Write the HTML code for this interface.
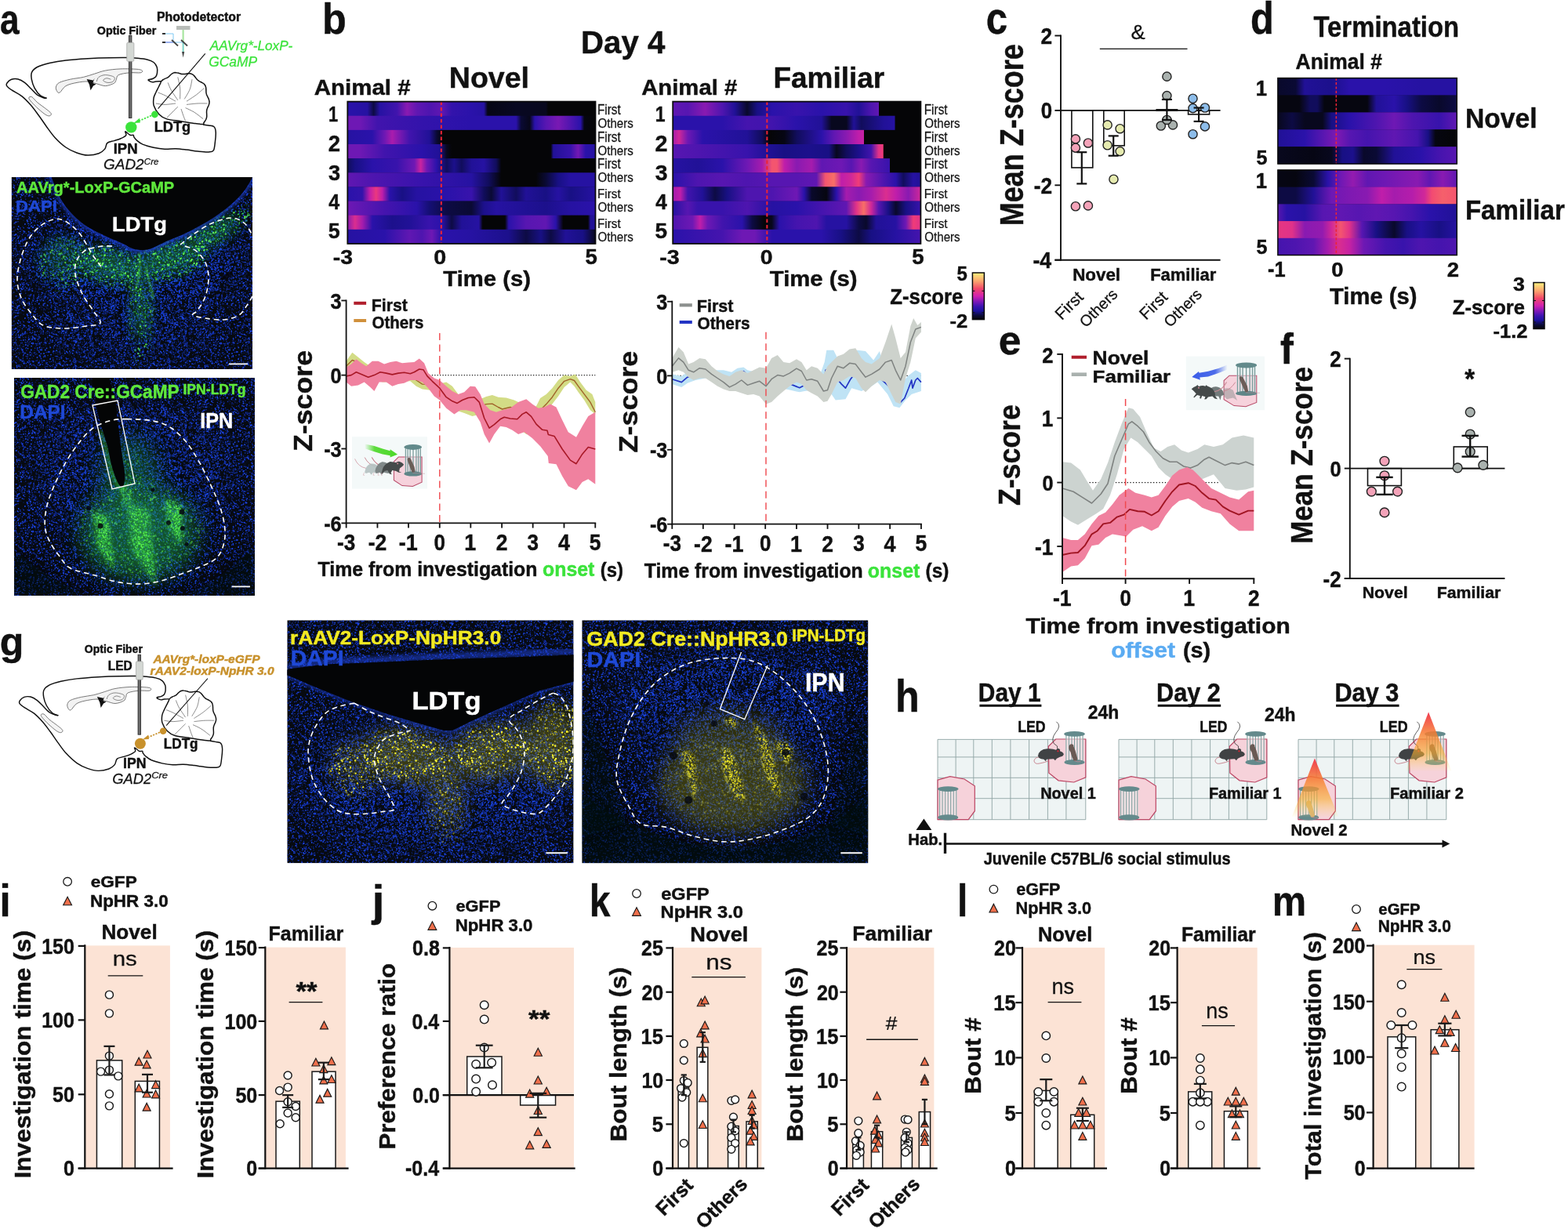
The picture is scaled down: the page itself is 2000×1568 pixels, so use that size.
<!DOCTYPE html>
<html lang="en"><head><meta charset="utf-8"><title>Figure</title>
<style>
html,body{margin:0;padding:0;background:#fff;}
svg{display:block;}
text{font-family:"Liberation Sans",sans-serif;}
</style></head><body>
<svg xmlns="http://www.w3.org/2000/svg" width="2000" height="1568" viewBox="0 0 2000 1568">
<defs>
<pattern id="pB" width="120" height="120" patternUnits="userSpaceOnUse"><path d="M16.1 101.7h0M91.7 30.6h0M59.5 53.9h0M78.2 94.6h0M11.3 3.4h0M100.3 51.9h0M91.5 0.3h0M53.4 86.6h0M27.5 113.4h0M108.2 3.7h0M3.1 65h0M112.7 45.7h0M26 50.7h0M3.5 26.6h0M52.5 59.5h0M28 27.7h0M26.3 55.2h0M34.8 2.6h0M100.5 66.8h0M77.1 22.3h0M119.1 103.2h0M14.5 39.9h0M86.6 85.3h0M112.4 50.7h0M99.6 80.4h0M36.4 70.5h0M105.9 101.5h0M60.6 70.7h0M4.1 29.1h0M95.7 49.7h0M20.8 65.9h0M84.4 80.9h0M45 52.7h0M61 93.4h0M62.5 47.2h0M58.8 3.5h0M5.2 84.4h0M118 71.2h0M47.2 20.4h0M60.3 117.8h0M92.5 64.8h0M103.2 27.9h0M61.7 114.3h0M69.3 55.1h0M32.3 65.8h0M114.9 0.7h0M94 98.5h0M106.3 88.9h0M97.1 62.2h0M67.4 51.1h0M6.7 104.4h0M68.4 24h0M60.6 58.2h0M42.8 41.5h0M64.6 74.8h0M73.5 55h0M3.4 27.6h0M21.3 70.1h0M103.3 95.8h0M95.7 98h0M30.6 101h0M80.8 10h0M2 1.7h0M90.7 29.9h0M13.1 75h0M41.3 8.3h0M19.2 63.3h0M20.2 32.7h0M85.4 54.6h0M38.6 56.9h0M2.8 46.4h0M50.5 22.6h0M13.1 108h0M61.2 25.1h0M72.7 98h0M2.5 2.1h0M17.6 86.3h0M19.2 84.6h0M81.4 65.4h0M26.5 117.1h0M95.7 62h0M26.8 77.8h0M47.4 69.1h0M38.5 75.7h0M7.1 35.8h0M116.1 105.1h0M36.8 103h0M37.2 112.7h0M89.3 49.9h0M30.3 1h0M105.4 4.5h0M98.3 115.5h0M68.4 20.6h0M104.1 116.9h0M84.5 61.1h0M45.4 41.6h0M24.7 80.9h0M52 23.3h0M12.5 79.9h0M35.5 60h0M39 104.6h0M108 2.2h0M24.1 39.3h0M118.4 93.9h0M40.7 25.6h0M80.9 100.5h0M111.9 41.3h0M105.9 82.5h0M58.1 118.3h0M28.2 87.1h0M10.2 20.4h0M109.3 25.6h0M91.1 72h0M100.9 44.2h0M40.8 34.9h0M104.1 72.5h0M114.5 106.5h0M16.2 66.1h0M12.5 4.7h0M8.8 103.9h0M94.6 99.4h0M40.9 73.8h0M93.8 45.4h0M68.5 26.8h0M9.8 32h0M106.9 67.7h0M111 54.9h0M33.3 94.4h0M99.3 1.5h0M80.4 11h0M13.8 106.2h0M4.8 28.8h0M118.6 50.5h0M13.9 20.1h0M29 89.3h0M12.3 109.3h0M45.4 116.4h0M109.1 35.3h0M30.4 57.2h0M12 78.2h0M4.8 1.3h0M117.9 35.5h0M71.6 54h0M37.6 7.6h0M109.6 116.4h0M116.4 13.4h0M25.8 74.1h0M117.6 65.1h0M82.6 79.4h0M31.1 65h0M36.9 29.6h0M9.8 33.7h0M118 53.7h0M78.2 77.2h0M112.9 46.9h0M36.8 39.3h0M38 101.7h0M107.2 36.3h0M40.1 65.3h0M69.5 71.5h0M29.4 2.4h0M29.3 8.7h0M66.1 8.5h0M9 76.2h0M34.9 95.1h0M59.2 103.5h0M18.5 60.2h0M95.4 9.3h0M113.9 20.8h0M93.1 118.2h0M98.6 38.4h0M12.8 61.7h0M110.3 35.2h0M107.3 17h0M109.3 3.8h0M37.9 108.4h0M96.5 108.9h0M100.9 89.5h0M82.8 21.4h0M51.9 18.9h0M85.8 80.1h0M30.3 7.7h0M115.6 97h0M65.9 65h0M102.2 54.4h0M47.5 40.6h0M31 2.9h0M77.6 50h0M68.5 7.5h0M42.6 16.6h0M15 31.1h0M99.5 47.7h0M48.1 73.5h0M28 0.9h0M63.4 60.1h0M77.9 52.6h0M82.4 87.8h0M28.6 59.4h0M57.5 27h0M49.5 67.2h0M108.8 110.1h0M33 77.6h0M5.8 8.6h0M61.4 105.3h0M19.1 91.9h0M106 37.4h0M83.1 101.9h0M44.6 84.2h0M88.4 71.3h0M102.8 107.6h0M115.2 68.5h0M21.2 30.1h0M26.1 68.3h0M90.9 6.3h0M81.8 86.1h0M41.8 61.8h0M19.8 87.6h0M4.9 117.7h0M97 75.4h0M32.1 109.5h0M115.1 16.7h0M93.1 101h0M79.2 84h0M53.4 110.9h0M116.5 45.9h0M96.3 52h0M19.8 39.1h0M15.2 109.1h0M115.1 14.3h0M72.1 49h0M14.2 35.5h0M29.8 89.9h0M0.5 22.8h0M52.7 2.5h0M75.3 72.7h0M100.2 24.8h0M34.2 65.1h0M32.8 70.3h0M30.1 82h0M94.9 97h0M116.8 65.4h0M58.9 102.7h0M92.3 68.5h0M46 34.1h0M13 96.9h0M14.2 89.7h0M65.4 115.8h0M91.3 116.8h0M16.4 60h0M68.7 37.4h0M60.4 42.8h0M63.4 0.1h0M53.1 53.9h0M36.6 47.9h0M94 82h0M59.1 77.7h0M45.3 24.5h0M0.5 33.3h0M71.8 105.8h0M99.5 61.3h0M118.4 55.4h0M100.2 49.1h0M89.4 118.5h0M36.6 20.4h0M74.4 63.7h0M43.1 0.4h0M46.7 51.1h0M48.6 103.3h0M70.1 88.1h0M107.7 89.9h0M59.1 89.5h0M76.8 77.8h0M75.6 48.8h0M75.5 76h0M112.5 93.9h0M101.6 92.1h0M97.8 72.7h0M41.9 31.7h0M85 104.9h0M65.3 18.2h0M100 58.1h0M56.1 5.4h0M61.2 89.4h0M50.7 42.6h0M78.8 2.4h0M60.9 113.5h0M82.9 48.2h0M82.7 72.6h0M25.1 24.9h0M106.3 32.3h0M9 99.7h0M62.8 44.2h0M61.4 88.4h0M20.2 78.4h0M85.6 97.8h0M32.4 73.2h0M27.9 67.3h0M20.7 94.8h0M104 39.6h0M26.7 115.7h0M84.8 101.3h0M3.7 107.9h0M74.7 38h0M51.8 91.4h0M94.2 22.8h0M75.1 19.9h0M116.8 53.2h0M109.6 87.4h0M72.8 31.4h0M63.2 16.6h0M16.6 85.9h0M43.3 90.2h0M28.9 86.2h0M86.2 36.7h0M12.8 47.6h0M59.1 12h0M22.4 6.6h0M71.7 106.7h0M26 4.2h0M84.5 97.8h0M115.7 73.6h0M41.1 100.5h0M14.2 83.1h0M11.4 48h0M59.4 45.3h0M20.2 27.8h0M98.4 55.5h0M69.6 25.4h0M85.8 39.6h0M71.2 109.1h0M119.3 5.5h0M95.7 102.9h0M38.3 46h0M69.6 110.3h0M48 105.6h0M91 18.3h0M109.6 1.8h0M17.4 79.8h0M6.9 45.5h0M15.6 55.5h0M100.8 108.7h0M4.3 7.3h0M100.9 5.1h0M32.8 14.1h0M10.9 3.3h0M76.5 89.4h0M82.4 101.5h0M79.6 46.8h0M75.7 116.4h0M77 29.2h0M7.2 112.2h0M70.9 42h0M72.6 67.2h0M62.7 7.3h0M42.4 49.5h0M23.9 105.6h0M50.9 79.5h0M85.6 89.2h0M86.5 90.3h0M30.2 117.2h0M18.1 110.2h0M102.5 102.3h0M6.3 10.9h0M97.6 56.3h0M44.4 118.2h0M4.8 63.8h0M53.2 15.4h0M47.4 84.9h0M105.9 3h0M62.9 10.8h0M96 10.3h0M4.1 46.1h0M87.9 37.6h0M15.6 95.3h0M96.8 102.7h0M36.4 51h0M29.4 66.9h0M39.6 40.6h0M94 114.8h0M70.1 12.6h0M78.3 53.8h0M118.6 86.3h0M100.2 84.2h0M64.3 107.6h0M99.8 35h0M18.8 44.4h0M62.5 11.7h0M41.4 69h0M5.2 97.8h0M78.1 37.6h0M35.8 42.3h0M39 89.8h0M60.1 63.1h0M17.9 109.7h0M39.1 39.3h0M8.3 117.5h0M57.6 109.5h0M111.3 116.4h0M97.9 111.1h0M110.7 96.2h0M16.1 62.8h0M69.1 119.1h0M94.1 84.3h0M89.6 43.4h0M113.1 77.2h0M48.3 55.7h0M117.6 63.9h0M20.1 17.8h0M82.5 67.5h0M108.8 22.2h0M49.3 87.4h0M6 11.9h0M65.5 31.9h0M12.8 31.4h0M75.9 63.2h0M9.4 8.7h0M102.1 77.2h0M20.8 103.4h0M2.6 44.2h0M101.7 85.2h0M34.1 107h0M71.8 103.9h0M107.1 51.1h0M81.1 65.3h0M113.4 95.8h0M87.1 97.7h0M119.8 30.8h0M24.2 89.6h0M92.4 61.7h0M58.4 48.4h0M105.9 95.5h0M70.2 4.8h0M102.1 55h0M22.8 35.9h0M83 0.7h0M14.4 36.3h0M106.5 89.6h0M116.5 65.2h0M68.6 66.2h0M63.1 65h0M98.2 114.4h0M49 75.6h0M36.9 36.2h0M60.8 70.4h0M66 117.2h0M19.6 76.4h0M119.3 88.3h0M67.9 44.2h0M48.3 112.4h0M107.4 80.4h0M107.8 111h0M101.6 46h0M55.7 95.5h0M44.7 89.9h0M57.8 40.4h0M54.7 14h0M42.5 49.8h0M2.2 20.6h0M31.2 102.9h0M70.7 34.5h0M119.7 31h0M61.7 88.7h0M83 52h0M93.2 58.3h0M85.9 59h0M116.6 85.9h0M11 15.5h0M116 27.5h0M3.1 30.4h0M57.6 114.3h0M47.9 86.8h0M100.1 10.7h0M73.4 119.5h0M66 64.1h0M41.6 113.5h0M116.4 12.4h0M66.3 50.4h0M80.6 14.2h0M31.8 33.5h0M57.6 95.2h0M102.9 94.4h0M81.2 10.5h0M46.8 80.2h0M35.3 60.9h0M108.6 13.9h0M102.5 12.7h0M46.4 108.6h0M24.1 62.5h0M50 106.6h0M119 34.6h0M59.1 107.4h0M65.4 25.8h0M91.2 40.5h0M58.3 1h0M118.7 78.9h0M111.1 116.2h0M32.1 64.9h0M52.8 91.2h0M101.1 27.4h0M32.9 84.8h0M49.4 15.6h0M23.4 67.3h0M71.8 115.2h0M63.9 73.1h0M17.9 49.7h0M33.6 83.5h0M32 25.7h0M44.1 56.5h0M40.6 72.7h0M21.7 105.6h0M83.3 64.2h0M7 39.1h0M82.8 77.4h0M97.4 107h0M37.8 59.2h0M39.6 15.4h0M16.8 30.8h0M10.6 64.7h0M84.4 67.6h0M82.2 27.1h0M23.9 68.1h0M106.1 50.7h0M0.5 2.4h0M36.6 73.8h0M10.1 26.9h0M81.7 118.2h0M40.9 72.1h0M62.2 2.8h0M39.6 16.7h0M30.1 92.4h0M81.7 4.9h0M9.3 87h0M12.4 38h0M32.3 6h0M3.7 16.7h0M47.9 112h0M76.6 29h0M81.6 32.8h0M61.8 38.6h0M113.8 42.3h0M96.4 76.9h0M101.2 72.7h0M104.4 48.6h0M81.5 74.5h0M63.3 67.7h0M64.3 47.3h0M107.8 75.9h0M65.9 6.5h0M61 21h0M25.8 52.2h0M65.5 30h0M32.5 63.6h0M56.8 48.4h0M12.5 44.8h0M78.5 65.3h0M65.4 101.3h0M86.8 82.2h0M3.6 37h0M81.9 18.7h0M109.6 17h0M105.5 26h0M101 101.8h0M40.3 106.6h0M19.2 101.9h0M45.8 52.8h0M14.1 72.1h0M32.4 80h0M95.9 72.4h0M1 114.3h0M110.4 77.2h0M45.5 67.4h0M105.9 55.1h0M93.5 71.8h0M50.7 112h0M49 72.7h0M6.4 56.5h0M4.5 84.5h0M0.1 5h0M13.3 16.7h0M61 42.8h0M32.5 118h0M109.1 78.6h0M96.3 98.4h0M29.4 97h0M28.8 67.5h0M42.9 19h0M93.2 110h0M37.6 105.6h0M41.6 78.9h0M119.5 92.6h0M6.7 52.2h0M45.2 35.3h0M97.9 52.9h0M83.9 76.2h0M62.3 6.7h0M80.8 107h0M20.7 77.1h0M58.5 40.9h0M85.3 117h0M2.6 107.7h0M46 100.1h0M21 86h0M12 40.3h0M116.4 78.8h0M94.1 55.4h0M56.5 59.1h0M92.8 86.8h0M23.3 52.9h0M65 68.6h0M111.2 100.8h0M18 45.1h0M13.1 3.1h0M9 22h0M91.9 80.1h0M95.7 34.6h0M18.7 116.7h0M99.1 113.6h0M2.3 47.6h0M76.1 88.3h0M109.5 64.5h0M46.9 0.6h0M96.5 117.9h0M108.9 79.5h0M41.1 28.7h0M93 112.3h0M115.2 21.1h0M70.2 61.6h0M51.3 95.3h0M112.3 87h0M84 82.9h0M78.4 64.4h0M29.7 93.5h0M14.3 77.3h0M46.4 67.2h0M77 57.5h0M117.4 28.7h0M1.5 114.6h0M37.4 33.4h0M49.9 71.4h0M118.3 84.9h0M38.2 64.2h0M53.8 60.2h0M50.1 20.1h0M47.5 46.7h0M24.1 98h0M43.2 18.2h0M68 101.4h0M93.7 74.6h0M87.7 40.3h0M17.1 30.6h0M41.9 33.5h0M56.1 17.9h0M15.6 30.3h0M23.6 96.2h0M64.5 23.8h0M51.5 104.6h0M69.3 66.5h0M47 23.5h0M75 9.3h0M94.3 6.9h0M89.6 45.9h0M81.9 70.9h0M15.5 64.6h0M8.9 28.9h0M45.8 34.3h0M79.4 118.4h0M42.8 100.6h0M27 85.1h0M41.7 64.2h0M10.6 99.3h0M25.1 55.6h0M34.8 97.2h0M71.1 73.8h0M90.6 30.6h0M7 99.4h0M37.9 97.5h0M114.8 75.5h0M12.4 102.5h0M76 29.5h0M24.9 60.9h0M14.6 108.7h0M84.9 98.3h0M46.1 110.8h0M16.1 86h0M30.6 0.4h0M14.5 24.2h0M91.6 45.4h0M57.8 73.6h0M32.1 76.6h0M80.6 110.6h0M60.3 102.6h0M116.1 92.3h0M50.5 32.6h0M11.7 99.7h0M15.6 67.1h0M54.5 5.4h0M25.7 98.7h0M64.6 110.9h0M109 11.3h0M81.4 5.1h0M50.7 53h0M114.8 71.4h0M22.8 61.2h0M62.6 23.6h0M43.2 105.3h0M117.8 93.2h0M7.7 108.7h0M55 100.1h0M21.2 17.7h0M108.8 34.3h0M5.2 60.1h0M118.9 100.3h0M47.6 119.2h0M95.6 101h0M77.5 47.3h0M108.7 56.5h0M112.2 66.3h0M109.2 57.3h0M51.2 70.6h0M38.1 17.9h0M70.7 102.1h0M33.3 103.8h0M94.5 93.1h0M49.8 119.9h0M94.9 69.1h0M13.6 68.9h0M1.7 108.3h0M40.4 44.2h0M66.1 76.5h0M69.9 58.2h0M76.1 101.7h0M53.5 60h0M97.2 0.4h0M19.3 39h0M25.7 107.5h0M17.8 12.9h0M38.1 61h0M98.6 119.5h0M102.2 73.1h0M4.5 7.6h0M75.7 98.4h0M31.9 116.3h0M66 68.9h0M74.2 9h0M20.4 112.3h0M32.1 10h0M33.9 87.1h0M31.5 25.3h0M33.3 57.7h0M88.5 36.2h0M104.8 117.1h0M98.6 9h0M37.9 111.1h0M103.1 16h0M53.1 43.7h0M89.7 3.4h0M37.9 90h0M106.4 4.9h0M70.6 79.6h0M104.8 50.9h0M116.8 23.7h0M13.8 15.6h0M70.4 14.7h0M32 23.6h0M6.6 115.5h0M40.2 115.7h0M86.8 26.4h0M111.9 1.1h0M117.8 3.9h0M30.4 66.2h0M1.1 91.8h0M10.2 98.1h0M4.2 63.4h0M25.1 34.7h0M58.9 44.6h0M47 78.4h0M23.4 21.8h0M82.1 35.6h0M112 51.1h0M56.9 2.8h0M2.5 12.6h0M75.1 79.7h0M114.3 51.9h0M84.9 41.2h0M8.9 50.4h0M84.2 96.5h0M114.2 99.9h0M67.6 66h0M60.1 57.3h0M81.7 69.1h0M102.9 54h0M56.5 99.8h0M81.1 62.9h0M67.6 96.7h0M72.9 31.1h0M37.2 72.6h0M5.5 54.9h0M107 27.9h0M53.3 83.9h0M111.1 83.6h0M75.1 46.1h0M52.5 77h0M42.8 94.2h0M1 90.2h0M89 36.8h0M1.8 40.6h0M70.7 94.4h0M104.4 25h0M9.8 14.4h0M118.7 77.5h0M15.4 82.9h0M115.1 72.9h0M27.9 115.5h0M84.1 22h0M91.9 60.5h0M68.9 43.9h0M35.3 50.5h0M63.2 55.4h0M104 8.9h0M23.9 112.5h0M72.9 74.1h0M75.6 29.2h0M47.4 25.2h0M18.2 118.7h0M89.3 105.5h0M0.2 84.5h0M36.9 59.7h0M81 3.7h0M44.5 66.5h0M104.9 61.6h0M38.1 72.5h0M70 35.1h0M65.8 33.1h0M1.4 37.3h0M10.4 59h0M60.1 104.4h0M89.7 89.9h0M118.8 31.8h0M44.7 27.7h0M12.3 61.8h0M61.4 15.6h0M110.7 117.4h0M8.2 0.4h0M7.4 87.8h0M102.3 7.9h0M1.1 64.6h0M39.9 2.2h0M1.1 25.4h0M24 35.4h0M66.1 30.2h0M28 25.3h0M106.4 28.6h0M66.6 54.3h0M39.8 48.8h0M1.9 22.2h0M76.8 91.4h0M26.2 21.2h0M108.7 11.7h0M95.4 105.4h0M17.6 100h0M18 5.2h0M34.3 41.3h0M70.7 53.1h0M95.2 79.8h0M14.3 24.3h0M89.5 13.9h0M114.3 97.4h0M26.4 34.3h0M30.3 50.7h0M29.8 3.9h0M30.2 23.4h0M42 54.5h0M104.9 79.1h0M73.9 103.7h0M46.4 51.1h0M29.3 99.6h0M105.3 109.3h0M72.6 13.7h0M8.7 95.7h0M106.3 63.9h0M110.5 111.7h0M90.6 44.5h0M54.8 42.2h0M47.5 56.6h0M2.1 15.3h0M20.2 68h0M104.6 85.4h0M17.9 54.9h0M75.3 16.2h0M9.6 73.4h0M28.3 77.4h0M20.6 102.7h0M37.2 51.4h0M66 106.4h0M110 101.4h0M82.1 8.3h0M22.4 64.2h0M118.2 87.1h0M23 42.7h0M115.5 60.9h0M104.4 103h0M93.8 75.2h0M79.9 41h0M14.4 113.8h0M3.9 32.5h0M73.7 115.8h0M25.2 29.6h0M101.7 39.2h0M48.4 43.2h0M5.9 113h0M83.7 0.8h0M11.7 16.3h0M44.3 106.8h0M16.9 27.4h0M37.4 61.3h0M108.1 64.7h0M108.4 65h0M51.9 104.6h0M69.7 57h0M61.5 42.7h0M52 8.9h0M24.6 91.6h0M16 25h0M19.6 43.5h0M5.9 43.2h0M73.2 81.4h0M104.1 10.4h0M77.3 23.6h0M41.1 69h0M100.6 80.5h0M118.2 2.2h0M37.9 57.6h0M4.3 6.3h0M44 67.1h0M16.3 8.2h0M38.3 89h0M68.1 119.6h0M72.6 106.8h0M68.7 57.7h0M49.9 8.6h0M7.6 79h0M103.1 2.3h0M21.6 39.3h0M37.6 100.1h0M30.3 36.7h0M58.5 114.1h0M35.3 76h0M5.8 51.8h0M111.3 26.1h0M42.8 78.5h0M67.9 69.1h0M73 81h0M38.7 42.2h0M47.6 62.7h0M68 104.9h0M47.5 53.9h0M99.9 116.5h0M29.1 87.7h0M29.7 88.9h0M4.6 60.9h0M68.4 84h0M110 95.4h0M67.6 59.7h0M1.6 66.3h0M67.5 89.1h0M19.8 70.6h0M6.2 87.1h0M98.6 52.5h0M82.5 79.5h0M36.4 10.6h0M91 42.8h0M19.4 53.1h0M100 114.5h0M68.1 116.4h0M20.8 58.9h0M1 28.1h0M105.2 7.1h0M78.5 61.1h0M118.5 119.2h0M14.8 31.4h0M119 39.6h0M21.7 109.4h0M74.1 37h0M66.5 51.3h0M55 66.3h0M20.4 73.9h0M114.6 71h0M94.5 33.9h0M18.6 0.8h0M117.8 14.3h0M45.6 78.6h0M88.2 74.2h0M52.7 97.8h0M53.1 100.2h0M6.5 86.6h0M11.7 46.5h0M53.2 21.8h0M53.9 102.3h0M4.4 23.3h0M117.1 54h0M46.8 109.5h0M93.1 20.8h0M71.7 21.6h0M93.1 66.8h0M95.8 7.8h0M111.4 27.6h0M102 53h0M106.7 12.2h0M6.5 56.2h0M111.7 55.8h0M60.9 19.7h0M64.9 51.3h0M106.5 88.9h0M57.3 17.9h0M17.5 116.5h0M73.3 27h0M97.3 25.9h0M54.5 105.3h0M12.4 12.4h0M6.3 18.2h0M44.9 38.6h0M33.6 1.7h0M58.5 53.4h0M88.9 36.4h0M69.7 37.6h0M90.4 20.9h0M58.7 53.5h0M55 64.6h0M64.3 38h0M98.9 114.2h0M67.1 76.3h0M86.8 38.4h0M71.1 55.5h0M58.1 47.3h0M64.4 26.2h0M28.9 24h0M71.3 29.4h0M93.7 108.6h0M91.2 39.4h0M113.1 41.3h0M43.4 71.4h0M79.3 49.1h0M94.4 102.4h0M34.6 27h0M47.7 83.8h0M80.4 21.1h0M46.6 108.2h0M115.2 72.5h0M93.6 100.8h0M26.7 7.9h0M73.4 46.2h0M85.3 35.2h0M52.1 97h0M11.2 48.9h0M18.4 64h0M87.9 118.5h0M90.4 17.3h0M52.4 65.1h0M76.5 84.1h0M116.8 113.1h0M25 19h0M116.4 19.3h0M116.2 14.4h0M70.2 15.6h0M16.1 40.1h0M95.2 84.3h0M38.1 16.5h0M43 20.9h0M28.2 59.6h0M58.6 110.7h0M10.8 63.9h0M67.8 17.1h0M43.3 16.5h0M107.2 41.8h0M7.8 57h0M63.5 106.5h0M86.3 24.7h0M109 0.6h0M83.7 5.1h0M98.4 22.7h0M95.7 97.6h0M92.6 13.2h0M48 12.6h0M86.2 119.3h0M62.7 78.2h0M80 17.1h0M44.6 41.9h0M90.1 49.4h0M44.2 65.9h0M24.7 7.8h0M28.6 2.5h0M80.3 54.8h0M74 68.1h0M6.5 97.8h0M98.3 0.9h0M51.6 94.3h0M49.9 103.2h0M83.4 79.3h0M108.7 93.5h0M70.2 5.7h0" stroke="#1438dc" stroke-width="1.45" stroke-linecap="round" fill="none" opacity="0.9"/><path d="M114.7 113.7h0M6.8 10.2h0M100.3 88.3h0M80.4 37h0M72.7 72.8h0M69.7 19h0M51.7 47.2h0M86.8 119.4h0M113.9 65.3h0M53.4 32.2h0M4.3 3.3h0M55.8 38.2h0M45.6 107h0M63.1 67.3h0M28.3 2.9h0M39 16.4h0M61.2 119.8h0M80.9 21.8h0M107.2 95.6h0M88.1 108.8h0M91.5 94.8h0M42.5 117.7h0M115.4 19.3h0M90.5 85.8h0M55.4 63.6h0M58.8 111h0M60.1 99.8h0M42.5 105.9h0M108 55.3h0M68.1 110.4h0M86.9 58.4h0M26.6 39h0M83.9 19.9h0M109 32.2h0M109.4 37.1h0M114.9 84.7h0M60.5 62.1h0M78.2 70.6h0M37.4 24.9h0M61.4 112.1h0M74.8 9h0M98.4 87.1h0M108.9 23h0M89.4 7.1h0M78.3 32.8h0M27.2 105.1h0M12.8 62.7h0M102.5 29.4h0M25.3 105.7h0M50.8 86h0M3.8 43.5h0M20.6 80.7h0M9.9 114.5h0M3 87.5h0M2.5 30.7h0M97.6 18.9h0M22 83h0M46.3 5.2h0M118.8 18.2h0M4.4 41.3h0M73.8 89.1h0M13.6 40.5h0M3.7 53.8h0M91.9 88.8h0M108.2 90.7h0M103.5 84.6h0M56.7 27.1h0M79.3 38h0M12.2 53.7h0M105 15.3h0M70.2 47.2h0M61.8 17.3h0M115.2 31.1h0M72.7 50.4h0M2.2 67h0M16.9 6.8h0M4 19.3h0M11.5 76.2h0M61 118h0M112.1 119.3h0M27.9 53.4h0M30.1 70.9h0M74.9 96h0M85.1 30.8h0M50.8 63.1h0M0.6 4.3h0M49 13.3h0M86.9 28.9h0M12 21.8h0M27.8 26.1h0M62.5 55.7h0M37.2 77h0M25.5 108.8h0M115.6 87.5h0M52 61.4h0M69.7 6.1h0M50.2 63h0M21.7 11.3h0M96.3 43.9h0M62.3 110.6h0M73.3 34.7h0M118 44.7h0M2.3 82.2h0M12.1 36.7h0M100.9 80.7h0M1.9 54.2h0M49.3 58.3h0M25 70.6h0M8.9 34.1h0M44.7 112.2h0M9.2 90.6h0M23.1 68.6h0M47 55.6h0M90.4 47.4h0M14.6 14.6h0M9.7 102h0M76.9 115.2h0M83.1 3h0M79.1 93.3h0M86.8 59.8h0M42.9 54.8h0M95.8 32.3h0M63.2 57.3h0M114.6 96.5h0M111.8 100.3h0M35.6 27.8h0M58.7 31.1h0M51.3 81.5h0M110.2 70.3h0M98.1 11.5h0M42.7 119.7h0M17.6 50h0M8 10.3h0M107.5 118.6h0M77.8 15.4h0M35.6 27.8h0M80.5 81.7h0M52.7 62.9h0M13.4 64.9h0M114 90.7h0M11.5 62h0M85.8 30.9h0M107.4 55.3h0M84.4 48.5h0M119.4 93.9h0M68.8 17.4h0M52.9 3.5h0M71.4 105.8h0M21.7 61.2h0M57.9 48.6h0M85.3 112.4h0M84.6 56.7h0M115.4 39.7h0M89.5 79h0M91.4 102.2h0M27 74.5h0M48.3 80h0M117.3 76.2h0M1.4 55.7h0M85.4 106h0M78 97.9h0M2.1 113.2h0M87.5 72.8h0M108.6 106.2h0M12.1 97.9h0M92 23.9h0M89.3 70.3h0M23 96.5h0M16.5 73.5h0M52.1 30.4h0M67.9 56.1h0M24.6 116h0M8.7 0.4h0M58.3 100.5h0M79 90.6h0M58.2 81h0M40.2 32h0M60.3 3.3h0M9.6 90.5h0M20.8 90h0M94.1 48.5h0M81 94.5h0M103.7 16.2h0M19.5 45.8h0M55.8 35.4h0M1.2 66.9h0M116 44h0M64.6 45.9h0M53.1 104.5h0M37 77.9h0M58.1 64.6h0M109.8 9.2h0M98.9 36.5h0M77.6 95.5h0M78.4 47.2h0M100.9 11.2h0M76 46.9h0M63.7 102.1h0M95.7 75.5h0M37 27.9h0M54.9 27.9h0M33.3 114.9h0M13.4 98.2h0M45.5 43.8h0M38.2 9.3h0M54.9 20h0M53 35h0M107.3 110.6h0M53 76.8h0M111.6 39.1h0M11.9 28.5h0M22.7 81.4h0M44.9 42.7h0M95.4 28h0M97 75.9h0M48 98.8h0M41.1 105.4h0M111.1 60.3h0M82.8 113.9h0M89.1 90.1h0M104.3 112.3h0M90.4 117.5h0M35 74.7h0M80.5 44.1h0M47.4 21h0M114.9 42.5h0M57.2 107.2h0M22.4 115.3h0M15.2 3.4h0M42.1 43.1h0M110.1 106h0M91.4 52.4h0M65.1 28.4h0M100 46.8h0M34.2 76.5h0M18.1 38h0M111.1 11.4h0M17.1 24.5h0M30.1 50.4h0M30 41.1h0M29.6 28.8h0M73.3 40.4h0M44.7 92.1h0M7.4 17.3h0M102.1 51.6h0M93.5 15.9h0M62.8 101.4h0M40.6 92.2h0M73.2 47.3h0M119.7 47.1h0M56.9 74.3h0M38 100.5h0M71.7 70.6h0M64.6 118.2h0M118.7 100.9h0M54.5 49.4h0M63 5.5h0M13 119.4h0M15.4 112.5h0M81.6 109.8h0M9.3 36.7h0M95.8 1.1h0M12.7 42.1h0M20.8 17.6h0M80.4 11h0M116.6 77.9h0M6 107.8h0M29 57.8h0M67.1 16.6h0M60.3 7.2h0M24 110.2h0M98.6 62.7h0M81.8 105.1h0M16.8 59.1h0M15.8 14h0M13 25.4h0M6.4 25.8h0M45.5 74.7h0M103 108.5h0M86.1 60.9h0M110 19.6h0M12.7 98.1h0M75.3 25.2h0M45.3 35.7h0M51.7 51.3h0M47.8 95.7h0M97.4 67.5h0M56.7 34.1h0M91.8 118.4h0M27.5 84.4h0M83.9 79h0M3.7 66.2h0M24.2 23.3h0M69.6 77.4h0M75.1 89.1h0M84.3 57h0M5.7 92.7h0M98.8 100.3h0M71.8 4.6h0M23.5 13h0M76.3 65.3h0M22.4 114.7h0M117.4 107.9h0M55.7 35h0M25.1 98.9h0M84.1 33.3h0M108.3 68.3h0M49.5 49.9h0M86.5 54.6h0M79.1 14.6h0M84.3 32.7h0M109.3 25.7h0M40 64.6h0M47.1 63.1h0M110.9 24.1h0M92.7 83.2h0M94.3 53.7h0M54.5 41.5h0M56.8 30.5h0M22.9 57.1h0M23.1 56.3h0M68.8 37.1h0M20.5 72.6h0M103.2 26.7h0M73.9 79h0M106.2 81.9h0M36.9 24.9h0M100.4 35.9h0M1.5 104.5h0M23.7 37.6h0M38.3 30.7h0M86.9 41.1h0M52.9 50.3h0M100 2.2h0M69.6 15.8h0M18.1 72.8h0M45.1 7.8h0M70.6 109.7h0M77.4 59.5h0M96.1 109.9h0M18.2 35.9h0M115.8 111.1h0M24.3 84.4h0M104.9 71h0M84.3 62.9h0M28.2 25.6h0M7.4 79.9h0M16.6 74.6h0M46.9 52.3h0M116.5 47h0M57 45.6h0M25.8 26.9h0M63.9 98.1h0M10.9 113.5h0M80.9 6.5h0M84.8 48.2h0M61.8 12.1h0M61.2 62.4h0M93.9 69.7h0M84.6 88.1h0M26.5 3h0M57.4 15.5h0M17 38.6h0M64.5 73.9h0M77.6 113.1h0M12.3 67h0M10.4 80.4h0M52.5 16.8h0M37.3 79.3h0M56.8 113.3h0M42.6 40.8h0M110.7 72.7h0M12.8 94.1h0M43.6 113.7h0M76.3 96.6h0M107.5 61.1h0M116.1 3.1h0M40.8 100.5h0M1 80.7h0M119.9 85.8h0M103.5 9.2h0M64.8 73.2h0M52.3 50.3h0M94.9 19.5h0M5.4 71.2h0M116 99.3h0M80.8 35.4h0M108.5 4.8h0M29.6 94.6h0M107.4 48.3h0M109.1 13.3h0M71.6 8.1h0M28 22.8h0M0.8 48.6h0M60 33.7h0M78.2 6.3h0M62.1 63.3h0M48.4 109.8h0M15.2 51.2h0M55.2 44.7h0M116.8 68.6h0M62 52.8h0M52.5 114.1h0M95.9 77.7h0M19.5 71.3h0M15.3 42.1h0M2.8 84.6h0M117.3 76.5h0M68.4 30h0M53.1 55.7h0M50.8 32.3h0M26.3 90.1h0M114.3 98.6h0M74.6 3.3h0M36.3 100.8h0M116.7 65.7h0M68.3 82.4h0M29.7 85.5h0M43.8 101.6h0M55.4 79.6h0M66.7 64.2h0M55.3 114.3h0M90.6 50.4h0M60.6 107.7h0M89.6 78.4h0M115.1 14.1h0M71.8 74.9h0M54.6 115.6h0M116.1 46.9h0M74 91.9h0M83.5 43.5h0M95.8 41.9h0M17.6 79.7h0M77.9 49h0M59.9 118.6h0M97 48.8h0M109.4 68.4h0M48.6 77.6h0M94 107.6h0M80.4 80.1h0M48.1 4.8h0M54.6 13.7h0M113.1 43.5h0M72.6 88h0M21.4 100h0M39.1 9.7h0M72 48.3h0M110.3 53.4h0M11.3 2.2h0M3.6 59.2h0M85.7 6.2h0M39.6 57.4h0M107.7 116.5h0M105 76.7h0M69 26.8h0M73.5 19.9h0M36.4 99.6h0M68.2 87.1h0M55.8 33.5h0M60.4 68.8h0M29 101.5h0M117.7 21.7h0M29.1 97.4h0M86.6 27h0M70.3 28.6h0M103.5 70.5h0M61.3 19.4h0M48.7 56.8h0M43.4 21.6h0M23.8 84h0M111 101.3h0M73.8 94.9h0M16 25.2h0M84.4 0.2h0M10.1 93.5h0M23.6 22.2h0M47.5 100.4h0M1.2 105.3h0M36.6 68.5h0M56.7 14.6h0M115 21.1h0M96.6 105.5h0M54.5 115.2h0M7.5 17.7h0M58.1 9h0M96.9 63.2h0M95.9 34.4h0M3.3 106.8h0M25 50h0M15.1 70.4h0M55.7 23.8h0M4.7 40.5h0M94 18.5h0M27.4 74.2h0M76.2 96.5h0M77.4 102h0M18.6 110.6h0M3.5 14.3h0M12.4 93h0M60.6 110.6h0M117 114.3h0M73.7 42.2h0M114.9 87.9h0M23.5 66.4h0M2.4 2.1h0M76.7 86.3h0M103.3 90.4h0M16.4 88.6h0M117.7 81.2h0M57.7 35.4h0M7.6 75h0M115.4 13.8h0M98.5 107.7h0M42.3 101.5h0M18.7 36.1h0M68 105.5h0M64.3 10.7h0M111.6 68.6h0M93.5 27.6h0M40.2 10.8h0M22.4 52.4h0M49.3 78.8h0M100 40.1h0M111.1 78.4h0M41.4 22.2h0M114.7 78.8h0M5.2 82.2h0M45.4 50.5h0M91.9 26.8h0M32.2 64.8h0M108.6 10.3h0M100.1 86.5h0M21.3 79.4h0M74.5 85.2h0M64.5 37.6h0M60.3 28.5h0M54.6 48.7h0M12.8 27.8h0M41.3 47.2h0M67.6 89.6h0M31.1 66.6h0M40.5 27.2h0M16.8 115.2h0M111.9 99.7h0M20.6 18.1h0M12.5 36.1h0M51.1 0.9h0M50.7 82.7h0M100.1 22.8h0M0.2 95.4h0M45.6 37.6h0M18.6 32.2h0M32 30.8h0M27.9 62.1h0M97.6 37.1h0M50 58h0M101.1 92h0M118.2 20.8h0M96.7 35.4h0M69.2 63.3h0M69 38.6h0M8.6 0.9h0M111.3 106.4h0M55.2 10.8h0M100.6 60.2h0M56.4 76.7h0M18.9 26.2h0M97.8 88.2h0M118.1 52h0M116.6 106.7h0M60.9 107.1h0M19.5 8.4h0M97.7 17h0M61.8 88.4h0M81.5 26.4h0M94.4 5.1h0M67.4 107.7h0M65.6 36.3h0M119.7 87.2h0M95 107.5h0M112.2 68.9h0M98.9 60.2h0M30.6 33.4h0M31.4 3.1h0M74.4 48h0M109.2 6.1h0M94 23.4h0M38.9 35.1h0M114.9 77.5h0M56.1 22.1h0M5.7 44.1h0M116.9 53.3h0M81.1 105.6h0M5.7 38.5h0M50.1 27.1h0M46 81.8h0M16.2 83.3h0M35.6 78.9h0M20.8 94.7h0M50.3 99.9h0M116.1 69.8h0M2.6 43.9h0M117.1 78.2h0M91 57.1h0M112.9 108.8h0M73.5 70.8h0M12.4 0.9h0M24.7 86.5h0M101.7 92.4h0M106.4 3.7h0M3.4 30.6h0M2.2 70.3h0M111.6 107.9h0M12.8 79.7h0M80.5 78.9h0M49.4 28.4h0M106.3 108.4h0M86 65.2h0M4 33.2h0M28.8 29.1h0M25.9 80.2h0M81.6 21.1h0M108.2 0.1h0M114.7 70h0M77.4 33.8h0M83 105.2h0M24.6 15.8h0M94.5 29.9h0M12.7 59h0M22.4 25.6h0M34 10.1h0M98.3 67.8h0M78.4 35h0M93 115.3h0M120 5.1h0M37.3 10.7h0M57 78.9h0M73 42.5h0M115.6 74.9h0M119.6 51.1h0M77.4 11.9h0M64.3 77.6h0M27.9 74.9h0M15.9 55.4h0M72.8 57.6h0M18.2 22.8h0M45 78.2h0M52 24.1h0M40.6 37h0M16.5 70.7h0M56.5 39.1h0M0.2 109.7h0M5.4 13.8h0M35.3 94.7h0M112.4 91.1h0M24.8 100.7h0M3.9 13.5h0M13.4 67.6h0M71.2 75.2h0M113.8 90.3h0M89.3 20.8h0M109.3 110.3h0M99.4 9.7h0M85.7 62.3h0M64.5 32.1h0M92.8 96.8h0M92.4 36.2h0M88.3 10.4h0M81.7 3.7h0M0.7 12.5h0M78.3 118.1h0M56.1 77.3h0M70.4 101h0M116.4 98.1h0M39.8 8.6h0M107.2 33.5h0M91 103.8h0M20.2 23.3h0M50.7 101.3h0M102.2 119.2h0M32.8 74.7h0M104.8 45.2h0M70.4 26.9h0M102.8 53.1h0M58.4 78.7h0M38.3 97.5h0M55.1 51.5h0M87.1 80h0M85.2 105h0M97.1 48.9h0M77.3 103.6h0M6.7 79.1h0M63.3 48.4h0M14.3 34.6h0M90 106.1h0M118.4 90.5h0M105.6 99.1h0M19.8 82.8h0M104.3 90.2h0M33.2 84h0M46.8 51.9h0M87.7 81.1h0M16.3 76.9h0M7.2 24.8h0M99 109.6h0M30.5 91.7h0M21.9 59.8h0M41.8 10.1h0M52 66.2h0M102.1 12.3h0M34.5 0.5h0M25 32h0M98.4 112.6h0M25.8 57.9h0M62.8 58.9h0M115.1 114h0M4.6 49h0M63.4 78h0M63.6 98.4h0M11.8 55.3h0M99.6 20.5h0M20.8 74h0M17.4 65.4h0M14.9 22.4h0M40.1 94h0M73.3 73h0M75.3 47.6h0M117.1 71.4h0M75.4 8.1h0M30 70.3h0M114.7 84.4h0M6.5 96.9h0M25.5 71.5h0M22.9 7.4h0M92.7 58.3h0M72.6 84.6h0M71.3 50h0M38.6 63.6h0M29.5 31.5h0M97.3 41.1h0M86.5 81.5h0M55.8 94.3h0M39.6 0.4h0M101.8 89.9h0M88.6 110.4h0M49 51.1h0M73.5 104.7h0M33.7 91h0M114.9 30.5h0M2.1 19.5h0M77.4 25.9h0M113.8 11.1h0M107.4 42.5h0M110.4 40.7h0M13.3 81h0M35.9 112.8h0M98.7 30.8h0M58.8 66h0M92.7 31.7h0M67.9 62.2h0M70.6 66.7h0M51.9 46.5h0M47.4 119.3h0M62.7 12.8h0M47.2 91.9h0M81.9 9.7h0M49.6 54.2h0M101.4 32.1h0M109.9 97.7h0M2.4 59.7h0M63.9 75.7h0M106.5 24.2h0M99.4 1.1h0M100 31.4h0M3.1 97.5h0M116.5 78.9h0M93.4 47.6h0M29.7 79.7h0M97 32.2h0M45.1 32.5h0M31.8 103.9h0M0.8 2.6h0M22.1 94.2h0M68.4 90.9h0M83.5 106.6h0M70.4 2.6h0M12.3 49.4h0M14.2 37.2h0M33 118h0M115.8 80.8h0M50.5 49.6h0M8.4 54.3h0M17.2 63.9h0M98 48.1h0M84.8 97.7h0M109.8 51.2h0M28.4 106.8h0M59.9 32.8h0M82 103.6h0M118 45.2h0M31.8 30h0M35.8 26.1h0M110.3 76.1h0M6 11.3h0M22.2 116.2h0M41.1 96.8h0M27 23.5h0M113.1 9.1h0M60.1 63.5h0M40.5 90.7h0M102.5 27.5h0M36.2 58.4h0M57.6 75.9h0M92.9 40.7h0M112.9 54.8h0M3.4 50.6h0M63.6 22h0M105.6 71.6h0M62.4 34.1h0M16 33.1h0M77 81.9h0M82 3.8h0M93.4 83.4h0M81.8 62.7h0M102.4 115.5h0M70 51.9h0M65 96.1h0M81.2 93.1h0M37.1 72.2h0M28.3 69.3h0M1.8 64h0M87.3 109.3h0M58.2 104.7h0M24 1.4h0M66.4 41.2h0M47.4 71.9h0M90.7 103.5h0M38.8 69.9h0M75.6 82.2h0M70.1 55.8h0M97.1 2.4h0M94.3 20.1h0M21.9 80.6h0M54.6 41.1h0M9.4 6.2h0M32.1 11.6h0M83.6 24.1h0M45.7 50.5h0M84.6 98h0M75.8 26.1h0M16.5 67.1h0M43.9 87h0M25.9 82.9h0M43 33.6h0M21.7 90.5h0M60.5 65.3h0M99.9 3.2h0M65.4 39.4h0M29.3 99.4h0M29.1 49.1h0M52.1 16.6h0M37.2 0.4h0M60 75.4h0M120 115.1h0M39.8 115.6h0M12.5 17.8h0M63.6 81.9h0M71.3 4.4h0M48.9 59.1h0M46.4 91.3h0M89.3 10.4h0M55.8 83.6h0M94.6 79.6h0M117.3 88.8h0M47.2 100.2h0M73.5 71.7h0M71.2 90.3h0M85 55h0M94.5 50.5h0M88.9 109.7h0M63.6 17.8h0M108.7 25.5h0M25.3 5.5h0M50.3 48.1h0M98.2 20.7h0M45.3 92.4h0M2.9 49.6h0M17.8 92.5h0M35.9 16.9h0M13.5 25.1h0M84.4 13.9h0M4.8 28.7h0M5 87.7h0M91 63.9h0M40.1 4.7h0M85.8 29.1h0M65.9 118.5h0M28.8 82.5h0M52.5 64h0M48.6 84.2h0" stroke="#102cb0" stroke-width="1.20" stroke-linecap="round" fill="none" opacity="0.8"/><path d="M28.6 65.3h0M44.4 72.5h0M75.1 7.9h0M1.6 100.5h0M31.1 28.1h0M119.5 56.4h0M100.4 57.2h0M76.7 18.1h0M76.2 104.2h0M62.8 89h0M80.6 7.7h0M91 70.9h0M36.2 3.7h0M103.9 56.7h0M86.3 105.5h0M85.7 110.5h0M47.4 96.1h0M53.4 112.3h0M105.5 11.7h0M16.3 26h0M115.9 52.3h0M75.2 36.1h0M60.9 46.3h0M42.1 70.2h0M70.1 108.5h0M81.8 111.5h0M102.8 118.9h0M80.6 19.6h0M103.3 115.8h0M108.6 68.3h0M85.7 25.3h0M99.8 68.8h0M34.2 7.6h0M102.5 118.8h0M10.6 96.1h0M49.3 18.1h0M35.3 92.3h0M104.7 5.3h0M73.7 5.4h0M86.2 39.7h0M105.7 117.7h0M60.7 119.8h0M37.2 9.2h0M72 3.8h0M23.7 49h0M73.3 18.7h0M5.1 104.1h0M37.7 115h0M107.6 45.3h0M55.2 62.4h0M77.3 71.5h0M67.1 74.4h0M112.9 60.8h0M51.7 86.4h0M28.5 36.1h0M117.3 62.5h0M65.8 1.4h0M49.8 69.6h0M2.4 73.9h0M75.9 7.2h0M75.3 56h0M81.5 42.3h0M84.8 88.6h0M2.7 7.3h0M81.1 115.6h0M30.1 54.8h0M71.1 38.4h0M43.7 37.5h0M44.3 71.5h0M36 45.3h0M92.7 3.2h0M68.3 88.2h0M37.2 26.7h0M96.5 28.6h0M22.5 52.2h0M83.8 12.2h0M38.6 40.1h0M100 52.6h0M102.7 20.3h0M40.4 78h0M106.2 54.1h0M27 14.5h0M63.6 22.9h0M96.8 100.6h0M22 33.4h0M96.9 77h0M96.8 41.4h0M15.6 35h0M95.3 32.5h0M41.6 50h0M50.4 49.1h0M110.5 18.7h0M0.6 113.2h0M105.6 118.4h0M52.1 114h0M111.3 26.7h0M89.5 100.4h0M79.6 62.3h0M34.7 40.9h0M27.3 8.2h0M70.6 34.4h0M97.2 5.4h0M108.4 83.2h0M110.9 107.6h0M108 69.2h0M1.6 89.4h0M20.6 36h0M79.5 63h0M49.7 112.7h0M73.5 41h0M30.3 103.4h0M57.3 93.9h0M42.2 23.7h0M64.2 98h0M20.6 95h0M110.6 96.7h0M98.8 0.9h0M75.4 103.5h0M6 32.6h0M32.2 63.3h0M50.8 56.7h0M93.2 0.2h0M6.6 15.2h0M15 8.2h0M117 102.5h0M10.3 60.3h0M37.9 37.7h0M42.2 77.6h0M70.4 43.3h0M22.9 39.5h0M14.9 66.7h0M85.9 45.6h0M9.6 21.4h0M44.8 72.5h0M93.9 45.6h0M96.1 74.8h0M51.8 44.7h0M59.5 84.3h0M50.5 83.3h0M55.3 29.4h0M64.3 83.4h0M8.6 51h0M51.1 105.6h0M112.4 44.9h0M107.7 94.9h0M31.5 55.7h0M14.8 97.6h0M79.5 106.5h0M95.1 80.1h0M88 67.7h0M12.4 70.5h0M0.6 17.2h0M92.9 5.3h0M11 11.9h0M105.7 21.5h0M2.8 101h0M14.6 101.3h0M80.8 100.3h0M114.3 69.5h0M95.8 4.4h0M92.1 61.4h0M85.8 12.8h0M89.9 112.1h0M7.3 38.9h0M67.7 99.4h0M29.1 21.6h0M30 73.9h0M90.4 47.2h0M44.1 47.6h0M42 50.2h0M10 60h0M116.8 49.5h0M89.7 19.3h0M82.9 90.7h0M80.9 62.1h0M58 77.2h0M107.7 17.9h0M11.5 89.8h0M110 62.1h0M53.2 86.3h0M22.3 32.1h0M23.9 70.3h0M37.8 27.9h0M82.9 114.4h0M35.5 84.6h0M49.6 102.4h0M70.2 32.1h0M26.1 2.8h0M57.5 45.9h0M20.7 43.3h0M38.6 92.9h0M17.2 118.9h0M57.6 71.9h0M56.2 100.2h0M98.6 66.9h0M57.8 86.5h0M102.8 48h0M88 115.2h0M56.1 27.6h0M28.2 86.1h0M81 115h0M102.5 29.1h0M22.8 31h0M22.5 84.6h0M103 108h0M30.6 103.8h0M37.6 50.8h0M87.5 10.3h0M11.1 100.1h0M35 42.8h0M69.6 81.1h0M0.8 40.2h0M52.3 58.3h0M25.2 70.2h0M114.6 46.9h0M65.3 14.3h0M33 79.9h0M13.5 106.5h0M109.1 11.6h0M113 44.9h0M92.7 90.9h0M35.5 81.1h0M78.5 96.7h0M31.9 90.5h0M115.4 80.7h0M64.3 13.6h0M59.3 42.3h0M86.2 81.4h0M68 21.8h0M77.5 75.7h0M21.5 106.8h0M78.6 14.8h0M111.8 17h0M39.8 86.5h0M71.7 66.6h0M77.7 54.9h0M37.5 21.2h0M8.2 85.9h0M90.5 65.2h0M88.8 43.1h0M31.9 46h0M104.7 5.1h0M60.6 29.7h0M92.3 42.5h0M39.9 48.4h0M65 92.6h0M42.3 101.6h0M13.5 32.5h0M12 13.5h0M93.5 87.3h0M22.2 22.7h0M50 89.2h0M97.9 89.8h0M71 17.6h0M47.8 23.2h0M63.3 68.2h0M24.2 30h0M93.8 3.6h0M96.4 106.9h0M113.9 46h0M66.3 70h0M76 117.2h0M82.4 35.9h0M103.2 58.1h0M72.2 87.2h0M0.3 92.5h0M79.4 59h0M62.8 55.3h0M23.2 63.5h0M4.4 60.1h0M77.5 53.3h0M67.9 115.1h0M107 16.3h0M95.1 74.8h0M6.1 43.2h0M28 9.3h0M64.7 111.6h0M38.8 104.5h0M83.4 16.1h0M103 72.1h0M111.2 85.9h0M88.8 41.2h0M96.8 111.8h0M103.4 52.4h0M90.8 58.2h0M13.1 5.1h0M9.4 24h0M19.3 59.7h0M83.9 64.5h0M50.7 77.9h0M36.6 55.7h0M90.9 48.2h0M21.7 107.9h0M86.4 44h0M44.5 63.5h0M71.6 26.9h0M0.3 25.1h0M94 17.2h0M55.2 23.4h0M25.1 20.5h0M48.4 20.2h0M3.3 13.2h0M20.2 58.8h0M7.2 2.7h0M53.8 48.9h0M84.4 6.1h0M48.4 47.6h0M3.2 115.9h0M26.3 11.3h0M57 19.8h0M74.7 41.6h0M14.9 6.2h0M87.3 33h0M94.5 55.8h0M112 36.1h0M30 31.9h0M97.8 75.5h0M41.4 11.2h0M81.9 116.3h0M71.1 0.4h0M3.6 10.9h0M20.4 4.4h0M6.5 78.5h0M108 24.1h0M116.9 57.2h0M96.4 110.1h0M112.8 4.1h0M36.6 72.8h0M113.6 10.5h0M35.2 102h0M13.8 46.8h0M40.1 81.6h0M111.4 21h0M88.8 88.1h0M100.3 66.4h0M110.8 43.5h0M49.8 27.5h0M93.5 57.7h0M32.3 20.4h0M86.5 72.7h0M85.3 46.4h0M58.5 18.5h0M85.3 2.8h0M56 91h0M81.3 11.7h0M28.5 101.2h0M77.1 105.4h0M104.7 54h0M107.6 87.9h0M40 44.4h0M8.6 47.9h0M114.7 12.6h0M68.3 13.2h0M9.7 77.9h0M28.9 5.9h0M18.3 77.3h0M70.3 1.4h0M27.6 116.1h0M26.4 67.5h0M50.4 93.7h0M72.5 94.6h0M64.2 22.6h0M21.3 9.5h0M99.1 13.5h0M2.9 116h0M23.9 107.2h0M10.3 55.8h0M26.7 99.5h0M73.9 77h0M91.4 104.6h0M41.5 72.4h0M53.5 13.3h0M100.2 71.3h0M97.8 24.7h0M64.7 55.7h0M87.4 9.3h0M41.5 58.1h0M8.6 66.3h0M88.2 50.7h0M77.8 72.7h0" stroke="#1c4af4" stroke-width="1.80" stroke-linecap="round" fill="none" opacity="0.95"/></pattern>
<pattern id="pB2" width="120" height="120" patternUnits="userSpaceOnUse"><path d="M54.3 67.2h0M110.9 55.9h0M60.9 70.5h0M22.2 61.4h0M75.6 95.2h0M11.3 36.4h0M10.9 97.2h0M83.2 5h0M117.9 115.8h0M78.5 73.9h0M18.9 1.8h0M63.4 7.1h0M22.8 29h0M3.6 55.7h0M52.9 101.1h0M62.3 76.8h0M60 79.5h0M54.9 33.4h0M119.7 119.5h0M100.8 84.9h0M37.8 27.6h0M34.7 8.4h0M92 48h0M101.6 46.4h0M115 101.7h0M0.1 25.2h0M109.2 56.4h0M117.6 47.7h0M8.8 75.5h0M93.4 32.4h0M10.5 39.9h0M115.7 91h0M14.2 29.6h0M12.1 7.2h0M95.6 21.3h0M67.1 53.7h0M22.9 87.8h0M15.7 77.2h0M14 50.5h0M25.5 32.4h0M116.5 96.4h0M36.5 106.2h0M25.3 47.3h0M102.5 77h0M12 118.7h0M25.6 31h0M92.7 39.5h0M35.6 8.8h0M10.8 69.9h0M29.2 72.2h0M44.6 54.4h0M115.1 58h0M68.9 104h0M21.9 18.5h0M109 98.1h0M29.9 22.8h0M88.7 112.8h0M23.6 114h0M105.9 72.4h0M50.6 12.5h0M4.6 115.5h0M28.6 84.5h0M30.8 98.8h0M71.6 35.2h0M21.1 86.4h0M8.3 27.4h0M67.1 102.3h0M73.7 33.6h0M110.1 24.5h0M2 32.3h0M53.5 7.3h0M21.2 44.3h0M68.7 15.8h0M43.5 106.9h0M117.7 78.8h0M82.9 70.1h0M16.8 4.2h0M2.1 109.2h0M84.1 115.5h0M2.6 76.3h0M57.9 87.7h0M38.3 119.9h0M9 65.5h0M88.4 108h0M88.5 84.4h0M95.2 109.8h0M42.2 82.2h0M108.1 104.5h0M50.1 94.9h0M103.6 68.7h0M75 45.9h0M69.9 73.1h0M9.6 76.7h0M119.2 105.6h0M87.4 46.6h0M88.2 69.7h0M52.9 100.6h0M10.1 90h0M3.6 72.2h0M57.7 27.6h0M83.8 59.7h0M73.7 110.5h0M30.7 1.4h0M36.1 81.4h0M24.3 20.4h0M108.7 79.2h0M53 107h0M39.2 79.9h0M23.8 51.7h0M96.7 109.7h0M105.6 46.1h0M70 38h0M16.3 59.6h0M100.5 101.8h0M85.3 114h0M33.2 20.3h0M54.1 33h0M25.7 49.7h0M75.1 59.3h0M37.8 100.7h0M117.8 54.3h0M9 3.8h0M104.7 5h0M85 68.5h0M37.1 95h0M2.3 16.3h0M54.6 3h0M99.6 28.5h0M16.9 5.6h0M75.5 53.6h0M75.6 78.6h0M96.9 115h0M82.1 23.9h0M57 21.4h0M1.3 56.7h0M85.7 21.5h0M32.7 41.5h0M83.7 62.5h0M73.7 90.7h0M47.2 95h0M108.7 10.5h0M111.9 86.7h0M15.6 54.4h0M75.1 109.2h0M45.2 68.3h0M105.5 95.6h0M113.3 55.6h0M78.2 24.6h0M86.6 98.2h0M77 86.1h0M25.6 108h0M117.7 117.3h0M64.4 94.9h0M38.4 109.2h0M102.7 41.8h0M9.9 52.9h0M66 92.2h0M58.5 3.4h0M97.1 7.7h0M96 20.7h0M40.2 94.5h0M16.9 17.8h0M62 86.8h0M100.8 82.7h0M113.5 59.1h0M113.9 10.3h0M26.6 63.2h0M34.8 87.5h0M76.7 62.7h0M101.2 67.2h0M37.4 45.7h0M101.4 108.1h0M25 102.1h0M116.2 62.9h0M68.8 24.1h0M64.3 60.4h0M72.6 3.3h0M116.3 61.9h0M48.1 96.1h0M67.5 58.9h0M82.9 7.9h0M64.6 49.7h0M114.8 110.8h0M32.3 56.8h0M15.2 52h0M97.9 108.1h0M57.2 38.1h0M23 74.1h0M111 15.5h0M93.5 2.7h0M23.3 27.3h0M82.4 38.6h0M42.6 74.4h0M12.6 87.7h0M14.7 61.3h0M30.1 23.7h0M63.6 52.4h0M45.1 49.6h0M63.5 19.2h0M24.5 75.8h0M76.6 63.6h0M102.2 73.4h0M102.8 27.9h0M88.9 97.3h0M108.3 37.9h0M37.8 110.7h0M26.2 119.8h0M106.5 16.1h0M28.7 87.2h0M31.1 11.6h0M99.9 50.6h0M94.8 15.1h0M48.3 82.2h0M2.1 24.1h0M81.9 109.4h0M116.2 13.8h0M60.7 91h0M60.3 82.3h0M22.7 8.5h0M12.7 4.5h0M66.2 61.8h0M68.2 17.6h0M22.1 24.5h0M100.8 118.8h0M111.2 11.4h0M7.4 114.2h0M55.4 91.8h0M39.2 56h0M61.8 51.6h0M72.1 1.6h0M84.1 101.3h0M21.8 54.5h0M88.7 48.6h0M23.4 19.8h0M61.5 1.9h0M107.2 96.2h0M84.6 103.3h0M75.5 48.5h0M72 60.5h0M117.9 96.6h0M31 109.4h0M89.3 93.4h0M97.8 48.7h0M107.6 105.6h0M83.4 92.1h0M91.8 48.7h0M86.7 8.5h0M41 56.3h0M1.3 42.7h0M76.6 74.9h0M27.9 113.4h0M79.9 40.5h0M79.2 68.3h0M64 46.8h0M120 77.1h0M84.2 91.4h0M117.6 2.7h0M73.8 88.7h0M30.8 48.2h0M6.1 23.5h0M45.1 11.8h0M30.1 108.7h0M66 60.9h0M116.1 68.2h0M119.4 76.6h0M97.1 9.1h0M71.7 91.1h0M5.4 111.6h0M19.2 56.6h0M20.3 59.5h0M73.3 7h0M113.4 50.5h0M63.2 71.7h0M43.9 34.3h0M78.6 67.3h0M34 86h0M35.5 1.7h0M29.4 5.1h0M18.8 90.6h0M46.8 107.7h0M89.8 6h0M118.7 113.3h0M8.8 108.7h0M51.5 57.3h0M116.8 29.2h0M62.8 112.5h0M86.7 56.2h0M117.5 98h0M72.4 13.8h0M74.9 54.7h0M24.4 6.2h0M63.4 14.9h0M53.1 80.1h0M54.7 31.5h0M69.9 50.3h0M93.4 63.7h0M119.7 114.3h0M88.1 28.6h0M13.7 107.1h0M94.1 75h0M43.1 32.6h0M82.2 67.8h0M71 76h0M90.4 22.8h0M29.9 117.6h0M109.9 105.5h0M4.7 7.3h0M32.5 51h0M74.8 12.3h0M65 8.7h0M10.4 81.2h0M66.1 75.7h0M44.8 57.4h0M25.3 41.2h0M89.4 100.6h0M8.9 14.4h0M97.1 74.8h0M92.3 25.6h0M50.9 31h0M97.2 44.3h0M78.4 118.7h0M39 65.8h0M89.5 110.5h0M51.3 44.3h0M11.6 105h0M9.4 10h0M67.7 58.2h0M82.2 35.9h0M93.1 9.1h0M25.6 79.5h0M9.8 36.5h0M87 83.3h0M33.9 17.2h0M42.9 87.1h0M44 14.1h0M85.1 68.3h0M110.2 112.8h0M109.6 52.6h0M96.4 36.6h0M38.1 48h0M112.2 107.4h0M29.8 43.4h0M43.9 43.6h0M47.5 46.5h0M23.4 67.7h0M95.6 64.9h0M100.4 67.5h0M21.2 91.1h0M105.7 33.8h0M2.7 61.9h0M65.3 68.1h0M116 78.1h0M96.5 7.7h0M65.6 94.6h0M10.1 9.8h0M88.4 107.9h0M10.2 76.1h0M17.3 89.5h0M77.9 29.5h0M26.5 91.8h0M62.6 91.8h0M47.3 40.5h0M116.2 80.7h0M59.2 64.5h0M86.5 85h0M109.8 49.3h0M99.1 80h0M102.4 96.7h0M100.1 106.6h0M114.9 76.8h0M62.9 85.2h0M96.3 50.6h0M50.5 17.5h0M88.9 118.9h0M45.1 20.1h0M24.5 51h0M35 116.4h0M7.1 37h0M13.8 77.8h0M93.1 21.5h0M7.5 55.1h0M70.1 109.1h0M4.4 13h0M22.1 26.1h0M28.2 86.1h0M71.4 26.9h0M22.2 33.7h0M20.7 90.9h0M37.4 65.8h0M98.1 57.5h0M31.3 106.5h0M109.7 41h0M65.7 114.8h0M57.9 26.5h0M6 113.7h0M96.2 46.2h0M63.3 61.9h0M32.9 118.8h0M78.9 28.5h0M1.3 56.7h0M44.6 95.6h0M85.6 72.7h0M18.9 18.8h0M38.6 31.1h0M104.3 61.9h0M76.4 119.2h0M32 64.1h0M18.1 92.4h0M0.2 98.6h0M101.5 98.7h0M9.9 32.4h0M86 11.7h0M57.6 56.2h0M114.7 70.4h0M102.9 36.4h0M94.7 50h0M110 10.9h0M99.2 25h0M65.2 63.1h0M18.9 99.8h0M37.4 37.3h0M9.1 36.7h0M56.1 85.8h0M43.2 82.5h0M12.7 47.3h0M55.4 116h0M99.6 78.5h0M1.5 45.3h0M85.2 28.5h0M67.7 55h0M1.3 119h0M95.9 24.8h0M73.9 34.8h0M45.1 64.8h0M35.8 40.5h0M47.1 80h0M30.8 24h0M87.8 39.5h0M113.4 67.5h0M86.9 39.8h0M99.2 11.1h0M16.9 11.3h0M81.3 85h0M21.6 48.3h0M100.4 71.1h0M10.8 27.2h0M18.9 14.9h0M48.8 8.7h0M110.5 51.2h0M61.4 77.7h0M92 98.5h0M46.3 39.8h0M49.5 1.9h0M48.1 84h0M117.8 94.8h0M79.2 73h0M2.2 39.7h0M41.1 78.1h0M12.8 45.3h0M61.1 94.6h0M99 73.4h0M19 92h0M108.4 65.8h0M42.3 60h0M17 85.6h0M118.4 61.9h0M85.8 100.3h0M23.7 113.4h0M75.3 23.7h0M10 29.4h0M69.2 83.7h0M39.5 111.5h0M43.3 55.6h0M14.9 116.8h0M16.3 108.5h0M65.2 67.3h0M67.2 31.7h0M109.1 119.1h0M98.1 72.2h0M14.7 99h0M34.6 107.6h0M28.9 68.8h0M99.7 22.3h0M65.7 9.2h0M3.8 21.6h0M118.4 112.7h0M79 36.9h0M80.5 88.5h0M45.8 71h0M96.5 2h0M23.9 56.2h0M17.2 46.4h0M68.3 20.8h0M62.4 31.6h0M68.2 39.9h0M77 4.5h0M80.5 17.4h0M115.1 72h0M56.4 49.4h0M74.9 82.7h0M91 90.2h0M58.3 119.4h0M100.6 102.6h0M49.1 52.1h0M67.9 108.6h0M63.1 63h0M51.9 108.5h0M38.5 6.6h0M87.1 108h0M87.8 71.7h0M90.2 36.6h0M71.2 8.4h0M14.9 53.6h0M60.3 47.6h0M6.2 83.4h0M63.1 28.7h0M36.8 47.5h0M28.3 8.2h0M109.4 116h0M79.9 104h0M50.6 96.6h0M26.6 89.6h0M68 108.4h0M11.8 95.1h0M14.9 64.5h0M114.1 0.1h0M29.3 35.9h0M39 7.5h0M107.4 97.9h0M47.7 42.8h0M70.3 5.5h0M3.7 107.8h0M36.9 59.8h0M112.1 117.3h0M56.7 24.8h0M35.4 110.7h0M107.6 23.5h0M100.6 42.5h0M56.7 20.6h0M105.6 119.4h0M24.2 75.9h0M23 105.6h0M6 12.7h0M87.1 37.6h0M108 104.4h0M85.6 16.2h0M83.5 112.5h0M53.4 9.5h0M26.8 36.9h0M85.3 23.6h0M21.7 28.3h0M79.8 94.9h0M44.7 79.4h0M106.1 70.8h0M27.5 36.1h0M111.2 80h0M33.2 76.8h0M10.8 118h0M52.8 63.4h0M63.7 5.4h0M72 34.1h0M30.1 96.4h0M10.5 34.2h0M90.7 29.5h0M33.5 65.8h0M22.4 107.6h0M118.5 4h0M55.4 90.1h0M46.2 111.5h0M60 21.6h0M66.7 77.4h0M43.2 79h0M94 62h0M60.7 101.4h0M82.1 62.5h0M114.2 20.9h0M93.6 19.8h0M73 28.2h0M52.9 92.8h0M94.4 94.9h0M28.3 58.7h0M26.5 69.6h0M59.9 4.2h0M71.6 85.8h0M68.7 104.7h0M21.6 18.2h0M2.1 59.5h0M52.2 53h0M31.6 95.8h0M8.7 108.9h0M68.3 65.2h0M95 28.6h0M17.5 37.3h0M5.1 37.7h0M74.5 63.1h0M31.8 70.6h0M10.6 98.5h0M20.6 30.6h0M19.2 82.9h0M99.7 94.4h0M7.3 49.3h0M43.7 26h0M116.5 5.1h0M58.7 91.4h0M118.3 17.3h0M54.6 89.4h0M4.7 28.9h0M106.8 17h0M47.2 35.8h0M50.9 9.2h0M4.1 119.5h0M91.6 88.1h0M27.6 30.4h0M66.2 29h0M55.4 111.9h0M43.7 40.4h0M117.7 73.3h0M4.8 48.4h0M78 7h0M41.2 83.4h0M103.7 70.9h0M106.4 55.5h0M47.2 101.2h0M45.7 93.8h0M25.8 41.7h0M22 65.9h0M19.7 24.4h0M25.7 56.1h0M37 53.7h0M119.2 81.5h0M103.5 24.6h0M46 8.7h0M83 43.5h0M32.9 2.2h0M21.8 31.5h0M47.2 110.8h0M85.8 32.2h0M43.3 18.4h0M112.4 43.2h0M91.9 86.8h0M108.8 2.4h0M38.6 46.1h0M10 105.9h0M39 92.5h0M62.3 6.6h0M47.3 28.6h0M4.9 18.1h0M71.4 3.8h0M37.5 50.9h0M65.3 16.3h0M84.8 31.2h0M87.1 79.9h0M17.7 24.6h0M33.6 85.5h0M48.6 46.4h0M103.9 27.1h0M35 41.4h0M25.9 4.9h0M2.9 75.6h0M67.9 97.1h0M117.1 35.8h0M80.5 110.3h0M25.9 82.7h0M80 114.6h0M104.2 28.2h0M75.9 10.8h0M51.3 47.1h0M7.2 46h0M39.4 59.7h0M33.6 19h0M48.3 57h0M20 79.8h0M28.8 11.2h0M41 50.7h0M18.1 69.9h0M84.2 66.4h0M84 2.8h0M47 43.7h0M7.6 48.5h0M6.6 59.5h0M70.3 56.3h0M39.1 30.4h0M2.8 41.7h0M107 67.9h0M31.4 80.2h0M22.3 56.3h0M73.8 114.6h0M43.5 69.1h0M113.1 92.6h0M75.3 74.5h0M49.3 49.9h0M33.1 99.6h0M105.6 45.8h0M109.2 4.6h0M16.3 60.8h0M37 43.2h0M117.2 18h0M23.1 27.4h0M81.6 28.1h0M0.1 65.3h0M47.3 28.7h0M59.2 78h0M65.8 74.9h0M67.3 99.7h0M116.3 40h0M41.6 106.4h0M37.6 85.9h0M83.4 82.4h0M115.7 98.9h0M19.1 74.6h0M58.9 67.7h0M44.3 34.3h0M89.9 64.1h0M28.4 29.9h0M39 21.3h0M61.6 15.1h0M7.6 8.2h0M12.3 84.6h0M13.5 54.2h0M92.7 57.7h0M19.5 104h0M104.4 6.4h0M30.5 60.9h0M95.6 47.1h0M85.9 30.2h0M85.9 39.2h0M40.1 91.1h0M101.1 99.4h0M68.1 50.5h0M84.8 74.8h0M99.7 96.1h0M15 45.2h0M80.3 27.7h0M22.2 1.6h0M70.3 112.9h0M116.5 16h0M82.5 50.3h0M75.8 47.6h0M112 118.7h0M5.8 85.6h0M14.2 5.1h0M34.3 87.7h0M119.2 14.4h0M39.6 3.2h0M65.1 58h0M44.8 37.1h0M96.1 100.6h0M34 47h0M74.1 91.8h0M117.7 46.7h0M83.3 65.5h0M96 17.6h0M21 12.9h0M112 30.2h0M58.6 14.4h0M38.8 2.3h0M67.9 17.2h0M75 32.9h0M27.3 57.9h0M43.9 31.2h0M6.1 7.7h0M107.1 37.1h0M9.4 21.9h0M58 119.7h0M24.3 104.1h0M58.1 49.7h0M96.8 47.5h0M6.9 66.1h0M78.8 74.8h0M33.3 112.7h0M103.8 119.3h0M53.2 100h0M87 21.1h0M3.2 20.3h0M14.3 9h0M43.1 90.4h0M37.2 61.7h0M1.3 25.2h0M115.1 1.3h0M63.3 97.2h0M95.1 88.2h0M47.9 96.4h0M99.3 92.1h0M118.3 12.1h0M114 48.3h0M84.6 30.1h0M109.2 2.8h0M69.2 27.3h0M46.6 44.3h0M78.8 97.3h0M43.8 76.6h0M42.5 33.5h0M108.6 38.6h0M11.3 40.2h0M89 25.4h0M89.2 65.5h0M81.6 21.3h0M12.7 17.2h0M42 51.7h0M1.1 60.3h0M48.4 38.6h0M64.5 114.3h0M24.6 105.7h0M38.5 90.5h0M13 118.5h0M51.6 115.5h0M26.4 49h0M84.7 21.3h0M32.8 81.3h0M113.7 38.7h0M22 42.9h0M118.7 17.8h0M76.2 45.4h0M77.3 25.5h0M74 106.5h0M102.8 75.4h0M60.6 68.1h0M13.7 100.5h0M82.8 54.4h0M79.9 50.3h0M46.2 27.6h0M72.1 68.7h0M61.8 3.9h0M75.3 53.6h0M71.2 71.3h0M111.8 18.2h0M56.2 119.1h0M88.6 37.6h0M88.4 118.7h0M48.3 104.1h0M15.2 118.8h0M58.9 28.1h0M100.8 77.9h0M112.5 99.5h0M95.7 61.4h0M119.2 7.8h0M104.4 85.4h0M30.1 96.9h0M54.5 64.4h0M103.9 23.5h0M33.6 77.2h0M8.8 66.6h0M94.5 58.9h0M29 96h0M102.6 92.5h0M65.9 108.7h0M95.6 18.2h0M43.9 12h0M4.4 41.5h0M103.8 100.1h0M14.1 21.8h0M46.6 101.9h0M74 108.2h0M8.6 118.5h0M24.8 75.5h0M105.2 87.3h0M23.6 80.2h0M51.7 1.8h0M40.7 37.8h0M75.6 33.4h0M72.4 83.4h0M21.7 15.4h0M83.3 56h0M15.5 13.9h0M112.9 73.2h0M42.9 23.5h0M119.4 83h0M88.4 43.2h0M37.2 49h0M17.6 75.7h0M51 98.4h0M49.1 54.8h0M60.8 113h0M41.6 84.4h0M28.2 69.5h0M34.2 104.7h0M34.4 102.5h0M81.2 54.6h0M112 46.5h0M89.2 72.2h0M53.8 7.7h0M50.3 33.8h0M52.9 114.5h0M35.2 83.4h0M80.6 29.4h0M49.4 15.9h0M107.4 30.2h0M50.5 41h0M98.5 102h0M70.9 65.5h0M11.9 107.6h0M10.6 43.6h0M44.9 86.8h0M80.3 41.3h0M107.7 114h0M2.8 76h0M56.3 43.4h0M55.8 37.9h0M80.5 72.7h0M116.4 117.2h0M119.1 47.4h0M99.4 78h0M84.1 119.7h0M8 55.5h0M48.2 78.7h0M26.2 118.8h0M25.1 44.4h0M17.2 47.4h0M89 10h0M20 77.9h0M74.8 89h0M30.4 97.3h0M87.7 93.1h0M14.4 56.2h0M1.9 103.2h0M113.3 107.5h0M2.9 42.1h0M64.3 64h0M13.3 94.7h0M36.2 60.9h0M15 68.1h0M15.6 10.6h0M61.5 35.3h0M93.3 29.6h0M49.7 6.5h0M26.1 54.2h0M67 55.1h0M102.1 12.5h0M102 18.6h0M116.4 63h0M48.8 73.5h0M103.7 115.7h0M49.6 1.3h0M18.4 98.2h0M88.1 85.5h0M18.8 63.7h0M3.4 13.2h0M36.1 115.9h0M77.2 101.7h0M5.5 49.9h0M9.4 31.3h0M13.4 110.3h0M39.5 58.7h0M78.5 106.4h0M113.6 68.1h0M60.1 108.5h0M47.3 35.9h0M88.7 31h0M44.1 51.5h0M57.2 43h0M51.7 54.1h0M5.9 100.3h0M7.4 63.3h0M65.7 48h0M26.7 11.9h0M44.6 37.7h0M58.1 27.6h0M89.9 58.5h0M1.1 48.8h0M116 0.8h0M71.2 115.3h0M43.9 71.8h0M44.3 36.1h0M73.1 70.7h0M37.8 59.7h0M61.9 90.5h0M6.4 11.1h0M30.2 32.4h0M95.5 51.1h0M103.2 48.3h0M34.3 81.6h0M10.3 118.1h0M99.8 39.4h0M38.1 98.3h0M94.6 77.1h0M6.8 91.6h0M5.8 75h0M66.3 111.3h0M76.6 2.7h0M112.1 90.3h0M69.6 0.7h0M88.4 50.2h0M81.6 118h0M110 9h0M93.8 52.9h0M90.2 45.3h0M53.7 52.4h0M14.2 38.4h0M88.2 8.6h0M13.9 100.1h0M79.9 65.8h0M13.6 14.2h0M37.2 114.5h0M67.2 110.7h0M25.3 49.8h0M64.4 100.7h0M14.8 104.8h0M56.7 3.8h0M51.8 45.3h0M80.9 111.4h0" stroke="#163ee4" stroke-width="1.50" stroke-linecap="round" fill="none" opacity="0.9"/><path d="M56.9 78.9h0M80 17.1h0M1.3 45h0M32.9 97.2h0M82.9 72.2h0M67 79.4h0M17.4 52.8h0M19.5 108.7h0M7.1 98.3h0M9 82.4h0M40.4 48.6h0M101.1 2.2h0M7.3 109.8h0M61.1 10.9h0M118.5 113.6h0M13.5 50.8h0M16.2 37.5h0M74.6 19.6h0M83.6 6.2h0M20.5 97.9h0M48.1 50.3h0M71.5 57.2h0M46.1 3.7h0M87.2 116.1h0M117.2 79.6h0M42.8 43.6h0M82.8 80.9h0M13.7 28.2h0M43.6 61.4h0M97.2 60h0M3.4 98.7h0M51.6 62.3h0M26.7 51.3h0M46.6 92.6h0M12.3 66h0M21.4 83.5h0M4.4 33.2h0M41.3 76.4h0M6.2 55.1h0M25.1 33.8h0M57.2 115h0M57.7 114.7h0M20.1 110.9h0M43.7 22.7h0M89.8 109.4h0M0.8 32.2h0M92.5 41h0M29 1h0M4.8 74.3h0M118.1 119.8h0M60.4 2.9h0M38.7 94.5h0M99.8 76.7h0M27.5 63.3h0M57.3 75.2h0M31.5 113.6h0M107.3 19.5h0M35 104.8h0M33.4 113.3h0M61.8 83.5h0M84.6 25.7h0M34.2 30.6h0M82 83.3h0M15.8 106.4h0M50.4 28.9h0M52.2 117.5h0M67.2 75h0M110.4 115.4h0M91.3 50.1h0M70.6 108.1h0M94.7 69.6h0M41.7 44.2h0M88.3 67.6h0M2.1 85.2h0M108.5 95.7h0M107.7 109.3h0M64.2 94.7h0M45.5 11.8h0M42.4 37.5h0M112.1 82.7h0M65 74.7h0M15 64.1h0M84.1 47.3h0M29.5 48.8h0M38.8 82.2h0M17 10.9h0M37.5 83.5h0M91.2 79.1h0M112.2 43.9h0M3.6 58.5h0M53.2 21.5h0M80.1 41h0M28.6 39.3h0M113.3 0.9h0M43.2 33.6h0M24.2 51.9h0M26.4 110.3h0M60.1 83.8h0M19.5 55.8h0M72.8 101.1h0M30 55.2h0M102.6 99.8h0M27.3 64.6h0M91.4 47.4h0M80.8 79.6h0M116.7 66.5h0M81.7 42h0M87.9 38.7h0M60 43.3h0M36.9 16.3h0M27.1 65.3h0M30.2 5.5h0M96.4 34.3h0M112.3 71.9h0M46.7 104.8h0M107.7 38.5h0M15.1 76.9h0M101.1 73h0M94.1 49.5h0M74.1 31.6h0M48.8 45.6h0M46.2 47.9h0M96.9 20.4h0M24.6 30.6h0M116.5 62.7h0M6.4 100.2h0M104.8 98.5h0M43.1 88.2h0M36.7 16.5h0M103.8 100h0M25.3 105.6h0M3 37h0M1.6 20.5h0M19.6 85.9h0M35.6 22.8h0M22.1 37.4h0M103.5 72.8h0M12.3 82.2h0M64.3 53.8h0M63.3 78.2h0M96.1 60.6h0M76.3 56.1h0M76.1 46.6h0M49.8 62h0M85.8 33.4h0M111 59h0M102.7 82.8h0M114.8 81.9h0M51.2 48.7h0M72.9 90.5h0M100.7 15.5h0M7.5 13h0M10.1 6.8h0M1 29.9h0M13.6 82.2h0M73.9 115.9h0M115.3 89.6h0M114 3.4h0M27.4 111.1h0M57.1 24.8h0M90.8 50.8h0M65.2 37.9h0M29 10.5h0M72.8 114.3h0M118.4 91.8h0M112 43.5h0M35.8 110.8h0M72 80.3h0M1.5 27.4h0M57.9 87.7h0M99.1 90.9h0M40.8 45.8h0M103.5 118.7h0M58.2 23.4h0M74.9 64.3h0M43.4 27.7h0M46.2 73.5h0M15.2 64.9h0M114.3 89.4h0M30.3 50.2h0M12.3 88.4h0M75.8 20.7h0M65.8 71.5h0M69.3 45.4h0M37.2 42.6h0M119.7 39.6h0M60.3 55.2h0M20.8 48h0M24.6 38.7h0M44.1 42h0M112.6 35.6h0M39.9 78.9h0M47.7 61.9h0M77.7 8.8h0M80.6 12.1h0M30 97.2h0M118.7 80.8h0M20.6 52.6h0M33.9 100.9h0M28 23.5h0M76.6 76.5h0M70.8 57.5h0M115.1 55h0M112.4 47h0M55.8 43.1h0M85.8 90.2h0M28.7 63.1h0M87.2 60.2h0M79.5 73.9h0M85.7 42.6h0M36.8 3h0M106.8 94.8h0M46.8 116.1h0M108.3 18.2h0M100.4 50.5h0M37.7 31.1h0M49.7 6.2h0M6.1 14h0M36.9 19h0M14.6 99.8h0M45.6 58.8h0M72.2 112h0M17.5 27.4h0M103.2 109.2h0M111.8 63.4h0M44 22.6h0M109.3 91.8h0M66.2 95h0M31.3 64h0M108.8 13h0M74.1 22.2h0M100.5 100.7h0M77.3 52.3h0M2.6 59.3h0M43.1 48h0M9.3 110.4h0M62.6 67.4h0M101.1 107.6h0M66 65.3h0M101.6 44.7h0M108 2.9h0M95.5 63.3h0M74.7 118.9h0M26.4 48.9h0M96 89.6h0M62.9 93.2h0M81.3 104.3h0M78 43.6h0M34.4 9.8h0M14.8 5.1h0M117.1 16.9h0M72.3 16.1h0M115.9 63.9h0M21.2 99.2h0M103.2 117.3h0M26.8 48.3h0M79.3 33.9h0M68.3 84.1h0M90.2 98.9h0M90.1 34.2h0M90.7 52h0M20.3 2.5h0M74.7 43h0M11.3 58.8h0M49.8 39h0M67.9 64.7h0M63.6 118.5h0M108.6 35.8h0M104.6 37.8h0M112.4 6.9h0M38.2 111.8h0M79.4 84.8h0M24.5 14.6h0M115.2 7.9h0M21 51.7h0M98.3 81.5h0M119.8 93.5h0M52.5 109.4h0M38 6.2h0M115.1 105.7h0M79.2 57.6h0M24.5 26.3h0M8.1 11.3h0M57.5 107.6h0M111.9 61.7h0M80.8 56.1h0M93.1 84.8h0M118.2 101.5h0M81.4 70.8h0M20.2 56.6h0M53.7 18.5h0M24.2 49.4h0M21.1 74.9h0M39.4 118.5h0M82.1 62h0M52.1 47h0M24 115.5h0M109.6 78h0M78 17.3h0M65 20h0M38.9 70.4h0M20.4 28h0M87.7 58.2h0M106.8 19.1h0M10.6 112.6h0M73.1 83.2h0M66.8 17.8h0M117.3 59.5h0M109.1 17.6h0M33 65.9h0M29.7 103.2h0M31.3 9.5h0M19.6 32.6h0M113.7 105.4h0M80.4 51.2h0M5 99.8h0M15.1 24h0M52.2 103.5h0M21.9 7.5h0M108.9 1h0M88.1 16.9h0M35.9 24.9h0M52.7 110.6h0M100.8 64.3h0M10.5 21.1h0M35.4 95.3h0M109.9 3.1h0M40.1 115.2h0M18.1 9.6h0M31.9 106.7h0M31.6 86.5h0M14.3 79h0M20.3 71.4h0M89.1 105.4h0M52.3 118.2h0M48.8 113.9h0M109.7 119.8h0M12.7 32.8h0M83.5 106.3h0M30.8 92.2h0M57.2 0.5h0M10.2 0.9h0M27.4 111.9h0M81.5 103.6h0M110 47.1h0M83.5 78.5h0M83 11.1h0M106.6 18.8h0M53.4 82.5h0M89.4 99.2h0M37.5 35.8h0M87.3 5.6h0M104.8 37.8h0M47.1 37.5h0M85.6 20.9h0M16.2 7.9h0M15.7 74.8h0M118.7 0.7h0M55.5 42.7h0M37.2 41.2h0M13 50.9h0M32 7.2h0M16.2 111.4h0M86.2 118h0M97.7 88.6h0M27.2 13.1h0M118.1 82.1h0M86.8 17.2h0M95 64.2h0M10.5 25.2h0M116.1 74.7h0M10.9 9.7h0M90 42.3h0M57.4 16.4h0M21.4 59.7h0M51.3 22.3h0M18.1 53.4h0M13.6 7.4h0M56.8 6.1h0M88.1 92.1h0M84.6 114.2h0M19.9 50.6h0M49.8 8.7h0M103.2 4.9h0M118 81.1h0M118.2 7.2h0M107.2 115.7h0M93.4 69.6h0M77.8 57.8h0M102.4 69.4h0M65.7 48.6h0M75.4 70.4h0M112.8 92.7h0M39.6 86.4h0M28 57.8h0M63.1 87.2h0M8.7 17.6h0M21.9 74.4h0M20.5 67.2h0M105.8 51.3h0M26.8 71.7h0M49.4 52.4h0M21.4 81.9h0M41.4 118.2h0M59.6 81.9h0M110.9 118.1h0M2.6 111.3h0M12.4 113.9h0M94.7 30.8h0M85.8 67.6h0M54.3 75.2h0M54.8 78.9h0M83.4 0.7h0M76.7 84.6h0M104 64.3h0M65 17.4h0M23.5 107.5h0M7.5 108.1h0M14.8 46.1h0M74.7 3.6h0M53.6 95.8h0M46.1 21.1h0M7.2 113.8h0M12.5 80.3h0M76.5 33.6h0M66.9 82.3h0M25 29.4h0M110.9 24.9h0M58.6 54.6h0M93.3 102.9h0M91.6 75.2h0M64.9 11h0M68.9 52h0M90.7 45.1h0M14.7 46h0M99.7 59.6h0M80.2 6.8h0M26.6 31.9h0M58.1 14.3h0M113.5 39.7h0M0.1 28.8h0M60.2 73.9h0M97.8 10.4h0M116.5 102.7h0M61.7 77.7h0M36.8 17.9h0M1.2 115.4h0M106.8 53.5h0M72.2 57.2h0M82.6 11.9h0M90.5 21h0M70.9 74.7h0M101.7 73.8h0M21.4 97.8h0M44.9 67.6h0M96 117.3h0M12.5 54.6h0M37.7 101.6h0M47.7 109.2h0M95.2 50.3h0M91.6 81.5h0M14.1 35.6h0M16.3 99.9h0M47.5 36.1h0M86.1 118.4h0M16.9 83h0M27.4 94.9h0M89.5 92.2h0M70 14.7h0M102.2 13.3h0M69.6 115.1h0M32.2 57.7h0M81.1 77.5h0M38.8 50h0M107.5 85.9h0M20.9 81.6h0M102.2 72.2h0M107.3 31.8h0M34.7 103.9h0M30.8 15.2h0M17.8 105.9h0M98.7 23.8h0M89 23.7h0M74.6 1.3h0M69.2 90.1h0M60.6 75.3h0M14.1 54.9h0M94 44.8h0M89.3 71.9h0M97 88.7h0M36.6 98.3h0M98 51.3h0M86.2 49.7h0M69.1 39h0M55.4 37h0M107.3 73.6h0M73.6 62.7h0M55.7 20.9h0M77.6 53.5h0M41.3 61.5h0M15.7 77.8h0M93.9 44h0M19.4 116.2h0M74.4 38.2h0M10.8 68.8h0M26.3 107.8h0M86 33.2h0M48.9 10.4h0M26.9 67h0M105.9 51.2h0M115.5 30.7h0M12.4 100.7h0M45.3 33.6h0M53.3 73.4h0M26.4 12.8h0M71.7 78.9h0M67.3 19.2h0M103.3 51.6h0M65 106.2h0M16 59.5h0M50.9 76.6h0M27.1 28.9h0M27.2 67h0M36 111.3h0M104.5 87.3h0M48.8 99h0M68.9 93.9h0M114.6 14.6h0M91.4 108.5h0M48.6 41h0M3.8 107.5h0M24.8 1h0M10.7 61.8h0M81.9 108.7h0M79.7 12.2h0M111.6 104.6h0M96.9 108h0M100.3 82h0M92.1 2.7h0M118.8 0.5h0M51.1 68.3h0M61.2 40.7h0M61 37.9h0M79.4 3.6h0M41.4 78.2h0M54.8 2.4h0M55.1 111.3h0M62.7 87.7h0M45.9 117.6h0M63 97.3h0M75.1 97.6h0M47.1 111.4h0M118.6 107.8h0M108.9 43.7h0M40.6 107.1h0M99.1 70.9h0M67.2 1.4h0M67.1 7h0M63.2 26.8h0M72.9 18.9h0M39.3 92.4h0M69.5 16h0M118.2 2.6h0M49.5 85.7h0M69.7 78.3h0M108.4 11.5h0M61 30.2h0M71.9 55.7h0M75.5 96.1h0M60.2 50.8h0M66.8 20.2h0M109.5 46.8h0M59.8 100.8h0M100 119.7h0M85 63.8h0M51.6 93.4h0M74.5 1.3h0M67.6 80.3h0M43.1 99.6h0M89 106.3h0M35.1 79.4h0M67.3 40.9h0M35.7 10.6h0M100.3 33.1h0M41.6 30.5h0M66.8 59.3h0M104 9.5h0M41.2 100.3h0M95.3 7.7h0M53.6 119.2h0M117.5 38.2h0M89.3 39.7h0M7.8 107.7h0M15 119.1h0M54.2 102.3h0M57.2 108.1h0M89.6 20.7h0M2.9 20.4h0M72.8 13.2h0M8.8 45.8h0" stroke="#1c4af4" stroke-width="1.90" stroke-linecap="round" fill="none" opacity="0.9"/></pattern>
<pattern id="pG" width="120" height="120" patternUnits="userSpaceOnUse"><path d="M28.3 12.4h0M47.5 18.6h0M8 48.2h0M110.2 96.1h0M91.8 26.6h0M64.4 33.2h0M20.7 12.7h0M25.7 111.3h0M99.5 96.8h0M96.1 23.2h0M37.2 75.2h0M87.8 102.6h0M105.6 10.4h0M72.7 80.6h0M60.7 21.3h0M56.8 10.7h0M112.2 103.9h0M65.7 36h0M109.1 68.7h0M105.9 101.8h0M61 49.7h0M71.9 51.7h0M19.4 36.6h0M97.5 5.2h0M5.6 75.2h0M33.7 64.2h0M56.5 41.1h0M119.7 23.5h0M49.5 24.3h0M75.9 33.2h0M42.7 89.6h0M38.5 67h0M108.5 12.1h0M7.4 27.5h0M91.8 73.9h0M28.5 39.7h0M21.3 55.1h0M5.1 83.7h0M107.5 114.6h0M88.2 115.2h0M2.2 34.7h0M115.9 93h0M49.3 113.2h0M74.5 98.2h0M35.2 23h0M53.3 16.4h0M45.8 115.4h0M39.8 1.1h0M5.4 20.3h0M94 43.5h0M34.8 11.7h0M117.8 50.9h0M25 7.1h0M6.6 20.2h0M81.2 18h0M4.9 58.9h0M29.9 119.7h0M14.7 63.5h0M92.9 49.1h0M118.5 57.3h0M29 49.3h0M4.4 50.5h0M29.8 106.7h0M99.7 59.8h0M3.8 30.5h0M29.1 25h0M27.8 104.4h0M17 6.2h0M111.4 67.8h0M118.9 48.4h0M108.1 78.5h0M94.9 89.4h0M59.3 11.1h0M25.3 104.9h0M108 110.9h0M40.4 78.8h0M95.9 77.1h0M97.8 63.4h0M78.6 82.3h0M32.2 110.7h0M114.8 8.9h0M116.5 115.4h0M80.2 5.3h0M107.9 15.3h0M116.2 80.1h0M7.3 20.1h0M76.2 68.3h0M89.6 111.3h0M26.2 0.4h0M110.7 1.6h0M105.2 13.9h0M97.2 94h0M105.3 66.1h0M105.4 24.2h0M80.6 39.7h0M107 92.8h0M56.6 63.2h0M3.2 4.1h0M71.3 58.7h0M103.8 73h0M16.7 43.5h0M92.1 62.8h0M1.3 100.5h0M99.3 10.2h0M65.2 45.7h0M94.5 37.3h0M28 58.4h0M116 11.4h0M13.7 74.5h0M106.2 61.5h0M52.1 102.9h0M93.2 8h0M105.8 23.5h0M36.3 100.4h0M50.7 95.8h0M20.1 104.9h0M21.2 17.9h0M59.3 40.6h0M65 108.5h0M85.3 0.7h0M37.4 65.4h0M58.4 85.9h0M58.1 9.1h0M29.5 101.7h0M42.8 92h0M118.3 75.2h0M81.2 73.1h0M37.6 109.5h0M56 109.4h0M36.7 104.1h0M94.4 73.6h0M53 16.9h0M92.5 43.5h0M79.5 16h0M9.9 17.3h0M97.1 21.3h0M108.2 44.6h0M69.1 42.1h0M74.5 11.2h0M48.3 112.3h0M21.6 78.5h0M39.2 36.1h0M2.8 2.4h0M113.9 99.6h0M96.1 96.9h0M114.4 19h0M70.1 59.4h0M68.9 112.5h0M91.2 116.2h0M14 78.2h0M81 89.4h0M74.1 99.8h0M36.3 111.3h0M48.7 71.9h0M107.6 84.4h0M37.2 27.6h0M39.2 75.2h0M119.6 107.9h0M48 48.1h0M98.1 34.1h0M49.4 1.6h0M22.1 64.8h0M83.2 73.8h0M43.7 114.1h0M74.8 18.7h0M8.1 116.9h0M118.5 110.4h0M72.5 37.5h0M11 30.9h0M26.7 111.4h0M107.1 93.4h0M17.8 28.6h0M35.9 113.8h0M19.6 94.9h0M81.7 65.7h0M115.1 31.5h0M62.9 18.9h0M11.6 3.8h0M38 14.6h0M7.4 119.1h0M34.7 106.8h0M84.2 87.8h0M78.6 114.3h0M105.4 86.3h0M67.2 83.3h0M86.8 66.3h0M60.3 18.5h0M101.3 58.1h0M8.1 20.2h0M105 30.7h0M47 81.9h0M103.4 39.4h0M46.4 50.8h0M3.4 105.2h0M2.3 115.2h0M18.3 18.8h0M101.8 98.8h0M27.8 66.4h0M57.2 86.2h0M22.2 99.1h0M119.6 84.8h0M110.5 112.5h0M45.5 101.7h0M100.1 70.5h0M12.9 74.3h0M109.4 36.6h0M77.6 107.7h0M72 4.5h0M75.8 30.7h0M103 79.4h0M36.9 107.5h0M75 40.7h0M100.1 107h0M107.2 106h0M79 83.8h0M72.6 63.3h0M118.5 42.4h0M9.8 85.6h0M59.8 65.5h0M71.7 30h0M24.1 8.6h0M93.8 109h0M83.6 14h0M117.4 99.2h0M61.1 0.1h0M101.3 74.8h0M74.7 2.2h0M88 4.1h0M57.4 17.4h0M43.2 106.8h0M89.8 97.9h0M35.8 46.6h0M72.6 4.1h0M49.5 117h0M90.5 103.5h0M35.9 82.9h0M94.7 84.5h0M52.5 21h0M2.2 106.4h0M111.8 33.1h0M90.7 48.9h0M75.3 101h0M38.5 74.4h0M30.7 61.3h0M3.6 31.6h0M34.5 109.7h0M15.9 91h0M10.4 118.4h0M19.9 11.1h0M25.4 112h0M80.3 106.9h0M59.9 13.7h0M40.9 54.7h0M118.8 20h0M29.3 101.2h0M13.7 116.6h0M35.6 68.1h0M79.3 108.8h0M9.1 101.6h0M21.5 86.2h0M3.3 92h0M21.7 24.7h0M4.2 38.9h0M39.4 118h0M72.8 43.7h0M118.8 20.6h0M25.8 114.7h0M114.2 82.1h0M117.4 6.9h0M108.4 84.5h0M80.2 101.2h0M12.5 23.9h0M16.5 57.5h0M65.5 64.9h0M43.5 89.2h0M100.6 91h0M4.5 18.3h0M26.3 28.6h0M68.9 23.3h0M75 41.3h0M43.6 85h0M113.3 22.9h0M41.8 117.8h0M25.5 3.2h0M22.9 99h0M87.8 112.6h0M59.7 5h0M36.7 86.3h0M47.1 16.8h0M45.1 55.6h0M42.7 53.6h0M16.4 3.6h0M94 87.9h0M50.2 13.8h0M35.5 67h0M107.4 57.8h0M116.8 63.2h0M21.7 73.8h0M72 71.9h0M87 2.7h0M52.4 96h0M16.6 5.1h0M22 34.3h0M52.2 37.7h0M76.1 20.4h0M41.5 81.1h0M65.3 115h0M112.3 31h0M40.2 64.5h0M65.3 43.9h0M103.5 23.6h0M56.5 14.3h0M106 71.5h0M118.5 17.2h0M85.3 71.6h0M6.2 98.4h0M104.9 9.7h0M113 94.2h0M72.5 65.3h0M31.6 6.9h0M57.1 103.9h0M25.1 56.7h0M33.9 82.9h0M115.2 106.6h0M34.5 50h0M0.3 63.5h0M102.4 101.4h0M8.6 52h0M9.6 50.9h0M109.5 34h0M101.5 114.6h0M98.2 24.2h0M110.2 110.7h0M119.8 1.3h0M0.4 35h0M62.1 50.9h0M11.1 76.9h0M80.1 75.6h0M61.3 65.9h0M82.8 7.7h0M52.3 16.3h0M12.5 91.4h0M38.9 40.7h0M33.3 70.5h0M14.2 76.9h0M8.4 114.6h0M18.8 92.1h0M65.4 51h0M36.5 43.1h0M91.1 63h0M64.4 29.7h0M75 20.5h0M57.9 78.2h0M65.3 69.7h0M68.4 23.3h0M114.9 82.1h0M87.1 114.6h0M54.2 39.9h0M36.5 38h0M36 37.9h0M25.1 58.1h0M35 44.2h0M79.6 37.8h0M103.6 95.7h0M39.4 100.1h0M21.2 11.5h0M119.4 4h0M0.7 104.1h0M0.3 78.6h0M66.7 26.7h0M29.5 116.1h0M47.2 29h0M53 87.9h0M34.9 10.7h0M94.9 11.5h0M6.6 0.6h0M119.2 52.1h0M88.5 66.9h0M117 41.2h0M41.9 81.9h0M0.1 43.6h0M91.1 68.7h0M58.8 112.4h0M51.9 87.7h0M47.1 10.4h0M46.5 25.3h0M3.3 34.3h0M15.1 54.8h0M88.5 91h0M106 38.1h0M80.3 106.7h0M47.5 109.6h0M12.3 110.5h0M105.7 117.6h0M99.7 85.3h0M52.2 86.1h0M105.4 69.1h0M74.6 110.9h0M34.2 40.2h0M4.3 105.3h0M75.5 80.7h0M28.6 22.1h0M57.4 105.2h0M42.6 50.6h0M50.1 101.3h0M14.9 103.9h0M1.4 83.9h0M91.6 56.3h0M89 33.7h0M16.9 43.2h0M31.8 86h0M67.7 79.3h0M117.1 92.8h0M95 116.4h0M111.5 89h0M41.7 61h0M90.7 94.4h0M108 89.1h0M80.3 30.5h0M74.6 22.4h0M77.6 21.1h0M2.1 114.6h0M104.4 36.6h0M5.4 98.2h0M92.6 18.6h0M98.1 100.6h0M68.9 32.9h0M6.8 7.6h0M52.9 86.6h0M76.6 27h0M95.8 7.6h0M73.7 20.9h0M0.7 23.2h0M95.5 26.4h0M1.7 57.9h0M41.9 68.9h0M69.3 84.9h0M109.9 40.6h0M76.2 14.2h0M30.1 11.5h0M103.5 40.5h0M85.3 105.3h0M46.2 24.8h0M29.8 58.7h0M46.5 8.4h0M102.1 76.7h0M104.6 101.4h0M87.1 98.9h0M84.5 51.4h0M98.3 110.1h0M12.9 17.3h0M20.4 54.7h0M103.7 63.2h0M102.6 44h0M67.9 29.6h0M76.8 32.4h0M0.9 47.8h0M67.6 105.7h0M34.4 111.2h0M97.4 18.9h0M93.4 112.3h0M115.4 83h0M46.8 65.3h0M78.1 73.6h0M22.7 106.2h0M64.9 8.6h0M36.7 9.7h0M55.3 11.3h0M63.6 33.4h0M99.3 92.3h0M22.5 97.4h0M69.8 32.4h0M109.3 0.8h0M47.9 71.8h0M19.5 59h0M106.1 41.2h0M85 22.8h0M117.1 115.7h0M19.8 91.7h0M40.1 3.8h0M25.3 87.5h0M55.8 63.5h0M15.3 20.6h0M43.8 61.6h0M98.5 53.9h0M39.4 109.6h0M82.8 90.7h0M96.7 58.2h0M31.2 13.4h0M78.9 89.8h0M108.3 110.3h0M60.4 58.7h0M115.8 10.3h0M45 65.5h0M72.2 73.3h0M19 61h0M21.1 46.1h0M21.5 38.4h0M75.2 47.9h0M20.2 56.3h0M80.4 36.2h0M32.6 52.3h0M83.5 4.4h0M80.8 6.6h0M106.8 22.9h0M98.9 4.1h0M59.2 30.8h0M93.1 92.5h0M15.2 6.2h0M87.6 50.3h0M44.7 41.8h0M44 69.2h0M46.6 15.5h0M56.6 118.6h0M92 86.2h0M111.3 53.4h0M43.5 95.1h0M12.3 92h0M17.8 74.8h0M61.7 92.6h0" stroke="#3ce048" stroke-width="1.60" stroke-linecap="round" fill="none" opacity="0.95"/><path d="M74.7 89h0M95.4 113.1h0M88.8 110.7h0M3.5 55.9h0M113.2 77.9h0M108.1 13.6h0M56.3 29.6h0M65.3 68.9h0M1.6 26h0M33.5 110h0M91.9 19.2h0M95.7 16.7h0M74.1 15.2h0M0.2 104.6h0M25.1 25.9h0M117.9 104.7h0M34.7 115.4h0M64.7 81.3h0M24.6 112.9h0M82.9 116h0M107.2 35.9h0M43.3 19.9h0M17.5 7.8h0M36.2 72.4h0M0.4 81.4h0M40.5 37.2h0M98.2 57.7h0M37.9 57.7h0M84.6 6.8h0M117 2.7h0M90 101.4h0M2.2 94.5h0M43.9 69.4h0M1.1 5.6h0M21.7 114.6h0M23.6 90.7h0M111.6 113h0M41.3 42.6h0M63 93.1h0M13 89.8h0M95.7 103.2h0M4.4 113.5h0M10.9 40.9h0M73.3 110.2h0M40.8 110.9h0M65.4 37.5h0M38 21.3h0M9.4 17.9h0M82.7 119.6h0M19.4 5.8h0M118.4 64h0M48.7 28.5h0M71.3 99.2h0M54.7 50.6h0M6.7 109.9h0M3.9 59.2h0M100.6 15.7h0M87.8 114h0M75.6 94.6h0M12.8 52.1h0M17.9 101.4h0M35.4 54.4h0M119.9 102.3h0M117.1 54.4h0M58.6 87.5h0M57.5 34.9h0M48.5 17.6h0M45.2 118.6h0M115.2 75.2h0M59.9 40.6h0M10.7 32.7h0M93.8 104.1h0M43.4 94.3h0M93 83.4h0M79.7 91.2h0M43.6 84.5h0M33.7 58.3h0M92.4 82.9h0M35.3 113.5h0M78 69.7h0M1.4 65.6h0M30.1 80.6h0M55.6 98h0M77.7 95.7h0M41.7 77.3h0M88.5 99.4h0M42 101.1h0M104.4 82.6h0M117.1 114.8h0M62.2 63.5h0M19.9 100.4h0M112.5 57.3h0M83 86.4h0M87.6 20.6h0M93.6 69.7h0M79.9 50.5h0M74.8 93h0M76.4 86.4h0M3.3 19.2h0M52.9 78h0M26.3 82.3h0M75.7 5h0M56.6 27.1h0M6.5 16h0M38.1 21.8h0M23.2 4.3h0M55.8 45.6h0M73.4 70.8h0M28.5 108.4h0M0.1 48.6h0M33.4 49.2h0M13.8 99.8h0M44.9 4.3h0M73.6 11.4h0M65.4 40.7h0M69.7 115h0M98.2 50.3h0M97.6 77.1h0M44.3 17.1h0M71.5 67.7h0M114.9 116.2h0M73 42.1h0M107.2 0.1h0M13 67.9h0M73.8 16.9h0M75.5 107h0M45.1 51.8h0M27.2 35h0M116.7 45.6h0M115.3 109.6h0M71.5 31.2h0M117.7 59.6h0M49.9 38.3h0M118.1 59h0M34.4 57.2h0M14.6 74.6h0M53.2 35.2h0M93.8 99.2h0M1.6 63.9h0M32.9 112.2h0M93.8 29.5h0M32.1 18.6h0M118.7 35.2h0M73 57h0M77.4 72.5h0M89.2 14.2h0M91.2 36.1h0M64 40.3h0M35.6 63.6h0M55.7 43.3h0M89.4 70.9h0M4.4 30.3h0M54.7 110h0M106.6 65.5h0M1.7 93.4h0M51.3 69.1h0M85 75.9h0M57.8 109.4h0M46.3 47h0M102.2 23.6h0M35.6 99.6h0M7.9 100.4h0M83.4 51.9h0M34.4 93.7h0M109.3 17.1h0M57.4 65.9h0M59.7 39.7h0M18.4 70.3h0M97.4 8.2h0M27.6 98.4h0M95 79.6h0M3.1 86.7h0M117.4 119.8h0M84.1 5.9h0M101 26.3h0M77.5 114.3h0M85.5 16.2h0M35.1 110.2h0M18 73.3h0M49.7 19.3h0M74.7 5.2h0M13 45.5h0M8.6 6.9h0M69 89.1h0M105.4 16.1h0M51.8 37.7h0M72 58.7h0M112.6 44.9h0M6.7 83.7h0M18.1 75.8h0M60.7 109.3h0M66.6 74.5h0M31.6 66.2h0M30.5 90.1h0M62 16.1h0M28.1 44.5h0M88.4 21.5h0M85.6 78.6h0M10.2 80.2h0M10.9 15h0M71.3 28.6h0M105.2 57.7h0M38.8 95.6h0M3.5 87h0M6.4 18.1h0M114.2 81.7h0M26.8 13.9h0M116.7 79.8h0M98.5 16.8h0M75 42.5h0M28.2 40h0M73.7 41.8h0M46.3 16.4h0M99.7 77.7h0M96.5 52h0M102.2 62.1h0M71.1 68.8h0M88.8 47.5h0M11.6 4h0M24.3 4.7h0M106.7 57.7h0M91.2 0.1h0M56.4 106.8h0M74.3 51.4h0M55.9 12h0M18.6 19.1h0M45 46.3h0M105.6 18.3h0M30.5 33.3h0M19.4 34.4h0M28.2 57.8h0M3.9 110.9h0M44.3 112.6h0M82.5 80.9h0M56.6 113.4h0M14.1 80.2h0M34.9 80.9h0M87.5 19.6h0M24.1 3h0M27.7 9.4h0M48.1 116.8h0M43.7 37.4h0M56.2 34h0M87.9 86.2h0M19.6 28.9h0M80.7 112.9h0M77.5 51.7h0M117.1 0.8h0M7.3 93.5h0M49.2 5.4h0M65.8 118.8h0M62.3 42h0M11.3 8.5h0M107.9 58.9h0M112.3 6.5h0M29.2 6.1h0M47.7 7.2h0M30.7 48.9h0M36.7 6.2h0M4.5 116.6h0M21.5 61h0M48.3 63.8h0M10.1 37.7h0M13 65h0M110.6 71.8h0M102.8 25.7h0M2.1 64.8h0M58.4 68.6h0M45.2 75h0M87.1 109.6h0M36.9 53.9h0M99.2 26.9h0M13.9 37.4h0M10.5 92.7h0M98.3 37.5h0M15.6 9.8h0M29.4 10.1h0M51.4 69.2h0M29.4 7.4h0M84.1 5.8h0M24 34.3h0M44.9 11.8h0M50.5 37.7h0M90.3 66.7h0M107.5 78.5h0M91.2 69h0M53.1 98h0M78.7 114.6h0M87.4 84.1h0M32.1 97.4h0M45.9 15.6h0M7.9 20.3h0M31.5 81.1h0M34.3 7.6h0M91.7 66.9h0M3.3 6.1h0M15.6 42.9h0M103.2 113.9h0M73.4 27.7h0M51.5 43.5h0M39.6 1.5h0M70.1 99.2h0M87.2 11.4h0M63.6 20.5h0M85.1 53.5h0M112.6 95.4h0M14.2 38h0M109.8 55.3h0M52.1 53h0M92.1 112.4h0M63.9 116.4h0M71.5 12.4h0M97.7 50.3h0M6.3 117.4h0M3.9 69.2h0M57.8 105.8h0M47.1 25.9h0M33.2 24.1h0M67.5 42.8h0M90.1 29h0M42.2 29.8h0M117.9 100.8h0M102 74.2h0M48.1 17.2h0M99.8 58.8h0M4.5 20.3h0M11.8 86.1h0M108 23.9h0M95.6 38.9h0M81.9 103.6h0M74.8 96h0M45.2 1.2h0M61.4 70.4h0M22.2 46.7h0M38.1 3.2h0M37.4 45.9h0M57.1 84.4h0M47.9 117.9h0M97.9 110.9h0M83.1 80.4h0M64.4 95.8h0M43.5 71.2h0M81.5 62.7h0M34.1 9.3h0M10.5 42.7h0M69.6 91.2h0M85.7 36.8h0M111.5 33h0M85.9 8.6h0M90.4 80.4h0M114.8 107.7h0M82.5 100.6h0M88.6 73.3h0M25 62h0M107.5 28.7h0M117 65.3h0M47.2 0.4h0M46.8 21.4h0M78.4 107.9h0M109.2 73.6h0M46.4 13.1h0M82.7 66.4h0M85.8 44.9h0M106.4 25.5h0M36.7 32.1h0M74.7 107.7h0M20.1 75.9h0M92 27h0M7.5 67.9h0M99.6 105.4h0M87.4 50h0M51 63.5h0M108.6 36.3h0M33.7 72.6h0M116 22.5h0M3.7 13.9h0M67.5 72.4h0M22.1 22.8h0M71.3 77.6h0M82.8 87.5h0M7.4 58.2h0M100.2 114.9h0M38.2 102h0M77.4 111.2h0M27.5 83.6h0M100.9 57.2h0M12.1 23.2h0M18.8 11.1h0M18.2 73.9h0M12.6 91h0M88.3 98h0M96.4 85.6h0M110.9 114.8h0M75 115.8h0M12.4 12.3h0M7.7 24.8h0M44.9 55h0M81.7 89.2h0M10.1 48.4h0M65.2 45h0" stroke="#2cc050" stroke-width="1.30" stroke-linecap="round" fill="none" opacity="0.8"/><path d="M95.2 98.6h0M58.2 31.4h0M0.1 79.5h0M56.4 91.2h0M44.8 92.4h0M32.7 96.2h0M87.6 49.7h0M64.6 81.8h0M23.2 66.4h0M96.6 31.9h0M96.4 82.3h0M101.3 40.3h0M11.2 96h0M96.6 53.4h0M11.3 23.7h0M76.2 34.9h0M114.2 70.6h0M24.1 78.6h0M43.2 111.9h0M109.1 61.8h0M77.3 83.7h0M96.7 117.2h0M3.4 43.4h0M72.2 36.5h0M70.7 10.8h0M105.6 63h0M14 79.5h0M37.5 23.5h0M58 16.6h0M25.2 103.9h0M83.8 1.5h0M93.4 2h0M39.9 108.5h0M74.4 36.7h0M45.3 46.7h0M15.2 120h0M6.5 50.7h0M89.6 47.7h0M117.7 29.4h0M117.5 107.1h0M80.4 106.7h0M53.7 99.8h0M95.5 62h0M56.5 84.7h0M49.1 10.3h0M89.6 31.9h0M58.5 94.1h0M20.7 2.6h0M14.8 70.7h0M43.3 30.8h0M54.2 111.3h0M30.6 49.3h0M105.5 73.5h0M32.2 57h0M57.4 17.1h0M45.3 36.7h0M96.6 38.8h0M79.1 116.5h0M110.8 45.1h0M72.4 38.4h0M47.8 58.6h0M95.2 112.4h0M34.9 0.7h0M53.9 6.9h0M3.6 92.8h0M13.5 86.2h0M43.4 112.6h0M102.4 7.5h0M23.1 113.7h0M73.6 50.7h0M93.9 97.6h0M59 56.3h0M12 43.4h0M17.4 75.1h0M72.8 17.3h0M75.4 11.7h0M12.7 77.5h0M55.5 108h0M75.5 84.2h0M15.2 99.9h0M10 74.2h0M109.4 108.9h0M107.2 54.2h0M83.3 95h0M16.4 113.2h0M109.1 52.9h0M93.4 53.6h0M33.2 85.5h0M7.6 96h0M117.4 34.3h0M112.8 10h0M103 33.6h0M115.9 51.7h0M110.7 3.8h0M10.3 98h0M76.6 64.3h0M3.9 20.8h0M44.5 6.2h0M119.2 91.8h0M114 84.1h0M41.2 9.3h0M87.8 13.7h0M65.7 55.7h0M59.3 9h0M8.9 62.4h0M3.7 63.1h0M18 33.8h0M18.1 68.2h0M46.6 26.8h0M26.6 67.7h0M109.3 50.3h0M19.6 38h0M28.8 68.7h0M94.4 68.3h0M22.6 39h0M45.7 52.9h0M47.7 119.7h0M66.1 79.4h0M86 77.4h0M96.6 44.7h0M80 116.7h0M19.7 75.1h0M46.2 7.3h0M4.8 91.1h0M13.8 85.3h0M12 44.1h0M3.9 65.1h0M94.4 27.1h0M67.8 110.7h0M35.2 56.5h0M86.9 103.7h0M20.2 79.4h0M14.4 13.5h0M118 6h0M110.4 90h0M81.1 87.5h0M78.1 34.4h0M53.2 24.3h0M103.1 93.5h0M94.5 25.7h0" stroke="#66ff50" stroke-width="2.30" stroke-linecap="round" fill="none" opacity="1"/></pattern>
<pattern id="pY" width="120" height="120" patternUnits="userSpaceOnUse"><path d="M38.9 18.1h0M78.1 8.7h0M64.3 43.9h0M7 60.9h0M4.5 52h0M8.4 10.9h0M50.9 99.2h0M14.9 26.8h0M75.3 113.7h0M69.3 47.6h0M117.2 5.6h0M103 34.8h0M17.3 14.1h0M37 97.9h0M21.7 69.8h0M76.7 44.7h0M65.7 7.5h0M7.2 24.7h0M81.6 51.3h0M37.7 70.3h0M54.4 36h0M95.3 83.9h0M29.3 68.9h0M63 105h0M87.5 34.6h0M117.6 14.2h0M50.2 90.9h0M18.2 58.7h0M4.7 80.2h0M91.7 68.8h0M105.1 37.6h0M83.4 71.3h0M69.6 54.7h0M100.8 113.4h0M56.9 79.7h0M7.3 84.2h0M77.7 119.2h0M98.6 34.2h0M46.3 80.2h0M2.7 55.4h0M20.2 14.1h0M7.1 92.2h0M15.5 29.7h0M46.9 104.6h0M9.7 53.9h0M65.9 106h0M98.3 103.7h0M33.4 49.8h0M43.1 106.1h0M114.9 18.1h0M21.1 27.8h0M28 58.2h0M70.7 31.5h0M0.5 50.3h0M44.3 68h0M114.4 82.9h0M61.9 74.1h0M81.1 6.5h0M107.9 93.6h0M104.9 95.7h0M47.1 47.9h0M12.4 76.1h0M7.5 8.1h0M25.1 19.5h0M40.8 6.3h0M0 18.2h0M12.2 43.6h0M3.1 104.9h0M73.7 17.8h0M30.3 41.7h0M43.7 14.7h0M101.9 119.2h0M55.9 58.1h0M10.3 12.3h0M41.1 31.8h0M99.5 19.4h0M2.8 114.1h0M63.4 17.6h0M65.2 3.2h0M63.4 117.4h0M103.6 83.5h0M31.3 44h0M20 92.6h0M63.9 93.5h0M39.6 26.8h0M97.4 118.2h0M102.3 96.7h0M98.2 88.8h0M27.2 62.1h0M42.7 3.5h0M3.4 33.5h0M31.1 83.1h0M114.8 53.7h0M112.4 118.6h0M114.6 43.8h0M26.5 27.2h0M23.6 24.5h0M74.9 108h0M100.9 57.5h0M78.4 96h0M10.2 79.3h0M109.2 93.9h0M90 57.4h0M21.4 94.7h0M39.9 96.1h0M116.6 47.5h0M48.2 113.6h0M87 20.4h0M15.2 18.1h0M108.6 96.8h0M17.5 99.2h0M117.6 78.9h0M42 65.8h0M15.7 1.7h0M116.5 78h0M63.2 112h0M52.1 104.6h0M99.1 25.3h0M30.2 35.2h0M28.9 70.4h0M31.1 50.3h0M15.7 109.2h0M42.5 55h0M70 108.5h0M50.5 110.1h0M60.2 63.8h0M62.8 2.2h0M52.8 22h0M0.5 95.9h0M20.7 56.8h0M87 66.8h0M39.1 62.2h0M66.7 94.1h0M12.7 67.2h0M29.8 33.2h0M92.7 60.9h0M67.4 91.2h0M109.5 53.2h0M73.5 60.7h0M61.5 83.1h0M54.3 64h0M57.4 113h0M83.9 105.2h0M113.1 31.2h0M67.1 113.2h0M100.8 16.5h0M14.6 53.1h0M8.7 28.9h0M8.8 80.3h0M94.1 107.6h0M18.5 85.9h0M79.2 17.2h0M105.9 116.1h0M26.4 114.3h0M47.8 58.5h0M118.8 99.9h0M19.4 51.8h0M61.9 40.7h0M23.5 38.2h0M86.7 2.3h0M66.5 52.9h0M2.2 39.8h0M74.9 61.5h0M7.7 118.2h0M94.6 116.6h0M12.6 31.9h0M4.8 93.5h0M32.5 15.5h0M50.7 109.4h0M98.3 31h0M17.9 110.3h0M68.5 84.1h0M10.7 6.9h0M82.6 51h0M8.7 112.6h0M76.1 96.2h0M10 102.7h0M8 103.5h0M54.5 40.7h0M66.4 111.2h0M32.1 15.5h0M63.2 28.6h0M13.1 19.4h0M6 24.2h0M37.4 36.6h0M91.1 34.8h0M60 21.3h0M41.6 2.2h0M30.1 1.8h0M88 66.1h0M22.7 57h0M112.2 12.8h0M98.3 51.9h0M59.4 100.2h0M47.2 60.8h0M82.5 117.9h0M41.1 99.9h0M84.8 76.3h0M48.6 41.7h0M6.5 15.6h0M8.5 88.9h0M30.7 19.6h0M10.1 101h0M104.5 80.5h0M33.8 29.1h0M35.2 55.1h0M18.9 53.5h0M31.6 115.4h0M116.7 65.6h0M29.3 115.9h0M37.1 42.8h0M0.1 45.8h0M57 60.3h0M24.1 60.6h0M0.6 31.7h0M10.8 47.9h0M5 2.7h0M36.5 27.9h0M70.3 63.5h0M90.1 78.9h0M85.9 105.5h0M46.7 39.1h0M118.2 17.9h0M86.9 77.2h0M5.3 100.2h0M107 75.3h0M88.1 97.5h0M16.7 62.9h0M60.5 100.2h0M96.6 99.2h0M70.1 107.1h0M81.9 83.2h0M27.6 3.7h0M16 43.3h0M12.6 100.3h0M67 75.3h0M75.1 81.7h0M58.7 0.4h0M95.7 89.8h0M60.4 64.2h0M79.1 7.9h0M88.4 30.3h0M8.9 31.9h0M87.5 24.6h0M88.8 117.1h0M59.3 45.9h0M57.5 82h0M92 74h0M77.1 9.3h0M17.7 30.5h0M89.2 36.5h0M68.1 1.5h0M7.3 32.3h0M80.6 83.1h0M81.1 34.9h0M62 55.8h0M56 14.2h0M107.2 23.9h0M117.4 112.4h0M2.1 55.1h0M98.4 116.2h0M53.9 32.2h0M25.2 113.5h0M25.3 69.8h0M17 62.9h0M114.3 15.9h0M98.4 61h0M106.4 84.4h0M27.8 107.7h0M58.3 3h0M0.4 59h0M54.1 36.2h0M16.9 41.3h0M37.9 100.8h0M0.2 90.1h0M100.7 14.4h0M111.2 85.6h0M108.2 34.8h0M44.7 47.1h0M119.9 70.7h0M43.3 51.4h0M33 5.8h0M12.2 100.2h0M34.3 112.3h0M29.9 31.9h0M61.3 22.8h0M44.8 114.7h0M106.1 97.4h0M75.7 109.6h0M112.9 65.9h0M86.3 5.9h0M87.9 54.1h0M90.3 77.3h0M34.3 5.9h0M111.2 15.3h0M56.7 41.2h0M35.7 88.7h0M117.2 31.2h0M78.7 36.1h0M66.9 47.3h0M20.1 19.4h0M24.9 108.7h0M59.6 26.4h0M108.8 119.6h0M54 16.8h0M23.1 10.9h0M41 10.9h0M28.7 31h0M68.4 106.5h0M90 49.5h0M49.7 62.9h0M45.2 40.6h0M7.4 33.3h0M116.1 15.1h0M60.4 75.6h0M103.5 25.9h0M32.5 29.8h0M48 53.5h0M114.5 101.8h0M104.7 2.6h0M3.9 85.1h0M107.5 56.8h0M70.5 0h0M47 111.2h0M99.1 102.7h0M116.7 29.8h0M13.1 18.5h0M62.7 81.8h0M113 86.6h0M77.7 91.8h0M54.9 66.2h0M4.7 93.9h0M27.9 110.4h0M77.5 36.5h0M15.4 30.2h0M76.4 83.8h0M13.5 8.4h0M62.9 69.9h0M46.6 26.8h0M72.1 1.3h0M36.2 55.3h0M115.1 77.3h0M106.1 57h0M28.2 29.6h0M115.3 84.6h0M36.9 2.6h0M59.8 80.9h0M50.4 30.9h0M80.1 111h0M27.2 4.1h0M40.6 50.5h0M81.9 23.8h0M95.6 88.7h0M60.6 24.6h0M116.4 37.4h0M98.4 27.7h0M26.6 91.3h0M35.4 114.2h0M59.5 22.5h0M26.8 50h0M79.8 113.9h0M17.6 47.2h0M25.6 116.9h0M17 6.2h0M7.2 47.2h0M107.8 106h0M87.9 119.7h0M111.8 39.5h0M22.3 112.3h0M89.6 3.8h0M79.7 45.4h0M44.9 39.8h0M20.3 0.3h0M33.6 42.2h0M114.7 14.8h0M115.7 24.9h0M42.8 98.6h0M98.6 51.9h0M5.9 56.8h0M44.7 110.3h0M23.2 43.7h0M107.6 3.6h0M49.3 97.4h0M92 4.9h0M4.2 7.5h0M110.4 30.8h0M89.7 107.8h0M40.7 32.7h0M114.9 74h0M31.5 86h0M38 33.1h0M0.5 90.7h0M110 76.1h0M113.2 2.9h0M28.1 57h0M114.8 114.5h0M46.4 30.1h0M51.6 59.2h0M111.4 22h0M96.3 88.6h0M98.7 92.7h0M72.9 39.3h0M38.3 43.4h0M93.9 9.5h0M23.7 90.3h0M29.7 7.8h0M4.1 66.3h0M39.1 117.6h0M106 118.5h0M31.8 10.1h0M11.6 59.8h0M85.2 53.6h0M28.1 50h0M74.4 80.9h0M89.8 101.6h0M79.7 14.5h0M100.9 35.3h0M68 44.8h0M88.6 23.9h0M29.7 29.4h0M18.4 106.1h0M69.4 39.2h0M47.5 119.1h0M60.9 27.8h0M97 78.4h0M118.9 12.3h0M57 98.3h0M100.9 109.7h0M4.8 35.2h0M14.3 22.7h0M116.8 70h0M111.6 44.7h0M103.9 53.9h0M31.2 93.3h0M113.5 12.7h0M71.5 74.4h0M26.1 44.2h0M17 24.5h0M30.6 71.9h0M78.2 24.4h0M1.4 39.3h0M81.4 22.2h0M37.5 24.4h0M95.4 65.8h0M7.6 12.2h0M47.4 66h0M76.7 10.9h0M19.6 83.4h0M49.2 34h0M36.9 114.4h0M37.5 68h0M42.9 50h0M103.7 119.6h0M43.7 23.7h0M87.4 24.4h0M0.7 108.2h0M50.9 98.4h0M48.7 105.9h0M55.3 19.5h0M1.8 66.2h0" stroke="#e0d820" stroke-width="1.60" stroke-linecap="round" fill="none" opacity="0.9"/><path d="M27.2 115.5h0M15.2 84.6h0M10.2 29.7h0M119.9 25.1h0M77 55.1h0M54.4 59.4h0M23.1 99.7h0M10.7 28.1h0M2.4 32h0M48.9 108.2h0M45.5 13.6h0M31 119h0M7.6 74.4h0M45.3 79.3h0M40.6 83h0M59.7 78h0M108.2 69.8h0M17.1 7.7h0M113.5 58.6h0M23.3 113.5h0M69.5 87.5h0M105.7 34.3h0M42.8 105.4h0M16.2 91.7h0M11.7 82.8h0M84.3 114h0M101.2 60.4h0M23.7 18h0M63.4 61.2h0M8.6 108.4h0M60.9 84.2h0M26.4 29.3h0M1.4 41.2h0M32 50.8h0M45.2 100.1h0M107 21h0M47.6 19.9h0M79.6 117h0M24.2 92h0M36 1.6h0M91.7 41h0M20.4 52.3h0M27.8 49.2h0M53.5 50.2h0M70.6 34.6h0M11.4 10.2h0M12.8 62.5h0M43.2 96.9h0M60.6 85h0M117.6 7.6h0M2 16.8h0M46.4 68.8h0M89.3 42.2h0M115.8 0.4h0M100.3 25.2h0M105 4h0M115.8 91.1h0M118.9 69.6h0M21.3 116.4h0M53 10h0M72.6 59.7h0M56.8 18.5h0M14.6 69.7h0M54.3 15.2h0M52.7 87.1h0M85.9 56.6h0M47.3 43.3h0M27.1 23.7h0M53.5 13h0M87 85h0M73.4 2.7h0M43.7 51.9h0M11.2 116.1h0M90.7 60.3h0M84.6 24.1h0M27.5 63.1h0M89.3 77.7h0M0.8 73.6h0M109.1 89.2h0M111.3 117.8h0M26.8 35.6h0M65.7 117.2h0M44.3 113h0M102.1 62h0M75 114.8h0M94 35.5h0M101.5 23.5h0M44.4 115h0M101.6 37.4h0M34.9 73.6h0M101.1 82.1h0M112.3 87.4h0M98.5 72.6h0M43.5 51.3h0M58.8 63.5h0M100.6 32.3h0M8.2 88h0M32.5 50.4h0M14 99.5h0M32.9 35h0M96.5 60.5h0M33.3 106.6h0M49.4 43.4h0M115.9 94.8h0M89.7 30h0M97.6 71.6h0M99.6 44.2h0M93.7 95.2h0M46.6 78.6h0M93.6 119.2h0M110.5 94.3h0M16.4 73.2h0M82.2 10.4h0M55.5 104.2h0M108.7 111h0M11.1 72.9h0M103.8 78.3h0M38.4 4.6h0M110.4 103.1h0M78.4 43.9h0M99.4 97.8h0M87 72h0M38.3 35.6h0M42.9 39.2h0M62.4 13.7h0M86.6 41.8h0M19.2 30.6h0M46.7 51.7h0M93.9 12h0M26.7 35.2h0M21.2 89.9h0M13.1 6.1h0M66.7 88.3h0M99 67.1h0M39.2 105.8h0M88.3 57.5h0M67.5 112.3h0M119.7 111.7h0M15.9 39.2h0M48.9 20.3h0M91.4 7.3h0M106.5 70.3h0M73.7 49.8h0M112.4 69.4h0M107.6 110.7h0M83.1 118h0M58.8 44h0M101.3 63.4h0M37.1 81.6h0M57.1 15.3h0M100.5 60h0M116.6 64h0M112.4 34.7h0M26.1 63.2h0M92 99h0M77.7 14.9h0M47.3 4.2h0M44.6 113.4h0M41.6 83.9h0M74.6 17.2h0M82.6 9.6h0M22.2 69.6h0M15.3 115.7h0M51.1 75.6h0M115.8 13h0M119.9 4.8h0M72.1 78.7h0M118.3 43h0M113.6 78h0M57.2 20.4h0M28.3 43.8h0M41.6 44.6h0M97 45h0M75.4 4.6h0M16.9 85.2h0M106.9 37.6h0M3.9 27.9h0M43.3 44h0M67.4 36.2h0M77.6 94.3h0M94 89h0M70.1 31.3h0M101 34.7h0M103.2 53.7h0M75.5 59.9h0M78.5 40.9h0M69.4 88.4h0M43.4 72.1h0M54.8 56.4h0M46 65.6h0M85.1 20.8h0M17.5 98.8h0M10.6 95.2h0M91.1 26.1h0M76.3 30.4h0M105.8 23.7h0M13.9 4.4h0M86.2 25.4h0M37.7 117.2h0M88.3 88.5h0M69.1 76.9h0M1.3 97.5h0M39.5 102.6h0M49.7 109.4h0M0.1 117.6h0M11.5 61.3h0M57.8 118.4h0M86 117.8h0M108.7 51h0M17.7 17.5h0M85.1 114.2h0M79.8 41.5h0M71.7 78.8h0M30.4 83.3h0M23.9 3.3h0M7.7 58.6h0M83.5 27.1h0M47.6 83.2h0M31.6 62.7h0M72.3 48.7h0M25 83.1h0M84.1 22.7h0M96.9 78.6h0M104 93.6h0M59.3 85.9h0M37.7 78.4h0M9.9 41.5h0M60.7 106.3h0M82.1 109.1h0M104.3 116.5h0M74.1 74h0M56.3 26.5h0M95.6 73.2h0M19.4 28.8h0M26.5 86.7h0M71.7 24.1h0M82.5 67.6h0M32 53.3h0M119.1 16.9h0M28.4 71.3h0M100.8 110.6h0M47.9 92.3h0M14.2 46.3h0M102.8 79.8h0M53.6 71.8h0M58.5 65.8h0M106.1 117.1h0M24 90.6h0M113.4 72.9h0M60.1 44.7h0M58.1 69.7h0M73.4 13.7h0M119.9 33.1h0M65.7 23.8h0M75.8 9h0M40.2 46.2h0M37.6 58.5h0M19 58.9h0M95.5 75.4h0M116.4 114h0M57.3 56.1h0M91.5 105.6h0M64.9 80.1h0M82.9 61.7h0M61 48.1h0M53.9 56.9h0M96.3 19.2h0M14.1 110.8h0M61.2 83.6h0M109.9 88.3h0M68 114.2h0M74.9 53.6h0M21.9 19.1h0M95.1 107.6h0M42.8 63.5h0M81.4 72.8h0M33 109.4h0M66.2 85.7h0M82.6 52.6h0M84.1 22.8h0M65.7 78.2h0M75.5 35.1h0M21.8 12.2h0M14.9 22.1h0M58.2 68.2h0M84.7 52.6h0M92.1 3.6h0M41.8 14.3h0M62 68.7h0M70 53.2h0M44.2 39.4h0M12.7 23.2h0M58.4 68.1h0M12.1 101.4h0M3.3 15.1h0M53.8 40h0M62.4 82.8h0M71.4 94.2h0M56.4 81.2h0M50.2 15.1h0M8.9 21.8h0M53.3 33.1h0M67.3 80.1h0M110.3 18h0M114.9 0.1h0M106.7 118.2h0M43.8 95.8h0M60.6 67.4h0M102.9 113h0M36 26.4h0M110 71h0M108.2 26.5h0M101.9 19.1h0M17.6 34.6h0M111.3 46.5h0M52.8 34.7h0M9 53h0M59.6 40.2h0M87.7 37.2h0M117.5 109.1h0M69.5 12.2h0M67.2 74.5h0M78 51h0M87 119.6h0M84.3 4.9h0M75.4 74.8h0M65.4 112.6h0M6.3 2.1h0M86.7 12h0M16.5 98.1h0M43.4 106h0M96.1 79.5h0M43.1 9.9h0M117.1 104.5h0M110.1 61.1h0M33.7 75.3h0M50.3 23h0M13.5 48.9h0M17.8 32.2h0M117.3 112h0M106.3 61.5h0M91.5 19.7h0M74.5 116.9h0M94.9 118.4h0M75.3 36.5h0M2.5 32.5h0M99.5 63.3h0M74.8 96.3h0M35.4 16.9h0M106.5 72.1h0M3.3 83.6h0M86.5 91.4h0M15.7 32.8h0M86.8 80.3h0M41.6 116.3h0M36.3 106.9h0M16.3 54.9h0M119.1 83.3h0M90.8 106h0M75.3 65.5h0" stroke="#b0a820" stroke-width="1.30" stroke-linecap="round" fill="none" opacity="0.8"/><path d="M55.6 44.8h0M16.6 104h0M0.8 60.3h0M107.8 9.7h0M66.5 74h0M4.9 45.5h0M84.4 54.2h0M87 18.9h0M28.6 13.3h0M60.8 110.9h0M70.9 92.9h0M46 89.5h0M12.2 34.9h0M80.9 87.1h0M50.6 10.5h0M32 25.2h0M33.7 97.1h0M23.9 106.4h0M105.5 6.6h0M45.5 59h0M2.8 51h0M108.8 13.4h0M71.6 14.5h0M69.4 107.4h0M24.4 1h0M10 64.8h0M2.1 10.2h0M59.6 110.5h0M50.4 47.8h0M76.6 11.2h0M69.6 20.7h0M73.1 115h0M6.5 66.6h0M72.8 17.9h0M32.2 119.4h0M119.8 14.6h0M84.7 114.1h0M28.4 73.3h0M5.2 43.9h0M80.9 70.8h0M93 10.4h0M41.7 103.7h0M70.1 54.2h0M48.3 118.3h0M68.9 2.2h0M95.9 39.4h0M52 25.6h0M53.3 39h0M10.7 75.5h0M12.4 94.1h0M3 93.7h0M96.9 59.7h0M85.1 29.8h0M88.5 51h0M27.7 115.7h0M48.1 44.8h0M103.2 44.3h0M80.1 20.5h0M101.2 31.1h0M6.1 117h0M20.7 113.6h0M118.3 72.8h0M1.4 7.3h0M25 46.7h0M73.4 116h0M42.5 16.9h0M67.4 16.5h0M10.4 66.7h0M83.5 7.9h0M54.2 84.5h0M91.7 46h0M106.5 20.3h0M85.9 92.6h0M105.6 59.3h0M11.9 5.8h0M63.5 20.8h0M75.6 10.1h0M93.6 26.7h0M1.6 21.1h0M54.8 67.1h0M46.6 20.8h0M57.8 113.6h0M64.3 113h0M3.5 119.2h0M106.7 65.3h0M62.8 64.5h0M109.1 7.9h0M77.1 65.1h0M36 87h0M86.5 12.4h0M83.9 54.4h0M58.8 76.4h0M6.4 72.4h0M44.8 105.4h0M27.7 98.8h0M87.6 75h0M105.1 4.3h0M71.6 73.6h0M81.4 48.8h0M8.3 22.7h0M73 21.8h0M7.8 42.6h0M56.4 64.3h0M3.1 93.1h0M40.1 93.9h0M1 114.5h0M70.8 117.2h0M118.4 99.9h0M12.7 41.9h0M27.8 93.6h0M23.1 26.5h0M13.3 14.4h0M112.6 117.1h0M44.7 88.9h0M56.1 62.6h0M44.3 76.2h0M28.3 30.8h0M62.1 23.7h0M52.7 113.3h0M2.7 12.4h0M96 6.9h0M30.1 102.2h0M72.6 26.5h0M7 33h0M36 96h0M117.1 94.4h0M108.2 111.7h0M105.2 110.4h0M116.1 11.3h0M38.1 29.7h0" stroke="#fff830" stroke-width="2.40" stroke-linecap="round" fill="none" opacity="1"/></pattern>
<pattern id="pY2" width="72" height="72" patternUnits="userSpaceOnUse"><path d="M37.6 58.1h0M69.2 20.9h0M55.2 50.7h0M47.6 7.9h0M1.9 27.7h0M53.7 18.2h0M36.1 22.9h0M60.9 68.1h0M28.9 71.9h0M4.5 58.5h0M63 10.9h0M50.8 40.2h0M68.8 15.1h0M38.9 63.5h0M46 22.3h0M5.9 67.7h0M34.1 71.7h0M10.2 58.5h0M58.6 66.2h0M1.3 26.8h0M3.7 54.1h0M25.5 69.1h0M27 55.8h0M62.5 17.2h0M40.1 68.9h0M37.9 25.9h0M19.2 56.6h0M13.9 43.5h0M40 39.9h0M9.3 47.4h0M66 23h0M23.9 65.5h0M41.6 19.6h0M0.7 54.2h0M25.1 33.6h0M19.6 45.6h0M52.5 22.3h0M5.4 71h0M65.5 1.5h0M40.6 49.4h0M29 52.7h0M69.1 42.5h0M28.2 14.1h0M18.1 10.9h0M7.9 15.3h0M60.6 38.7h0M58 66.3h0M58.4 3.6h0M66.7 6.7h0M55.5 60.4h0M47.3 29.1h0M5.4 6.1h0M45.8 17.4h0M38.3 19.1h0M11.8 21.3h0M52.2 35.1h0M28.3 35h0M39.9 37.1h0M32 69.7h0M54.1 16.5h0M22.9 13.6h0M26.2 2h0M53.6 40.9h0M30.4 64.3h0M23.7 41.7h0M66.9 40h0M44.1 26.5h0M71.9 54.3h0M21.8 25.6h0M42.6 37.3h0M37.7 13.8h0M41.5 50.7h0M55.1 32.4h0M32.1 36.3h0M38.6 34.2h0M0.9 19h0M71.1 59.5h0M33.7 54.1h0M15.2 19.2h0M37.3 50.3h0M2 34h0M65.2 44.1h0M71.5 7.1h0M65.4 60.3h0M1.9 38.6h0M54.7 16h0M46.7 61.2h0M57.2 30.8h0M4.2 38.8h0M13.5 38.8h0M19.4 25h0M39.1 59h0M70.2 29.2h0M0.5 54h0M24.4 54.5h0M59.8 2.4h0M52.6 20.5h0M23.2 24.1h0M38.8 17.5h0M35.6 20.4h0M9 18h0M49 22.4h0M14.4 26.3h0M15.4 70.9h0M56.7 10.9h0M21.2 31.4h0M38 28h0M37.7 54.7h0M11.1 40.3h0M11.8 38.5h0M22.8 57.8h0M63.4 68.9h0M29.3 44.4h0M12.1 51.2h0M56 30.7h0M23.2 54.6h0M54 57.6h0M20.8 17.5h0M18 13.8h0M0.5 8.8h0M35.5 31h0M64.1 27.2h0M12.3 67h0M5.2 24.5h0M55 23.1h0M69.4 53.5h0M22.2 62.2h0M66.4 37h0M10.3 7.5h0M58.9 63.9h0M47.1 55.7h0M57.1 17.1h0M15.4 62.5h0M60.4 31.4h0M19.5 5.7h0M29.1 65.4h0M14.6 22.7h0M2.5 41h0M4.3 48.6h0M35.4 30.5h0M18.7 21.8h0M64.3 67.7h0M54.1 15.3h0M15 26.1h0M63.1 67.9h0M16.6 45.6h0M27.3 32.8h0M14.2 52h0M56.3 67.6h0M34.9 31.8h0M46.5 9.5h0M63.2 55.3h0M16.4 28.9h0M35 61.3h0M49.9 17.2h0M68.5 67h0M61.8 35.5h0M34.1 29.3h0M70.4 34.7h0M69.1 13.2h0M2.2 34h0M14.3 18.5h0M2.6 9h0M31.8 6.3h0M21.3 44.1h0M18.7 22.4h0M27.2 19h0M40.6 55.9h0M2.2 38.6h0M38.5 66.1h0M50.7 19.8h0M44.4 64.8h0M68.5 55.3h0M7.7 26.8h0M34.5 23.7h0M54.6 35.5h0M70.5 0.6h0M58.2 8.2h0M37.3 10.7h0M27.5 44h0M69 2.9h0M28.2 7.9h0M53.5 10.3h0M14.2 58.2h0M3.4 63.7h0M19.3 71.7h0M7.6 6.9h0M34.3 22.2h0M46.4 21.8h0M23.8 1.2h0M6.4 0.2h0M33.2 63.1h0M38.7 23.3h0M33.1 55.1h0M62.7 6.7h0M46.5 21.4h0M66.9 52.2h0M42.5 48h0M54.9 5.1h0M23.2 2.8h0M11.1 66.8h0M41.2 14.4h0M21.2 30.2h0M6.1 58.7h0M27.4 4.1h0M37.1 29.8h0M54.9 19h0M17.2 36.1h0M29.1 9.3h0M53 62.4h0M59.8 47.4h0M33.9 56.9h0M15.2 7.1h0M14.8 38.2h0M15 31.4h0M58.5 44.5h0M14.3 8.8h0M0.4 3.7h0M18.8 51.3h0M59.7 27.8h0M3.3 40.3h0M68.3 1.1h0M45.3 71.9h0M23.3 42.6h0M58.4 48h0M12.4 56.6h0M42.2 47.5h0M43.1 59.5h0M41.1 66.5h0M8 1.7h0M9.9 36.5h0M51.7 66.1h0M0.5 0.6h0M27.5 47.3h0M28.7 20.1h0M14.6 51.3h0M43.7 68.6h0M23.6 34.3h0M69.3 50.4h0M18.8 52.5h0M32.2 6.5h0M7.6 35.9h0M22.4 18.7h0M52.1 18.6h0M32.5 36.6h0M0.6 57.9h0M19.3 11.6h0M37 15.3h0M2.3 8.2h0M2.9 25.5h0M23.5 15.1h0M12.6 60.8h0M41.5 43.7h0M0.7 66.5h0M2.3 55h0M47.1 29.6h0M24.1 39h0M41.9 60.7h0M4.1 6.4h0M45 20.5h0M41.8 27.6h0M2.5 59.3h0M13.5 24h0M53.5 65.8h0M61.7 66.9h0M23 16.8h0M33 59.6h0M46.7 45h0M50.8 15.5h0M40.8 30.8h0M63.4 22.3h0M39.2 45.5h0M50.8 56.7h0M53.8 9.6h0M69.5 2.7h0M52.7 21.9h0M7.2 26.1h0M8.2 15.2h0M69.6 58.5h0M26.6 35.6h0M43.1 22.9h0M9.7 31.8h0M60.9 69.2h0M43.8 57.7h0M30.1 56.6h0M58.3 65h0M13.9 37.8h0M5.3 41.9h0M34 42.6h0M38.3 24.7h0M10.1 23.1h0M56.2 19.9h0M69.5 60.4h0M19 32.6h0M57.5 0.7h0M55.4 29.3h0M48.6 0.6h0M46.8 4.1h0M20.5 44.2h0M45.6 26h0M18.6 26.3h0M21.7 16.4h0M17.8 35.8h0M54.2 59.2h0M28.4 68h0M25 60.1h0M58.6 54.2h0M65.5 43.5h0M63.4 19.7h0M36.5 41h0M38.4 4.3h0M18.5 45.5h0M26.4 50.5h0M52.8 39.8h0M9.5 32.1h0M66.4 22.7h0M6.5 55.3h0M26.4 14.4h0M36.9 65.9h0M40.5 15.2h0M0.6 30.4h0M19 69.4h0M63.6 70.4h0M65.8 20.2h0M45.8 39.7h0M38.3 39h0M15.7 11.2h0M4 49.7h0M12 62.2h0M46.7 22.1h0M64.4 6.6h0M14.6 57.2h0M26.7 65.3h0M35.5 0h0M67 71.1h0M32.6 51.5h0M49.2 7.3h0M54.4 35.4h0M50 0.3h0M29.4 14.2h0M66.7 2.1h0M1.8 23.4h0M58.8 13.9h0M49.1 56.7h0M42.9 27.8h0M53.6 8.6h0M19.3 62.2h0M15.5 18.6h0M9.8 38.4h0M66.8 10.4h0M37 64.3h0M6.3 34.9h0M21.6 39.6h0M67.8 67.5h0M23.9 14.5h0M37 67.9h0M17.4 19.6h0M27.9 67.6h0M21.4 13.9h0M28.9 39.1h0M16 55.8h0M14 38h0M25.8 63.6h0M70.2 33.5h0M28.8 29.1h0M45.2 11.6h0M2.8 19.1h0M41 24.8h0M11.7 39.7h0M69.2 67.9h0M17.8 13.9h0M49.2 61.9h0M8.9 37.1h0M22.6 69.4h0M68.2 17.7h0M69 10.4h0M18 67.6h0M24.8 68.7h0M41.6 45.4h0M66.2 52.8h0M23.3 30.3h0M25.2 17.2h0M23.2 50.7h0M31.1 4h0M58.5 47.9h0M66 41.4h0M24.6 57.4h0M50.4 41.7h0M43.4 26.6h0M20.1 2.4h0M31.3 36.7h0M12.5 67.1h0M65.8 23.4h0M9.6 5.7h0M45.4 54.8h0M30.9 56.5h0M17.9 23.6h0M16.3 1.6h0M0.5 63.9h0M10.3 6.5h0M46.7 23.6h0M38.9 2.2h0M4.2 34.6h0M68.7 12.6h0M10.3 55.5h0M54.3 37h0M52.4 24.2h0M16.4 23.4h0M20.1 41.2h0M54.1 58.2h0M47.7 13.7h0M51.1 17.8h0M9.8 30.6h0M71.6 29.2h0M48.9 56.1h0M45.8 12.3h0M47 49h0M19.5 8.7h0M4.2 50.1h0M66 1.3h0M29.5 57.1h0M61.5 55.3h0M11.4 25.3h0M4 27.9h0M53.6 18.8h0M70 18.8h0M35.4 39.3h0M37.5 51.4h0M36.6 58.1h0M41.8 68.9h0M60.5 64h0M67.8 47h0M30.4 12.9h0M17.6 35.7h0M54.7 34.5h0M3.8 20.7h0M39.3 12.7h0M64 22.1h0M8.1 65.8h0M33.1 15h0M6.7 37.8h0M67.5 22.7h0M26.1 62h0M46.5 55.8h0M0.2 61.9h0M71.2 27.7h0M58.3 9h0M18.1 66.3h0M16 27.3h0M22.9 10.6h0M65.1 6h0M68.5 24.4h0M47.7 24.5h0M21.1 43.1h0M67.1 45.7h0M15 44.4h0M48.8 70.7h0M28.2 65.3h0M33.2 71.4h0M39.8 19.8h0M51.6 66.2h0M10.5 27.2h0M34.3 66.3h0M65.7 17.9h0M46.4 46.8h0M41.1 3.8h0M30.2 65.4h0M19.6 67.8h0M55.2 28.6h0M16.6 14.8h0M62.8 44.3h0M59.5 30.2h0M46.1 23.5h0M11.6 33.1h0M14.6 34.2h0M25.2 12.5h0M22 64.4h0M63.2 62.5h0M15.7 33.1h0M48.2 12.4h0M28.1 55.3h0M68.8 10.6h0M36.4 35.7h0M31.4 63.2h0M1.1 59h0M60 27h0M54.3 55.8h0M29.9 9.1h0M16.3 67.7h0M25.7 56.3h0M6.1 57.6h0M19.6 47.7h0M20.9 52.7h0M50.5 70.9h0M14.5 30.1h0M64.3 45.5h0M7.2 7.3h0M42.7 9.7h0M5.4 32.6h0M20.8 34.2h0M34.8 47.5h0M11.5 66.9h0M5.7 57.5h0M29.6 33.4h0M41.9 28.5h0M33.7 70h0M43 39.7h0M18.7 67.9h0M47.8 22h0M69.5 19.1h0M68.2 68.3h0M58.2 20.7h0M68.3 36.3h0M0.7 33.6h0M38.7 29.7h0M0.6 11.5h0M16.1 23.9h0M18.7 42.6h0M57.1 42.5h0M37 16.4h0M31.2 22.7h0M28.8 20.5h0M70.2 38.9h0M29.7 66h0M42.8 61.8h0M58.3 69.3h0M19.6 48.1h0M64.2 28.5h0M64.2 4.9h0M5.8 15.1h0M24 16.9h0M18.8 38.2h0M42.5 22.1h0M64.4 71.2h0M70.1 52.1h0M69 53.7h0M67.1 35.3h0M70.1 1.4h0M51.4 49.4h0M8.6 58.9h0M26.6 65.5h0M71.3 31.7h0M71.1 11.5h0M15.8 62.4h0M55.1 21.8h0M29.8 30.5h0M52 2.7h0M40.6 49.2h0M52.3 4.6h0M17.6 17.1h0M31.2 48.7h0M37.9 26.4h0M30.3 60.2h0M69.2 54.2h0M20.9 4.1h0M44.8 1.1h0M16.6 8.1h0M16.8 2.1h0M4.4 68.9h0M64.9 1.1h0M62.3 57.9h0M68.2 57.3h0M20.7 52.5h0M6.3 41.6h0M58.5 5h0M12.1 67.2h0M32.2 13.8h0M27.5 24.5h0M1.1 59.5h0M29.8 43.9h0M47.9 68.2h0M59.9 39.7h0M26.6 44.2h0M15.9 11.7h0M51.1 68.6h0M64 6.7h0M52.1 51h0M53.5 28.6h0M34.6 56.6h0M10 26h0M7.3 44.9h0M20.9 54.4h0M2.5 65.1h0M35.9 30.3h0M5.5 21.2h0M49.3 29.1h0M12.4 7.9h0M40.6 1.1h0M40.6 33.4h0M41.5 7.8h0M60 10.8h0M51.5 50.5h0M61.8 43.2h0M45.2 44.7h0M24.5 17.6h0M16.9 61.6h0M38.3 33.8h0M69.8 55.3h0M48.3 48.2h0M13.7 40.2h0M14.7 56.4h0M40.9 17.1h0M27.9 70.4h0M63 35.8h0M19.6 16.1h0M38 7.6h0M40 36.7h0M33.3 57h0M27.1 58.3h0M17.6 55.7h0M33.4 31.1h0M27.3 13.5h0M24.8 1.4h0M28.7 42h0M12.3 25.5h0M18 10h0M71.8 70h0M53.6 22.2h0M69.6 15h0M27.2 2.1h0M71.3 11.1h0M63.6 57.9h0M54.7 64.3h0M68.9 36.4h0M50.1 35.2h0M25.4 26.9h0M62.1 61h0M21.8 30.1h0M37.1 28.6h0M12.7 41.3h0M0.8 71.8h0M20.3 48h0M35 52.3h0M60.7 5.9h0M10.2 68h0M64.2 19.5h0M45.9 13.2h0M31.7 36.2h0M52.5 28h0M37.4 25.8h0M21.3 4.4h0M25.9 54.7h0M67.3 26.2h0M60.2 9.4h0M47 60h0M58.7 69.2h0M65.1 60.3h0M12.6 49.4h0M56 53.3h0M49.1 64.3h0M13.8 69.1h0M67.9 25.2h0M24.5 45.3h0M37.4 2.6h0M60.4 26.2h0M44.7 53.2h0M70.5 27.4h0M44.6 66.2h0M50.3 21.5h0M17.7 44.1h0M46.2 29.5h0M54.5 5.5h0M41.3 66.3h0M31.2 19.9h0M53.1 38.4h0M15.3 19.2h0M20 11.2h0M10.6 22.8h0M69.9 35.1h0M1.9 43.5h0M50.9 39.1h0M30.1 1.6h0M53.5 20.9h0M49.9 51.2h0M46.7 42h0M50.2 5.5h0M32.8 68.6h0M13.8 53.5h0M2.7 7.6h0M1 64.2h0M47.2 62.3h0M31.2 34.9h0M71.7 43.7h0M30.5 25.4h0M5.4 38.9h0M5.8 36.9h0M35.4 39.8h0M50.4 13.3h0M6.6 24.4h0M61.3 30.8h0M51.6 17.6h0M60.9 37.9h0M48.6 41.6h0M12.3 18h0M12.7 45.3h0M6 32.1h0M65.4 55.3h0M8.3 32.5h0M62.2 69.7h0M70.9 20.6h0M41.9 64.3h0M6.9 25.3h0M46.8 46h0M35.2 37.9h0M1 4h0M15 3.2h0M30.9 65.6h0M66.6 14.3h0M20.1 40.7h0M52.8 31.3h0M11.8 40.4h0M56.6 17.2h0M57.9 31.3h0M71.9 11.8h0M28 15.7h0M6 45.2h0M30.2 66.2h0M58.8 0.9h0M33.7 53h0M9.2 49.6h0M18.9 50.9h0M41.5 0.1h0M52.1 9.1h0M65.2 48.4h0M3.2 2.2h0M17.8 44.7h0M17.4 53.4h0M3.2 22.7h0M9.1 50.7h0M56 17.6h0M33 51.3h0M58.5 12.3h0M14.1 34.9h0M2.3 57.3h0M12.4 49h0M34 52.3h0M22.3 36h0M1.5 63.9h0M50.4 5.2h0M33.8 32h0M39.3 27.3h0M21.1 20.4h0M58.6 49.7h0M56.3 35.2h0M68.6 37.8h0M61.7 42.3h0M41.5 46.3h0M60.4 33.4h0M2.5 60.9h0M4.7 23.9h0M28 44.2h0M9.8 44h0M52.4 64.7h0M25.3 33.9h0M58.2 29.6h0M28.9 7.3h0M56.5 7.1h0M33.6 8.7h0M47.8 18.1h0M48.3 6.5h0M66.7 21.7h0M49.9 67.6h0M28.9 66.3h0M65.2 38.3h0M47.3 55.6h0M67.9 30.7h0M13.5 23.7h0M39.7 60h0M2.4 19.3h0M69.7 53.2h0M22 24.7h0M11.4 48.2h0M66.6 67.9h0M18.2 15.8h0M15.7 59.9h0M20.5 26.3h0M6.6 60.6h0M62.9 47.7h0M21.5 50.5h0M51.6 60h0M16.7 45.9h0M44.8 26.8h0M30.7 20.4h0M19.2 66.4h0M3.6 68.3h0M12.7 57.5h0M9.7 23.6h0M4.4 64.5h0M3.2 69.7h0M13.8 7.1h0M6.9 49.6h0M0.5 41.1h0M44.8 69.8h0M46.6 48.4h0M12.4 45.1h0M40.3 34.7h0M17.1 28.4h0M4.7 66.4h0M51.9 4.2h0M68 38.1h0M55.8 13.7h0M13.7 3.2h0M46.4 50.4h0M13.4 17.6h0M38.5 27.4h0M38.6 66.7h0M5.2 4.3h0M50.4 41.9h0M12.7 35.6h0M43.8 25.9h0M27.7 68.1h0M4.1 23.7h0M58.3 7.7h0M59.7 56.9h0M12.8 10.2h0M55.2 3h0M61.6 57.1h0M54 6h0M58.3 16.7h0M62.9 56h0M4.4 33.4h0M65.5 9.3h0M26.8 46.2h0M62.9 60.8h0M14.9 21.4h0M26.9 16.2h0M53 56.3h0M37.4 19.2h0M7.2 38.4h0M39.6 21.9h0M25.2 42.7h0M43.6 7.4h0M5.1 27.5h0M59.1 45.7h0M52.4 62.9h0M19.9 71.3h0M48 37.5h0M49.8 42.4h0M63.4 0.3h0M28.3 30.7h0M60 45.6h0M49.1 21.5h0M14.7 69.2h0M1.7 33.9h0M62.8 13.6h0M0.6 3.4h0M7.2 24h0M7.6 38.6h0M11.6 13.1h0M8.6 38.7h0M58.8 60h0M1.6 8h0M13.1 28.8h0M6.3 6h0M67.6 39.8h0M40.7 18.4h0M4.1 52.4h0M42.9 51.7h0M54 20.1h0M66.5 66.2h0M36 31.1h0M45.1 43.2h0M47 17.3h0M10.1 50.2h0M37.9 58.7h0M53.2 53.3h0M35.4 20.2h0M71.3 70.8h0M58.8 53.7h0M57.8 21.1h0M30.1 42h0M23.6 34.8h0M65.6 48.4h0M64 61.8h0M37.1 26.9h0M61.9 65.3h0M66.5 49.1h0M68.2 28.8h0M65.1 41.3h0M50.9 18.8h0M30 25.6h0M38.8 31.8h0M0.5 13.6h0M58.4 19.2h0M38.8 13.5h0M56.8 20.7h0M57 17.5h0M43.8 26.2h0M46.2 70.1h0M42.6 68.4h0M61.1 21.7h0M30.2 67.8h0M51.1 26.1h0M11.2 49.5h0M69 58.7h0M56.7 12.1h0M69.5 59.6h0M13.7 54.6h0M18 44.8h0M35.8 17.8h0M42.4 9.7h0M67 19.1h0M71.5 30.3h0M33.8 19.1h0M56.7 49h0M42.5 42.6h0M38.9 7.3h0M71.6 20h0M23 9h0M67.6 48.8h0M56.3 19.2h0M38.7 12.1h0M8.1 6h0M1.7 50.5h0M19.6 40.2h0M46 36.4h0M31.8 30.5h0M5.2 38.9h0M20.6 22.9h0M48.9 2.2h0M29.6 27.5h0M8 39h0M47 57.9h0M32.1 20.9h0M22.7 18.9h0M20.1 40.6h0M70.5 19.4h0M42.2 23.6h0M20.5 49h0M51.2 66.1h0M14.2 64.8h0M60.5 58.2h0M15.6 32.5h0M48.2 52.3h0M28 16.3h0M22.8 4.7h0M52.2 14h0M13 8.1h0M63 68.5h0M47.2 23.8h0" stroke="#d8d01c" stroke-width="1.50" stroke-linecap="round" fill="none" opacity="0.9"/><path d="M13.1 47.6h0M24.1 14.3h0M35.2 35.6h0M34.5 33h0M19 18.3h0M49.8 23.4h0M48.6 56.7h0M62.3 68h0M16.9 17.1h0M52.9 41.4h0M14.5 48.8h0M62.9 60.2h0M15.6 21.5h0M0.5 70.2h0M15.9 52.4h0M38.7 42.7h0M37.9 59.4h0M43.2 21.8h0M8.3 34.4h0M66.5 10.5h0M49.2 45.4h0M11.5 14.9h0M49.4 31.5h0M29.3 34.6h0M7.3 50.7h0M42.4 38.5h0M24.5 58.4h0M59.3 39.2h0M6.4 10.6h0M11 5.7h0M46.7 39.1h0M14.7 65.5h0M45.3 57h0M58.9 49.1h0M37.9 70.9h0M9.6 49.6h0M63.7 34.4h0M58.8 13.1h0M30 19.5h0M28.6 50.5h0M10.3 24.4h0M60.9 21.7h0M9.1 71.6h0M39 1.3h0M41.1 10.5h0M11.7 53.2h0M47 30.7h0M37 40.2h0M33 7.3h0M55.3 55.5h0M30.4 29.1h0M44 34h0M29.9 63.1h0M65.2 10.9h0M12.4 56.5h0M69 52.6h0M21.4 4.2h0M59.6 67h0M54.6 53h0M70 37.7h0M67 18.9h0M5.5 60.4h0M50.3 57.3h0M9.4 21.6h0M42.3 4.7h0M23.7 43.4h0M67.5 51.8h0M28.6 29.4h0M36.9 53.4h0M71.7 0.8h0M66.6 57.8h0M3.3 18.5h0M19.7 15.5h0M11.7 9.8h0M48.7 31.5h0M7.7 60.7h0M60.1 18.7h0M59.7 55.9h0M38.2 6.3h0M51 63h0M63.9 68.4h0M11.7 70.3h0M6.7 26.2h0M38.8 46h0M38.1 65.3h0M55.8 61.9h0M48.7 32.8h0M1.5 46.6h0M67.4 13.7h0M71.7 1.3h0M28.6 54.1h0M51.4 41.6h0M20.2 17.7h0M10.1 46.4h0M1.3 9.3h0M51.6 32.1h0M1.2 30.6h0M66.6 36.8h0M19.3 9.9h0M36 17.5h0M19.8 4.4h0M43.6 57.1h0M36.5 44.1h0M21 71.4h0M20.7 66.1h0M1 47.6h0M62.7 41h0M15.6 12.1h0M71.2 71.5h0M17 29.7h0M59.6 62.4h0M2.1 39.2h0M17.9 6h0M49.9 35h0M15 54.7h0M23.2 19h0M21.5 14.1h0M60.7 23.7h0M67.1 49.5h0M38.8 64.4h0M26.9 2.5h0M47.2 4.6h0M66.8 70.1h0M28.2 6.5h0M68.9 18.6h0M69.6 34.4h0M63.7 62.9h0M11 24.1h0M31 14.4h0M66.9 15.1h0M17 13.1h0M10.9 58.5h0M14.6 42.4h0M9 58.4h0M56.5 67.9h0M4 48.2h0M52.3 24.4h0M49.6 23.2h0M42.1 61.4h0M59.5 23.9h0M18.6 68.6h0M16.8 34h0M30.1 26.3h0M38.5 8.4h0M33.5 48.4h0M61.1 35.3h0M16.6 20.4h0M13.7 10.6h0M22.1 27.6h0M68.1 54.4h0M66.4 35.4h0M13.9 41.1h0M50.2 71.6h0M16.6 54.9h0M69.2 28.3h0M37.5 7.7h0M48.3 4h0M56.2 54.4h0M59.8 60.9h0M5 63.1h0M50.9 68.2h0M64.8 34.6h0M61.7 14.4h0M69.8 48.6h0M58.5 39.3h0M41.3 17.4h0M57.7 37.8h0M16.1 54.3h0M41.9 30.9h0M58 30.4h0M48.8 39.1h0M26.3 25.5h0M42.4 13.2h0M12.4 22.7h0M51.3 13.5h0M55.4 23.6h0M68.1 7.8h0M61.4 59.3h0M59.7 45.4h0M21.4 68.9h0M16 50.6h0M29.3 5h0M29.8 22.9h0M56.8 14.9h0M59.6 2.2h0M6.2 44.8h0M66.9 44.3h0M11.7 65.6h0M48.4 0.4h0M9.5 28.1h0M38.2 40.7h0M60.3 44.2h0M69 29.2h0M24.4 47.6h0M64.9 31h0M3.4 27.3h0M14.7 64.6h0M23.6 32.7h0M44.5 4.1h0M6.5 37.3h0M18.1 4.4h0M53.6 52.9h0M44.2 9.3h0M58.7 71.6h0M8 49h0M3.7 8h0M24 69.6h0M32.9 38.9h0M63.9 28.3h0M20.8 5.9h0M16.8 44.1h0M63.7 71.2h0M18.9 48.1h0M23 40.2h0M1.2 66.9h0M56.2 54.5h0M45.9 27.4h0M60.6 36.5h0M47.8 19.5h0M13.3 51.7h0M22.7 3.2h0M21.6 30.4h0M13.6 10h0M51.4 33.3h0M36.4 51.5h0M3.4 37.2h0M71 19.9h0M50.5 12.8h0M27.3 32.3h0M15.6 17.2h0M23.9 34.1h0M28.1 35.6h0M17.9 39.1h0M55.2 33.9h0M25.9 59.1h0M45.1 35.8h0M22.3 68.9h0M8.4 66.5h0M22 66h0M3.2 50h0M34.4 44.2h0M6.3 27.1h0M26.2 40.2h0M51.7 68.4h0M21 3.3h0M13.2 65.9h0M39.5 48h0M71.8 57.2h0M42.5 56h0M12.1 59.1h0M12.5 63.5h0M61.3 41h0M20.1 9h0M35.1 15.2h0M26.5 10.8h0M6 57h0M56.4 42.7h0M44.9 58.8h0M42.8 45.6h0M4 5.6h0M49.8 39h0M20.4 58.3h0M33.3 41.8h0M69 32.1h0M64.1 35.7h0M47.9 53.6h0M36.7 38.4h0M62.2 55h0M44.1 51.2h0M18.6 40.1h0M60.3 51.9h0M66.9 3.9h0M12 16.1h0M68.4 64.7h0M19.5 4.9h0M24 59.7h0M60.2 44.9h0M67.6 55.3h0M0.9 12.5h0M59.7 55.1h0M62.5 42.6h0M65.9 0h0M27.4 2.8h0M70.8 62.5h0M47 39.5h0M37.7 42.1h0M20.4 8h0M61.1 59.7h0M19.2 30.9h0M29.8 54.7h0M24.4 48.6h0M8.7 66.3h0M47.8 27.2h0M36.7 49.5h0M40.2 9.4h0M11.3 7.5h0M45.5 72h0M8.4 61.9h0M55.2 18.5h0M33.7 6h0M58.6 33.7h0M60.2 30.5h0M31.5 39.3h0M56.7 41.1h0M46.7 29.4h0M13.8 17.3h0M59.2 1.2h0M58.3 38.7h0M25.3 32.8h0M29.4 52h0M52.8 66.5h0M34.6 46h0M13.9 50.3h0M1.3 60.9h0M66.2 31.9h0M8.9 12.9h0M43.5 0.7h0M22.5 0.3h0M4.9 7.5h0M66.9 55.2h0" stroke="#f4ec28" stroke-width="1.90" stroke-linecap="round" fill="none" opacity="0.95"/></pattern>
<pattern id="pG2" width="72" height="72" patternUnits="userSpaceOnUse"><path d="M46.7 50.5h0M68.9 14.1h0M4.7 59.3h0M24 26.8h0M58.7 13.2h0M65.5 35.4h0M5.1 66.1h0M41.3 5.7h0M60.4 55.8h0M53.3 47.3h0M71.5 0.9h0M70.2 46.3h0M18.2 44.1h0M24.3 46.8h0M50.7 37.7h0M7.1 28.2h0M21.7 54h0M67 55.8h0M38.2 12.3h0M50.9 19.1h0M71.8 12.4h0M69.7 1.1h0M56.1 24.9h0M41.3 29.9h0M22.2 31.5h0M58.7 25.4h0M26 56.3h0M12.8 25.7h0M37.2 37.2h0M12.2 55h0M35.2 6.6h0M24.4 4.1h0M24.7 8.2h0M18.3 40h0M49.6 21.6h0M33.4 37h0M42.2 65.3h0M15.6 55.7h0M39.9 64.4h0M49.3 0.3h0M4.1 57.4h0M21.3 44.2h0M7 40.5h0M29.6 33.2h0M0.2 64.5h0M60.8 53.4h0M44.7 16.3h0M13.8 60.3h0M23.7 27.6h0M63.4 24.8h0M71.5 13.2h0M61.3 21.2h0M9.9 33.3h0M59.4 7.4h0M42.8 61.6h0M2.2 35.3h0M22.5 33.7h0M59.8 31.5h0M21.9 14.6h0M58.8 10.8h0M51.5 71.7h0M49.8 64.9h0M9 43.8h0M43.8 5.7h0M31.2 22h0M9.1 28.8h0M6.3 66.2h0M11.9 39.3h0M51.1 1.5h0M67.8 66.2h0M41.8 37.5h0M61.2 43.3h0M16 67h0M14.6 40.2h0M39.3 55.2h0M26.3 45.7h0M15 50.1h0M11.6 25.2h0M37.5 52.3h0M65.4 69.3h0M33.9 4.8h0M42.8 41.9h0M52.8 3.5h0M57.3 9.4h0M59.9 70.6h0M39.2 32.2h0M47.4 9.7h0M47.4 61.2h0M67.3 50.5h0M51.7 69.4h0M27.5 24.2h0M71.4 4.6h0M24.9 53.5h0M67.9 57.5h0M13.5 57.4h0M15.9 38h0M44.2 70.8h0M16.1 25.1h0M22.2 21.3h0M11.9 29h0M19.2 18.9h0M60 7.9h0M33.2 3h0M4.1 61.1h0M56.5 66.9h0M8 56h0M21.4 56.8h0M40.8 31.2h0M44.6 18.6h0M38.5 60.6h0M46.4 54.3h0M69.6 8.9h0M55.7 69.1h0M38.9 24.2h0M46 7.9h0M54.5 53.4h0M1.8 38.3h0M35.5 52.7h0M30.6 6.1h0M1.6 20.3h0M6.9 12.8h0M44 63.7h0M12.7 40.3h0M35 46.5h0M69 26.8h0M42.2 35.5h0M10.9 33.5h0M69.7 53.1h0M14.4 24h0M13.9 29.5h0M33.2 9.8h0M31 70.9h0M28.2 46h0M70.3 27.7h0M24.6 31.4h0M11.5 5h0M10.1 49.5h0M56.2 55.6h0M10.2 20.4h0M65.5 52h0M28 53.7h0M19.3 6.7h0M65.3 62.1h0M35.6 30.2h0M65.9 40.1h0M69.8 0.8h0M46.7 18.3h0M51.4 66.3h0M1.5 48.3h0M58.7 34.8h0M8.8 35.7h0M50 38.7h0M40.6 23.3h0M23.5 17.6h0M52.4 0.8h0M43 47.8h0M32.2 30.4h0M56 36.2h0M4.1 52h0M69.9 70.7h0M62 3.1h0M40.5 13.5h0M59.4 9.2h0M36.1 64.4h0M13.9 54.5h0M70.3 31.5h0M35.3 5.9h0M65.8 11.5h0M53.9 51.8h0M19.4 70.6h0M66.8 45h0M30.1 35.1h0M31.8 47.6h0M71.1 6.9h0M20.2 38.2h0M44.9 50h0M66.2 60.1h0M26.4 29.5h0M40.5 67h0M15.8 10.5h0M22.2 51.1h0M45.8 31.5h0M35.9 48.8h0M61.6 2.6h0M36.7 2.4h0M55.3 35.5h0M66.2 49.8h0M56.4 35h0M55.5 18.2h0M12.2 42.4h0M35.7 39.1h0M58.2 39.3h0M48.6 49.2h0M30.6 57.4h0M48.8 43.7h0M63.3 47.7h0M32.9 17.9h0M61.6 68.7h0M30.2 43.1h0M42.1 52.7h0M38.4 50.6h0M57.4 18.9h0M51.3 56.2h0M43.3 67.8h0M66.3 17.5h0M29.9 63.7h0M61.6 15.1h0M15.7 11.5h0M71.2 3.7h0M58.3 53.8h0M35.3 4.3h0M31.9 69.3h0M8.6 30.4h0M55.2 17.6h0M25 37.3h0M32 47.1h0M69.1 0.3h0M50.7 28.6h0M8.5 48.9h0M51.7 54.2h0M40.9 1.1h0M20.7 54.5h0M14.1 48.3h0M23.1 40.1h0M52.8 24h0M8.5 69.4h0M32.7 57.9h0M9.8 48.2h0M57.3 40.7h0M50.9 69.1h0M0.3 43.2h0M55.2 62.4h0M45 46.7h0M55.9 10.7h0M24.5 7h0M18.4 5.5h0M13.4 47.7h0M13.4 14.8h0M40.6 24.5h0M11.6 7.5h0M64.4 38.8h0M13.5 16.3h0M20.5 67.8h0M55.8 23.2h0M21.1 57.6h0M27.6 34.4h0M26.3 29.2h0M66 45.1h0M69.1 29.2h0M71.3 51.3h0M59.6 31.8h0M17.3 61.7h0M9.5 41.1h0M35.4 71.3h0M52.5 53.8h0M4.8 25.7h0M48.5 65.9h0M56.3 69.2h0M59.6 38.1h0M70 15h0M36.3 17.3h0M64 37.5h0M22.3 68.8h0M17.9 66.3h0M42.5 60.2h0M68.8 36.2h0M9.8 46.1h0M58.5 11.7h0M9.5 8.6h0M31.4 56h0M65.8 11.4h0M35.2 37.8h0M62.4 0.8h0M2.1 22h0M11.4 27.9h0M13.8 69.6h0M13.5 64.3h0M21.8 8h0M22.8 64.3h0M70.7 40.9h0M51.1 44.7h0M48.8 66h0M47.1 65.5h0M27.3 45.6h0M33.1 38.8h0M11.8 57.1h0M39.6 56.5h0M51.5 29h0M1.2 71.4h0M42.2 10.9h0M42 22.8h0M16.7 16h0M44.6 12.7h0M46.7 16.1h0M4.9 58.2h0M2.3 34.7h0M8.7 33.2h0M64.5 39.5h0M61.6 43.4h0M17.3 10.9h0M59.7 55.6h0M3.4 66.1h0M48.9 63.2h0M29.4 57h0M30.4 45.1h0M39.9 42.3h0M39.2 9.2h0M35.9 16.4h0M5.3 26.1h0M14.9 30.7h0M59.1 5.3h0M14.7 68.4h0M62.4 65.1h0M52.9 37.7h0M30.8 8.9h0M51.9 41.1h0M43.2 31.2h0M55.3 56.3h0M44.1 38.8h0M27.5 45.7h0M68.9 15.5h0M22.6 60.1h0M17.8 35.4h0M71.2 25.1h0M12.4 56h0M42.2 49h0M64.7 29.4h0M31.9 58.7h0M4 32.6h0M22.2 53h0M30.2 6.1h0M39.4 71h0M8.9 4.5h0M9.8 58.6h0M0.6 32.8h0M54.6 33.8h0M2.4 59.1h0M9.3 40.4h0M32.8 44.8h0M39.4 66.5h0M58.9 69.1h0M1.9 69.2h0M17.9 53h0M0.9 56.2h0M61.9 62.4h0M63.8 8.5h0M56 50h0M41.4 16.6h0M54.7 36.9h0M35.9 17.8h0M34.5 6h0M62.4 35.7h0M38.3 51.1h0M0.4 67.4h0M0.2 16.9h0M54.5 25.9h0M53.7 43.8h0M69.9 4.1h0M11.9 60.6h0M9.1 57.8h0M22 63.2h0M48.4 8.6h0M4.7 7.6h0M71.9 23.5h0M13.2 15.9h0M21.8 56.8h0M65.7 46h0M55.3 59.3h0M7.3 28.3h0M69.1 49h0M40.2 57.7h0M49 64.9h0M5.7 60.8h0M36.7 43.9h0M10.3 49.8h0M58.8 53.8h0M35.5 16.9h0M54.4 71.6h0M4.8 56.9h0M56.7 2.8h0M6 38.1h0M48.7 19.8h0M22.4 66.1h0M46.6 59.3h0M27.7 62.3h0M43.3 56.7h0M53.3 68.7h0M26.5 59.6h0M39.6 35.1h0M31.1 41.6h0M26.1 9.5h0M33.5 32.2h0M17.5 69.3h0M65.5 29.9h0M45.5 67.9h0M23.2 25.7h0M68.5 28.8h0M54.7 35.9h0M33.5 54.4h0M6.1 34h0M1.6 24.7h0M24.9 43.6h0M16.4 51.5h0M50.7 25.2h0M4.9 39.9h0M3.1 56.9h0M46.6 5.3h0M38.3 57.7h0M9.6 17.9h0M44.9 47.9h0M30 62.6h0M26.6 13.8h0M9.8 25.2h0M60.9 23.6h0M67 43.4h0M70.7 46.7h0M30.4 28.5h0M69.7 53.1h0M60.9 33h0M52.9 71.3h0M49.6 11.6h0M10.7 32.2h0M67 4.9h0M12.6 36h0M9.7 44h0M65 53.8h0M6.4 32.9h0M58.4 32.9h0M21.1 56.4h0M62.5 66.2h0M59.5 69.5h0M13.3 33.6h0M54.3 61.4h0M67.6 29.6h0M11.5 10h0M46 65.7h0M13.3 9.7h0M16.9 25h0M0.4 36.6h0M68.4 29h0M71.4 44.4h0M21.8 50.7h0M7 9.1h0M3.9 62.3h0M32.6 36.4h0M69.5 15.7h0M62.9 3.8h0M25.9 63.1h0M5.8 28.1h0M51.6 61.7h0M63.9 21.1h0M10.4 7.7h0M61.2 68.9h0M17 26.7h0M10.9 49.3h0M12.8 33.4h0M43.6 60.5h0M64.1 65.6h0M29.9 44.3h0M32.3 62.3h0M29.8 23.1h0M28 27.9h0M55.4 19.5h0M17.4 23.4h0M1.1 64.7h0M46.1 71.6h0M55.6 10.7h0M66.8 39.9h0M51.2 62.3h0M28.3 57.2h0M0.3 54.1h0M64.5 9.8h0M33.9 39.8h0M64.3 57.7h0M16.1 23.1h0M22.4 8.1h0M8.9 10.4h0M41.2 47.6h0M71.7 45.6h0M6.5 16.2h0M57.6 21.8h0M60 69.7h0M59.5 41.4h0M29.5 44.3h0M70.8 18.7h0M49.1 50.8h0M32.3 31.2h0M2.3 71.2h0M26.2 54.9h0M17.8 32h0M6.8 58.5h0M70.3 67.4h0M38.7 34.5h0M31.5 48.9h0M12 44h0M24.9 24h0M53.2 68.5h0M28.1 20.2h0M49.9 52.5h0M20.7 30.2h0M50.1 45.9h0M63.6 33.6h0M18.9 0.3h0M30.5 55.3h0M60.2 52h0M0.9 17.7h0M30.2 34.9h0M45.1 19.9h0M70.1 48.4h0M60.8 12.4h0M7.8 0.4h0M56.2 59.9h0M52.9 34.3h0M35.6 21.4h0M57.6 54.3h0M47.9 41.6h0M61.3 6.5h0M10.7 62.9h0M8.2 51.5h0M4.7 6.1h0M26 0.8h0M23.5 22.7h0M53.1 69.3h0M43.7 58.2h0M61 45.8h0M26.7 67.7h0M53.7 21.6h0M64 6.4h0M14.5 1.7h0M21.4 42.6h0M45.3 68.2h0M49.3 43.7h0M32.8 68.7h0M3.3 46.3h0M21.2 36h0M70.6 67.8h0M15.8 13h0M22.9 17.8h0M3.7 14.1h0M60.3 36.8h0M21.6 31.4h0M30.9 10.6h0M14.1 65.8h0M64.9 21.8h0M26.8 23.4h0M4.2 30.1h0M28.7 1.7h0M16.2 5.8h0M62.6 16.6h0M42.1 45.9h0M41.8 46.1h0M11.1 28.8h0M3.1 39.5h0M36.6 12.3h0M69.2 61.7h0M27.6 38.5h0M35.1 52.9h0M45.2 47.5h0M48.3 3.6h0M18.5 36.4h0M63.8 33.5h0M60.8 38.1h0M12.3 42.5h0M13.8 23.4h0M31 53.9h0M23.6 26.5h0M71 10.6h0M31.4 37.9h0M71.6 4.4h0M4.3 50.3h0M10.8 25.9h0M51.3 51.8h0M16.7 30.2h0M53.4 53.7h0M31.3 50.4h0M7.2 27.8h0M0.7 9.9h0M0.3 4.1h0M55.3 49.4h0M20.2 69.7h0M23.7 60.9h0M11.5 0.9h0M51.3 41.7h0M61.7 27.7h0M52.6 49.9h0M42 23.5h0M61 60.1h0M28.9 27.9h0M35.8 42.2h0M60.9 66.9h0M68.1 8.8h0M39.2 43.1h0M64.9 35.4h0M38.1 54.5h0M67.4 5.6h0M10.5 5.3h0M22 31.5h0M26.1 43.9h0M8 7h0M64 41.8h0M42.8 35.1h0M58 53.8h0M6.1 65.4h0M30.2 51.4h0M22.8 53.8h0M69.3 35.6h0M10 43.6h0M37.8 46.4h0M41.3 41.4h0M24.8 37.4h0M64.3 6.6h0M1.1 45.1h0M18 11.4h0M53.8 47.2h0M57.8 28.6h0M2.2 30.6h0M23.9 39.7h0M45 49.4h0M50.1 47.4h0M54.6 8.7h0M38.8 2.6h0M20.4 28.5h0M29.8 25.5h0M51.8 30.8h0M59.7 4.7h0M71.3 57.5h0M1 34.3h0M63.2 16.7h0M54.1 43h0M45.8 56.9h0M60.7 16.2h0M71.7 36.3h0M48.2 56.6h0M60.1 18.6h0M37.8 9.7h0M17.4 29.7h0M62.3 5.7h0M12.1 54.8h0M55.7 32h0M40.6 6.6h0M61.8 66.6h0M69.1 29.2h0M6.8 29.4h0M46 10.1h0M13.9 19.7h0M32.9 33.7h0M71.8 60.1h0M58.7 43.1h0M38.4 43.3h0M33.7 11.7h0M70.7 28.3h0M22.9 48.8h0M28.1 69.2h0M62.3 71.5h0M29.6 9.2h0M69.5 33.6h0M26 52.2h0M64.5 2.3h0M4.1 66.3h0M7.7 18.8h0M58.4 23.4h0M60.9 17.5h0M59.8 59.7h0M71.2 58h0M6 16.4h0M7.4 41.7h0M13.5 45.2h0M58.6 13.7h0M60 53.7h0M0.9 59.8h0M50 50.4h0M46.7 67.4h0M46.3 22.5h0M1.5 49h0M21.5 47h0M57.3 31.4h0M34.4 13.8h0M22.5 18.6h0M45.8 1.9h0M26.1 5.6h0M48.9 58.5h0M10.9 14.9h0M48.8 35.7h0M64 43.7h0M63.8 22.4h0M43.6 39.2h0M60 69.3h0M1.8 61.9h0M11.8 21.1h0M52.5 19.1h0M59.2 44.5h0M66.5 46.2h0M62.1 26.9h0M26.4 71.9h0M60.1 6.1h0M41.8 45.2h0M12.2 50.7h0M26 35.4h0M1.6 3.3h0M31.8 64.3h0M52.1 55.1h0M1.5 21.1h0M46.3 29.2h0M59.8 9.2h0M33.5 16.7h0M59.5 6.8h0M27.9 17.2h0M1.7 70.3h0M41.9 37.5h0M68.3 54.6h0M70.5 54.3h0M27.6 29.9h0M42.6 47.2h0M34.4 21.6h0M32.7 56.5h0M43.4 36.2h0M16.3 54.8h0M66.7 55.3h0M51.1 62.1h0M57 60.2h0M51.4 3.1h0M71.9 70.9h0M17.8 13.3h0M10.4 19.5h0M32.5 4.9h0M30.6 15.3h0M44.7 64.9h0M56.2 3.5h0M35.6 31.8h0M67.9 16.9h0M53.8 13.4h0M10.8 65.6h0M7.9 8.7h0M13.6 6.2h0M42.6 8.7h0M66.3 30.2h0M62.4 37.5h0M0.5 53.9h0M47 33.2h0M14.4 36.3h0M43.4 66h0M53.3 4.2h0M72 1.4h0M9 4.4h0M57.8 55.7h0M43.3 31.8h0M9.8 51.2h0M50.6 54.7h0M57.7 20.9h0M4.9 1.3h0M5.6 15.1h0M13.3 47.9h0M16 51h0M43.9 38.7h0M47.1 37.4h0M25.6 66.1h0M68.4 31.6h0M66.7 61h0M28.7 20.4h0M13.1 17.5h0M65.2 38.4h0M71.6 56.6h0M33.2 27.8h0M26.9 24.8h0M4.2 41.5h0M0.7 20.2h0M19.8 37.5h0M55.4 41.8h0M7.2 39.1h0M43.8 18.3h0M32.4 31.4h0M31.3 31.3h0M71.2 24.8h0M34 45.6h0M48 31h0M32.4 1.5h0M14.9 49.6h0M46.1 0.2h0M12.4 17h0M22.3 42h0M16.2 62.5h0M68.4 70.5h0M52.4 58.7h0M5.1 63h0M29.5 6.1h0M28.2 4.6h0M20.8 64.3h0M8.3 18.3h0M21.8 34h0M64.5 20.4h0M70 29.4h0M13 26.9h0M29 6.2h0M9.9 50.5h0M44.1 15.1h0M8.4 68.1h0M24.2 61.7h0M53.1 4h0M15.1 63.7h0M15 69.9h0M54.3 40.7h0M25.5 7h0M59.5 35.3h0M25.4 13.6h0M38.6 60.7h0M8.1 54.3h0M51.9 70.8h0M14.1 23.3h0M65 57.8h0M39.6 30.3h0M36.5 56h0M4.7 31.7h0M8.4 13.2h0M26.7 1.3h0M8.8 59.9h0M16.9 21.1h0M31.8 39.9h0M32 56.5h0M6.7 39.7h0M24.2 22.7h0M14.7 1.7h0M17.7 59.1h0M58.4 35.3h0M45.8 50.2h0M47.1 44.7h0M2 62.1h0M55.6 25.6h0M65.1 68.1h0M35.6 68.4h0M59.3 45.5h0M56.8 43.1h0M4.6 46.6h0M19.2 17.8h0M56.2 21.9h0M44.5 41.2h0M38.2 60.6h0M4.7 1.3h0M42.7 41h0M68.7 41.9h0M34.3 42.7h0M57.3 17.7h0M10 33.5h0M49.5 61.1h0M41.9 57.9h0M17.8 39.1h0M41.7 52.4h0M29.8 71.3h0M44.2 6.8h0M12 3.8h0M50.1 1.9h0M7.9 44.8h0M15.1 63.5h0M50.3 31h0M22.9 6.5h0M56.1 52.6h0M25.8 57.9h0M13.7 56.1h0M68.1 36.1h0M42.6 31.3h0M55.1 66.6h0M5.7 57.5h0M51.2 50.4h0M49.1 1.6h0M14 31.7h0M21.3 52.1h0M44.5 40.3h0M39.4 49.1h0M58.4 19.8h0M61.4 66.5h0M39 49.5h0M10.5 8.1h0M2.2 55.1h0M14.6 14.6h0M11.8 15h0M50.4 22.7h0M12.9 28.3h0M0.9 50.8h0M36.5 63.2h0M49.7 46.3h0M37.8 36.3h0M55.8 27.2h0M24 52.9h0M68.8 21.9h0M21.6 60.6h0M63.5 13.9h0M69.4 54.1h0M66.3 63.6h0M5.1 24.4h0M46.3 33.1h0M34.6 44.3h0M8.3 15.7h0M20.2 13.6h0M42.5 61.4h0M39.5 42.4h0M44.3 16.2h0M3 9.6h0M22.6 46.4h0M21.6 18.1h0M30.9 57h0M32.9 43.7h0M16.9 47.8h0M33.3 26.9h0M2.6 34.7h0M20.3 2.6h0M7 20.3h0M23.2 21.9h0M55 60.5h0M11.5 65.8h0M51.1 58h0M34.8 9.1h0M54.7 17.8h0M43.5 45.9h0M61 62.2h0M66.2 61.1h0M40 26.5h0M68 5h0M62.3 43h0M25.2 53.1h0M30.9 21.5h0M26.6 39.1h0M20 41.6h0M9.7 41h0M16.7 59.3h0M69.8 18.8h0M53 1.7h0M30.2 34.1h0M64.8 19.9h0M8.3 39.6h0M40.8 55.3h0M21.5 23.9h0M56.7 58.7h0M14 29.3h0M19.3 66.6h0M60 54.3h0M55.8 50.4h0M32 4.9h0M20.7 52.2h0M52.3 5.9h0M60.7 10.4h0M21.3 35h0" stroke="#3cd844" stroke-width="1.50" stroke-linecap="round" fill="none" opacity="0.9"/><path d="M8.1 9.4h0M43 12.8h0M9.5 33.4h0M30.1 15.4h0M28.2 60.6h0M9.4 13.5h0M2 17.3h0M6.8 70.9h0M22.6 71.2h0M9.3 65.1h0M36.5 49.7h0M47.7 19.5h0M16.7 48.9h0M9.5 1h0M55.5 45.6h0M18.7 37.5h0M65.5 20.1h0M8.9 30h0M12.1 26.5h0M2.3 55h0M58.1 26.9h0M27.2 18.5h0M68.7 63.2h0M47.7 12.6h0M12.4 55.2h0M13.7 49.6h0M30.3 2.2h0M14.2 65.8h0M23.2 48.6h0M54.8 28.7h0M35.9 61.9h0M52.3 37.5h0M39.2 32.3h0M30.7 48.3h0M17.5 62.3h0M21.2 16.7h0M69.4 1.1h0M29.3 39.8h0M31.7 59.7h0M48.5 36.3h0M0.3 70.9h0M26.3 25.9h0M15.8 14.1h0M7.4 9.5h0M48.4 21.3h0M36.8 47h0M5.2 54.7h0M14 57.9h0M63.9 32.5h0M23 36.4h0M64.8 70.5h0M51.5 28.9h0M28.8 50.2h0M23.8 56.8h0M24.6 41.5h0M37.4 37.8h0M60.6 64.1h0M56.2 46.4h0M28.6 28.2h0M33.2 61.2h0M53 6.6h0M17.5 4.5h0M21.9 59.6h0M45.1 1.6h0M54 44.4h0M34.3 2.2h0M1.2 5.1h0M63.1 29.4h0M4.2 58.5h0M34.8 24.6h0M28.3 14.9h0M2.5 56.8h0M63.6 25.2h0M41.5 62.6h0M1.8 71.9h0M8.3 26.8h0M4.5 14.5h0M11.5 18.4h0M32.5 45.8h0M35.7 53.2h0M68.1 15.9h0M25.9 42.1h0M14.7 2.8h0M59.8 36.7h0M26.8 46.6h0M19.9 26.8h0M10.7 30.8h0M22.9 39.6h0M63 56.5h0M47.5 42.2h0M62.1 11.9h0M68.5 11.6h0M63.4 35.6h0M50.7 70.4h0M2.5 22.9h0M9 22.4h0M18.1 47.5h0M60.3 18.6h0M29.4 8.5h0M5.9 11.7h0M4.6 60.6h0M21.1 49.3h0M55.2 17.4h0M32.8 45.2h0M32.7 44.7h0M5.5 61.9h0M71.4 69.5h0M57.3 42.8h0M15.6 7.6h0M31.6 14.2h0M44.3 67.2h0M19.6 42.2h0M16.2 69.6h0M46.9 43.1h0M36.9 16.9h0M67.7 34.9h0M69 55.7h0M64.2 23.3h0M46.3 43.3h0M5 61.5h0M21.3 30.2h0M0.8 27.5h0M7.3 20h0M59.6 13.5h0M52.5 21.9h0M45.1 58.9h0M17.9 10.3h0M67.2 23.6h0M56.1 18.2h0M69.6 66.7h0M16.2 60.5h0M13.6 60.7h0M2.7 24.2h0M0.6 61.8h0M20.9 40.8h0M56.4 18.7h0M50 47.2h0M41.7 20.2h0M25.7 40h0M58.6 9.1h0M50.4 5.7h0M18.8 4h0M7.7 46.9h0M69.6 62.7h0M38.9 70.1h0M0.1 21.9h0M1.1 40.4h0M65.9 23.8h0M38.7 21.5h0M25 7.5h0M44.7 54.7h0M61.2 59.4h0M49.7 38.4h0M61.8 49.1h0M50.5 39.7h0M67 45.8h0M62.6 40.4h0M13.1 38.2h0M63.9 6.1h0M69.7 45.5h0M31.7 27.2h0M39.7 60.8h0M39 8.1h0M27.2 7.8h0M50.1 60h0M27 70h0M64.7 58.7h0M51.4 7.6h0M4.5 7.7h0M11 48.7h0M62 70.7h0M36.1 48.2h0M17.7 28.3h0M49.8 68.5h0M51 48.9h0M53.9 10.9h0M19 10.3h0M71.8 19.9h0M10.9 0.9h0M18.4 23.8h0M19.6 20.4h0M7.8 6.5h0M9 37.7h0M47.7 56.7h0M42.1 1.1h0M1.5 42.2h0M25.1 69.1h0M44.9 66.3h0M14.6 9.3h0M12.4 71.1h0M40.6 41.1h0M48.2 8.9h0M33.6 40.3h0M6.5 11.5h0M4.6 25.6h0M1.9 3.2h0M57.9 57.4h0M6.5 61.7h0M7.2 34.5h0M27.7 11.3h0M28.9 21.2h0M5.1 59.3h0M55.8 25.5h0M36.4 11.1h0M54.3 60.9h0M29.9 29.7h0M39.1 46.5h0M68.7 64.9h0M70.9 24.1h0M60.3 31.5h0M20.6 24h0M10.4 3.8h0M70.1 65.5h0M21.2 57.8h0M10.6 60.9h0M13.1 32.1h0M8.6 69.1h0M16.2 70.5h0M45.7 9.2h0M21.8 36.6h0M63.5 68.5h0M22.5 31.4h0M42.2 2.1h0M22.4 44.2h0M63.5 4.7h0M44.2 11h0M26.6 60.6h0M55.1 4.2h0M40.8 35.4h0M6.3 71h0M1.4 71.2h0M4.2 64h0M12.1 34.9h0M14.9 2.6h0M22.4 53.2h0M59.3 34.9h0M45.6 43.6h0M68.1 44.9h0M4 31.9h0M35.4 31.6h0M63.2 13.9h0M63.8 70.9h0M57.8 64.1h0M68.4 37.9h0M34.7 30.5h0M65.4 60.1h0M64.2 70.3h0M62.5 16.2h0M12.6 10.3h0M48 12.8h0M23.9 11.9h0M63.2 27.9h0M3.5 20.7h0M50 45.4h0M67.8 15.9h0M67.6 39.3h0M8 23.4h0M22.1 54.9h0M28.6 37.3h0M50.6 12.6h0M59.1 49.1h0M53.1 7.2h0M51 55.5h0M46.4 35.5h0M18.4 59.8h0M66.7 65.3h0M17.1 34.9h0M56 60.6h0M62.1 69.6h0M13.4 0.9h0M33.6 1.7h0M69.2 24.1h0M54.3 13.2h0M53 12.6h0M57.2 31.5h0M19.2 30.4h0M55.4 25.4h0M37.7 50.2h0M70.3 39.3h0M5.8 46.5h0M13.7 56h0M64 33.1h0M32.9 9.1h0M71.9 54.3h0M20.7 55.7h0M67.8 7.9h0M42.9 34.4h0M47.6 47.7h0M31.9 70h0M24.4 53.1h0M54.2 35.7h0M56 9h0M10.9 53.3h0M0.3 57.3h0M17.6 47.1h0M12.7 18h0M62.4 69h0M33.3 37.4h0M70.4 57.3h0M10.9 51.2h0M15.2 35.3h0M54.4 31.2h0M60.6 69.8h0M45.5 36h0M44.1 57.8h0M9.1 70.5h0M53 53.5h0M64.9 56.1h0M64.5 0.5h0M62.6 69.6h0M24.7 23.1h0M17.6 66.3h0M11.2 11.8h0M2.7 41.2h0M13.2 24.5h0M12.3 55.1h0M42.2 17.9h0M34.4 45.7h0M14.6 8.5h0M6.7 10.7h0" stroke="#5cf450" stroke-width="1.90" stroke-linecap="round" fill="none" opacity="0.95"/></pattern>
<filter id="bl05" x="0" y="0" width="100%" height="100%"><feGaussianBlur stdDeviation="0.45"/></filter>
<filter id="bl1"><feGaussianBlur stdDeviation="1"/></filter>
<filter id="bl2"><feGaussianBlur stdDeviation="2"/></filter>
<filter id="bl4"><feGaussianBlur stdDeviation="4"/></filter>
<filter id="bl8" x="-30%" y="-30%" width="160%" height="160%"><feGaussianBlur stdDeviation="8"/></filter>
<filter id="bl14" x="-50%" y="-50%" width="200%" height="200%"><feGaussianBlur stdDeviation="14"/></filter>
<clipPath id="cm1"><rect x="14.6" y="226" width="307.4" height="245"/></clipPath>
<clipPath id="cm2"><rect x="18" y="482" width="307" height="278"/></clipPath>
<clipPath id="cm3"><rect x="366.3" y="791.3" width="365.3" height="310"/></clipPath>
<clipPath id="cm4"><rect x="742.3" y="791.3" width="365.1" height="310"/></clipPath>
<mask id="mk1" maskUnits="userSpaceOnUse" x="14.6" y="226.0" width="307.4" height="245.0"><g filter="url(#bl14)"><ellipse cx="175" cy="340" rx="140" ry="55" fill="#fff" opacity="0.9"/><ellipse cx="175" cy="420" rx="100" ry="50" fill="#fff" opacity="0.5"/></g></mask>
<mask id="mk2" maskUnits="userSpaceOnUse" x="14.6" y="226.0" width="307.4" height="245.0"><g filter="url(#bl4)"><ellipse cx="140" cy="340" rx="52" ry="24" fill="#fff" opacity="1" transform="rotate(12 140 340)"/><ellipse cx="218" cy="332" rx="52" ry="24" fill="#fff" opacity="1" transform="rotate(-14 218 332)"/><ellipse cx="278" cy="292" rx="48" ry="16" fill="#fff" opacity="1" transform="rotate(-30 278 292)"/><ellipse cx="80" cy="335" rx="34" ry="34" fill="#fff" opacity="0.7"/><ellipse cx="180" cy="405" rx="14" ry="58" fill="#fff" opacity="0.9"/></g></mask>
<mask id="mk3" maskUnits="userSpaceOnUse" x="18.0" y="482.0" width="307.0" height="278.0"><g filter="url(#bl14)"><ellipse cx="172" cy="600" rx="130" ry="80" fill="#fff" opacity="0.7"/></g></mask>
<mask id="mk4" maskUnits="userSpaceOnUse" x="18.0" y="482.0" width="307.0" height="278.0"><g filter="url(#bl2)"><path d="M117,652 L137,659 L145,726 L127,702Z" fill="#fff"/><path d="M163,645 L189,649 L199,748 L169,702Z" fill="#fff"/><path d="M211,637 L233,647 L231,696 L215,672Z" fill="#fff"/><path d="M150,620 L166,624 L172,650 L158,644Z" fill="#fff" opacity="0.6"/></g></mask>
<mask id="mk5" maskUnits="userSpaceOnUse" x="18.0" y="482.0" width="307.0" height="278.0"><g filter="url(#bl8)"><ellipse cx="178" cy="678" rx="80" ry="62" fill="#fff" opacity="0.55"/><ellipse cx="165" cy="610" rx="30" ry="40" fill="#fff" opacity="0.4"/></g></mask>
<mask id="mk6" maskUnits="userSpaceOnUse" x="366.3" y="791.3" width="365.3" height="310.0"><g filter="url(#bl14)"><ellipse cx="560" cy="990" rx="180" ry="80" fill="#fff" opacity="0.8"/><ellipse cx="560" cy="1060" rx="150" ry="40" fill="#fff" opacity="0.4"/></g></mask>
<mask id="mk7" maskUnits="userSpaceOnUse" x="366.3" y="791.3" width="365.3" height="310.0"><g filter="url(#bl4)"><ellipse cx="520" cy="965" rx="58" ry="32" fill="#fff" opacity="1" transform="rotate(10 520 965)"/><ellipse cx="630" cy="955" rx="54" ry="32" fill="#fff" opacity="1" transform="rotate(-10 630 955)"/><ellipse cx="712" cy="950" rx="36" ry="54" fill="#fff" opacity="1"/><ellipse cx="452" cy="982" rx="34" ry="34" fill="#fff" opacity="0.85"/><ellipse cx="570" cy="1030" rx="22" ry="46" fill="#fff" opacity="0.7"/></g></mask>
<mask id="mk8" maskUnits="userSpaceOnUse" x="742.3" y="791.3" width="365.1" height="310.0"><g filter="url(#bl14)"><ellipse cx="930" cy="900" rx="140" ry="75" fill="#fff" opacity="0.8"/><ellipse cx="930" cy="990" rx="110" ry="70" fill="#fff" opacity="0.4"/></g></mask>
<mask id="mk9" maskUnits="userSpaceOnUse" x="742.3" y="791.3" width="365.1" height="310.0"><g filter="url(#bl2)"><path d="M869.6,962.1 C870.5,956.7 881.7,958.5 884.8,964.3 C887.8,970.1 887.8,987.8 888.0,996.8 C888.2,1005.8 887.3,1018.5 885.9,1018.5 C884.4,1018.5 882.1,1006.2 879.3,996.8 C876.6,987.4 868.7,967.5 869.6,962.1Z" fill="#fff"/><path d="M920.5,957.8 C922.0,952.4 928.5,950.2 933.6,959.9 C938.6,969.7 949.8,1006.6 950.9,1016.3 C952.0,1026.1 944.4,1022.5 940.1,1018.5 C935.7,1014.5 928.1,1002.6 924.9,992.5 C921.6,982.3 919.1,963.2 920.5,957.8Z" fill="#fff"/><path d="M961.7,920.9 C963.2,918.8 972.6,931.4 976.9,940.4 C981.2,949.5 984.5,962.1 987.8,975.1 C991.0,988.1 997.9,1014.9 996.4,1018.5 C995.0,1022.1 983.8,1007.6 979.1,996.8 C974.4,986.0 971.1,966.1 968.2,953.4 C965.3,940.8 960.3,923.1 961.7,920.9Z" fill="#fff"/><path d="M923.8,916.6 C924.7,915.0 938.2,917.7 940.1,919.8 C941.9,922.0 937.3,930.1 934.6,929.6 C931.9,929.1 922.9,918.2 923.8,916.6Z" fill="#fff"/><path d="M988.8,944.8 C991.7,944.0 1008.0,948.4 1010.5,953.4 C1013.0,958.5 1006.9,974.4 1004.0,975.1 C1001.1,975.8 995.7,962.8 993.2,957.8 C990.6,952.7 985.9,945.5 988.8,944.8Z" fill="#fff"/></g></mask>
<mask id="mk10" maskUnits="userSpaceOnUse" x="742.3" y="791.3" width="365.1" height="310.0"><g filter="url(#bl8)"><ellipse cx="935" cy="995" rx="95" ry="66" fill="#fff" opacity="0.3"/></g></mask>
<linearGradient id="hg1" x1="0" x2="1" y1="0" y2="0"><stop offset="0.000" stop-color="#2a12aa"/><stop offset="0.080" stop-color="#2612a2"/><stop offset="0.105" stop-color="#0d0b44"/><stop offset="0.130" stop-color="#2612a2"/><stop offset="0.200" stop-color="#4114ad"/><stop offset="0.240" stop-color="#891ab1"/><stop offset="0.280" stop-color="#6017b2"/><stop offset="0.330" stop-color="#4e15af"/><stop offset="0.380" stop-color="#6017b2"/><stop offset="0.420" stop-color="#3313ab"/><stop offset="0.500" stop-color="#2a12aa"/><stop offset="0.550" stop-color="#2612a2"/><stop offset="0.565" stop-color="#060614"/><stop offset="0.680" stop-color="#080822"/><stop offset="0.800" stop-color="#08081e"/><stop offset="0.810" stop-color="#050507"/><stop offset="1.000" stop-color="#050507"/></linearGradient>
<linearGradient id="hg2" x1="0" x2="1" y1="0" y2="0"><stop offset="0.000" stop-color="#6e18b4"/><stop offset="0.050" stop-color="#6e18b4"/><stop offset="0.120" stop-color="#4114ad"/><stop offset="0.300" stop-color="#3313ab"/><stop offset="0.500" stop-color="#2a12aa"/><stop offset="0.680" stop-color="#2a12aa"/><stop offset="0.700" stop-color="#0a0a34"/><stop offset="0.735" stop-color="#070719"/><stop offset="0.755" stop-color="#2a12aa"/><stop offset="0.800" stop-color="#5716b1"/><stop offset="0.850" stop-color="#7919b3"/><stop offset="0.900" stop-color="#4e15af"/><stop offset="0.940" stop-color="#2a12aa"/><stop offset="0.955" stop-color="#060610"/><stop offset="1.000" stop-color="#050507"/></linearGradient>
<linearGradient id="hg3" x1="0" x2="1" y1="0" y2="0"><stop offset="0.000" stop-color="#2612a2"/><stop offset="0.100" stop-color="#2a12aa"/><stop offset="0.150" stop-color="#6e18b4"/><stop offset="0.180" stop-color="#aa1cad"/><stop offset="0.200" stop-color="#891ab1"/><stop offset="0.250" stop-color="#4114ad"/><stop offset="0.330" stop-color="#211197"/><stop offset="0.360" stop-color="#0a0a34"/><stop offset="0.385" stop-color="#050507"/><stop offset="1.000" stop-color="#050507"/></linearGradient>
<linearGradient id="hg4" x1="0" x2="1" y1="0" y2="0"><stop offset="0.000" stop-color="#6e18b4"/><stop offset="0.050" stop-color="#6e18b4"/><stop offset="0.150" stop-color="#4114ad"/><stop offset="0.300" stop-color="#2a12aa"/><stop offset="0.370" stop-color="#211197"/><stop offset="0.400" stop-color="#08081e"/><stop offset="0.420" stop-color="#050507"/><stop offset="0.820" stop-color="#050507"/><stop offset="0.830" stop-color="#211197"/><stop offset="0.900" stop-color="#3813ac"/><stop offset="0.930" stop-color="#7318b3"/><stop offset="0.960" stop-color="#2a12aa"/><stop offset="1.000" stop-color="#2612a2"/></linearGradient>
<linearGradient id="hg5" x1="0" x2="1" y1="0" y2="0"><stop offset="0.000" stop-color="#110d5c"/><stop offset="0.030" stop-color="#181084"/><stop offset="0.100" stop-color="#2a12aa"/><stop offset="0.200" stop-color="#3813ac"/><stop offset="0.270" stop-color="#6e18b4"/><stop offset="0.295" stop-color="#ca24a0"/><stop offset="0.320" stop-color="#6e18b4"/><stop offset="0.360" stop-color="#2a12aa"/><stop offset="0.400" stop-color="#110d5c"/><stop offset="0.430" stop-color="#1c108c"/><stop offset="0.460" stop-color="#110d5c"/><stop offset="0.500" stop-color="#211197"/><stop offset="0.550" stop-color="#2612a2"/><stop offset="0.600" stop-color="#110d5c"/><stop offset="0.620" stop-color="#050507"/><stop offset="1.000" stop-color="#050507"/></linearGradient>
<linearGradient id="hg6" x1="0" x2="1" y1="0" y2="0"><stop offset="0.000" stop-color="#6017b2"/><stop offset="0.100" stop-color="#4e15af"/><stop offset="0.300" stop-color="#3813ac"/><stop offset="0.500" stop-color="#2612a2"/><stop offset="0.570" stop-color="#110d5c"/><stop offset="0.620" stop-color="#050507"/><stop offset="0.760" stop-color="#050507"/><stop offset="0.800" stop-color="#0a0a34"/><stop offset="0.850" stop-color="#181084"/><stop offset="0.900" stop-color="#2612a2"/><stop offset="1.000" stop-color="#2612a2"/></linearGradient>
<linearGradient id="hg7" x1="0" x2="1" y1="0" y2="0"><stop offset="0.000" stop-color="#2a12aa"/><stop offset="0.060" stop-color="#3313ab"/><stop offset="0.090" stop-color="#c01eaa"/><stop offset="0.115" stop-color="#ea387f"/><stop offset="0.140" stop-color="#c01eaa"/><stop offset="0.170" stop-color="#2a12aa"/><stop offset="0.220" stop-color="#181084"/><stop offset="0.280" stop-color="#2612a2"/><stop offset="0.400" stop-color="#2a12aa"/><stop offset="0.500" stop-color="#3813ac"/><stop offset="0.550" stop-color="#110d5c"/><stop offset="0.580" stop-color="#0a0a34"/><stop offset="0.620" stop-color="#211197"/><stop offset="0.680" stop-color="#110d5c"/><stop offset="0.720" stop-color="#211197"/><stop offset="0.800" stop-color="#181084"/><stop offset="0.850" stop-color="#2612a2"/><stop offset="0.900" stop-color="#181084"/><stop offset="1.000" stop-color="#2612a2"/></linearGradient>
<linearGradient id="hg8" x1="0" x2="1" y1="0" y2="0"><stop offset="0.000" stop-color="#6e18b4"/><stop offset="0.050" stop-color="#6017b2"/><stop offset="0.150" stop-color="#4514ae"/><stop offset="0.280" stop-color="#2a12aa"/><stop offset="0.330" stop-color="#150f74"/><stop offset="0.400" stop-color="#0d0b44"/><stop offset="0.500" stop-color="#0a0a34"/><stop offset="0.550" stop-color="#1c108c"/><stop offset="0.600" stop-color="#2612a2"/><stop offset="0.700" stop-color="#211197"/><stop offset="0.800" stop-color="#1c108c"/><stop offset="0.900" stop-color="#2612a2"/><stop offset="1.000" stop-color="#2a12aa"/></linearGradient>
<linearGradient id="hg9" x1="0" x2="1" y1="0" y2="0"><stop offset="0.000" stop-color="#891ab1"/><stop offset="0.030" stop-color="#da2e8f"/><stop offset="0.060" stop-color="#a51cad"/><stop offset="0.100" stop-color="#2a12aa"/><stop offset="0.180" stop-color="#1c108c"/><stop offset="0.250" stop-color="#211197"/><stop offset="0.330" stop-color="#3813ac"/><stop offset="0.380" stop-color="#2a12aa"/><stop offset="0.420" stop-color="#0d0b44"/><stop offset="0.460" stop-color="#211197"/><stop offset="0.530" stop-color="#2612a2"/><stop offset="0.545" stop-color="#050507"/><stop offset="0.635" stop-color="#050507"/><stop offset="0.650" stop-color="#2a12aa"/><stop offset="0.720" stop-color="#5716b1"/><stop offset="0.800" stop-color="#6017b2"/><stop offset="0.840" stop-color="#2a12aa"/><stop offset="0.870" stop-color="#050507"/><stop offset="0.970" stop-color="#050507"/><stop offset="0.980" stop-color="#211197"/><stop offset="1.000" stop-color="#211197"/></linearGradient>
<linearGradient id="hg10" x1="0" x2="1" y1="0" y2="0"><stop offset="0.000" stop-color="#2612a2"/><stop offset="0.150" stop-color="#2a12aa"/><stop offset="0.250" stop-color="#6017b2"/><stop offset="0.300" stop-color="#4e15af"/><stop offset="0.340" stop-color="#6e18b4"/><stop offset="0.380" stop-color="#2a12aa"/><stop offset="0.500" stop-color="#2612a2"/><stop offset="0.650" stop-color="#1c108c"/><stop offset="0.720" stop-color="#0d0b44"/><stop offset="0.780" stop-color="#181084"/><stop offset="0.820" stop-color="#0d0b44"/><stop offset="0.880" stop-color="#211197"/><stop offset="0.950" stop-color="#181084"/><stop offset="1.000" stop-color="#08081e"/></linearGradient>
<linearGradient id="hg11" x1="0" x2="1" y1="0" y2="0"><stop offset="0.000" stop-color="#6017b2"/><stop offset="0.060" stop-color="#5716b1"/><stop offset="0.130" stop-color="#891ab1"/><stop offset="0.200" stop-color="#4e15af"/><stop offset="0.250" stop-color="#211197"/><stop offset="0.300" stop-color="#09092b"/><stop offset="0.340" stop-color="#181084"/><stop offset="0.400" stop-color="#2a12aa"/><stop offset="0.500" stop-color="#3813ac"/><stop offset="0.600" stop-color="#2a12aa"/><stop offset="0.700" stop-color="#3813ac"/><stop offset="0.750" stop-color="#211197"/><stop offset="0.800" stop-color="#4e15af"/><stop offset="0.830" stop-color="#6017b2"/><stop offset="0.832" stop-color="#050507"/><stop offset="1.000" stop-color="#050507"/></linearGradient>
<linearGradient id="hg12" x1="0" x2="1" y1="0" y2="0"><stop offset="0.000" stop-color="#2a12aa"/><stop offset="0.200" stop-color="#2a12aa"/><stop offset="0.300" stop-color="#4514ae"/><stop offset="0.400" stop-color="#4114ad"/><stop offset="0.500" stop-color="#2a12aa"/><stop offset="0.600" stop-color="#211197"/><stop offset="0.640" stop-color="#08081e"/><stop offset="0.700" stop-color="#08081e"/><stop offset="0.730" stop-color="#211197"/><stop offset="0.760" stop-color="#110d5c"/><stop offset="0.850" stop-color="#211197"/><stop offset="0.895" stop-color="#2612a2"/><stop offset="0.897" stop-color="#050507"/><stop offset="1.000" stop-color="#050507"/></linearGradient>
<linearGradient id="hg13" x1="0" x2="1" y1="0" y2="0"><stop offset="0.000" stop-color="#a51cad"/><stop offset="0.025" stop-color="#d02899"/><stop offset="0.060" stop-color="#6e18b4"/><stop offset="0.120" stop-color="#2a12aa"/><stop offset="0.300" stop-color="#211197"/><stop offset="0.360" stop-color="#110d5c"/><stop offset="0.390" stop-color="#050507"/><stop offset="0.450" stop-color="#060614"/><stop offset="0.500" stop-color="#110d5c"/><stop offset="0.600" stop-color="#2a12aa"/><stop offset="0.650" stop-color="#6017b2"/><stop offset="0.700" stop-color="#891ab1"/><stop offset="0.750" stop-color="#c01eaa"/><stop offset="0.770" stop-color="#c622a3"/><stop offset="0.772" stop-color="#050507"/><stop offset="1.000" stop-color="#050507"/></linearGradient>
<linearGradient id="hg14" x1="0" x2="1" y1="0" y2="0"><stop offset="0.000" stop-color="#5716b1"/><stop offset="0.100" stop-color="#4e15af"/><stop offset="0.300" stop-color="#3813ac"/><stop offset="0.380" stop-color="#211197"/><stop offset="0.450" stop-color="#181084"/><stop offset="0.550" stop-color="#1c108c"/><stop offset="0.630" stop-color="#181084"/><stop offset="0.660" stop-color="#08081e"/><stop offset="0.700" stop-color="#110d5c"/><stop offset="0.750" stop-color="#1c108c"/><stop offset="0.800" stop-color="#4114ad"/><stop offset="0.830" stop-color="#e03289"/><stop offset="0.848" stop-color="#f03c78"/><stop offset="0.850" stop-color="#050507"/><stop offset="1.000" stop-color="#050507"/></linearGradient>
<linearGradient id="hg15" x1="0" x2="1" y1="0" y2="0"><stop offset="0.000" stop-color="#2612a2"/><stop offset="0.100" stop-color="#211197"/><stop offset="0.200" stop-color="#2a12aa"/><stop offset="0.300" stop-color="#6e18b4"/><stop offset="0.360" stop-color="#a51cad"/><stop offset="0.400" stop-color="#f4556f"/><stop offset="0.420" stop-color="#f4556f"/><stop offset="0.450" stop-color="#c01eaa"/><stop offset="0.500" stop-color="#891ab1"/><stop offset="0.560" stop-color="#a51cad"/><stop offset="0.600" stop-color="#6017b2"/><stop offset="0.680" stop-color="#6e18b4"/><stop offset="0.720" stop-color="#5716b1"/><stop offset="0.760" stop-color="#891ab1"/><stop offset="0.800" stop-color="#5716b1"/><stop offset="0.875" stop-color="#3813ac"/><stop offset="0.877" stop-color="#050507"/><stop offset="1.000" stop-color="#050507"/></linearGradient>
<linearGradient id="hg16" x1="0" x2="1" y1="0" y2="0"><stop offset="0.000" stop-color="#2a12aa"/><stop offset="0.100" stop-color="#4e15af"/><stop offset="0.200" stop-color="#5716b1"/><stop offset="0.300" stop-color="#4e15af"/><stop offset="0.400" stop-color="#5716b1"/><stop offset="0.500" stop-color="#5716b1"/><stop offset="0.580" stop-color="#6017b2"/><stop offset="0.615" stop-color="#f4556f"/><stop offset="0.650" stop-color="#f86f66"/><stop offset="0.680" stop-color="#c01eaa"/><stop offset="0.720" stop-color="#d02899"/><stop offset="0.750" stop-color="#f03c78"/><stop offset="0.780" stop-color="#891ab1"/><stop offset="0.850" stop-color="#4e15af"/><stop offset="0.900" stop-color="#2a12aa"/><stop offset="0.930" stop-color="#110d5c"/><stop offset="0.970" stop-color="#2612a2"/><stop offset="1.000" stop-color="#211197"/></linearGradient>
<linearGradient id="hg17" x1="0" x2="1" y1="0" y2="0"><stop offset="0.000" stop-color="#a51cad"/><stop offset="0.030" stop-color="#c01eaa"/><stop offset="0.060" stop-color="#4114ad"/><stop offset="0.120" stop-color="#211197"/><stop offset="0.170" stop-color="#0d0b44"/><stop offset="0.220" stop-color="#181084"/><stop offset="0.300" stop-color="#4e15af"/><stop offset="0.400" stop-color="#4e15af"/><stop offset="0.500" stop-color="#6e18b4"/><stop offset="0.530" stop-color="#2a12aa"/><stop offset="0.560" stop-color="#09092b"/><stop offset="0.620" stop-color="#060610"/><stop offset="0.660" stop-color="#2a12aa"/><stop offset="0.700" stop-color="#a51cad"/><stop offset="0.750" stop-color="#891ab1"/><stop offset="0.800" stop-color="#a51cad"/><stop offset="0.860" stop-color="#da2e8f"/><stop offset="0.900" stop-color="#c01eaa"/><stop offset="0.950" stop-color="#891ab1"/><stop offset="1.000" stop-color="#d02899"/></linearGradient>
<linearGradient id="hg18" x1="0" x2="1" y1="0" y2="0"><stop offset="0.000" stop-color="#2612a2"/><stop offset="0.060" stop-color="#5716b1"/><stop offset="0.100" stop-color="#3813ac"/><stop offset="0.200" stop-color="#3813ac"/><stop offset="0.300" stop-color="#4e15af"/><stop offset="0.400" stop-color="#2612a2"/><stop offset="0.500" stop-color="#2a12aa"/><stop offset="0.600" stop-color="#4514ae"/><stop offset="0.700" stop-color="#6017b2"/><stop offset="0.740" stop-color="#e03289"/><stop offset="0.770" stop-color="#f86f66"/><stop offset="0.800" stop-color="#d02899"/><stop offset="0.830" stop-color="#5716b1"/><stop offset="0.870" stop-color="#181084"/><stop offset="0.900" stop-color="#09092b"/><stop offset="0.940" stop-color="#181084"/><stop offset="1.000" stop-color="#3813ac"/></linearGradient>
<linearGradient id="hg19" x1="0" x2="1" y1="0" y2="0"><stop offset="0.000" stop-color="#4e15af"/><stop offset="0.080" stop-color="#6e18b4"/><stop offset="0.110" stop-color="#c01eaa"/><stop offset="0.140" stop-color="#6e18b4"/><stop offset="0.200" stop-color="#4114ad"/><stop offset="0.280" stop-color="#2a12aa"/><stop offset="0.320" stop-color="#0d0b44"/><stop offset="0.370" stop-color="#050507"/><stop offset="0.400" stop-color="#08081e"/><stop offset="0.430" stop-color="#2a12aa"/><stop offset="0.500" stop-color="#4514ae"/><stop offset="0.580" stop-color="#4e15af"/><stop offset="0.620" stop-color="#2612a2"/><stop offset="0.700" stop-color="#2612a2"/><stop offset="0.750" stop-color="#0d0b44"/><stop offset="0.780" stop-color="#09092b"/><stop offset="0.820" stop-color="#211197"/><stop offset="0.900" stop-color="#2612a2"/><stop offset="0.940" stop-color="#6e18b4"/><stop offset="0.970" stop-color="#f03c78"/><stop offset="1.000" stop-color="#e03289"/></linearGradient>
<linearGradient id="hg20" x1="0" x2="1" y1="0" y2="0"><stop offset="0.000" stop-color="#2a12aa"/><stop offset="0.100" stop-color="#3813ac"/><stop offset="0.200" stop-color="#4514ae"/><stop offset="0.280" stop-color="#6e18b4"/><stop offset="0.330" stop-color="#6e18b4"/><stop offset="0.400" stop-color="#2a12aa"/><stop offset="0.500" stop-color="#2a12aa"/><stop offset="0.600" stop-color="#2a12aa"/><stop offset="0.680" stop-color="#181084"/><stop offset="0.750" stop-color="#0d0b44"/><stop offset="0.800" stop-color="#181084"/><stop offset="0.900" stop-color="#2612a2"/><stop offset="1.000" stop-color="#4514ae"/></linearGradient>
<linearGradient id="cbar1" x1="0" x2="0" y1="0" y2="1"><stop offset="0" stop-color="#fdf27e"/><stop offset="0.18" stop-color="#fba46e"/><stop offset="0.34" stop-color="#f2486a"/><stop offset="0.5" stop-color="#d222b0"/><stop offset="0.62" stop-color="#7c18b8"/><stop offset="0.72" stop-color="#3c14b0"/><stop offset="0.82" stop-color="#1c129c"/><stop offset="0.91" stop-color="#0c0c3c"/><stop offset="1" stop-color="#050507"/></linearGradient>
<linearGradient id="agr" x1="0" x2="1" y1="0" y2="0"><stop offset="0" stop-color="#4cd828" stop-opacity="0"/><stop offset="0.3" stop-color="#4cd828" stop-opacity="0.9"/><stop offset="1" stop-color="#4cd828"/></linearGradient>
<linearGradient id="hg21" x1="0" x2="1" y1="0" y2="0"><stop offset="0.000" stop-color="#09092b"/><stop offset="0.100" stop-color="#0a0a34"/><stop offset="0.150" stop-color="#211197"/><stop offset="0.300" stop-color="#1c108c"/><stop offset="0.400" stop-color="#2a12aa"/><stop offset="0.600" stop-color="#2a12aa"/><stop offset="0.800" stop-color="#2612a2"/><stop offset="1.000" stop-color="#2612a2"/></linearGradient>
<linearGradient id="hg22" x1="0" x2="1" y1="0" y2="0"><stop offset="0.000" stop-color="#060610"/><stop offset="0.120" stop-color="#060610"/><stop offset="0.180" stop-color="#110d5c"/><stop offset="0.220" stop-color="#110d5c"/><stop offset="0.260" stop-color="#060610"/><stop offset="0.500" stop-color="#060610"/><stop offset="0.550" stop-color="#211197"/><stop offset="0.650" stop-color="#2a12aa"/><stop offset="0.720" stop-color="#181084"/><stop offset="0.800" stop-color="#0d0b44"/><stop offset="0.900" stop-color="#09092b"/><stop offset="1.000" stop-color="#0d0b44"/></linearGradient>
<linearGradient id="hg23" x1="0" x2="1" y1="0" y2="0"><stop offset="0.000" stop-color="#08081e"/><stop offset="0.080" stop-color="#0d0b44"/><stop offset="0.150" stop-color="#08081e"/><stop offset="0.250" stop-color="#08081e"/><stop offset="0.300" stop-color="#181084"/><stop offset="0.400" stop-color="#2a12aa"/><stop offset="0.550" stop-color="#4e15af"/><stop offset="0.650" stop-color="#6e18b4"/><stop offset="0.750" stop-color="#4e15af"/><stop offset="0.900" stop-color="#3813ac"/><stop offset="1.000" stop-color="#6017b2"/></linearGradient>
<linearGradient id="hg24" x1="0" x2="1" y1="0" y2="0"><stop offset="0.000" stop-color="#211197"/><stop offset="0.150" stop-color="#2a12aa"/><stop offset="0.250" stop-color="#5716b1"/><stop offset="0.330" stop-color="#7e19b2"/><stop offset="0.400" stop-color="#5716b1"/><stop offset="0.500" stop-color="#4514ae"/><stop offset="0.650" stop-color="#6017b2"/><stop offset="0.780" stop-color="#4514ae"/><stop offset="0.840" stop-color="#181084"/><stop offset="0.880" stop-color="#060610"/><stop offset="1.000" stop-color="#050507"/></linearGradient>
<linearGradient id="hg25" x1="0" x2="1" y1="0" y2="0"><stop offset="0.000" stop-color="#08081e"/><stop offset="0.200" stop-color="#060614"/><stop offset="0.300" stop-color="#08081e"/><stop offset="0.360" stop-color="#181084"/><stop offset="0.420" stop-color="#1c108c"/><stop offset="0.480" stop-color="#09092b"/><stop offset="0.550" stop-color="#0a0a34"/><stop offset="0.650" stop-color="#211197"/><stop offset="0.800" stop-color="#2a12aa"/><stop offset="0.900" stop-color="#4514ae"/><stop offset="1.000" stop-color="#5716b1"/></linearGradient>
<linearGradient id="hg26" x1="0" x2="1" y1="0" y2="0"><stop offset="0.000" stop-color="#060614"/><stop offset="0.100" stop-color="#060610"/><stop offset="0.200" stop-color="#0a0a34"/><stop offset="0.280" stop-color="#2a12aa"/><stop offset="0.350" stop-color="#6e18b4"/><stop offset="0.420" stop-color="#941baf"/><stop offset="0.500" stop-color="#6017b2"/><stop offset="0.600" stop-color="#6e18b4"/><stop offset="0.700" stop-color="#7e19b2"/><stop offset="0.780" stop-color="#891ab1"/><stop offset="0.850" stop-color="#6017b2"/><stop offset="0.920" stop-color="#891ab1"/><stop offset="1.000" stop-color="#6017b2"/></linearGradient>
<linearGradient id="hg27" x1="0" x2="1" y1="0" y2="0"><stop offset="0.000" stop-color="#0d0b44"/><stop offset="0.100" stop-color="#0d0b44"/><stop offset="0.200" stop-color="#211197"/><stop offset="0.300" stop-color="#6e18b4"/><stop offset="0.400" stop-color="#7e19b2"/><stop offset="0.500" stop-color="#891ab1"/><stop offset="0.580" stop-color="#c01eaa"/><stop offset="0.650" stop-color="#a51cad"/><stop offset="0.750" stop-color="#b51dab"/><stop offset="0.820" stop-color="#d02899"/><stop offset="0.860" stop-color="#f24b72"/><stop offset="0.920" stop-color="#f5606b"/><stop offset="1.000" stop-color="#f4556f"/></linearGradient>
<linearGradient id="hg28" x1="0" x2="1" y1="0" y2="0"><stop offset="0.000" stop-color="#5716b1"/><stop offset="0.050" stop-color="#2a12aa"/><stop offset="0.150" stop-color="#2612a2"/><stop offset="0.250" stop-color="#5716b1"/><stop offset="0.350" stop-color="#6017b2"/><stop offset="0.450" stop-color="#5716b1"/><stop offset="0.550" stop-color="#6017b2"/><stop offset="0.650" stop-color="#5716b1"/><stop offset="0.750" stop-color="#4514ae"/><stop offset="0.850" stop-color="#2a12aa"/><stop offset="1.000" stop-color="#211197"/></linearGradient>
<linearGradient id="hg29" x1="0" x2="1" y1="0" y2="0"><stop offset="0.000" stop-color="#e63682"/><stop offset="0.080" stop-color="#e03289"/><stop offset="0.150" stop-color="#891ab1"/><stop offset="0.250" stop-color="#941baf"/><stop offset="0.300" stop-color="#d02899"/><stop offset="0.350" stop-color="#f4556f"/><stop offset="0.400" stop-color="#e03289"/><stop offset="0.470" stop-color="#5716b1"/><stop offset="0.550" stop-color="#181084"/><stop offset="0.650" stop-color="#09092b"/><stop offset="0.720" stop-color="#181084"/><stop offset="0.800" stop-color="#2612a2"/><stop offset="0.900" stop-color="#181084"/><stop offset="1.000" stop-color="#2612a2"/></linearGradient>
<linearGradient id="hg30" x1="0" x2="1" y1="0" y2="0"><stop offset="0.000" stop-color="#4514ae"/><stop offset="0.100" stop-color="#4e15af"/><stop offset="0.200" stop-color="#6017b2"/><stop offset="0.280" stop-color="#a51cad"/><stop offset="0.340" stop-color="#da2e8f"/><stop offset="0.400" stop-color="#c622a3"/><stop offset="0.480" stop-color="#6e18b4"/><stop offset="0.600" stop-color="#4514ae"/><stop offset="0.700" stop-color="#3813ac"/><stop offset="0.800" stop-color="#4e15af"/><stop offset="0.900" stop-color="#4514ae"/><stop offset="1.000" stop-color="#4e15af"/></linearGradient>
<linearGradient id="cbar2" x1="0" x2="0" y1="0" y2="1"><stop offset="0" stop-color="#fdf27e"/><stop offset="0.18" stop-color="#fba46e"/><stop offset="0.34" stop-color="#f2486a"/><stop offset="0.5" stop-color="#d222b0"/><stop offset="0.62" stop-color="#7c18b8"/><stop offset="0.72" stop-color="#3c14b0"/><stop offset="0.82" stop-color="#1c129c"/><stop offset="0.91" stop-color="#0c0c3c"/><stop offset="1" stop-color="#050507"/></linearGradient>
<linearGradient id="bgr" x1="1" x2="0" y1="0" y2="0"><stop offset="0" stop-color="#3a5ce8" stop-opacity="0"/><stop offset="0.35" stop-color="#3a5ce8" stop-opacity="0.9"/><stop offset="1" stop-color="#3a5ce8"/></linearGradient>

<linearGradient id="cone" x1="0" x2="0" y1="0" y2="1"><stop offset="0" stop-color="#f03048" stop-opacity="0.95"/><stop offset="0.35" stop-color="#f67a30" stop-opacity="0.85"/><stop offset="0.7" stop-color="#f8b030" stop-opacity="0.6"/><stop offset="1" stop-color="#fbe070" stop-opacity="0.05"/></linearGradient>
</defs>
<rect width="2000" height="1568" fill="#fff"/>
<!-- p_a -->
<text transform="translate(0.12,42.75) scale(0.8567,1)" font-size="51.64" font-weight="bold" stroke="#111" stroke-width="0.45" fill="#111" >a</text>
<path d="M59.5,125.3 C58.8,125.2 57.3,125.4 55.3,124.7 C53.3,124.0 50.2,122.9 47.6,121.1 C45.0,119.2 42.6,116.1 39.9,113.5 C37.2,110.9 34.3,107.5 31.5,105.4 C28.7,103.3 25.9,101.6 23.1,100.9 C20.3,100.2 17.0,100.4 14.7,101.2 C12.4,102.0 10.1,104.3 9.1,105.7 C8.1,107.1 7.6,108.0 8.7,109.6 C9.7,111.2 12.2,113.0 15.4,115.2 C18.6,117.4 24.0,119.7 28.0,122.9 C32.0,126.0 35.7,130.1 39.2,134.1 C42.7,138.1 45.7,142.3 49.0,146.7 C52.3,151.1 55.3,155.9 58.8,160.7 C62.3,165.5 65.8,170.8 70.0,175.4 C74.2,179.9 79.3,184.7 84.0,188.0 C88.7,191.3 93.3,193.3 98.0,195.0 C102.7,196.7 107.3,198.0 112.0,198.1 C116.7,198.2 122.4,197.0 126.0,195.7 C129.6,194.4 131.9,192.3 133.7,190.1 C135.5,187.9 134.9,184.1 136.9,182.4 C138.9,180.6 142.8,180.5 145.6,179.6 C148.4,178.7 151.5,178.0 154.0,176.8 C156.5,175.6 159.7,174.1 160.7,172.6 C161.7,171.1 159.0,167.7 159.9,167.7 C160.7,167.7 164.2,171.5 165.9,172.3 C167.6,173.1 169.3,171.9 170.1,172.3 C170.9,172.7 170.1,173.6 170.8,174.7 C171.5,175.8 172.4,177.3 174.3,178.9 C176.2,180.5 178.4,182.5 182.0,184.1 C185.6,185.6 191.3,187.2 196.0,188.3 C200.7,189.3 205.3,190.0 210.0,190.2 C214.7,190.5 219.3,189.5 224.0,189.7 C228.7,189.8 233.3,190.5 238.0,191.1 C242.7,191.6 247.3,192.6 252.0,193.0 C256.7,193.5 262.6,194.1 266.0,193.9 C269.4,193.7 270.9,194.1 272.3,191.9 C273.7,189.8 273.9,184.9 274.4,181.0 C274.9,177.1 275.5,171.6 275.2,168.4 C275.0,165.2 274.5,163.1 273.0,161.7 C271.5,160.3 268.3,160.5 266.0,160.0 C263.7,159.5 260.2,159.1 259.0,158.9" fill="none" stroke="#111" stroke-width="1.50" stroke-linejoin="round"/>
<path d="M59.5,125.3 C58.2,124.8 54.4,124.3 51.8,122.2 C49.2,120.1 46.0,115.9 44.1,112.4 C42.2,108.9 40.9,104.6 40.3,101.2 C39.7,97.8 39.4,94.7 40.6,92.1 C41.8,89.5 43.9,87.5 47.6,85.5 C51.3,83.6 56.9,81.9 63.0,80.5 C69.1,79.1 75.8,77.9 84.0,77.0 C92.2,76.0 102.7,75.3 112.0,74.7 C121.3,74.2 131.8,73.9 140.0,73.8 C148.2,73.6 155.2,73.5 161.0,73.6 C166.8,73.7 170.6,73.9 175.0,74.3 C179.4,74.7 184.1,75.1 187.6,76.0 C191.1,76.9 193.9,77.9 196.0,79.5 C198.1,81.1 199.4,83.6 200.2,85.8 C200.9,88.0 200.7,90.8 200.5,92.8 C200.2,94.8 199.8,96.4 198.8,97.7 C197.8,99.0 196.2,99.8 194.6,100.5 C193.0,101.2 189.9,101.1 189.3,101.6 C188.6,102.1 189.8,102.9 190.7,103.4 C191.6,104.0 193.2,104.7 194.6,104.8 C195.9,104.9 197.0,104.2 198.8,104.0 C200.5,103.8 204.0,103.8 205.1,103.7" fill="none" stroke="#111" stroke-width="1.50" stroke-linejoin="round"/>
<path d="M205.5,104.0 C205.8,103.4 206.3,103.0 206.8,102.6 C207.2,102.2 207.7,101.8 208.3,101.5 C208.8,101.1 209.4,100.9 210.0,100.6 C210.6,100.3 211.2,100.1 211.8,99.9 C212.3,99.6 212.9,99.4 213.5,99.1 C214.0,98.8 214.5,98.5 215.0,98.1 C215.5,97.7 215.9,97.2 216.4,96.7 C216.8,96.3 217.3,95.7 217.8,95.3 C218.3,94.8 218.8,94.4 219.4,94.0 C219.9,93.7 220.5,93.3 221.1,93.1 C221.7,92.9 222.4,92.7 223.0,92.6 C223.7,92.6 224.4,92.6 225.0,92.7 C225.7,92.7 226.4,92.9 227.0,93.1 C227.7,93.2 228.3,93.4 229.0,93.6 C229.6,93.8 230.2,94.0 230.8,94.2 C231.4,94.4 232.0,94.5 232.6,94.6 C233.2,94.6 233.8,94.6 234.4,94.6 C235.1,94.6 235.7,94.5 236.3,94.4 C236.9,94.3 237.6,94.2 238.2,94.1 C238.9,94.0 239.6,93.9 240.2,93.8 C240.9,93.8 241.6,93.8 242.2,93.8 C242.9,93.9 243.5,94.0 244.1,94.3 C244.8,94.5 245.3,94.8 245.9,95.2 C246.4,95.5 246.9,96.0 247.4,96.4 C247.9,96.9 248.3,97.5 248.7,98.0 C249.1,98.5 249.5,99.1 249.9,99.6 C250.3,100.1 250.7,100.6 251.1,101.1 C251.5,101.5 251.9,102.0 252.4,102.3 C252.8,102.7 253.3,103.1 253.8,103.4 C254.4,103.7 254.9,104.0 255.5,104.3 C256.1,104.6 256.7,104.8 257.3,105.1 C257.9,105.5 258.5,105.8 259.0,106.2 C259.5,106.5 260.1,106.9 260.5,107.4 C261.0,107.9 261.4,108.4 261.7,109.0 C262.0,109.5 262.2,110.1 262.4,110.8 C262.6,111.4 262.7,112.1 262.7,112.7 C262.8,113.4 262.8,114.1 262.8,114.7 C262.9,115.4 262.8,116.1 262.9,116.7 C262.9,117.3 262.9,117.9 263.0,118.5 C263.1,119.1 263.2,119.7 263.4,120.3 C263.6,120.8 263.8,121.4 264.1,122.0 C264.3,122.5 264.6,123.1 264.9,123.6 C265.2,124.2 265.5,124.8 265.8,125.4 C266.1,126.0 266.3,126.6 266.5,127.3 C266.7,127.9 266.9,128.5 266.9,129.2 C267.0,129.8 267.0,130.5 267.0,131.1 C266.9,131.7 266.8,132.4 266.6,133.0 C266.5,133.6 266.2,134.2 266.0,134.8 C265.7,135.4 265.4,136.0 265.1,136.6 C264.9,137.2 264.6,137.7 264.4,138.3 C264.1,138.9 263.9,139.5 263.8,140.1 C263.7,140.7 263.6,141.3 263.6,142.0 C263.5,142.7 263.5,143.4 263.6,144.1 C263.6,144.9 263.7,145.7 263.7,146.4 C263.7,147.2 263.8,148.0 263.7,148.8 C263.6,149.6 263.5,150.3 263.2,151.0 C263.0,151.7 262.7,152.4 262.4,153.0 C262.0,153.7 261.6,154.2 261.2,154.8 C260.8,155.4 260.3,156.0 259.9,156.6 C259.5,157.2 260.9,158.4 258.6,158.5 C256.4,158.6 251.0,157.8 246.4,157.2 C241.8,156.6 236.6,155.6 231.0,154.7 C225.4,153.8 217.5,153.3 212.8,151.9 C208.1,150.4 205.7,148.8 203.0,146.0 C200.2,143.2 197.4,138.5 196.3,135.1 C195.1,131.6 195.6,128.1 196.0,125.3 C196.4,122.4 197.7,120.4 198.8,118.0 C199.8,115.6 201.3,113.0 202.3,111.0 C203.3,109.0 204.1,107.3 204.7,106.1 C205.2,104.9 205.1,104.6 205.5,104.0Z" fill="#fff" stroke="#111" stroke-width="1.50" stroke-linejoin="round"/>
<path d="M226.8,127.8 C225.4,125.7 220.5,118.9 218.4,115.2 C216.3,111.5 214.9,107.0 214.2,105.4" fill="none" stroke="#555" stroke-width="0.7"/>
<path d="M229.6,126.4 C229.6,124.1 230.1,117.1 229.6,112.4 C229.1,107.7 227.3,100.7 226.8,98.4" fill="none" stroke="#555" stroke-width="0.7"/>
<path d="M235.2,126.4 C236.4,124.3 240.6,118.0 242.2,113.8 C243.8,109.6 244.5,103.3 245.0,101.2" fill="none" stroke="#555" stroke-width="0.7"/>
<path d="M238.0,129.2 C240.1,127.8 246.9,123.6 250.6,120.8 C254.3,118.0 258.8,113.8 260.4,112.4" fill="none" stroke="#555" stroke-width="0.7"/>
<path d="M238.0,133.4 C240.3,133.2 247.6,132.2 252.0,132.0 C256.4,131.8 262.5,132.0 264.6,132.0" fill="none" stroke="#555" stroke-width="0.7"/>
<path d="M236.6,137.6 C238.5,138.5 244.1,140.9 247.8,143.2 C251.5,145.5 257.1,150.2 259.0,151.6" fill="none" stroke="#555" stroke-width="0.7"/>
<path d="M231.0,139.0 C231.5,140.4 232.9,144.8 233.8,147.4 C234.7,150.0 236.1,153.2 236.6,154.4" fill="none" stroke="#555" stroke-width="0.7"/>
<path d="M226.8,136.2 C225.6,137.4 222.1,140.9 219.8,143.2 C217.5,145.5 214.0,149.0 212.8,150.2" fill="none" stroke="#555" stroke-width="0.7"/>
<path d="M224.0,132.0 C221.7,132.2 214.2,133.4 210.0,133.4 C205.8,133.4 200.7,132.2 198.8,132.0" fill="none" stroke="#555" stroke-width="0.7"/>
<path d="M224.0,129.2 C221.9,128.0 215.1,124.1 211.4,122.2 C207.7,120.3 203.2,118.7 201.6,118.0" fill="none" stroke="#555" stroke-width="0.7"/>
<path d="M72.8,116.6 C72.0,115.4 70.9,112.9 71.4,111.0 C71.9,109.1 72.6,107.0 75.6,105.4 C78.6,103.8 84.5,102.4 89.6,101.2 C94.7,100.0 101.3,99.6 106.4,98.4 C111.5,97.2 115.7,95.6 120.4,94.2 C125.1,92.8 128.8,91.0 134.4,90.0 C140.0,88.9 147.2,88.2 154.0,87.9 C160.8,87.6 170.4,88.0 175.0,88.3 C179.5,88.7 180.6,89.3 181.3,90.0 C182.0,90.7 181.9,92.3 179.2,92.8 C176.5,93.3 169.9,92.3 165.2,92.8 C160.5,93.3 154.0,94.2 151.2,95.6 C148.4,97.0 149.3,99.4 148.4,101.2 C147.5,102.9 147.9,104.7 145.6,106.1 C143.3,107.5 138.1,109.5 134.4,109.6 C130.7,109.7 126.9,107.7 123.2,106.8 C119.5,105.9 116.2,104.2 112.0,104.0 C107.8,103.8 102.7,104.5 98.0,105.4 C93.3,106.3 87.6,107.5 84.0,109.6 C80.4,111.7 78.2,116.8 76.3,118.0 C74.4,119.2 73.6,117.8 72.8,116.6Z" fill="#f2f2f2" stroke="#555" stroke-width="0.8"/>
<path d="M123.2,104.0 C123.7,103.1 124.1,99.8 126.0,98.4 C127.9,97.0 131.1,95.6 134.4,95.6 C137.7,95.6 144.0,97.0 145.6,98.4 C147.2,99.8 145.6,102.8 144.2,104.0 C142.8,105.2 139.3,105.6 137.2,105.4 C135.1,105.2 131.8,103.5 131.6,102.6 C131.4,101.7 134.2,100.0 135.8,99.8 C137.4,99.6 140.5,101.0 141.4,101.2" fill="none" stroke="#555" stroke-width="0.7"/>
<polygon points="110.6,100.9 119.0,102.6 120.7,99.8 118.3,106.1 122.5,107.5 119.0,109.6 115.5,115.2 114.1,108.2" fill="#111"/>
<path d="M36.7,125.0 C36.7,123.8 38.8,122.7 40.6,123.6 C42.4,124.5 44.6,128.0 47.6,130.6 C50.6,133.2 55.9,136.7 58.8,139.0 C61.7,141.3 64.3,143.2 65.1,144.6 C65.9,146.0 64.7,147.3 63.7,147.7 C62.6,148.0 61.2,148.1 58.8,146.7 C56.3,145.3 52.0,141.7 49.0,139.0 C46.0,136.3 42.7,132.9 40.6,130.6 C38.5,128.3 36.7,126.2 36.7,125.0Z" fill="#f4f4f4" stroke="#555" stroke-width="0.8"/>
<rect x="164.40" y="45.50" width="3.50" height="105.00" fill="#6a6a6a" stroke="#2a2a2a" stroke-width="0.90" />
<rect x="161.7" y="54.3" width="9.2" height="24" rx="1.5" fill="#d4d8d4" stroke="#999" stroke-width="0.6"/>
<line x1="261.80" y1="68.30" x2="201.60" y2="138.60" stroke="#111" stroke-width="1.10" />
<circle cx="197.4" cy="146" r="4.4" fill="#3be33b"/>
<circle cx="167.3" cy="162.4" r="7.2" fill="#3be33b"/>
<line x1="193" y1="147.5" x2="178" y2="154" stroke="#3be33b" stroke-width="1.8" stroke-dasharray="2.2,1.6"/>
<polygon points="170.5,157 178,150.8 178.8,156.6" fill="#3be33b"/>
<text transform="translate(196.75,167.99) scale(0.9631,1)" font-size="18.89" font-weight="bold" stroke="#111" stroke-width="0.45" fill="#111" >LDTg</text>
<text transform="translate(144.72,195.60) scale(1.0120,1)" font-size="18.33" font-weight="bold" stroke="#111" stroke-width="0.45" fill="#111" >IPN</text>
<text transform="translate(132.05,216.16) scale(1.0085,1)" font-size="18.81" stroke="#111" stroke-width="0.25" font-style="italic" fill="#111" >GAD2</text>
<text transform="translate(183.85,209.86) scale(1.0262,1)" font-size="11.23" stroke="#111" stroke-width="0.25" font-style="italic" fill="#111" >Cre</text>
<rect x="225.00" y="33.00" width="17.50" height="5.00" fill="#b8bcb8" />
<line x1="233.60" y1="38.00" x2="233.60" y2="66.00" stroke="#a8e6a0" stroke-width="2.20" />
<line x1="233.60" y1="54.00" x2="233.60" y2="68.00" stroke="#6cc8f0" stroke-width="1.00" />
<polygon points="232,66 235.2,66 233.6,73.5" fill="#444"/>
<polyline points="210,43 221,43 221,54 233.6,54" fill="none" stroke="#7cc8f4" stroke-width="1"/>
<line x1="210.00" y1="54.00" x2="221.00" y2="54.00" stroke="#3a66e0" stroke-width="1.00" />
<line x1="207.00" y1="43.00" x2="211.00" y2="43.00" stroke="#333" stroke-width="2.00" />
<line x1="207.00" y1="54.00" x2="211.00" y2="54.00" stroke="#333" stroke-width="2.00" />
<line x1="219.00" y1="51.00" x2="227.00" y2="58.50" stroke="#444" stroke-width="1.80" />
<line x1="231.00" y1="51.00" x2="239.00" y2="58.50" stroke="#444" stroke-width="1.80" />
<text transform="translate(199.91,26.80) scale(0.9732,1)" font-size="16.27" font-weight="bold" stroke="#111" stroke-width="0.45" fill="#111" >Photodetector</text>
<text transform="translate(123.86,43.68) scale(1.0073,1)" font-size="14.17" font-weight="bold" stroke="#111" stroke-width="0.45" fill="#111" >Optic Fiber</text>
<text transform="translate(267.86,63.68) scale(1.0643,1)" font-size="16.11" stroke="#3be33b" stroke-width="0.25" font-style="italic" fill="#3be33b" >AAVrg*-LoxP-</text>
<text transform="translate(266.13,85.38) scale(0.9855,1)" font-size="17.68" stroke="#3be33b" stroke-width="0.25" font-style="italic" fill="#3be33b" >GCaMP</text>
<g clip-path="url(#cm1)">
<rect x="14.60" y="226.00" width="307.40" height="245.00" fill="#070a10" />
<rect x="14.6" y="226.0" width="307.4" height="245.0" fill="url(#pB)" filter="url(#bl05)" opacity="1"/>
<g mask="url(#mk1)"><rect x="14.6" y="226.0" width="307.4" height="245.0" fill="url(#pB2)" filter="url(#bl05)"/></g>
<g filter="url(#bl8)" opacity="0.42">
<ellipse cx="140" cy="338" rx="42" ry="20" fill="#1f9a4c" opacity="1" transform="rotate(12 140 338)"/>
<ellipse cx="215" cy="330" rx="45" ry="20" fill="#1f9a4c" opacity="1" transform="rotate(-14 215 330)"/>
<ellipse cx="270" cy="298" rx="40" ry="14" fill="#1f9a4c" opacity="1" transform="rotate(-30 270 298)"/>
<ellipse cx="80" cy="330" rx="28" ry="26" fill="#1f9a4c" opacity="0.6"/>
<ellipse cx="180" cy="390" rx="12" ry="45" fill="#1f9a4c" opacity="0.8"/>
</g>
<g mask="url(#mk2)"><rect x="14.6" y="226.0" width="307.4" height="245.0" fill="url(#pG)" filter="url(#bl05)"/></g>
<path d="M178,322 Q180,350 172,372 M186,340 Q190,360 196,380" fill="none" stroke="#4fe050" stroke-width="1.3" opacity="0.8" filter="url(#bl1)"/>
<path d="M64.0,222.0 C66.7,228.0 73.3,247.7 80.0,258.0 C86.7,268.3 95.3,277.0 104.0,284.0 C112.7,291.0 123.5,295.7 132.0,300.0 C140.5,304.3 148.3,307.0 155.0,310.0 C161.7,313.0 166.2,316.7 172.0,318.0 C177.8,319.3 183.3,319.7 190.0,318.0 C196.7,316.3 203.7,311.7 212.0,308.0 C220.3,304.3 230.0,301.0 240.0,296.0 C250.0,291.0 262.3,284.3 272.0,278.0 C281.7,271.7 291.0,264.3 298.0,258.0 C305.0,251.7 309.7,246.0 314.0,240.0 C318.3,234.0 322.3,225.0 324.0,222.0 L324,220 L64,220Z" fill="none" stroke="#1a3cc8" stroke-width="7" opacity="0.75" filter="url(#bl2)"/>
<path d="M64.0,222.0 C66.7,228.0 73.3,247.7 80.0,258.0 C86.7,268.3 95.3,277.0 104.0,284.0 C112.7,291.0 123.5,295.7 132.0,300.0 C140.5,304.3 148.3,307.0 155.0,310.0 C161.7,313.0 166.2,316.7 172.0,318.0 C177.8,319.3 183.3,319.7 190.0,318.0 C196.7,316.3 203.7,311.7 212.0,308.0 C220.3,304.3 230.0,301.0 240.0,296.0 C250.0,291.0 262.3,284.3 272.0,278.0 C281.7,271.7 291.0,264.3 298.0,258.0 C305.0,251.7 309.7,246.0 314.0,240.0 C318.3,234.0 322.3,225.0 324.0,222.0 L324,220 L64,220Z" fill="#040506"/>
<path d="M129.0,340.0 C127.2,337.5 122.8,332.3 118.0,325.0 C113.2,317.7 106.7,303.5 100.0,296.0 C93.3,288.5 85.0,282.0 78.0,280.0 C71.0,278.0 64.3,280.7 58.0,284.0 C51.7,287.3 45.0,293.2 40.0,300.0 C35.0,306.8 31.0,315.8 28.0,325.0 C25.0,334.2 22.2,345.8 22.0,355.0 C21.8,364.2 24.0,372.5 27.0,380.0 C30.0,387.5 35.3,394.2 40.0,400.0 C44.7,405.8 48.3,411.8 55.0,415.0 C61.7,418.2 70.8,418.8 80.0,419.0 C89.2,419.2 102.0,417.2 110.0,416.0 C118.0,414.8 126.7,415.5 128.0,412.0 C129.3,408.5 121.8,401.2 118.0,395.0 C114.2,388.8 108.7,382.5 105.0,375.0 C101.3,367.5 97.2,357.2 96.0,350.0 C94.8,342.8 96.0,337.0 98.0,332.0 C100.0,327.0 104.3,322.7 108.0,320.0 C111.7,317.3 116.0,317.0 120.0,316.0 C124.0,315.0 127.7,314.3 132.0,314.0 C136.3,313.7 143.7,314.0 146.0,314.0" fill="none" stroke="#fff" stroke-width="1.6" stroke-dasharray="6.5,4.8"/>
<path d="M230.0,312.0 C233.0,309.7 241.3,302.5 248.0,298.0 C254.7,293.5 262.2,288.3 270.0,285.0 C277.8,281.7 288.0,278.0 295.0,278.0 C302.0,278.0 307.5,281.3 312.0,285.0 C316.5,288.7 320.3,297.5 322.0,300.0" fill="none" stroke="#fff" stroke-width="1.6" stroke-dasharray="6.5,4.8"/>
<path d="M236.0,314.0 C238.3,315.0 245.7,316.5 250.0,320.0 C254.3,323.5 259.3,329.2 262.0,335.0 C264.7,340.8 266.0,347.8 266.0,355.0 C266.0,362.2 264.3,371.2 262.0,378.0 C259.7,384.8 254.7,392.0 252.0,396.0 C249.3,400.0 244.3,400.3 246.0,402.0 C247.7,403.7 255.5,405.0 262.0,406.0 C268.5,407.0 277.8,408.7 285.0,408.0 C292.2,407.3 299.8,405.3 305.0,402.0 C310.2,398.7 313.2,392.0 316.0,388.0 C318.8,384.0 321.0,379.7 322.0,378.0" fill="none" stroke="#fff" stroke-width="1.6" stroke-dasharray="6.5,4.8"/>
<ellipse cx="290" cy="352" rx="8" ry="3.5" fill="#05060c" opacity="0.85" transform="rotate(-30 290 352)"/>
<line x1="292.00" y1="464.40" x2="316.00" y2="464.40" stroke="#fff" stroke-width="1.80" />
</g>
<text transform="translate(21.10,246.02) scale(0.9732,1)" font-size="20.60" font-weight="bold" stroke="#5fe83c" stroke-width="0.45" fill="#5fe83c" >AAVrg*-LoxP-GCaMP</text>
<text transform="translate(20.08,270.00) scale(1.0580,1)" font-size="20.95" font-weight="bold" stroke="#1f49d6" stroke-width="0.45" fill="#1f49d6" >DAPI</text>
<text transform="translate(143.12,295.33) scale(1.0233,1)" font-size="26.67" font-weight="bold" stroke="#fff" stroke-width="0.45" fill="#fff" >LDTg</text>
<g clip-path="url(#cm2)">
<rect x="18.00" y="482.00" width="307.00" height="278.00" fill="#070a10" />
<rect x="18.0" y="482.0" width="307.0" height="278.0" fill="url(#pB)" filter="url(#bl05)" opacity="1"/>
<g mask="url(#mk3)"><rect x="18.0" y="482.0" width="307.0" height="278.0" fill="url(#pB2)" filter="url(#bl05)"/></g>
<path d="M18,700 Q100,775 172,756 Q260,775 325,690 L325,760 L18,760Z" fill="#05070c" opacity="0.5" filter="url(#bl4)"/>
<g filter="url(#bl14)" opacity="0.5">
<ellipse cx="178" cy="680" rx="72" ry="58" fill="#1f9a4a" opacity="1"/>
<ellipse cx="165" cy="605" rx="36" ry="48" fill="#1f9a4a" opacity="0.7"/>
</g>
<g filter="url(#bl4)" opacity="0.35"><path d="M117,652 L137,659 L145,726 L127,702Z" fill="#40d848"/><path d="M163,645 L189,649 L199,748 L169,702Z" fill="#40d848"/><path d="M211,637 L233,647 L231,696 L215,672Z" fill="#40d848"/><path d="M150,620 L166,624 L172,650 L158,644Z" fill="#40d848" opacity="0.6"/></g>
<g mask="url(#mk4)"><rect x="18.0" y="482.0" width="307.0" height="278.0" fill="url(#pG2)" filter="url(#bl05)"/></g>
<g mask="url(#mk5)"><rect x="18.0" y="482.0" width="307.0" height="278.0" fill="url(#pG)" filter="url(#bl05)"/></g>
<path d="M128.4,549.0 C129.6,553.3 133.8,567.5 135.8,574.9 C137.8,582.3 138.6,587.2 140.4,593.4 C142.3,599.6 144.3,607.0 146.9,611.9 C149.5,616.8 153.7,622.4 156.1,623.0 C158.6,623.6 160.8,616.8 161.7,615.6" fill="none" stroke="#3cd040" stroke-width="5" opacity="0.45" filter="url(#bl2)"/>
<path d="M118.2,480.5 C115.4,484.2 119.8,494.4 121.0,502.7 C122.2,511.1 123.8,522.2 125.6,530.5 C127.5,538.8 130.1,545.9 132.1,552.7 C134.1,559.5 136.1,565.0 137.6,571.2 C139.2,577.4 139.8,583.5 141.3,589.7 C142.9,595.9 144.9,603.1 146.9,608.2 C148.9,613.3 151.5,618.5 153.4,620.2 C155.2,621.9 157.0,621.0 158.0,618.4 C158.9,615.7 159.3,609.9 159.1,604.5 C158.8,599.1 157.4,592.2 156.5,586.0 C155.6,579.8 154.7,573.7 153.9,567.5 C153.1,561.3 152.5,555.2 151.7,549.0 C150.9,542.8 149.7,536.7 149.1,530.5 C148.5,524.3 149.0,517.5 148.0,512.0 C147.0,506.4 144.9,502.4 143.2,497.2 C141.5,492.0 141.8,483.3 137.6,480.5 C133.5,477.8 121.0,476.8 118.2,480.5Z" fill="#040506"/>
<polygon points="118,517 150,511 172,617 143,624" fill="none" stroke="#fff" stroke-width="1.3"/>
<path d="M161.7,534.6 C170.9,534.6 185.7,535.2 195.0,537.0 C204.2,538.8 210.1,540.8 217.2,545.3 C224.3,549.8 231.4,556.4 237.5,563.8 C243.7,571.2 248.9,580.4 254.2,589.7 C259.4,598.9 264.7,610.0 269.0,619.3 C273.3,628.5 277.1,636.5 280.1,645.2 C283.0,653.8 285.6,663.1 286.5,671.1 C287.5,679.1 287.3,686.5 285.6,693.3 C283.9,700.1 281.3,706.8 276.4,711.8 C271.4,716.7 263.4,719.5 256.0,722.9 C248.6,726.3 240.6,729.0 232.0,732.1 C223.3,735.2 213.5,739.2 204.2,741.4 C195.0,743.5 185.7,744.9 176.5,745.1 C167.2,745.2 158.0,744.1 148.7,742.3 C139.5,740.4 130.9,736.9 121.0,734.0 C111.1,731.0 97.2,729.0 89.5,724.7 C81.8,720.4 79.4,714.2 74.7,708.1 C70.1,701.9 64.7,694.2 61.8,687.7 C58.9,681.3 57.5,676.3 57.2,669.2 C56.9,662.1 57.9,653.5 59.9,645.2 C61.9,636.9 65.2,628.5 69.2,619.3 C73.2,610.0 79.1,598.3 84.0,589.7 C88.9,581.1 93.2,574.6 98.8,567.5 C104.3,560.4 110.5,552.2 117.3,547.1 C124.1,542.1 132.1,539.1 139.5,537.0 C146.9,534.9 152.4,534.6 161.7,534.6Z" fill="none" stroke="#fff" stroke-width="1.6" stroke-dasharray="6.5,4.8"/>
<circle cx="128" cy="671" r="3.5" fill="#05070f" opacity="0.85"/>
<circle cx="113" cy="648" r="3" fill="#05070f" opacity="0.85"/>
<circle cx="232" cy="653" r="3.5" fill="#05070f" opacity="0.85"/>
<circle cx="215" cy="667" r="3" fill="#05070f" opacity="0.85"/>
<circle cx="233" cy="674" r="3" fill="#05070f" opacity="0.85"/>
<circle cx="195" cy="625" r="2.5" fill="#05070f" opacity="0.85"/>
<circle cx="250" cy="624" r="2.5" fill="#05070f" opacity="0.85"/>
<circle cx="232" cy="608" r="3" fill="#05070f" opacity="0.85"/>
<circle cx="238" cy="694" r="2.5" fill="#05070f" opacity="0.85"/>
<circle cx="99" cy="715" r="3" fill="#05070f" opacity="0.85"/>
<line x1="295.60" y1="748.40" x2="319.00" y2="748.40" stroke="#fff" stroke-width="1.80" />
</g>
<text transform="translate(26.15,507.71) scale(0.9780,1)" font-size="23.16" font-weight="bold" stroke="#5fe83c" stroke-width="0.45" fill="#5fe83c" >GAD2 Cre::GCaMP</text>
<text transform="translate(233.49,502.82) scale(0.9891,1)" font-size="17.78" font-weight="bold" stroke="#5fe83c" stroke-width="0.45" fill="#5fe83c" >IPN-LDTg</text>
<text transform="translate(25.32,534.00) scale(0.9858,1)" font-size="24.73" font-weight="bold" stroke="#1f49d6" stroke-width="0.45" fill="#1f49d6" >DAPI</text>
<text transform="translate(255.27,545.60) scale(0.8842,1)" font-size="28.51" font-weight="bold" stroke="#fff" stroke-width="0.45" fill="#fff" >IPN</text>
<!-- p_b -->
<text transform="translate(411.05,42.91) scale(0.9127,1)" font-size="55.19" font-weight="bold" stroke="#111" stroke-width="0.45" fill="#111" >b</text>
<text transform="translate(741.04,67.60) scale(0.9873,1)" font-size="40.73" font-weight="bold" stroke="#111" stroke-width="0.45" fill="#111" >Day 4</text>
<rect x="443.30" y="129.60" width="316.20" height="181.30" fill="#050507" />
<rect x="443.30" y="129.60" width="316.20" height="18.43" fill="url(#hg1)"/>
<rect x="443.30" y="147.73" width="316.20" height="18.43" fill="url(#hg2)"/>
<rect x="443.30" y="165.86" width="316.20" height="18.43" fill="url(#hg3)"/>
<rect x="443.30" y="183.99" width="316.20" height="18.43" fill="url(#hg4)"/>
<rect x="443.30" y="202.12" width="316.20" height="18.43" fill="url(#hg5)"/>
<rect x="443.30" y="220.25" width="316.20" height="18.43" fill="url(#hg6)"/>
<rect x="443.30" y="238.38" width="316.20" height="18.43" fill="url(#hg7)"/>
<rect x="443.30" y="256.51" width="316.20" height="18.43" fill="url(#hg8)"/>
<rect x="443.30" y="274.64" width="316.20" height="18.43" fill="url(#hg9)"/>
<rect x="443.30" y="292.77" width="316.20" height="18.43" fill="url(#hg10)"/>
<line x1="562.82" y1="129.60" x2="562.82" y2="310.90" stroke="#ee2434" stroke-width="2.00" stroke-dasharray="4.5,3"/>
<rect x="443.30" y="129.60" width="316.20" height="181.30" fill="none" stroke="#0a0a0c" stroke-width="1.80" />
<text transform="translate(419.04,155.08) scale(0.7915,1)" font-size="27.49" font-weight="bold" stroke="#111" stroke-width="0.45" fill="#111" >1</text>
<text transform="translate(418.74,192.63) scale(0.9567,1)" font-size="28.73" font-weight="bold" stroke="#111" stroke-width="0.45" fill="#111" >2</text>
<text transform="translate(418.92,229.84) scale(0.9732,1)" font-size="27.89" font-weight="bold" stroke="#111" stroke-width="0.45" fill="#111" >3</text>
<text transform="translate(419.29,266.54) scale(0.8842,1)" font-size="28.20" font-weight="bold" stroke="#111" stroke-width="0.45" fill="#111" >4</text>
<text transform="translate(418.76,304.22) scale(0.9442,1)" font-size="28.38" font-weight="bold" stroke="#111" stroke-width="0.45" fill="#111" >5</text>
<text transform="translate(761.95,146.37) scale(0.8497,1)" font-size="18.07" stroke="#111" stroke-width="0.25" fill="#111" >First</text>
<text transform="translate(762.54,163.34) scale(0.8677,1)" font-size="17.41" stroke="#111" stroke-width="0.25" fill="#111" >Others</text>
<text transform="translate(761.95,180.78) scale(0.8497,1)" font-size="18.07" stroke="#111" stroke-width="0.25" fill="#111" >First</text>
<text transform="translate(762.54,197.99) scale(0.8677,1)" font-size="17.41" stroke="#111" stroke-width="0.25" fill="#111" >Others</text>
<text transform="translate(761.95,215.43) scale(0.8497,1)" font-size="18.07" stroke="#111" stroke-width="0.25" fill="#111" >First</text>
<text transform="translate(762.54,231.91) scale(0.8677,1)" font-size="17.41" stroke="#111" stroke-width="0.25" fill="#111" >Others</text>
<text transform="translate(761.95,252.99) scale(0.8817,1)" font-size="17.41" stroke="#111" stroke-width="0.25" fill="#111" >First</text>
<text transform="translate(762.54,269.95) scale(0.8677,1)" font-size="17.41" stroke="#111" stroke-width="0.25" fill="#111" >Others</text>
<text transform="translate(761.95,290.55) scale(0.8987,1)" font-size="17.08" stroke="#111" stroke-width="0.25" fill="#111" >First</text>
<text transform="translate(762.54,307.52) scale(0.8844,1)" font-size="17.08" stroke="#111" stroke-width="0.25" fill="#111" >Others</text>
<text transform="translate(424.84,337.17) scale(1.0672,1)" font-size="26.53" font-weight="bold" stroke="#111" stroke-width="0.45" fill="#111" >-3</text>
<text transform="translate(553.22,337.17) scale(1.0810,1)" font-size="26.53" font-weight="bold" stroke="#111" stroke-width="0.45" fill="#111" >0</text>
<text transform="translate(746.54,337.16) scale(1.0222,1)" font-size="27.00" font-weight="bold" stroke="#111" stroke-width="0.45" fill="#111" >5</text>
<text transform="translate(565.33,364.92) scale(1.0438,1)" font-size="28.03" font-weight="bold" stroke="#111" stroke-width="0.45" fill="#111" >Time (s)</text>
<text transform="translate(400.86,120.85) scale(1.0546,1)" font-size="27.93" font-weight="bold" stroke="#111" stroke-width="0.45" fill="#111" >Animal #</text>
<text transform="translate(572.82,111.55) scale(1.0369,1)" font-size="36.20" font-weight="bold" stroke="#111" stroke-width="0.45" fill="#111" >Novel</text>
<rect x="858.20" y="129.60" width="316.20" height="181.30" fill="#050507" />
<rect x="858.20" y="129.60" width="316.20" height="18.43" fill="url(#hg11)"/>
<rect x="858.20" y="147.73" width="316.20" height="18.43" fill="url(#hg12)"/>
<rect x="858.20" y="165.86" width="316.20" height="18.43" fill="url(#hg13)"/>
<rect x="858.20" y="183.99" width="316.20" height="18.43" fill="url(#hg14)"/>
<rect x="858.20" y="202.12" width="316.20" height="18.43" fill="url(#hg15)"/>
<rect x="858.20" y="220.25" width="316.20" height="18.43" fill="url(#hg16)"/>
<rect x="858.20" y="238.38" width="316.20" height="18.43" fill="url(#hg17)"/>
<rect x="858.20" y="256.51" width="316.20" height="18.43" fill="url(#hg18)"/>
<rect x="858.20" y="274.64" width="316.20" height="18.43" fill="url(#hg19)"/>
<rect x="858.20" y="292.77" width="316.20" height="18.43" fill="url(#hg20)"/>
<line x1="978.36" y1="129.60" x2="978.36" y2="310.90" stroke="#ee2434" stroke-width="2.00" stroke-dasharray="4.5,3"/>
<rect x="858.20" y="129.60" width="316.20" height="181.30" fill="none" stroke="#0a0a0c" stroke-width="1.80" />
<text transform="translate(835.86,155.08) scale(0.8381,1)" font-size="27.49" font-weight="bold" stroke="#111" stroke-width="0.45" fill="#111" >1</text>
<text transform="translate(835.60,192.63) scale(0.9996,1)" font-size="28.73" font-weight="bold" stroke="#111" stroke-width="0.45" fill="#111" >2</text>
<text transform="translate(835.79,229.84) scale(1.0168,1)" font-size="27.89" font-weight="bold" stroke="#111" stroke-width="0.45" fill="#111" >3</text>
<text transform="translate(836.17,266.54) scale(0.9238,1)" font-size="28.20" font-weight="bold" stroke="#111" stroke-width="0.45" fill="#111" >4</text>
<text transform="translate(835.62,304.22) scale(0.9865,1)" font-size="28.38" font-weight="bold" stroke="#111" stroke-width="0.45" fill="#111" >5</text>
<text transform="translate(1178.75,146.37) scale(0.8497,1)" font-size="18.07" stroke="#111" stroke-width="0.25" fill="#111" >First</text>
<text transform="translate(1179.34,163.34) scale(0.8677,1)" font-size="17.41" stroke="#111" stroke-width="0.25" fill="#111" >Others</text>
<text transform="translate(1178.75,180.78) scale(0.8497,1)" font-size="18.07" stroke="#111" stroke-width="0.25" fill="#111" >First</text>
<text transform="translate(1179.34,197.99) scale(0.8677,1)" font-size="17.41" stroke="#111" stroke-width="0.25" fill="#111" >Others</text>
<text transform="translate(1178.75,215.43) scale(0.8497,1)" font-size="18.07" stroke="#111" stroke-width="0.25" fill="#111" >First</text>
<text transform="translate(1179.34,231.91) scale(0.8677,1)" font-size="17.41" stroke="#111" stroke-width="0.25" fill="#111" >Others</text>
<text transform="translate(1178.75,252.99) scale(0.8817,1)" font-size="17.41" stroke="#111" stroke-width="0.25" fill="#111" >First</text>
<text transform="translate(1179.34,269.95) scale(0.8677,1)" font-size="17.41" stroke="#111" stroke-width="0.25" fill="#111" >Others</text>
<text transform="translate(1178.75,290.55) scale(0.8987,1)" font-size="17.08" stroke="#111" stroke-width="0.25" fill="#111" >First</text>
<text transform="translate(1179.34,307.52) scale(0.8844,1)" font-size="17.08" stroke="#111" stroke-width="0.25" fill="#111" >Others</text>
<text transform="translate(841.32,337.17) scale(1.0811,1)" font-size="26.53" font-weight="bold" stroke="#111" stroke-width="0.45" fill="#111" >-3</text>
<text transform="translate(969.73,337.17) scale(1.0732,1)" font-size="26.53" font-weight="bold" stroke="#111" stroke-width="0.45" fill="#111" >0</text>
<text transform="translate(1163.34,337.16) scale(1.0222,1)" font-size="27.00" font-weight="bold" stroke="#111" stroke-width="0.45" fill="#111" >5</text>
<text transform="translate(981.83,364.92) scale(1.0447,1)" font-size="28.03" font-weight="bold" stroke="#111" stroke-width="0.45" fill="#111" >Time (s)</text>
<text transform="translate(818.17,120.85) scale(1.0494,1)" font-size="27.93" font-weight="bold" stroke="#111" stroke-width="0.45" fill="#111" >Animal #</text>
<text transform="translate(986.46,111.55) scale(1.0209,1)" font-size="36.20" font-weight="bold" stroke="#111" stroke-width="0.45" fill="#111" >Familiar</text>
<rect x="1240.40" y="348.00" width="15.00" height="59.60" fill="url(#cbar1)" stroke="#0a0a0c" stroke-width="1.50" />
<line x1="1240.40" y1="371.20" x2="1243.40" y2="371.20" stroke="#111" stroke-width="1.10" />
<line x1="1252.40" y1="371.20" x2="1255.40" y2="371.20" stroke="#111" stroke-width="1.10" />
<line x1="1240.40" y1="398.80" x2="1243.40" y2="398.80" stroke="#111" stroke-width="1.10" />
<line x1="1252.40" y1="398.80" x2="1255.40" y2="398.80" stroke="#111" stroke-width="1.10" />
<text transform="translate(1220.45,358.49) scale(0.9545,1)" font-size="25.14" font-weight="bold" stroke="#111" stroke-width="0.45" fill="#111" >5</text>
<text transform="translate(1135.19,388.46) scale(0.9607,1)" font-size="26.86" font-weight="bold" stroke="#111" stroke-width="0.45" fill="#111" >Z-score</text>
<text transform="translate(1211.44,417.60) scale(1.0419,1)" font-size="24.57" font-weight="bold" stroke="#111" stroke-width="0.45" fill="#111" >-2</text>
<line x1="547.5" y1="478.6" x2="759.3" y2="478.6" stroke="#111" stroke-width="1.2" stroke-dasharray="1.2,2.2"/>
<polygon points="441.6,460.8 449.3,449.8 456.9,455.7 464.6,462.1 472.3,467.2 479.9,472.3 502.9,472.3 523.3,473.5 530.9,478.6 538.6,485.0 548.8,485.0 559.0,490.1 569.2,487.6 576.9,492.7 584.5,502.9 592.2,510.5 602.4,513.1 612.6,509.2 620.2,505.9 627.9,504.1 635.5,506.7 645.7,507.5 655.9,510.5 666.2,515.6 676.4,520.7 684.0,518.2 689.1,508.0 696.8,502.9 704.4,495.2 712.1,485.0 719.7,478.6 727.4,479.9 733.8,477.4 740.1,487.6 747.8,497.8 755.4,502.9 759.3,513.1 759.3,528.4 752.9,523.3 745.2,510.5 737.6,500.3 732.5,492.7 727.4,487.6 719.7,493.9 712.1,505.4 704.4,515.6 696.8,525.8 689.1,533.5 681.5,538.6 677.6,555.2 671.3,553.9 661.1,546.2 650.8,536.0 640.6,533.5 635.5,530.9 627.9,527.1 620.2,525.8 612.6,528.4 602.4,530.9 592.2,527.1 584.5,524.6 576.9,518.2 569.2,510.5 559.0,505.4 548.8,497.8 538.6,496.5 530.9,492.7 523.3,486.3 502.9,487.6 487.6,487.6 479.9,483.7 472.3,479.9 464.6,474.8 456.9,469.7 449.3,469.7 441.6,473.5" fill="#d3dc86" opacity="1"/>
<polyline points="441.6,467.2 449.3,459.5 456.9,462.1 464.6,468.4 472.3,473.5 479.9,477.4 487.6,478.6 495.2,479.9 502.9,478.6 513.1,477.4 523.3,479.9 530.9,485.0 538.6,490.1 548.8,490.6 559.0,497.8 569.2,499.0 576.9,505.4 584.5,513.1 592.2,518.2 602.4,520.7 612.6,518.2 620.2,515.6 627.9,515.1 635.5,519.5 640.6,522.0 650.8,519.5 661.1,523.3 671.3,525.8 681.5,528.4 689.1,523.3 696.8,515.6 704.4,506.7 712.1,495.2 719.7,486.3 727.4,483.7 732.5,485.5 737.6,492.7 745.2,502.9 752.9,513.1 759.3,525.8" fill="none" stroke="#a0622a" stroke-width="1.40" stroke-linejoin="round"/>
<polygon points="441.6,468.4 448.0,464.6 454.4,458.2 460.8,463.3 467.2,467.2 474.8,460.8 482.5,460.8 490.1,464.6 497.8,462.1 505.4,460.8 513.1,463.3 520.7,462.6 528.4,462.1 534.8,457.5 541.1,463.3 546.2,476.1 553.9,482.5 560.8,485.0 569.2,492.7 576.9,499.0 584.5,502.9 592.2,500.3 599.8,492.7 606.2,493.2 612.6,502.9 617.7,515.6 625.3,523.3 633.0,525.8 640.6,523.3 650.8,520.7 661.1,513.1 671.3,509.2 678.9,515.6 686.6,520.7 694.2,519.5 701.9,515.6 709.5,519.5 717.2,536.0 724.8,551.3 735.0,557.7 742.7,543.7 750.3,530.9 759.3,525.8 759.3,617.7 750.3,611.3 742.7,615.1 735.0,625.3 724.8,620.2 717.2,607.5 709.5,592.2 699.8,590.9 698.8,582.0 689.1,569.2 678.9,559.0 668.7,551.3 661.1,553.9 653.4,548.8 645.7,545.0 638.1,543.7 630.4,553.9 624.1,565.4 617.7,553.9 612.6,538.6 604.9,525.8 594.7,523.3 587.1,523.3 579.4,528.4 569.2,520.7 560.8,510.5 553.9,505.4 546.2,495.2 538.6,487.6 530.9,485.0 523.3,485.0 515.6,488.8 508.0,490.1 500.3,492.7 492.7,487.6 483.7,487.6 477.4,499.0 472.3,493.9 464.6,487.6 456.9,491.4 448.0,492.7 441.6,487.6" fill="#f0819f" opacity="1"/>
<polyline points="441.6,479.9 448.0,478.6 454.4,474.8 462.1,477.9 469.7,481.2 477.4,478.6 485.0,474.8 492.7,476.1 500.3,477.9 508.0,476.1 515.6,475.3 523.3,476.8 528.4,474.8 534.8,471.0 539.9,471.7 545.0,479.9 551.3,486.3 560.8,495.2 569.2,506.7 576.9,511.8 583.2,514.4 589.6,510.5 597.3,507.5 604.9,506.7 611.3,513.1 617.7,533.5 624.1,546.2 630.4,541.7 638.1,534.8 643.2,532.2 650.8,534.0 659.8,534.8 666.2,528.4 671.3,525.8 677.6,531.4 684.0,541.1 691.7,548.3 698.0,549.3 699.3,554.4 707.0,556.4 717.2,573.0 727.4,587.1 735.0,591.7 742.7,579.4 750.3,570.5 759.3,573.0" fill="none" stroke="#a81826" stroke-width="1.60" stroke-linejoin="round"/>
<line x1="560.8" y1="425" x2="560.8" y2="667" stroke="#f0484e" stroke-width="1.4" stroke-dasharray="9,5.5"/>
<line x1="441.60" y1="382.57" x2="441.60" y2="668.30" stroke="#111" stroke-width="1.80" />
<line x1="440.70" y1="667.40" x2="760.20" y2="667.40" stroke="#111" stroke-width="1.80" />
<line x1="441.64" y1="667.40" x2="441.64" y2="673.60" stroke="#111" stroke-width="1.80" />
<line x1="481.44" y1="667.40" x2="481.44" y2="673.60" stroke="#111" stroke-width="1.80" />
<line x1="520.99" y1="667.40" x2="520.99" y2="673.60" stroke="#111" stroke-width="1.80" />
<line x1="560.79" y1="667.40" x2="560.79" y2="673.60" stroke="#111" stroke-width="1.80" />
<line x1="600.33" y1="667.40" x2="600.33" y2="673.60" stroke="#111" stroke-width="1.80" />
<line x1="640.13" y1="667.40" x2="640.13" y2="673.60" stroke="#111" stroke-width="1.80" />
<line x1="679.68" y1="667.40" x2="679.68" y2="673.60" stroke="#111" stroke-width="1.80" />
<line x1="719.48" y1="667.40" x2="719.48" y2="673.60" stroke="#111" stroke-width="1.80" />
<line x1="759.28" y1="667.40" x2="759.28" y2="673.60" stroke="#111" stroke-width="1.80" />
<line x1="435.40" y1="383.47" x2="441.60" y2="383.47" stroke="#111" stroke-width="1.80" />
<line x1="435.40" y1="478.63" x2="441.60" y2="478.63" stroke="#111" stroke-width="1.80" />
<line x1="435.40" y1="572.52" x2="441.60" y2="572.52" stroke="#111" stroke-width="1.80" />
<line x1="435.40" y1="667.43" x2="441.60" y2="667.43" stroke="#111" stroke-width="1.80" />
<text transform="translate(421.49,393.72) scale(0.9000,1)" font-size="28.07" font-weight="bold" stroke="#111" stroke-width="0.45" fill="#111">3</text>
<text transform="translate(421.49,488.88) scale(0.9000,1)" font-size="28.07" font-weight="bold" stroke="#111" stroke-width="0.45" fill="#111">0</text>
<text transform="translate(413.13,582.77) scale(0.9000,1)" font-size="28.07" font-weight="bold" stroke="#111" stroke-width="0.45" fill="#111">-3</text>
<text transform="translate(413.13,677.68) scale(0.9000,1)" font-size="28.07" font-weight="bold" stroke="#111" stroke-width="0.45" fill="#111">-6</text>
<text transform="translate(430.09,702.04) scale(0.9000,1)" font-size="28.91" font-weight="bold" stroke="#111" stroke-width="0.45" fill="#111">-3</text>
<text transform="translate(469.69,702.40) scale(0.9000,1)" font-size="29.43" font-weight="bold" stroke="#111" stroke-width="0.45" fill="#111">-2</text>
<text transform="translate(508.85,702.40) scale(0.9000,1)" font-size="29.96" font-weight="bold" stroke="#111" stroke-width="0.45" fill="#111">-1</text>
<text transform="translate(553.55,702.04) scale(0.9000,1)" font-size="28.91" font-weight="bold" stroke="#111" stroke-width="0.45" fill="#111">0</text>
<text transform="translate(592.32,702.40) scale(0.9000,1)" font-size="29.96" font-weight="bold" stroke="#111" stroke-width="0.45" fill="#111">1</text>
<text transform="translate(632.85,702.40) scale(0.9000,1)" font-size="29.43" font-weight="bold" stroke="#111" stroke-width="0.45" fill="#111">2</text>
<text transform="translate(672.60,702.04) scale(0.9000,1)" font-size="28.91" font-weight="bold" stroke="#111" stroke-width="0.45" fill="#111">3</text>
<text transform="translate(711.89,702.40) scale(0.9000,1)" font-size="29.96" font-weight="bold" stroke="#111" stroke-width="0.45" fill="#111">4</text>
<text transform="translate(751.83,702.03) scale(0.9000,1)" font-size="29.43" font-weight="bold" stroke="#111" stroke-width="0.45" fill="#111">5</text>
<text transform="translate(397.88,575.92) rotate(-90) scale(1.0639,1)" font-size="33.57" font-weight="bold" stroke="#111" stroke-width="0.45" fill="#111" >Z-score</text>
<text transform="translate(405.59,735.27) scale(0.9917,1)" font-size="25.07" font-weight="bold" stroke="#111" stroke-width="0.45" fill="#111" >Time from investigation</text>
<text transform="translate(691.97,735.49) scale(0.9919,1)" font-size="25.12" font-weight="bold" stroke="#3be33b" stroke-width="0.45" fill="#3be33b" >onset</text>
<text transform="translate(765.70,736.07) scale(0.9105,1)" font-size="26.31" font-weight="bold" stroke="#111" stroke-width="0.45" fill="#111" >(s)</text>
<line x1="451.30" y1="386.80" x2="467.10" y2="386.80" stroke="#b01e2c" stroke-width="4.00" />
<text transform="translate(473.84,396.73) scale(0.9706,1)" font-size="21.83" font-weight="bold" stroke="#111" stroke-width="0.45" fill="#111" >First</text>
<line x1="451.30" y1="409.00" x2="467.10" y2="409.00" stroke="#d0903c" stroke-width="4.00" />
<text transform="translate(474.53,418.92) scale(0.9265,1)" font-size="22.10" font-weight="bold" stroke="#111" stroke-width="0.45" fill="#111" >Others</text>
<g transform="translate(440,550) scale(0.06)"><rect x="150" y="120" width="1600" height="1105" fill="#f4f9f9"/><polygon points="1140,550 1635,550 1635,1085 1440,1175 1215,1160 1040,1045 1040,650" fill="#f6d2dc" stroke="#b84a68" stroke-width="17"/><rect x="1275" y="340" width="340" height="560" fill="#eef4f3" opacity="0.45"/><rect x="1279" y="370" width="22" height="530" fill="#7d9e9e"/><rect x="1324" y="370" width="22" height="530" fill="#7d9e9e"/><rect x="1374" y="370" width="22" height="530" fill="#7d9e9e"/><rect x="1439" y="370" width="22" height="530" fill="#7d9e9e"/><rect x="1504" y="370" width="22" height="530" fill="#7d9e9e"/><rect x="1549" y="370" width="22" height="530" fill="#7d9e9e"/><rect x="1594" y="370" width="22" height="530" fill="#7d9e9e"/><ellipse cx="1445" cy="908" rx="190" ry="52" fill="#5f8587"/><ellipse cx="1445" cy="340" rx="190" ry="58" fill="#628a8b"/><path d="M1335,575 Q1370,555 1400,590 L1425,650 L1475,760 L1495,860 Q1460,890 1425,875 L1378,760 L1338,645 Q1320,600 1335,575Z" fill="#6b5d58"/><path d="M1440,890 Q1560,900 1700,905" fill="none" stroke="#c88a96" stroke-width="8"/><path d="M210,590 Q280,760 450,790" fill="none" stroke="#d4a0aa" stroke-width="15"/><path d="M420,560 Q500,720 650,750" fill="none" stroke="#c98893" stroke-width="16"/><path d="M570,560 Q660,720 810,762" fill="none" stroke="#c27885" stroke-width="17"/><path d="M420,870 Q440,720 560,690 Q680,690 720,780 L760,860 L700,900 L600,880 L560,930 L520,880 L440,900Z" fill="#b4c0c0" opacity="0.9"/><path d="M640,850 Q670,690 790,655 Q900,650 960,760 L980,860 L920,900 L820,880 L780,930 L740,880 L660,900Z" fill="#798383" opacity="0.95"/><path d="M800,810 Q830,700 960,648 Q1040,650 1085,672 Q1120,632 1165,650 Q1225,672 1252,712 Q1230,750 1165,790 L1150,860 L1205,885 L1140,878 L1085,850 L1005,832 L975,890 L1000,920 L950,912 L905,835 L840,850 L800,905 L770,900 L790,845Z" fill="#454a4a"/><circle cx="1120" cy="690" r="16" fill="#d88a98"/><path d="M410,880 l-22,55 l30,6" fill="none" stroke="#d4a0aa" stroke-width="9"/><path d="M620,880 l-22,55 l30,6" fill="none" stroke="#d4a0aa" stroke-width="9"/><path d="M720,880 l-22,55 l30,6" fill="none" stroke="#d4a0aa" stroke-width="9"/><path d="M790,880 l-22,55 l30,6" fill="none" stroke="#d4a0aa" stroke-width="9"/><path d="M420,275 Q620,305 800,375 L960,420 L960,388 L1118,495 L960,558 L960,522 L800,492 Q620,440 420,372Z" fill="url(#agr)"/></g>
<line x1="857.3" y1="479.4" x2="1175" y2="479.4" stroke="#111" stroke-width="1.2" stroke-dasharray="1.2,2.2"/>
<polygon points="857.3,477.4 869.3,479.9 876.9,474.8 887.2,472.3 899.9,469.7 912.7,472.3 922.9,472.3 933.1,474.8 940.7,469.7 948.4,468.4 953.5,472.3 963.7,474.8 979.0,476.1 996.9,477.4 1008.3,482.5 1019.8,486.3 1026.2,483.7 1035.1,479.9 1045.3,479.9 1051.7,462.1 1054.3,446.7 1063.2,446.7 1068.3,456.9 1081.1,449.3 1093.8,446.7 1104.0,448.0 1114.2,459.5 1121.9,448.0 1127.0,467.2 1137.2,482.5 1147.4,492.7 1157.6,479.9 1167.8,472.3 1174.9,476.1 1174.9,499.0 1162.7,502.9 1155.0,510.5 1147.4,520.2 1139.7,518.2 1132.1,502.9 1119.3,487.6 1111.7,492.7 1098.9,499.0 1086.2,495.2 1078.5,509.2 1065.7,510.5 1060.6,502.9 1051.7,492.7 1045.3,500.3 1035.1,497.8 1026.2,499.0 1019.8,500.3 1008.3,497.8 996.9,495.2 979.0,495.2 963.7,490.1 953.5,486.3 948.4,482.5 940.7,485.0 933.1,488.8 922.9,487.6 912.7,485.0 899.9,482.5 887.2,485.0 876.9,488.8 869.3,493.9 857.3,490.1" fill="#bfe3f5" opacity="1"/>
<polyline points="857.3,483.7 869.3,487.6 876.9,481.2 887.2,478.6 899.9,476.1 912.7,478.6 922.9,481.2 933.1,484.5 940.7,476.1 948.4,473.5 953.5,478.6 963.7,482.5 979.0,485.0 996.9,486.3 1008.3,490.1 1019.8,494.7 1026.2,491.4 1035.1,487.6 1045.3,490.1 1051.7,485.0 1053.0,472.3 1058.1,469.7 1063.2,476.1 1067.0,482.5 1073.4,490.1 1078.5,495.2 1084.9,483.7 1093.8,472.3 1106.6,474.8 1116.8,477.4 1129.5,488.8 1135.9,495.2 1142.3,505.4 1148.7,513.1 1153.8,508.0 1158.9,495.2 1162.7,485.0 1164.0,495.2 1167.8,485.0 1170.3,482.5 1174.9,487.6" fill="none" stroke="#2334c4" stroke-width="1.70" stroke-linejoin="round"/>
<polygon points="857.3,456.9 865.5,442.9 871.8,449.3 878.2,464.6 884.6,462.1 892.3,456.9 899.9,458.2 907.6,467.2 915.2,473.5 922.9,477.4 930.5,479.9 938.2,474.8 945.8,472.3 953.5,476.1 961.1,472.3 968.8,468.4 977.0,469.7 984.1,456.9 991.8,453.1 999.4,462.1 1007.1,463.3 1016.0,458.2 1022.4,462.1 1028.7,472.3 1035.1,467.2 1042.8,469.7 1050.4,477.4 1055.5,467.2 1060.6,462.1 1068.3,454.4 1075.9,451.8 1083.6,445.5 1091.3,444.2 1098.9,456.9 1104.0,462.1 1111.7,464.6 1121.9,456.9 1129.5,436.5 1137.2,413.6 1142.3,431.4 1148.7,456.9 1155.0,449.3 1161.4,416.1 1165.2,405.9 1170.3,414.9 1174.9,411.0 1174.9,423.8 1167.8,431.4 1161.4,462.1 1155.0,482.5 1148.7,515.6 1142.3,513.1 1137.2,502.9 1129.5,487.6 1121.9,485.0 1111.7,492.7 1104.0,500.3 1098.9,495.2 1091.3,482.5 1083.6,479.9 1075.9,485.0 1068.3,487.6 1060.6,502.9 1055.5,511.8 1050.4,513.1 1042.8,505.4 1035.1,501.6 1028.7,497.8 1022.4,490.1 1016.0,487.6 1007.1,492.7 999.4,499.0 991.8,505.4 984.1,513.1 977.0,515.6 968.8,505.4 961.1,502.9 953.5,504.1 945.8,501.6 938.2,499.0 930.5,499.0 922.9,496.5 915.2,492.7 907.6,487.6 899.9,482.5 892.3,482.5 884.6,485.0 878.2,481.2 871.8,474.8 865.5,472.3 857.3,474.8" fill="#cdd2cc" opacity="1"/>
<polyline points="857.3,467.2 865.5,456.9 871.8,462.1 878.2,472.3 884.6,474.8 892.3,469.7 899.9,471.0 907.6,477.4 915.2,482.5 922.9,487.6 930.5,493.9 938.2,490.1 945.8,485.0 953.5,491.4 961.1,488.8 968.8,486.3 977.0,492.7 984.1,483.7 991.8,478.6 999.4,479.9 1007.1,476.1 1016.0,470.2 1022.4,473.5 1028.7,485.0 1035.1,483.7 1042.8,486.3 1050.4,499.0 1055.5,497.8 1060.6,482.5 1068.3,467.2 1075.9,469.7 1083.6,463.3 1091.3,464.6 1098.9,474.8 1104.0,481.2 1111.7,477.4 1121.9,471.0 1129.5,462.1 1137.2,459.5 1142.3,472.3 1148.7,485.0 1155.0,467.2 1161.4,436.5 1167.8,420.0 1174.9,417.4" fill="none" stroke="#7e8280" stroke-width="1.50" stroke-linejoin="round"/>
<line x1="977" y1="423.8" x2="977" y2="668" stroke="#f0484e" stroke-width="1.4" stroke-dasharray="9,5.5"/>
<line x1="857.30" y1="383.85" x2="857.30" y2="669.60" stroke="#111" stroke-width="1.80" />
<line x1="856.40" y1="668.70" x2="1175.90" y2="668.70" stroke="#111" stroke-width="1.80" />
<line x1="857.30" y1="668.70" x2="857.30" y2="674.90" stroke="#111" stroke-width="1.80" />
<line x1="896.85" y1="668.70" x2="896.85" y2="674.90" stroke="#111" stroke-width="1.80" />
<line x1="936.65" y1="668.70" x2="936.65" y2="674.90" stroke="#111" stroke-width="1.80" />
<line x1="976.19" y1="668.70" x2="976.19" y2="674.90" stroke="#111" stroke-width="1.80" />
<line x1="1015.99" y1="668.70" x2="1015.99" y2="674.90" stroke="#111" stroke-width="1.80" />
<line x1="1055.54" y1="668.70" x2="1055.54" y2="674.90" stroke="#111" stroke-width="1.80" />
<line x1="1095.34" y1="668.70" x2="1095.34" y2="674.90" stroke="#111" stroke-width="1.80" />
<line x1="1135.14" y1="668.70" x2="1135.14" y2="674.90" stroke="#111" stroke-width="1.80" />
<line x1="1174.94" y1="668.70" x2="1174.94" y2="674.90" stroke="#111" stroke-width="1.80" />
<line x1="851.10" y1="384.75" x2="857.30" y2="384.75" stroke="#111" stroke-width="1.80" />
<line x1="851.10" y1="479.40" x2="857.30" y2="479.40" stroke="#111" stroke-width="1.80" />
<line x1="851.10" y1="573.80" x2="857.30" y2="573.80" stroke="#111" stroke-width="1.80" />
<line x1="851.10" y1="668.70" x2="857.30" y2="668.70" stroke="#111" stroke-width="1.80" />
<text transform="translate(837.29,395.00) scale(0.9000,1)" font-size="28.07" font-weight="bold" stroke="#111" stroke-width="0.45" fill="#111">3</text>
<text transform="translate(837.29,489.65) scale(0.9000,1)" font-size="28.07" font-weight="bold" stroke="#111" stroke-width="0.45" fill="#111">0</text>
<text transform="translate(828.93,584.05) scale(0.9000,1)" font-size="28.07" font-weight="bold" stroke="#111" stroke-width="0.45" fill="#111">-3</text>
<text transform="translate(828.93,678.95) scale(0.9000,1)" font-size="28.07" font-weight="bold" stroke="#111" stroke-width="0.45" fill="#111">-6</text>
<text transform="translate(845.76,703.24) scale(0.9000,1)" font-size="28.91" font-weight="bold" stroke="#111" stroke-width="0.45" fill="#111">-3</text>
<text transform="translate(885.10,703.60) scale(0.9000,1)" font-size="29.43" font-weight="bold" stroke="#111" stroke-width="0.45" fill="#111">-2</text>
<text transform="translate(924.51,703.60) scale(0.9000,1)" font-size="29.96" font-weight="bold" stroke="#111" stroke-width="0.45" fill="#111">-1</text>
<text transform="translate(968.96,703.24) scale(0.9000,1)" font-size="28.91" font-weight="bold" stroke="#111" stroke-width="0.45" fill="#111">0</text>
<text transform="translate(1007.99,703.60) scale(0.9000,1)" font-size="29.96" font-weight="bold" stroke="#111" stroke-width="0.45" fill="#111">1</text>
<text transform="translate(1048.25,703.60) scale(0.9000,1)" font-size="29.43" font-weight="bold" stroke="#111" stroke-width="0.45" fill="#111">2</text>
<text transform="translate(1088.26,703.24) scale(0.9000,1)" font-size="28.91" font-weight="bold" stroke="#111" stroke-width="0.45" fill="#111">3</text>
<text transform="translate(1127.55,703.60) scale(0.9000,1)" font-size="29.96" font-weight="bold" stroke="#111" stroke-width="0.45" fill="#111">4</text>
<text transform="translate(1167.49,703.23) scale(0.9000,1)" font-size="29.43" font-weight="bold" stroke="#111" stroke-width="0.45" fill="#111">5</text>
<text transform="translate(813.28,577.42) rotate(-90) scale(1.0698,1)" font-size="33.57" font-weight="bold" stroke="#111" stroke-width="0.45" fill="#111" >Z-score</text>
<text transform="translate(821.79,736.73) scale(0.9805,1)" font-size="25.28" font-weight="bold" stroke="#111" stroke-width="0.45" fill="#111" >Time from investigation</text>
<text transform="translate(1106.87,736.79) scale(0.9919,1)" font-size="25.12" font-weight="bold" stroke="#3be33b" stroke-width="0.45" fill="#3be33b" >onset</text>
<text transform="translate(1180.58,737.37) scale(0.9275,1)" font-size="26.31" font-weight="bold" stroke="#111" stroke-width="0.45" fill="#111" >(s)</text>
<line x1="866.70" y1="389.30" x2="882.80" y2="389.30" stroke="#8c908e" stroke-width="4.20" />
<text transform="translate(888.72,397.53) scale(0.9882,1)" font-size="21.83" font-weight="bold" stroke="#111" stroke-width="0.45" fill="#111" >First</text>
<line x1="866.70" y1="411.00" x2="882.80" y2="411.00" stroke="#2334c4" stroke-width="4.00" />
<text transform="translate(889.42,419.72) scale(0.9280,1)" font-size="22.51" font-weight="bold" stroke="#111" stroke-width="0.45" fill="#111" >Others</text>
<!-- p_c -->
<text transform="translate(1257.75,43.48) scale(0.8569,1)" font-size="57.45" font-weight="bold" stroke="#111" stroke-width="0.45" fill="#111" >c</text>
<text transform="translate(1304.58,288.17) rotate(-90) scale(0.8624,1)" font-size="41.71" font-weight="bold" stroke="#111" stroke-width="0.45" fill="#111" >Mean Z-score</text>
<line x1="1353.00" y1="44.55" x2="1353.00" y2="332.65" stroke="#111" stroke-width="1.90" />
<line x1="1345.40" y1="45.50" x2="1353.00" y2="45.50" stroke="#111" stroke-width="1.90" />
<line x1="1345.40" y1="140.90" x2="1353.00" y2="140.90" stroke="#111" stroke-width="1.90" />
<line x1="1345.40" y1="236.30" x2="1353.00" y2="236.30" stroke="#111" stroke-width="1.90" />
<line x1="1345.40" y1="331.70" x2="1353.00" y2="331.70" stroke="#111" stroke-width="1.90" />
<line x1="1345.40" y1="331.70" x2="1556.60" y2="331.70" stroke="#111" stroke-width="1.90" />
<rect x="1366.90" y="140.90" width="26.90" height="73.00" fill="#fff" stroke="#111" stroke-width="1.60" />
<rect x="1407.80" y="140.90" width="26.40" height="44.90" fill="#fff" stroke="#111" stroke-width="1.60" />
<rect x="1475.20" y="139.80" width="26.40" height="1.10" fill="#fff" stroke="#111" stroke-width="1.60" />
<rect x="1515.60" y="140.90" width="27.00" height="5.00" fill="#fff" stroke="#111" stroke-width="1.60" />
<line x1="1353.00" y1="140.90" x2="1556.60" y2="140.90" stroke="#111" stroke-width="1.90" />
<circle cx="1371.91" cy="177.38" r="5.60" fill="#f4a3b9" stroke="#222" stroke-width="1.40" />
<circle cx="1371.91" cy="188.61" r="5.60" fill="#f4a3b9" stroke="#222" stroke-width="1.40" />
<circle cx="1387.91" cy="182.43" r="5.60" fill="#f4a3b9" stroke="#222" stroke-width="1.40" />
<circle cx="1371.91" cy="263.26" r="5.60" fill="#f4a3b9" stroke="#222" stroke-width="1.40" />
<circle cx="1387.91" cy="262.42" r="5.60" fill="#f4a3b9" stroke="#222" stroke-width="1.40" />
<circle cx="1412.61" cy="159.42" r="5.60" fill="#e6ebb0" stroke="#222" stroke-width="1.40" />
<circle cx="1428.61" cy="164.19" r="5.60" fill="#e6ebb0" stroke="#222" stroke-width="1.40" />
<circle cx="1412.61" cy="185.24" r="5.60" fill="#e6ebb0" stroke="#222" stroke-width="1.40" />
<circle cx="1428.61" cy="193.10" r="5.60" fill="#e6ebb0" stroke="#222" stroke-width="1.40" />
<circle cx="1420.47" cy="228.74" r="5.60" fill="#e6ebb0" stroke="#222" stroke-width="1.40" />
<circle cx="1488.39" cy="97.67" r="5.60" fill="#a9b1ae" stroke="#222" stroke-width="1.40" />
<circle cx="1488.39" cy="122.09" r="5.60" fill="#a9b1ae" stroke="#222" stroke-width="1.40" />
<circle cx="1480.81" cy="160.54" r="5.60" fill="#a9b1ae" stroke="#222" stroke-width="1.40" />
<circle cx="1495.96" cy="159.42" r="5.60" fill="#a9b1ae" stroke="#222" stroke-width="1.40" />
<circle cx="1488.39" cy="152.96" r="5.60" fill="#a9b1ae" stroke="#222" stroke-width="1.40" />
<circle cx="1521.50" cy="125.74" r="5.60" fill="#8dbdea" stroke="#222" stroke-width="1.40" />
<circle cx="1521.50" cy="138.09" r="5.60" fill="#8dbdea" stroke="#222" stroke-width="1.40" />
<circle cx="1536.94" cy="137.52" r="5.60" fill="#8dbdea" stroke="#222" stroke-width="1.40" />
<circle cx="1536.94" cy="161.38" r="5.60" fill="#8dbdea" stroke="#222" stroke-width="1.40" />
<circle cx="1521.50" cy="171.20" r="5.60" fill="#8dbdea" stroke="#222" stroke-width="1.40" />
<line x1="1379.80" y1="194.20" x2="1379.80" y2="234.40" stroke="#111" stroke-width="2.20" /><line x1="1373.30" y1="194.20" x2="1386.30" y2="194.20" stroke="#111" stroke-width="2.20" /><line x1="1373.30" y1="234.40" x2="1386.30" y2="234.40" stroke="#111" stroke-width="2.20" />
<line x1="1420.20" y1="173.40" x2="1420.20" y2="198.70" stroke="#111" stroke-width="2.20" /><line x1="1413.70" y1="173.40" x2="1426.70" y2="173.40" stroke="#111" stroke-width="2.20" /><line x1="1413.70" y1="198.70" x2="1426.70" y2="198.70" stroke="#111" stroke-width="2.20" />
<line x1="1488.40" y1="126.90" x2="1488.40" y2="153.00" stroke="#111" stroke-width="2.20" /><line x1="1481.90" y1="126.90" x2="1494.90" y2="126.90" stroke="#111" stroke-width="2.20" /><line x1="1481.90" y1="153.00" x2="1494.90" y2="153.00" stroke="#111" stroke-width="2.20" />
<line x1="1529.10" y1="137.50" x2="1529.10" y2="154.90" stroke="#111" stroke-width="2.20" /><line x1="1522.60" y1="137.50" x2="1535.60" y2="137.50" stroke="#111" stroke-width="2.20" /><line x1="1522.60" y1="154.90" x2="1535.60" y2="154.90" stroke="#111" stroke-width="2.20" />
<text transform="translate(1327.39,56.10) scale(0.9000,1)" font-size="29.14" font-weight="bold" stroke="#111" stroke-width="0.45" fill="#111">2</text>
<text transform="translate(1327.63,151.14) scale(0.9000,1)" font-size="28.63" font-weight="bold" stroke="#111" stroke-width="0.45" fill="#111">0</text>
<text transform="translate(1318.71,246.90) scale(0.9000,1)" font-size="29.14" font-weight="bold" stroke="#111" stroke-width="0.45" fill="#111">-2</text>
<text transform="translate(1317.47,342.30) scale(0.9000,1)" font-size="29.67" font-weight="bold" stroke="#111" stroke-width="0.45" fill="#111">-4</text>
<text transform="translate(1442.47,49.69) scale(1.0944,1)" font-size="25.06" stroke="#111" stroke-width="0.25" fill="#111" >&amp;</text>
<line x1="1402.80" y1="62.30" x2="1514.50" y2="62.30" stroke="#111" stroke-width="1.30" />
<text transform="translate(1368.16,358.43) scale(1.0519,1)" font-size="21.29" font-weight="bold" stroke="#111" stroke-width="0.45" fill="#111" >Novel</text>
<text transform="translate(1467.19,358.43) scale(1.0309,1)" font-size="21.29" font-weight="bold" stroke="#111" stroke-width="0.45" fill="#111" >Familiar</text>
<text transform="translate(1354.16,409.28) rotate(-45)" font-size="21.10" stroke="#111" stroke-width="0.25" fill="#111">First</text>
<text transform="translate(1384.89,418.69) rotate(-45)" font-size="19.80" stroke="#111" stroke-width="0.25" fill="#111">Others</text>
<text transform="translate(1461.83,409.12) rotate(-45)" font-size="20.94" stroke="#111" stroke-width="0.25" fill="#111">First</text>
<text transform="translate(1492.55,418.51) rotate(-45)" font-size="19.67" stroke="#111" stroke-width="0.25" fill="#111">Others</text>
<text transform="translate(1594.97,42.99) scale(0.8547,1)" font-size="57.08" font-weight="bold" stroke="#111" stroke-width="0.45" fill="#111" >d</text>
<text transform="translate(1675.39,46.84) scale(0.9024,1)" font-size="36.47" font-weight="bold" stroke="#111" stroke-width="0.45" fill="#111" >Termination</text>
<text transform="translate(1652.54,88.45) scale(0.9573,1)" font-size="27.66" font-weight="bold" stroke="#111" stroke-width="0.45" fill="#111" >Animal #</text>
<rect x="1629.90" y="99.60" width="228.40" height="109.40" fill="#050507" />
<rect x="1629.90" y="99.60" width="228.40" height="22.18" fill="url(#hg21)"/>
<rect x="1629.90" y="121.48" width="228.40" height="22.18" fill="url(#hg22)"/>
<rect x="1629.90" y="143.36" width="228.40" height="22.18" fill="url(#hg23)"/>
<rect x="1629.90" y="165.24" width="228.40" height="22.18" fill="url(#hg24)"/>
<rect x="1629.90" y="187.12" width="228.40" height="22.18" fill="url(#hg25)"/>
<line x1="1704.36" y1="99.60" x2="1704.36" y2="209.00" stroke="#ee2434" stroke-width="1.50" stroke-dasharray="3.2,2.2"/>
<rect x="1629.90" y="99.60" width="228.40" height="109.40" fill="none" stroke="#0a0a0c" stroke-width="1.50" />
<rect x="1629.90" y="216.90" width="228.40" height="108.60" fill="#050507" />
<rect x="1629.90" y="216.90" width="228.40" height="22.02" fill="url(#hg26)"/>
<rect x="1629.90" y="238.62" width="228.40" height="22.02" fill="url(#hg27)"/>
<rect x="1629.90" y="260.34" width="228.40" height="22.02" fill="url(#hg28)"/>
<rect x="1629.90" y="282.06" width="228.40" height="22.02" fill="url(#hg29)"/>
<rect x="1629.90" y="303.78" width="228.40" height="22.02" fill="url(#hg30)"/>
<line x1="1704.36" y1="216.90" x2="1704.36" y2="325.50" stroke="#ee2434" stroke-width="1.50" stroke-dasharray="3.2,2.2"/>
<rect x="1629.90" y="216.90" width="228.40" height="108.60" fill="none" stroke="#0a0a0c" stroke-width="1.50" />
<text transform="translate(1601.87,122.20) scale(0.9500,1)" font-size="27.05" font-weight="bold" stroke="#111" stroke-width="0.45" fill="#111">1</text>
<text transform="translate(1602.60,210.27) scale(0.9500,1)" font-size="26.57" font-weight="bold" stroke="#111" stroke-width="0.45" fill="#111">5</text>
<text transform="translate(1601.87,240.10) scale(0.9500,1)" font-size="27.05" font-weight="bold" stroke="#111" stroke-width="0.45" fill="#111">1</text>
<text transform="translate(1602.60,323.87) scale(0.9500,1)" font-size="26.57" font-weight="bold" stroke="#111" stroke-width="0.45" fill="#111">5</text>
<text transform="translate(1868.88,162.87) scale(0.9825,1)" font-size="34.31" font-weight="bold" stroke="#111" stroke-width="0.45" fill="#111" >Novel</text>
<text transform="translate(1868.92,280.17) scale(0.9647,1)" font-size="34.31" font-weight="bold" stroke="#111" stroke-width="0.45" fill="#111" >Familiar</text>
<text transform="translate(1616.95,353.00) scale(0.9459,1)" font-size="26.91" font-weight="bold" stroke="#111" stroke-width="0.45" fill="#111" >-1</text>
<text transform="translate(1698.17,352.68) scale(1.0564,1)" font-size="25.96" font-weight="bold" stroke="#111" stroke-width="0.45" fill="#111" >0</text>
<text transform="translate(1845.74,353.00) scale(1.0401,1)" font-size="26.43" font-weight="bold" stroke="#111" stroke-width="0.45" fill="#111" >2</text>
<text transform="translate(1696.04,388.32) scale(1.0071,1)" font-size="28.99" font-weight="bold" stroke="#111" stroke-width="0.45" fill="#111" >Time (s)</text>
<rect x="1956.00" y="360.50" width="14.00" height="59.00" fill="url(#cbar2)" stroke="#0a0a0c" stroke-width="1.50" />
<line x1="1956.00" y1="383.50" x2="1959.00" y2="383.50" stroke="#111" stroke-width="1.10" />
<line x1="1967.00" y1="383.50" x2="1970.00" y2="383.50" stroke="#111" stroke-width="1.10" />
<line x1="1956.00" y1="411.00" x2="1959.00" y2="411.00" stroke="#111" stroke-width="1.10" />
<line x1="1967.00" y1="411.00" x2="1970.00" y2="411.00" stroke="#111" stroke-width="1.10" />
<text transform="translate(1930.03,370.90) scale(1.1074,1)" font-size="24.14" font-weight="bold" stroke="#111" stroke-width="0.45" fill="#111" >3</text>
<text transform="translate(1852.80,401.49) scale(1.0267,1)" font-size="24.86" font-weight="bold" stroke="#111" stroke-width="0.45" fill="#111" >Z-score</text>
<text transform="translate(1904.54,430.70) scale(1.0631,1)" font-size="24.00" font-weight="bold" stroke="#111" stroke-width="0.45" fill="#111" >-1.2</text>
<line x1="1389.6" y1="615.6" x2="1555" y2="615.6" stroke="#111" stroke-width="1.3" stroke-dasharray="1.3,2.4"/>
<polygon points="1355.0,589.2 1366.1,590.6 1377.9,599.4 1386.6,614.1 1394.0,625.8 1404.2,611.2 1413.0,590.6 1421.8,564.2 1430.6,540.8 1439.4,520.3 1445.3,521.7 1454.1,532.0 1462.9,552.5 1471.7,571.6 1480.5,576.0 1489.3,570.1 1498.1,567.2 1506.9,574.5 1515.7,577.4 1527.4,573.0 1536.2,567.2 1548.0,570.1 1559.7,567.2 1571.4,558.4 1586.1,555.4 1599.3,558.4 1599.3,621.4 1589.0,624.4 1577.3,625.8 1562.6,622.9 1548.0,605.3 1533.3,611.2 1518.6,618.5 1504.0,617.0 1495.2,611.2 1486.4,605.3 1477.6,596.5 1468.8,581.8 1460.0,573.0 1451.2,564.2 1442.4,558.4 1433.6,573.0 1424.8,605.3 1416.0,631.7 1407.2,649.3 1398.4,655.2 1386.6,662.5 1374.9,669.8 1366.1,665.4 1355.0,658.1" fill="#ccd3d0" opacity="1"/>
<polyline points="1355.0,622.9 1369.1,627.3 1380.8,634.6 1392.5,642.0 1404.2,630.2 1413.0,617.0 1421.8,581.8 1430.6,561.3 1439.4,540.8 1443.8,537.9 1451.2,543.7 1458.5,551.0 1465.8,564.2 1474.6,576.0 1483.4,584.8 1492.2,589.2 1501.0,589.2 1509.8,595.0 1518.6,597.1 1527.4,593.6 1536.2,586.2 1542.1,583.3 1550.9,587.7 1562.6,593.6 1571.4,590.6 1580.2,592.1 1589.0,589.2 1599.3,593.6" fill="none" stroke="#7e8280" stroke-width="1.60" stroke-linejoin="round"/>
<polygon points="1355.0,686.0 1366.1,688.9 1374.9,688.9 1383.7,681.6 1392.5,668.4 1401.3,658.1 1410.1,653.7 1418.9,643.4 1427.7,631.7 1439.4,622.9 1448.2,628.8 1460.0,631.7 1468.8,634.6 1477.6,631.7 1486.4,620.0 1495.2,606.8 1504.0,599.4 1514.2,595.9 1521.6,599.4 1533.3,611.2 1545.0,622.9 1556.8,628.8 1568.5,634.6 1580.2,637.6 1592.0,627.3 1599.3,625.8 1599.3,677.2 1592.0,677.2 1580.2,677.2 1568.5,668.4 1556.8,655.2 1545.0,652.2 1533.3,647.8 1524.5,640.5 1515.7,636.1 1504.0,639.0 1495.2,646.4 1486.4,658.1 1477.6,672.8 1468.8,677.2 1457.0,671.3 1445.3,675.7 1436.5,684.5 1427.7,683.0 1418.9,681.6 1410.1,686.0 1401.3,694.8 1392.5,696.2 1383.7,712.4 1374.9,721.2 1366.1,722.6 1355.0,730.0" fill="#f0819f" opacity="1"/>
<polyline points="1355.0,708.0 1366.1,705.6 1374.9,705.0 1383.7,696.2 1392.5,681.6 1399.8,677.2 1407.2,668.4 1416.0,666.9 1424.8,659.6 1433.6,656.6 1440.9,649.9 1451.2,652.2 1460.0,652.8 1468.8,657.5 1477.6,652.2 1486.4,639.0 1495.2,627.3 1504.0,618.5 1515.7,616.2 1524.5,620.0 1533.3,628.8 1542.1,636.1 1550.9,637.6 1559.7,646.4 1568.5,651.6 1580.2,656.6 1592.0,651.6 1599.3,651.6" fill="none" stroke="#a01422" stroke-width="1.90" stroke-linejoin="round"/>
<line x1="1435.6" y1="509" x2="1435.6" y2="738" stroke="#f0484e" stroke-width="1.5" stroke-dasharray="9,5.5"/>
<line x1="1355.00" y1="450.95" x2="1355.00" y2="739.15" stroke="#111" stroke-width="1.90" />
<line x1="1354.05" y1="738.20" x2="1600.25" y2="738.20" stroke="#111" stroke-width="1.90" />
<line x1="1355.00" y1="738.20" x2="1355.00" y2="744.90" stroke="#111" stroke-width="1.90" />
<line x1="1435.60" y1="738.20" x2="1435.60" y2="744.90" stroke="#111" stroke-width="1.90" />
<line x1="1517.10" y1="738.20" x2="1517.10" y2="744.90" stroke="#111" stroke-width="1.90" />
<line x1="1599.30" y1="738.20" x2="1599.30" y2="744.90" stroke="#111" stroke-width="1.90" />
<line x1="1348.30" y1="451.90" x2="1355.00" y2="451.90" stroke="#111" stroke-width="1.90" />
<line x1="1348.30" y1="533.40" x2="1355.00" y2="533.40" stroke="#111" stroke-width="1.90" />
<line x1="1348.30" y1="615.60" x2="1355.00" y2="615.60" stroke="#111" stroke-width="1.90" />
<line x1="1348.30" y1="697.10" x2="1355.00" y2="697.10" stroke="#111" stroke-width="1.90" />
<text transform="translate(1329.26,462.50) scale(0.9000,1)" font-size="28.57" font-weight="bold" stroke="#111" stroke-width="0.45" fill="#111">2</text>
<text transform="translate(1328.69,544.00) scale(0.9000,1)" font-size="29.09" font-weight="bold" stroke="#111" stroke-width="0.45" fill="#111">1</text>
<text transform="translate(1329.49,625.85) scale(0.9000,1)" font-size="28.07" font-weight="bold" stroke="#111" stroke-width="0.45" fill="#111">0</text>
<text transform="translate(1320.02,707.70) scale(0.9000,1)" font-size="29.09" font-weight="bold" stroke="#111" stroke-width="0.45" fill="#111">-1</text>
<text transform="translate(1342.98,773.00) scale(0.9000,1)" font-size="29.67" font-weight="bold" stroke="#111" stroke-width="0.45" fill="#111">-1</text>
<text transform="translate(1428.43,772.64) scale(0.9000,1)" font-size="28.63" font-weight="bold" stroke="#111" stroke-width="0.45" fill="#111">0</text>
<text transform="translate(1509.17,773.00) scale(0.9000,1)" font-size="29.67" font-weight="bold" stroke="#111" stroke-width="0.45" fill="#111">1</text>
<text transform="translate(1592.09,773.00) scale(0.9000,1)" font-size="29.14" font-weight="bold" stroke="#111" stroke-width="0.45" fill="#111">2</text>
<text transform="translate(1273.86,452.15) scale(0.9872,1)" font-size="52.36" font-weight="bold" stroke="#111" stroke-width="0.45" fill="#111" >e</text>
<text transform="translate(1301.12,645.12) rotate(-90) scale(0.9253,1)" font-size="38.57" font-weight="bold" stroke="#111" stroke-width="0.45" fill="#111" >Z-score</text>
<text transform="translate(1308.53,807.65) scale(1.0887,1)" font-size="27.52" font-weight="bold" stroke="#111" stroke-width="0.45" fill="#111" >Time from investigation</text>
<text transform="translate(1417.17,838.95) scale(1.0891,1)" font-size="27.66" font-weight="bold" stroke="#5aabf2" stroke-width="0.45" fill="#5aabf2" >offset</text>
<text transform="translate(1508.96,838.65) scale(1.0544,1)" font-size="27.38" font-weight="bold" stroke="#111" stroke-width="0.45" fill="#111" >(s)</text>
<line x1="1366.70" y1="455.70" x2="1386.00" y2="455.70" stroke="#b01e2c" stroke-width="4.00" />
<text transform="translate(1393.59,464.81) scale(1.1247,1)" font-size="23.46" font-weight="bold" stroke="#111" stroke-width="0.45" fill="#111" >Novel</text>
<line x1="1366.70" y1="477.70" x2="1386.00" y2="477.70" stroke="#a9b1ae" stroke-width="4.60" />
<text transform="translate(1393.61,487.72) scale(1.1470,1)" font-size="22.64" font-weight="bold" stroke="#111" stroke-width="0.45" fill="#111" >Familiar</text>
<g transform="translate(1505,448) scale(0.06)"><rect x="130" y="110" width="1670" height="1145" fill="#f4f9f9"/><polygon points="1050,520 1630,520 1630,1090 1400,1180 1150,1160 935,1030 935,625" fill="#f6d2dc" stroke="#b84a68" stroke-width="17"/><rect x="1205" y="300" width="410" height="590" fill="#eef4f3" opacity="0.45"/><rect x="1213" y="330" width="24" height="560" fill="#7d9e9e"/><rect x="1266" y="330" width="24" height="560" fill="#7d9e9e"/><rect x="1323" y="330" width="24" height="560" fill="#7d9e9e"/><rect x="1398" y="330" width="24" height="560" fill="#7d9e9e"/><rect x="1473" y="330" width="24" height="560" fill="#7d9e9e"/><rect x="1530" y="330" width="24" height="560" fill="#7d9e9e"/><rect x="1580" y="330" width="24" height="560" fill="#7d9e9e"/><ellipse cx="1410" cy="898" rx="225" ry="52" fill="#5f8587"/><ellipse cx="1410" cy="300" rx="225" ry="58" fill="#628a8b"/><path d="M1265,545 Q1305,525 1340,560 L1372,620 L1432,740 L1452,850 Q1420,880 1388,866 L1330,740 L1278,620 Q1255,575 1265,545Z" fill="#6b5d58"/><path d="M1400,880 Q1560,890 1700,888" fill="none" stroke="#c88a96" stroke-width="8"/><path d="M930,800 Q1040,760 1130,830 L1180,960 L1220,1050 L1130,990 L1000,1020 L940,960Z" fill="#8a8e8e" opacity="0.5"/><path d="M930,850 Q1080,820 1178,660" fill="none" stroke="#c98893" stroke-width="16"/><path d="M650,790 Q760,720 850,780 Q920,830 940,930 L880,950 L860,1040 L820,960 L700,960Z" fill="#6c7474" opacity="0.95"/><path d="M730,862 Q900,840 992,660" fill="none" stroke="#c98893" stroke-width="17"/><path d="M245,805 Q290,762 350,742 L372,716 L400,752 Q480,720 540,745 L558,722 L590,745 Q680,770 720,840 Q760,900 745,945 L800,1020 L740,1010 L690,960 L600,975 L560,1020 L520,1025 L540,970 L470,950 L450,1010 L420,1005 L430,950 L370,935 L300,990 L290,975 L345,905 Q300,850 245,805Z" fill="#454a4a"/><circle cx="400" cy="778" r="16" fill="#d88a98"/><path d="M1010,290 Q800,385 600,430 L410,462 L398,432 L255,550 L432,612 L422,560 L600,540 Q800,480 1010,392Z" fill="url(#bgr)"/></g>
<text transform="translate(1632.95,464.30) scale(0.8997,1)" font-size="56.14" font-weight="bold" stroke="#111" stroke-width="0.45" fill="#111" >f</text>
<text transform="translate(1674.42,693.81) rotate(-90) scale(0.9153,1)" font-size="38.29" font-weight="bold" stroke="#111" stroke-width="0.45" fill="#111" >Mean Z-score</text>
<line x1="1721.80" y1="456.65" x2="1721.80" y2="738.95" stroke="#111" stroke-width="1.90" />
<line x1="1714.80" y1="457.60" x2="1721.80" y2="457.60" stroke="#111" stroke-width="1.90" />
<line x1="1714.80" y1="597.60" x2="1721.80" y2="597.60" stroke="#111" stroke-width="1.90" />
<line x1="1714.80" y1="738.00" x2="1721.80" y2="738.00" stroke="#111" stroke-width="1.90" />
<line x1="1714.80" y1="738.00" x2="1919.40" y2="738.00" stroke="#111" stroke-width="1.90" />
<rect x="1744.50" y="597.60" width="42.90" height="22.00" fill="#fff" stroke="#111" stroke-width="1.60" />
<rect x="1854.30" y="570.00" width="42.90" height="27.60" fill="#fff" stroke="#111" stroke-width="1.60" />
<line x1="1721.80" y1="597.60" x2="1919.40" y2="597.60" stroke="#111" stroke-width="1.90" />
<circle cx="1765.96" cy="588.27" r="5.90" fill="#f4a3b9" stroke="#222" stroke-width="1.40" />
<circle cx="1765.96" cy="606.75" r="5.90" fill="#f4a3b9" stroke="#222" stroke-width="1.40" />
<circle cx="1749.35" cy="627.10" r="5.90" fill="#f4a3b9" stroke="#222" stroke-width="1.40" />
<circle cx="1782.56" cy="627.10" r="5.90" fill="#f4a3b9" stroke="#222" stroke-width="1.40" />
<circle cx="1765.96" cy="653.88" r="5.90" fill="#f4a3b9" stroke="#222" stroke-width="1.40" />
<circle cx="1875.22" cy="525.87" r="5.90" fill="#a9b1ae" stroke="#222" stroke-width="1.40" />
<circle cx="1875.22" cy="553.99" r="5.90" fill="#a9b1ae" stroke="#222" stroke-width="1.40" />
<circle cx="1875.22" cy="576.22" r="5.90" fill="#a9b1ae" stroke="#222" stroke-width="1.40" />
<circle cx="1859.15" cy="596.84" r="5.90" fill="#a9b1ae" stroke="#222" stroke-width="1.40" />
<circle cx="1891.83" cy="593.36" r="5.90" fill="#a9b1ae" stroke="#222" stroke-width="1.40" />
<line x1="1766.00" y1="608.90" x2="1766.00" y2="630.90" stroke="#111" stroke-width="2.40" /><line x1="1755.30" y1="608.90" x2="1776.70" y2="608.90" stroke="#111" stroke-width="2.40" /><line x1="1755.30" y1="630.90" x2="1776.70" y2="630.90" stroke="#111" stroke-width="2.40" />
<line x1="1875.20" y1="555.90" x2="1875.20" y2="582.60" stroke="#111" stroke-width="2.40" /><line x1="1864.50" y1="555.90" x2="1885.90" y2="555.90" stroke="#111" stroke-width="2.40" /><line x1="1864.50" y1="582.60" x2="1885.90" y2="582.60" stroke="#111" stroke-width="2.40" />
<text transform="translate(1696.23,468.20) scale(0.9000,1)" font-size="28.86" font-weight="bold" stroke="#111" stroke-width="0.45" fill="#111">2</text>
<text transform="translate(1696.46,607.85) scale(0.9000,1)" font-size="28.35" font-weight="bold" stroke="#111" stroke-width="0.45" fill="#111">0</text>
<text transform="translate(1687.62,748.60) scale(0.9000,1)" font-size="28.86" font-weight="bold" stroke="#111" stroke-width="0.45" fill="#111">-2</text>
<text transform="translate(1868.29,494.77) scale(0.9249,1)" font-size="35.73" font-weight="bold" stroke="#111" stroke-width="0.45" fill="#111" >*</text>
<text transform="translate(1737.74,763.44) scale(1.0120,1)" font-size="21.02" font-weight="bold" stroke="#111" stroke-width="0.45" fill="#111" >Novel</text>
<text transform="translate(1832.74,763.44) scale(1.0125,1)" font-size="21.02" font-weight="bold" stroke="#111" stroke-width="0.45" fill="#111" >Familiar</text>
<!-- p_g -->
<text transform="translate(-0.18,836.46) scale(0.9929,1)" font-size="50.53" font-weight="bold" stroke="#111" stroke-width="0.45" fill="#111" >g</text>
<g transform="translate(16.6,791.2) scale(0.97)"><path d="M59.5,125.3 C58.8,125.2 57.3,125.4 55.3,124.7 C53.3,124.0 50.2,122.9 47.6,121.1 C45.0,119.2 42.6,116.1 39.9,113.5 C37.2,110.9 34.3,107.5 31.5,105.4 C28.7,103.3 25.9,101.6 23.1,100.9 C20.3,100.2 17.0,100.4 14.7,101.2 C12.4,102.0 10.1,104.3 9.1,105.7 C8.1,107.1 7.6,108.0 8.7,109.6 C9.7,111.2 12.2,113.0 15.4,115.2 C18.6,117.4 24.0,119.7 28.0,122.9 C32.0,126.0 35.7,130.1 39.2,134.1 C42.7,138.1 45.7,142.3 49.0,146.7 C52.3,151.1 55.3,155.9 58.8,160.7 C62.3,165.5 65.8,170.8 70.0,175.4 C74.2,179.9 79.3,184.7 84.0,188.0 C88.7,191.3 93.3,193.3 98.0,195.0 C102.7,196.7 107.3,198.0 112.0,198.1 C116.7,198.2 122.4,197.0 126.0,195.7 C129.6,194.4 131.9,192.3 133.7,190.1 C135.5,187.9 134.9,184.1 136.9,182.4 C138.9,180.6 142.8,180.5 145.6,179.6 C148.4,178.7 151.5,178.0 154.0,176.8 C156.5,175.6 159.7,174.1 160.7,172.6 C161.7,171.1 159.0,167.7 159.9,167.7 C160.7,167.7 164.2,171.5 165.9,172.3 C167.6,173.1 169.3,171.9 170.1,172.3 C170.9,172.7 170.1,173.6 170.8,174.7 C171.5,175.8 172.4,177.3 174.3,178.9 C176.2,180.5 178.4,182.5 182.0,184.1 C185.6,185.6 191.3,187.2 196.0,188.3 C200.7,189.3 205.3,190.0 210.0,190.2 C214.7,190.5 219.3,189.5 224.0,189.7 C228.7,189.8 233.3,190.5 238.0,191.1 C242.7,191.6 247.3,192.6 252.0,193.0 C256.7,193.5 262.6,194.1 266.0,193.9 C269.4,193.7 270.9,194.1 272.3,191.9 C273.7,189.8 273.9,184.9 274.4,181.0 C274.9,177.1 275.5,171.6 275.2,168.4 C275.0,165.2 274.5,163.1 273.0,161.7 C271.5,160.3 268.3,160.5 266.0,160.0 C263.7,159.5 260.2,159.1 259.0,158.9" fill="none" stroke="#111" stroke-width="1.50" stroke-linejoin="round"/>
<path d="M59.5,125.3 C58.2,124.8 54.4,124.3 51.8,122.2 C49.2,120.1 46.0,115.9 44.1,112.4 C42.2,108.9 40.9,104.6 40.3,101.2 C39.7,97.8 39.4,94.7 40.6,92.1 C41.8,89.5 43.9,87.5 47.6,85.5 C51.3,83.6 56.9,81.9 63.0,80.5 C69.1,79.1 75.8,77.9 84.0,77.0 C92.2,76.0 102.7,75.3 112.0,74.7 C121.3,74.2 131.8,73.9 140.0,73.8 C148.2,73.6 155.2,73.5 161.0,73.6 C166.8,73.7 170.6,73.9 175.0,74.3 C179.4,74.7 184.1,75.1 187.6,76.0 C191.1,76.9 193.9,77.9 196.0,79.5 C198.1,81.1 199.4,83.6 200.2,85.8 C200.9,88.0 200.7,90.8 200.5,92.8 C200.2,94.8 199.8,96.4 198.8,97.7 C197.8,99.0 196.2,99.8 194.6,100.5 C193.0,101.2 189.9,101.1 189.3,101.6 C188.6,102.1 189.8,102.9 190.7,103.4 C191.6,104.0 193.2,104.7 194.6,104.8 C195.9,104.9 197.0,104.2 198.8,104.0 C200.5,103.8 204.0,103.8 205.1,103.7" fill="none" stroke="#111" stroke-width="1.50" stroke-linejoin="round"/>
<path d="M205.5,104.0 C205.8,103.4 206.3,103.0 206.8,102.6 C207.2,102.2 207.7,101.8 208.3,101.5 C208.8,101.1 209.4,100.9 210.0,100.6 C210.6,100.3 211.2,100.1 211.8,99.9 C212.3,99.6 212.9,99.4 213.5,99.1 C214.0,98.8 214.5,98.5 215.0,98.1 C215.5,97.7 215.9,97.2 216.4,96.7 C216.8,96.3 217.3,95.7 217.8,95.3 C218.3,94.8 218.8,94.4 219.4,94.0 C219.9,93.7 220.5,93.3 221.1,93.1 C221.7,92.9 222.4,92.7 223.0,92.6 C223.7,92.6 224.4,92.6 225.0,92.7 C225.7,92.7 226.4,92.9 227.0,93.1 C227.7,93.2 228.3,93.4 229.0,93.6 C229.6,93.8 230.2,94.0 230.8,94.2 C231.4,94.4 232.0,94.5 232.6,94.6 C233.2,94.6 233.8,94.6 234.4,94.6 C235.1,94.6 235.7,94.5 236.3,94.4 C236.9,94.3 237.6,94.2 238.2,94.1 C238.9,94.0 239.6,93.9 240.2,93.8 C240.9,93.8 241.6,93.8 242.2,93.8 C242.9,93.9 243.5,94.0 244.1,94.3 C244.8,94.5 245.3,94.8 245.9,95.2 C246.4,95.5 246.9,96.0 247.4,96.4 C247.9,96.9 248.3,97.5 248.7,98.0 C249.1,98.5 249.5,99.1 249.9,99.6 C250.3,100.1 250.7,100.6 251.1,101.1 C251.5,101.5 251.9,102.0 252.4,102.3 C252.8,102.7 253.3,103.1 253.8,103.4 C254.4,103.7 254.9,104.0 255.5,104.3 C256.1,104.6 256.7,104.8 257.3,105.1 C257.9,105.5 258.5,105.8 259.0,106.2 C259.5,106.5 260.1,106.9 260.5,107.4 C261.0,107.9 261.4,108.4 261.7,109.0 C262.0,109.5 262.2,110.1 262.4,110.8 C262.6,111.4 262.7,112.1 262.7,112.7 C262.8,113.4 262.8,114.1 262.8,114.7 C262.9,115.4 262.8,116.1 262.9,116.7 C262.9,117.3 262.9,117.9 263.0,118.5 C263.1,119.1 263.2,119.7 263.4,120.3 C263.6,120.8 263.8,121.4 264.1,122.0 C264.3,122.5 264.6,123.1 264.9,123.6 C265.2,124.2 265.5,124.8 265.8,125.4 C266.1,126.0 266.3,126.6 266.5,127.3 C266.7,127.9 266.9,128.5 266.9,129.2 C267.0,129.8 267.0,130.5 267.0,131.1 C266.9,131.7 266.8,132.4 266.6,133.0 C266.5,133.6 266.2,134.2 266.0,134.8 C265.7,135.4 265.4,136.0 265.1,136.6 C264.9,137.2 264.6,137.7 264.4,138.3 C264.1,138.9 263.9,139.5 263.8,140.1 C263.7,140.7 263.6,141.3 263.6,142.0 C263.5,142.7 263.5,143.4 263.6,144.1 C263.6,144.9 263.7,145.7 263.7,146.4 C263.7,147.2 263.8,148.0 263.7,148.8 C263.6,149.6 263.5,150.3 263.2,151.0 C263.0,151.7 262.7,152.4 262.4,153.0 C262.0,153.7 261.6,154.2 261.2,154.8 C260.8,155.4 260.3,156.0 259.9,156.6 C259.5,157.2 260.9,158.4 258.6,158.5 C256.4,158.6 251.0,157.8 246.4,157.2 C241.8,156.6 236.6,155.6 231.0,154.7 C225.4,153.8 217.5,153.3 212.8,151.9 C208.1,150.4 205.7,148.8 203.0,146.0 C200.2,143.2 197.4,138.5 196.3,135.1 C195.1,131.6 195.6,128.1 196.0,125.3 C196.4,122.4 197.7,120.4 198.8,118.0 C199.8,115.6 201.3,113.0 202.3,111.0 C203.3,109.0 204.1,107.3 204.7,106.1 C205.2,104.9 205.1,104.6 205.5,104.0Z" fill="#fff" stroke="#111" stroke-width="1.50" stroke-linejoin="round"/>
<path d="M226.8,127.8 C225.4,125.7 220.5,118.9 218.4,115.2 C216.3,111.5 214.9,107.0 214.2,105.4" fill="none" stroke="#555" stroke-width="0.7"/>
<path d="M229.6,126.4 C229.6,124.1 230.1,117.1 229.6,112.4 C229.1,107.7 227.3,100.7 226.8,98.4" fill="none" stroke="#555" stroke-width="0.7"/>
<path d="M235.2,126.4 C236.4,124.3 240.6,118.0 242.2,113.8 C243.8,109.6 244.5,103.3 245.0,101.2" fill="none" stroke="#555" stroke-width="0.7"/>
<path d="M238.0,129.2 C240.1,127.8 246.9,123.6 250.6,120.8 C254.3,118.0 258.8,113.8 260.4,112.4" fill="none" stroke="#555" stroke-width="0.7"/>
<path d="M238.0,133.4 C240.3,133.2 247.6,132.2 252.0,132.0 C256.4,131.8 262.5,132.0 264.6,132.0" fill="none" stroke="#555" stroke-width="0.7"/>
<path d="M236.6,137.6 C238.5,138.5 244.1,140.9 247.8,143.2 C251.5,145.5 257.1,150.2 259.0,151.6" fill="none" stroke="#555" stroke-width="0.7"/>
<path d="M231.0,139.0 C231.5,140.4 232.9,144.8 233.8,147.4 C234.7,150.0 236.1,153.2 236.6,154.4" fill="none" stroke="#555" stroke-width="0.7"/>
<path d="M226.8,136.2 C225.6,137.4 222.1,140.9 219.8,143.2 C217.5,145.5 214.0,149.0 212.8,150.2" fill="none" stroke="#555" stroke-width="0.7"/>
<path d="M224.0,132.0 C221.7,132.2 214.2,133.4 210.0,133.4 C205.8,133.4 200.7,132.2 198.8,132.0" fill="none" stroke="#555" stroke-width="0.7"/>
<path d="M224.0,129.2 C221.9,128.0 215.1,124.1 211.4,122.2 C207.7,120.3 203.2,118.7 201.6,118.0" fill="none" stroke="#555" stroke-width="0.7"/>
<path d="M72.8,116.6 C72.0,115.4 70.9,112.9 71.4,111.0 C71.9,109.1 72.6,107.0 75.6,105.4 C78.6,103.8 84.5,102.4 89.6,101.2 C94.7,100.0 101.3,99.6 106.4,98.4 C111.5,97.2 115.7,95.6 120.4,94.2 C125.1,92.8 128.8,91.0 134.4,90.0 C140.0,88.9 147.2,88.2 154.0,87.9 C160.8,87.6 170.4,88.0 175.0,88.3 C179.5,88.7 180.6,89.3 181.3,90.0 C182.0,90.7 181.9,92.3 179.2,92.8 C176.5,93.3 169.9,92.3 165.2,92.8 C160.5,93.3 154.0,94.2 151.2,95.6 C148.4,97.0 149.3,99.4 148.4,101.2 C147.5,102.9 147.9,104.7 145.6,106.1 C143.3,107.5 138.1,109.5 134.4,109.6 C130.7,109.7 126.9,107.7 123.2,106.8 C119.5,105.9 116.2,104.2 112.0,104.0 C107.8,103.8 102.7,104.5 98.0,105.4 C93.3,106.3 87.6,107.5 84.0,109.6 C80.4,111.7 78.2,116.8 76.3,118.0 C74.4,119.2 73.6,117.8 72.8,116.6Z" fill="#f2f2f2" stroke="#555" stroke-width="0.8"/>
<path d="M123.2,104.0 C123.7,103.1 124.1,99.8 126.0,98.4 C127.9,97.0 131.1,95.6 134.4,95.6 C137.7,95.6 144.0,97.0 145.6,98.4 C147.2,99.8 145.6,102.8 144.2,104.0 C142.8,105.2 139.3,105.6 137.2,105.4 C135.1,105.2 131.8,103.5 131.6,102.6 C131.4,101.7 134.2,100.0 135.8,99.8 C137.4,99.6 140.5,101.0 141.4,101.2" fill="none" stroke="#555" stroke-width="0.7"/>
<polygon points="110.6,100.9 119.0,102.6 120.7,99.8 118.3,106.1 122.5,107.5 119.0,109.6 115.5,115.2 114.1,108.2" fill="#111"/>
<path d="M36.7,125.0 C36.7,123.8 38.8,122.7 40.6,123.6 C42.4,124.5 44.6,128.0 47.6,130.6 C50.6,133.2 55.9,136.7 58.8,139.0 C61.7,141.3 64.3,143.2 65.1,144.6 C65.9,146.0 64.7,147.3 63.7,147.7 C62.6,148.0 61.2,148.1 58.8,146.7 C56.3,145.3 52.0,141.7 49.0,139.0 C46.0,136.3 42.7,132.9 40.6,130.6 C38.5,128.3 36.7,126.2 36.7,125.0Z" fill="#f4f4f4" stroke="#555" stroke-width="0.8"/>
<rect x="164.40" y="45.50" width="3.50" height="105.00" fill="#6a6a6a" stroke="#2a2a2a" stroke-width="0.90" />
<rect x="161.7" y="54.3" width="9.2" height="24" rx="1.5" fill="#d4d8d4" stroke="#999" stroke-width="0.6"/>
<line x1="256.00" y1="76.70" x2="201.60" y2="138.60" stroke="#111" stroke-width="1.10" />
<circle cx="197.4" cy="146" r="4.4" fill="#c8912c"/>
<circle cx="167.3" cy="162.4" r="7.2" fill="#c8912c"/>
<line x1="193" y1="147.5" x2="178" y2="154" stroke="#c8912c" stroke-width="1.8" stroke-dasharray="2.2,1.6"/>
<polygon points="170.5,157 178,150.8 178.8,156.6" fill="#c8912c"/></g>
<text transform="translate(107.87,832.65) scale(0.9823,1)" font-size="14.28" font-weight="bold" stroke="#111" stroke-width="0.45" fill="#111" >Optic Fiber</text>
<text transform="translate(137.74,854.80) scale(0.9848,1)" font-size="15.71" font-weight="bold" stroke="#111" stroke-width="0.45" fill="#111" >LED</text>
<text transform="translate(195.39,846.28) scale(1.0230,1)" font-size="15.14" font-weight="bold" stroke="#c8912c" stroke-width="0.45" font-style="italic" fill="#c8912c" >AAVrg*-loxP-eGFP</text>
<text transform="translate(191.61,860.93) scale(1.0758,1)" font-size="14.39" font-weight="bold" stroke="#c8912c" stroke-width="0.45" font-style="italic" fill="#c8912c" >rAAV2-loxP-NpHR 3.0</text>
<text transform="translate(208.72,954.96) scale(0.9269,1)" font-size="18.56" font-weight="bold" stroke="#111" stroke-width="0.45" fill="#111" >LDTg</text>
<text transform="translate(157.08,979.50) scale(1.0139,1)" font-size="17.45" font-weight="bold" stroke="#111" stroke-width="0.45" fill="#111" >IPN</text>
<text transform="translate(143.28,999.77) scale(1.0046,1)" font-size="18.25" stroke="#111" stroke-width="0.25" font-style="italic" fill="#111" >GAD2</text>
<text transform="translate(193.27,993.47) scale(1.2099,1)" font-size="10.67" stroke="#111" stroke-width="0.25" font-style="italic" fill="#111" >Cre</text>
<g clip-path="url(#cm3)">
<rect x="366.30" y="791.30" width="365.30" height="310.00" fill="#070a10" />
<rect x="366.3" y="791.3" width="365.3" height="310.0" fill="url(#pB)" filter="url(#bl05)" opacity="1"/>
<g mask="url(#mk6)"><rect x="366.3" y="791.3" width="365.3" height="310.0" fill="url(#pB2)" filter="url(#bl05)"/></g>
<path d="M366.3,851.5 C374.4,850.5 396.1,846.7 415.0,845.0 C434.0,843.4 458.4,842.9 480.1,841.8 C501.8,840.7 523.4,839.5 545.1,838.5 C566.8,837.6 588.5,836.8 610.2,835.9 C631.8,835.0 654.6,833.9 675.2,833.1 C695.8,832.3 724.0,831.3 733.7,830.9" fill="none" stroke="#1a3cc8" stroke-width="9" opacity="0.6" filter="url(#bl2)"/>
<g filter="url(#bl14)" opacity="0.4">
<ellipse cx="520" cy="965" rx="55" ry="32" fill="#8a8a1c" opacity="1" transform="rotate(10 520 965)"/>
<ellipse cx="625" cy="960" rx="50" ry="34" fill="#8a8a1c" opacity="1" transform="rotate(-10 625 960)"/>
<ellipse cx="705" cy="950" rx="36" ry="50" fill="#8a8a1c" opacity="1"/>
<ellipse cx="455" cy="975" rx="30" ry="30" fill="#8a8a1c" opacity="0.6"/>
<ellipse cx="570" cy="1020" rx="22" ry="40" fill="#8a8a1c" opacity="0.7"/>
</g>
<g mask="url(#mk7)"><rect x="366.3" y="791.3" width="365.3" height="310.0" fill="url(#pY)" filter="url(#bl05)"/></g>
<path d="M735.9,868.5 C727.6,870.7 701.6,876.4 686.0,881.9 C670.5,887.4 657.1,894.9 642.7,901.4 C628.2,907.9 610.2,915.9 599.3,920.9 C588.5,926.0 583.1,929.9 577.6,931.8 C572.2,933.6 574.0,933.6 566.8,932.2 C559.6,930.7 546.9,926.8 534.3,923.1 C521.6,919.4 505.4,914.8 490.9,910.1 C476.5,905.4 462.0,900.3 447.6,894.9 C433.1,889.5 417.2,882.9 404.2,877.6 C391.2,872.2 376.4,865.7 369.5,862.8 C362.6,859.9 364.1,860.7 363.0,860.2" fill="none" stroke="#1a3cc8" stroke-width="6" opacity="0.6" filter="url(#bl2)"/>
<polygon points="363.0,855.9 369.5,853.3 415.0,847.6 480.1,845.0 545.1,842.0 610.2,839.8 675.2,837.7 735.9,835.1 735.9,868.5 686.0,881.9 642.7,901.4 599.3,920.9 577.6,931.8 566.8,932.2 534.3,923.1 490.9,910.1 447.6,894.9 404.2,877.6 369.5,862.8 363.0,860.2" fill="#040506"/>
<path d="M451.9,897.1 C448.6,897.8 438.5,899.2 432.4,901.4 C426.2,903.6 420.5,905.0 415.0,910.1 C409.6,915.1 403.5,924.5 399.9,931.8 C396.3,939.0 394.3,946.2 393.4,953.4 C392.5,960.7 393.4,967.9 394.4,975.1 C395.5,982.3 396.8,989.6 399.9,996.8 C402.9,1004.0 407.8,1012.3 412.9,1018.5 C417.9,1024.6 424.4,1030.3 430.2,1033.7 C436.0,1037.0 441.1,1037.7 447.6,1038.4 C454.1,1039.2 462.4,1038.5 469.2,1038.0 C476.1,1037.5 483.2,1036.4 488.8,1035.4 C494.4,1034.4 501.8,1035.5 502.8,1031.9 C503.9,1028.4 498.1,1020.0 495.3,1014.1 C492.4,1008.3 488.2,1002.6 485.5,996.8 C482.8,991.0 480.3,984.9 479.0,979.5 C477.7,974.0 477.2,969.0 477.9,964.3 C478.6,959.6 481.2,954.9 483.3,951.3 C485.5,947.7 487.1,945.1 490.9,942.6 C494.7,940.1 500.7,937.8 506.1,936.1 C511.5,934.4 520.6,932.8 523.4,932.2" fill="none" stroke="#fff" stroke-width="1.6" stroke-dasharray="6.5,4.8"/>
<path d="M451.9,897.1 C455.1,898.9 464.9,904.8 471.4,907.9 C477.9,911.0 484.4,913.0 490.9,915.5 C497.4,918.0 505.0,920.3 510.4,923.1 C515.9,925.9 521.3,930.7 523.4,932.2" fill="none" stroke="#fff" stroke-width="1.6" stroke-dasharray="6.5,4.8"/>
<path d="M705.6,884.1 C702.7,885.5 694.7,889.1 688.2,892.7 C681.7,896.4 673.0,901.6 666.5,905.7 C660.0,909.9 650.3,913.3 649.2,917.7 C648.1,922.0 657.0,926.5 660.0,931.8 C663.1,937.0 666.2,943.3 667.6,949.1 C669.1,954.9 669.2,960.3 668.7,966.4 C668.2,972.6 666.5,979.8 664.4,986.0 C662.2,992.1 658.6,998.2 655.7,1003.3 C652.8,1008.4 649.5,1012.5 647.0,1016.3 C644.5,1020.1 638.7,1023.1 640.5,1026.1 C642.3,1029.0 650.6,1032.0 657.9,1034.1 C665.1,1036.2 677.4,1039.2 683.9,1038.4 C690.4,1037.6 692.5,1033.4 696.9,1029.3 C701.2,1025.3 705.9,1019.6 709.9,1014.1 C713.9,1008.7 717.7,1003.3 720.7,996.8 C723.8,990.3 726.6,982.3 728.3,975.1 C730.1,967.9 731.0,961.4 731.1,953.4 C731.3,945.5 730.8,936.1 729.4,927.4 C728.0,918.8 725.4,907.9 722.9,901.4 C720.4,894.9 717.1,891.3 714.2,888.4 C711.3,885.5 707.0,884.8 705.6,884.1" fill="none" stroke="#fff" stroke-width="1.6" stroke-dasharray="6.5,4.8"/>
<line x1="696.40" y1="1088.30" x2="724.00" y2="1088.30" stroke="#fff" stroke-width="2.00" />
</g>
<text transform="translate(370.06,821.66) scale(1.0960,1)" font-size="23.94" font-weight="bold" stroke="#f2ea22" stroke-width="0.45" fill="#f2ea22" >rAAV2-LoxP-NpHR3.0</text>
<text transform="translate(370.85,849.40) scale(1.0194,1)" font-size="27.78" font-weight="bold" stroke="#1f49d6" stroke-width="0.45" fill="#1f49d6" >DAPI</text>
<text transform="translate(525.43,905.45) scale(1.0851,1)" font-size="31.78" font-weight="bold" stroke="#fff" stroke-width="0.45" fill="#fff" >LDTg</text>
<g clip-path="url(#cm4)">
<rect x="742.30" y="791.30" width="365.10" height="310.00" fill="#070a10" />
<rect x="742.3" y="791.3" width="365.1" height="310.0" fill="url(#pB)" filter="url(#bl05)" opacity="1"/>
<g mask="url(#mk8)"><rect x="742.3" y="791.3" width="365.1" height="310.0" fill="url(#pB2)" filter="url(#bl05)"/></g>
<path d="M742,1010 Q790,1050 860,1070 Q930,1090 1010,1070 Q1070,1050 1108,1010 L1108,1102 L742,1102Z" fill="#05070c" opacity="0.62" filter="url(#bl4)"/>
<path d="M742,880 Q775,960 800,1050 L742,1070Z" fill="#05070c" opacity="0.55" filter="url(#bl8)"/>
<path d="M1108,900 Q1075,960 1060,1050 L1108,1070Z" fill="#05070c" opacity="0.45" filter="url(#bl8)"/>
<g filter="url(#bl14)" opacity="0.5">
<ellipse cx="935" cy="1000" rx="92" ry="62" fill="#6a6a14" opacity="1"/>
<ellipse cx="930" cy="945" rx="70" ry="40" fill="#6a6a14" opacity="0.7"/>
</g>
<g mask="url(#mk9)"><rect x="742.3" y="791.3" width="365.1" height="310.0" fill="url(#pY2)" filter="url(#bl05)"/></g>
<g mask="url(#mk10)"><rect x="742.3" y="791.3" width="365.1" height="310.0" fill="url(#pY)" filter="url(#bl05)"/></g>
<circle cx="858.8" cy="964.3" r="5" fill="#05070f" opacity="0.8"/>
<circle cx="878.3" cy="1020.7" r="5" fill="#05070f" opacity="0.8"/>
<circle cx="1001.8" cy="959.9" r="4.5" fill="#05070f" opacity="0.8"/>
<circle cx="1025.7" cy="1016.3" r="5" fill="#05070f" opacity="0.8"/>
<circle cx="910.8" cy="923.1" r="4" fill="#05070f" opacity="0.8"/>
<circle cx="941.1" cy="823.4" r="3" fill="#05070f" opacity="0.8"/>
<circle cx="947.6" cy="877.6" r="3.5" fill="#05070f" opacity="0.8"/>
<circle cx="902.1" cy="897.1" r="3" fill="#05070f" opacity="0.8"/>
<circle cx="973.7" cy="892.7" r="3" fill="#05070f" opacity="0.8"/>
<polyline points="945.5,832.0 918.4,904.7 949.8,917.7 979.1,848.9" fill="none" stroke="#fff" stroke-width="1.3"/>
<path d="M921.6,839.6 C934.3,839.3 946.9,839.4 958.5,842.9 C970.0,846.3 980.2,851.9 991.0,860.2 C1001.8,868.5 1014.5,880.8 1023.5,892.7 C1032.6,904.7 1039.8,918.0 1045.2,931.8 C1050.6,945.5 1055.0,961.4 1056.0,975.1 C1057.1,988.9 1055.3,1003.3 1051.7,1014.1 C1048.1,1025.0 1042.7,1032.9 1034.4,1040.2 C1026.1,1047.4 1014.5,1052.4 1001.8,1057.5 C989.2,1062.6 971.9,1067.8 958.5,1070.5 C945.1,1073.2 934.3,1074.5 921.6,1073.8 C909.0,1073.0 894.5,1069.3 882.6,1066.2 C870.7,1063.1 860.9,1057.9 850.1,1055.3 C839.2,1052.8 825.5,1055.3 817.6,1051.0 C809.6,1046.7 807.4,1038.4 802.4,1029.3 C797.3,1020.3 789.4,1007.6 787.2,996.8 C785.0,986.0 786.8,976.9 789.4,964.3 C791.9,951.6 796.6,934.3 802.4,920.9 C808.2,907.6 816.1,894.2 824.1,884.1 C832.0,873.9 840.3,866.7 850.1,860.2 C859.8,853.7 870.7,848.5 882.6,845.0 C894.5,841.6 909.0,840.0 921.6,839.6Z" fill="none" stroke="#fff" stroke-width="1.6" stroke-dasharray="6.5,4.8"/>
<line x1="1072.30" y1="1088.30" x2="1099.80" y2="1088.30" stroke="#fff" stroke-width="2.00" />
</g>
<text transform="translate(748.29,823.54) scale(1.0144,1)" font-size="26.48" font-weight="bold" stroke="#f2ea22" stroke-width="0.45" fill="#f2ea22" >GAD2 Cre::NpHR3.0</text>
<text transform="translate(1010.18,818.20) scale(0.9515,1)" font-size="21.67" font-weight="bold" stroke="#f2ea22" stroke-width="0.45" fill="#f2ea22" >IPN-LDTg</text>
<text transform="translate(748.42,851.10) scale(1.0370,1)" font-size="27.78" font-weight="bold" stroke="#1f49d6" stroke-width="0.45" fill="#1f49d6" >DAPI</text>
<text transform="translate(1026.91,881.90) scale(0.9177,1)" font-size="33.16" font-weight="bold" stroke="#fff" stroke-width="0.45" fill="#fff" >IPN</text>
<!-- p_h -->
<text transform="translate(1141.94,908.20) scale(0.8722,1)" font-size="57.66" font-weight="bold" stroke="#111" stroke-width="0.45" fill="#111" >h</text>
<rect x="1196.00" y="943.40" width="188.80" height="102.30" fill="#eef4f4" />
<line x1="1196.00" y1="943.40" x2="1196.00" y2="1045.70" stroke="#8ea4a4" stroke-width="0.90" />
<line x1="1219.10" y1="943.40" x2="1219.10" y2="1045.70" stroke="#8ea4a4" stroke-width="0.90" />
<line x1="1241.80" y1="943.40" x2="1241.80" y2="1045.70" stroke="#8ea4a4" stroke-width="0.90" />
<line x1="1265.30" y1="943.40" x2="1265.30" y2="1045.70" stroke="#8ea4a4" stroke-width="0.90" />
<line x1="1288.90" y1="943.40" x2="1288.90" y2="1045.70" stroke="#8ea4a4" stroke-width="0.90" />
<line x1="1312.60" y1="943.40" x2="1312.60" y2="1045.70" stroke="#8ea4a4" stroke-width="0.90" />
<line x1="1336.40" y1="943.40" x2="1336.40" y2="1045.70" stroke="#8ea4a4" stroke-width="0.90" />
<line x1="1359.90" y1="943.40" x2="1359.90" y2="1045.70" stroke="#8ea4a4" stroke-width="0.90" />
<line x1="1384.80" y1="943.40" x2="1384.80" y2="1045.70" stroke="#8ea4a4" stroke-width="0.90" />
<line x1="1196.00" y1="943.40" x2="1384.80" y2="943.40" stroke="#8ea4a4" stroke-width="0.90" />
<line x1="1196.00" y1="965.90" x2="1384.80" y2="965.90" stroke="#8ea4a4" stroke-width="0.90" />
<line x1="1196.00" y1="992.30" x2="1384.80" y2="992.30" stroke="#8ea4a4" stroke-width="0.90" />
<line x1="1196.00" y1="1018.70" x2="1384.80" y2="1018.70" stroke="#8ea4a4" stroke-width="0.90" />
<line x1="1196.00" y1="1045.70" x2="1384.80" y2="1045.70" stroke="#8ea4a4" stroke-width="0.90" />
<polygon points="1346.7,943.0 1384.8,943.0 1384.8,991.8 1369.8,998.0 1350.0,995.8 1337.9,986.3 1337.3,952.2" fill="#f6d2da" stroke="#bc4664" stroke-width="1.2"/>
<polygon points="1196.0,995.1 1211.8,990.7 1230.1,994.0 1243.3,1002.8 1243.3,1034.7 1235.2,1045.7 1196.0,1045.7" fill="#f6d2da" stroke="#bc4664" stroke-width="1.2"/>
<rect x="1197.7" y="1006.6" width="23.0" height="35.9" fill="#eef3f2" opacity="0.5"/><line x1="1198.6" y1="1006.6" x2="1198.6" y2="1042.4" stroke="#7a9a9b" stroke-width="1.0"/><line x1="1202.1" y1="1006.6" x2="1202.1" y2="1042.4" stroke="#7a9a9b" stroke-width="1.0"/><line x1="1205.7" y1="1006.6" x2="1205.7" y2="1042.4" stroke="#7a9a9b" stroke-width="1.0"/><line x1="1209.2" y1="1006.6" x2="1209.2" y2="1042.4" stroke="#7a9a9b" stroke-width="1.0"/><line x1="1212.7" y1="1006.6" x2="1212.7" y2="1042.4" stroke="#7a9a9b" stroke-width="1.0"/><line x1="1216.3" y1="1006.6" x2="1216.3" y2="1042.4" stroke="#7a9a9b" stroke-width="1.0"/><line x1="1219.8" y1="1006.6" x2="1219.8" y2="1042.4" stroke="#7a9a9b" stroke-width="1.0"/><ellipse cx="1209.2" cy="1042.9" rx="13.0" ry="3.6" fill="#648a8c"/><ellipse cx="1209.2" cy="1006.6" rx="13.3" ry="3.4" fill="#648a8c"/>
<rect x="1359.0" y="936.4" width="23.0" height="35.6" fill="#eef3f2" opacity="0.5"/><line x1="1359.9" y1="936.4" x2="1359.9" y2="972.0" stroke="#7a9a9b" stroke-width="1.0"/><line x1="1363.4" y1="936.4" x2="1363.4" y2="972.0" stroke="#7a9a9b" stroke-width="1.0"/><line x1="1367.0" y1="936.4" x2="1367.0" y2="972.0" stroke="#7a9a9b" stroke-width="1.0"/><line x1="1370.5" y1="936.4" x2="1370.5" y2="972.0" stroke="#7a9a9b" stroke-width="1.0"/><line x1="1374.0" y1="936.4" x2="1374.0" y2="972.0" stroke="#7a9a9b" stroke-width="1.0"/><line x1="1377.6" y1="936.4" x2="1377.6" y2="972.0" stroke="#7a9a9b" stroke-width="1.0"/><line x1="1381.1" y1="936.4" x2="1381.1" y2="972.0" stroke="#7a9a9b" stroke-width="1.0"/><ellipse cx="1370.5" cy="972.5" rx="13.0" ry="3.6" fill="#648a8c"/><ellipse cx="1370.5" cy="936.4" rx="13.3" ry="3.4" fill="#648a8c"/>
<path d="M1363.5,951.6 q2,-3 4,-2 q2,0 2,3 l2,5 l3,11 q-1,3 -5,2 q-3,-6 -4,-11 q-3,-4 -2,-8z" fill="#6a5a54"/><path d="M1370.5,970.6 q4,2 8,1" fill="none" stroke="#c98893" stroke-width="0.7"/>
<path d="M1326.9,965.8 q-7,0 -8,5 q1,5 8,3 q6,-1 10,-3" fill="none" stroke="#c98893" stroke-width="1"/><path d="M1323.9,964.8 q1,-9 12,-9.5 q7,-0.5 11,1.5 q2,-2.5 4,-1.5 q2,1 1,3 q4,1 5,4 q-1,3 -5,3.5 l-4,2 l-2,2.5 l-2,-2 l-9,0.5 l-1,2.5 l-2.5,-2.5 q-8,0 -7.5,-6.5z" fill="#404244"/><circle cx="1349.4" cy="958.3" r="1.1" fill="#e02030"/><path d="M1348.9,956.8 l-0.5,-5 l-4,-3 q-4,-6 2,-14 q8,-9 1,-14" fill="none" stroke="#333" stroke-width="0.8"/>
<rect x="1427.00" y="943.40" width="188.80" height="102.30" fill="#eef4f4" />
<line x1="1427.00" y1="943.40" x2="1427.00" y2="1045.70" stroke="#8ea4a4" stroke-width="0.90" />
<line x1="1450.10" y1="943.40" x2="1450.10" y2="1045.70" stroke="#8ea4a4" stroke-width="0.90" />
<line x1="1472.80" y1="943.40" x2="1472.80" y2="1045.70" stroke="#8ea4a4" stroke-width="0.90" />
<line x1="1496.30" y1="943.40" x2="1496.30" y2="1045.70" stroke="#8ea4a4" stroke-width="0.90" />
<line x1="1519.90" y1="943.40" x2="1519.90" y2="1045.70" stroke="#8ea4a4" stroke-width="0.90" />
<line x1="1543.60" y1="943.40" x2="1543.60" y2="1045.70" stroke="#8ea4a4" stroke-width="0.90" />
<line x1="1567.40" y1="943.40" x2="1567.40" y2="1045.70" stroke="#8ea4a4" stroke-width="0.90" />
<line x1="1590.90" y1="943.40" x2="1590.90" y2="1045.70" stroke="#8ea4a4" stroke-width="0.90" />
<line x1="1615.80" y1="943.40" x2="1615.80" y2="1045.70" stroke="#8ea4a4" stroke-width="0.90" />
<line x1="1427.00" y1="943.40" x2="1615.80" y2="943.40" stroke="#8ea4a4" stroke-width="0.90" />
<line x1="1427.00" y1="965.90" x2="1615.80" y2="965.90" stroke="#8ea4a4" stroke-width="0.90" />
<line x1="1427.00" y1="992.30" x2="1615.80" y2="992.30" stroke="#8ea4a4" stroke-width="0.90" />
<line x1="1427.00" y1="1018.70" x2="1615.80" y2="1018.70" stroke="#8ea4a4" stroke-width="0.90" />
<line x1="1427.00" y1="1045.70" x2="1615.80" y2="1045.70" stroke="#8ea4a4" stroke-width="0.90" />
<polygon points="1577.7,943.0 1615.8,943.0 1615.8,991.8 1600.8,998.0 1581.0,995.8 1568.9,986.3 1568.3,952.2" fill="#f6d2da" stroke="#bc4664" stroke-width="1.2"/>
<polygon points="1427.0,995.1 1442.8,990.7 1461.1,994.0 1474.3,1002.8 1474.3,1034.7 1466.2,1045.7 1427.0,1045.7" fill="#f6d2da" stroke="#bc4664" stroke-width="1.2"/>
<rect x="1428.7" y="1006.6" width="23.0" height="35.9" fill="#eef3f2" opacity="0.5"/><line x1="1429.6" y1="1006.6" x2="1429.6" y2="1042.4" stroke="#7a9a9b" stroke-width="1.0"/><line x1="1433.1" y1="1006.6" x2="1433.1" y2="1042.4" stroke="#7a9a9b" stroke-width="1.0"/><line x1="1436.7" y1="1006.6" x2="1436.7" y2="1042.4" stroke="#7a9a9b" stroke-width="1.0"/><line x1="1440.2" y1="1006.6" x2="1440.2" y2="1042.4" stroke="#7a9a9b" stroke-width="1.0"/><line x1="1443.7" y1="1006.6" x2="1443.7" y2="1042.4" stroke="#7a9a9b" stroke-width="1.0"/><line x1="1447.3" y1="1006.6" x2="1447.3" y2="1042.4" stroke="#7a9a9b" stroke-width="1.0"/><line x1="1450.8" y1="1006.6" x2="1450.8" y2="1042.4" stroke="#7a9a9b" stroke-width="1.0"/><ellipse cx="1440.2" cy="1042.9" rx="13.0" ry="3.6" fill="#648a8c"/><ellipse cx="1440.2" cy="1006.6" rx="13.3" ry="3.4" fill="#648a8c"/>
<rect x="1590.0" y="936.4" width="23.0" height="35.6" fill="#eef3f2" opacity="0.5"/><line x1="1590.9" y1="936.4" x2="1590.9" y2="972.0" stroke="#7a9a9b" stroke-width="1.0"/><line x1="1594.4" y1="936.4" x2="1594.4" y2="972.0" stroke="#7a9a9b" stroke-width="1.0"/><line x1="1598.0" y1="936.4" x2="1598.0" y2="972.0" stroke="#7a9a9b" stroke-width="1.0"/><line x1="1601.5" y1="936.4" x2="1601.5" y2="972.0" stroke="#7a9a9b" stroke-width="1.0"/><line x1="1605.0" y1="936.4" x2="1605.0" y2="972.0" stroke="#7a9a9b" stroke-width="1.0"/><line x1="1608.6" y1="936.4" x2="1608.6" y2="972.0" stroke="#7a9a9b" stroke-width="1.0"/><line x1="1612.1" y1="936.4" x2="1612.1" y2="972.0" stroke="#7a9a9b" stroke-width="1.0"/><ellipse cx="1601.5" cy="972.5" rx="13.0" ry="3.6" fill="#648a8c"/><ellipse cx="1601.5" cy="936.4" rx="13.3" ry="3.4" fill="#648a8c"/>
<path d="M1594.5,951.6 q2,-3 4,-2 q2,0 2,3 l2,5 l3,11 q-1,3 -5,2 q-3,-6 -4,-11 q-3,-4 -2,-8z" fill="#6a5a54"/><path d="M1601.5,970.6 q4,2 8,1" fill="none" stroke="#c98893" stroke-width="0.7"/>
<path d="M1557.9,965.8 q-7,0 -8,5 q1,5 8,3 q6,-1 10,-3" fill="none" stroke="#c98893" stroke-width="1"/><path d="M1554.9,964.8 q1,-9 12,-9.5 q7,-0.5 11,1.5 q2,-2.5 4,-1.5 q2,1 1,3 q4,1 5,4 q-1,3 -5,3.5 l-4,2 l-2,2.5 l-2,-2 l-9,0.5 l-1,2.5 l-2.5,-2.5 q-8,0 -7.5,-6.5z" fill="#404244"/><circle cx="1580.4" cy="958.3" r="1.1" fill="#e02030"/><path d="M1579.9,956.8 l-0.5,-5 l-4,-3 q-4,-6 2,-14 q8,-9 1,-14" fill="none" stroke="#333" stroke-width="0.8"/>
<rect x="1656.00" y="943.40" width="188.80" height="102.30" fill="#eef4f4" />
<line x1="1656.00" y1="943.40" x2="1656.00" y2="1045.70" stroke="#8ea4a4" stroke-width="0.90" />
<line x1="1679.10" y1="943.40" x2="1679.10" y2="1045.70" stroke="#8ea4a4" stroke-width="0.90" />
<line x1="1701.80" y1="943.40" x2="1701.80" y2="1045.70" stroke="#8ea4a4" stroke-width="0.90" />
<line x1="1725.30" y1="943.40" x2="1725.30" y2="1045.70" stroke="#8ea4a4" stroke-width="0.90" />
<line x1="1748.90" y1="943.40" x2="1748.90" y2="1045.70" stroke="#8ea4a4" stroke-width="0.90" />
<line x1="1772.60" y1="943.40" x2="1772.60" y2="1045.70" stroke="#8ea4a4" stroke-width="0.90" />
<line x1="1796.40" y1="943.40" x2="1796.40" y2="1045.70" stroke="#8ea4a4" stroke-width="0.90" />
<line x1="1819.90" y1="943.40" x2="1819.90" y2="1045.70" stroke="#8ea4a4" stroke-width="0.90" />
<line x1="1844.80" y1="943.40" x2="1844.80" y2="1045.70" stroke="#8ea4a4" stroke-width="0.90" />
<line x1="1656.00" y1="943.40" x2="1844.80" y2="943.40" stroke="#8ea4a4" stroke-width="0.90" />
<line x1="1656.00" y1="965.90" x2="1844.80" y2="965.90" stroke="#8ea4a4" stroke-width="0.90" />
<line x1="1656.00" y1="992.30" x2="1844.80" y2="992.30" stroke="#8ea4a4" stroke-width="0.90" />
<line x1="1656.00" y1="1018.70" x2="1844.80" y2="1018.70" stroke="#8ea4a4" stroke-width="0.90" />
<line x1="1656.00" y1="1045.70" x2="1844.80" y2="1045.70" stroke="#8ea4a4" stroke-width="0.90" />
<polygon points="1806.7,943.0 1844.8,943.0 1844.8,991.8 1829.8,998.0 1810.0,995.8 1797.9,986.3 1797.3,952.2" fill="#f6d2da" stroke="#bc4664" stroke-width="1.2"/>
<polygon points="1656.0,995.1 1671.8,990.7 1690.1,994.0 1703.3,1002.8 1703.3,1034.7 1695.2,1045.7 1656.0,1045.7" fill="#f6d2da" stroke="#bc4664" stroke-width="1.2"/>
<rect x="1657.7" y="1006.6" width="23.0" height="35.9" fill="#eef3f2" opacity="0.5"/><line x1="1658.6" y1="1006.6" x2="1658.6" y2="1042.4" stroke="#7a9a9b" stroke-width="1.0"/><line x1="1662.1" y1="1006.6" x2="1662.1" y2="1042.4" stroke="#7a9a9b" stroke-width="1.0"/><line x1="1665.7" y1="1006.6" x2="1665.7" y2="1042.4" stroke="#7a9a9b" stroke-width="1.0"/><line x1="1669.2" y1="1006.6" x2="1669.2" y2="1042.4" stroke="#7a9a9b" stroke-width="1.0"/><line x1="1672.7" y1="1006.6" x2="1672.7" y2="1042.4" stroke="#7a9a9b" stroke-width="1.0"/><line x1="1676.3" y1="1006.6" x2="1676.3" y2="1042.4" stroke="#7a9a9b" stroke-width="1.0"/><line x1="1679.8" y1="1006.6" x2="1679.8" y2="1042.4" stroke="#7a9a9b" stroke-width="1.0"/><ellipse cx="1669.2" cy="1042.9" rx="13.0" ry="3.6" fill="#648a8c"/><ellipse cx="1669.2" cy="1006.6" rx="13.3" ry="3.4" fill="#648a8c"/>
<path d="M1666.2,1023.5 q2,-3 4,-2 q2,0 2,3 l2,5 l3,11 q-1,3 -5,2 q-3,-6 -4,-11 q-3,-4 -2,-8z" fill="#d8b070"/><path d="M1673.2,1042.5 q4,2 8,1" fill="none" stroke="#c98893" stroke-width="0.7"/>
<rect x="1819.0" y="936.4" width="23.0" height="35.6" fill="#eef3f2" opacity="0.5"/><line x1="1819.9" y1="936.4" x2="1819.9" y2="972.0" stroke="#7a9a9b" stroke-width="1.0"/><line x1="1823.4" y1="936.4" x2="1823.4" y2="972.0" stroke="#7a9a9b" stroke-width="1.0"/><line x1="1827.0" y1="936.4" x2="1827.0" y2="972.0" stroke="#7a9a9b" stroke-width="1.0"/><line x1="1830.5" y1="936.4" x2="1830.5" y2="972.0" stroke="#7a9a9b" stroke-width="1.0"/><line x1="1834.0" y1="936.4" x2="1834.0" y2="972.0" stroke="#7a9a9b" stroke-width="1.0"/><line x1="1837.6" y1="936.4" x2="1837.6" y2="972.0" stroke="#7a9a9b" stroke-width="1.0"/><line x1="1841.1" y1="936.4" x2="1841.1" y2="972.0" stroke="#7a9a9b" stroke-width="1.0"/><ellipse cx="1830.5" cy="972.5" rx="13.0" ry="3.6" fill="#648a8c"/><ellipse cx="1830.5" cy="936.4" rx="13.3" ry="3.4" fill="#648a8c"/>
<path d="M1823.5,951.6 q2,-3 4,-2 q2,0 2,3 l2,5 l3,11 q-1,3 -5,2 q-3,-6 -4,-11 q-3,-4 -2,-8z" fill="#6a5a54"/><path d="M1830.5,970.6 q4,2 8,1" fill="none" stroke="#c98893" stroke-width="0.7"/>
<path d="M1786.9,965.8 q-7,0 -8,5 q1,5 8,3 q6,-1 10,-3" fill="none" stroke="#c98893" stroke-width="1"/><path d="M1783.9,964.8 q1,-9 12,-9.5 q7,-0.5 11,1.5 q2,-2.5 4,-1.5 q2,1 1,3 q4,1 5,4 q-1,3 -5,3.5 l-4,2 l-2,2.5 l-2,-2 l-9,0.5 l-1,2.5 l-2.5,-2.5 q-8,0 -7.5,-6.5z" fill="#404244"/><circle cx="1809.4" cy="958.3" r="1.1" fill="#e02030"/><path d="M1808.9,956.8 l-0.5,-5 l-4,-3 q-4,-6 2,-14 q8,-9 1,-14" fill="none" stroke="#333" stroke-width="0.8"/>
<polygon points="1676.9,967.6 1647.8,1042.0 1707.2,1042.0" fill="url(#cone)"/>
<polygon points="1822.1,908.6 1793.0,983.5 1851.3,983.5" fill="url(#cone)"/>
<text transform="translate(1247.84,895.02) scale(0.9090,1)" font-size="32.90" font-weight="bold" stroke="#111" stroke-width="0.45" fill="#111" >Day 1</text><line x1="1249.40" y1="900.20" x2="1328.40" y2="900.20" stroke="#111" stroke-width="3.10" />
<text transform="translate(1475.09,895.11) scale(0.9443,1)" font-size="32.44" font-weight="bold" stroke="#111" stroke-width="0.45" fill="#111" >Day 2</text><line x1="1476.70" y1="900.20" x2="1557.20" y2="900.20" stroke="#111" stroke-width="3.10" />
<text transform="translate(1702.49,895.11) scale(0.9443,1)" font-size="32.44" font-weight="bold" stroke="#111" stroke-width="0.45" fill="#111" >Day 3</text><line x1="1704.10" y1="900.20" x2="1784.60" y2="900.20" stroke="#111" stroke-width="3.10" />
<text transform="translate(1387.78,917.00) scale(0.9444,1)" font-size="24.28" font-weight="bold" stroke="#111" stroke-width="0.45" fill="#111" >24h</text>
<text transform="translate(1612.98,920.30) scale(0.9444,1)" font-size="24.28" font-weight="bold" stroke="#111" stroke-width="0.45" fill="#111" >24h</text>
<text transform="translate(1298.18,934.20) scale(0.8778,1)" font-size="20.22" font-weight="bold" stroke="#111" stroke-width="0.45" fill="#111" >LED</text>
<text transform="translate(1530.29,934.20) scale(0.8674,1)" font-size="20.22" font-weight="bold" stroke="#111" stroke-width="0.45" fill="#111" >LED</text>
<text transform="translate(1759.87,934.20) scale(0.8831,1)" font-size="20.22" font-weight="bold" stroke="#111" stroke-width="0.45" fill="#111" >LED</text>
<text transform="translate(1327.13,1019.04) scale(0.9516,1)" font-size="20.88" font-weight="bold" stroke="#111" stroke-width="0.45" fill="#111" >Novel 1</text>
<text transform="translate(1541.93,1019.04) scale(0.9515,1)" font-size="20.88" font-weight="bold" stroke="#111" stroke-width="0.45" fill="#111" >Familiar 1</text>
<text transform="translate(1772.92,1019.04) scale(0.9636,1)" font-size="20.88" font-weight="bold" stroke="#111" stroke-width="0.45" fill="#111" >Familiar 2</text>
<text transform="translate(1646.41,1066.34) scale(0.9717,1)" font-size="20.88" font-weight="bold" stroke="#111" stroke-width="0.45" fill="#111" >Novel 2</text>
<text transform="translate(1158.31,1078.44) scale(0.9690,1)" font-size="20.88" font-weight="bold" stroke="#111" stroke-width="0.45" fill="#111" >Hab.</text>
<polygon points="1178.4,1044.6 1168.5,1058.9 1188.3,1058.9" fill="#111"/>
<line x1="1205.50" y1="1062.70" x2="1205.50" y2="1089.00" stroke="#111" stroke-width="3.40" />
<line x1="1205.50" y1="1076.50" x2="1842.00" y2="1076.50" stroke="#111" stroke-width="2.60" />
<polygon points="1839.5,1071.6 1849.3,1076.5 1839.5,1081.4" fill="#111"/>
<text transform="translate(1254.63,1103.19) scale(0.9224,1)" font-size="21.65" font-weight="bold" stroke="#111" stroke-width="0.45" fill="#111" >Juvenile C57BL/6 social stimulus</text>
<!-- p_i -->
<text transform="translate(-0.40,1168.90) scale(0.8788,1)" font-size="57.93" font-weight="bold" stroke="#111" stroke-width="0.45" fill="#111" >i</text>
<circle cx="86.10" cy="1124.80" r="5.30" fill="#fff" stroke="#1a1a1a" stroke-width="1.30" />
<polygon points="86.10,1144.17 80.70,1154.76 91.50,1154.76" fill="#f0704c" stroke="#1a1a1a" stroke-width="1.15" stroke-linejoin="miter"/>
<text transform="translate(115.65,1132.24) scale(1.1039,1)" font-size="20.49" font-weight="bold" stroke="#111" stroke-width="0.45" fill="#111" >eGFP</text>
<text transform="translate(114.96,1157.07) scale(1.0226,1)" font-size="21.96" font-weight="bold" stroke="#111" stroke-width="0.45" fill="#111" >NpHR 3.0</text>
<text transform="translate(129.50,1198.38) scale(1.0204,1)" font-size="25.63" font-weight="bold" stroke="#111" stroke-width="0.45" fill="#111" >Novel</text>
<text transform="translate(342.59,1200.27) scale(0.9567,1)" font-size="26.03" font-weight="bold" stroke="#111" stroke-width="0.45" fill="#111" >Familiar</text>
<rect x="108.30" y="1206.40" width="108.60" height="284.20" fill="#fce3d5" />
<rect x="123.43" y="1352.86" width="32.29" height="137.74" fill="#fff" stroke="#1a1a1a" stroke-width="1.50" />
<rect x="172.29" y="1379.43" width="31.14" height="111.17" fill="#fff" stroke="#1a1a1a" stroke-width="1.50" />
<line x1="108.30" y1="1205.30" x2="108.30" y2="1491.70" stroke="#111" stroke-width="2.20" />
<line x1="99.70" y1="1490.60" x2="220.60" y2="1490.60" stroke="#111" stroke-width="2.20" />
<line x1="99.70" y1="1206.90" x2="108.30" y2="1206.90" stroke="#111" stroke-width="2.20" />
<line x1="99.70" y1="1301.40" x2="108.30" y2="1301.40" stroke="#111" stroke-width="2.20" />
<line x1="99.70" y1="1396.30" x2="108.30" y2="1396.30" stroke="#111" stroke-width="2.20" />
<line x1="99.70" y1="1490.60" x2="108.30" y2="1490.60" stroke="#111" stroke-width="2.20" />
<circle cx="139.43" cy="1269.14" r="5.00" fill="#fff" stroke="#1a1a1a" stroke-width="1.45" />
<circle cx="139.43" cy="1292.86" r="5.00" fill="#fff" stroke="#1a1a1a" stroke-width="1.45" />
<circle cx="139.43" cy="1347.14" r="5.00" fill="#fff" stroke="#1a1a1a" stroke-width="1.45" />
<circle cx="128.57" cy="1367.14" r="5.00" fill="#fff" stroke="#1a1a1a" stroke-width="1.45" />
<circle cx="139.43" cy="1365.14" r="5.00" fill="#fff" stroke="#1a1a1a" stroke-width="1.45" />
<circle cx="150.86" cy="1372.86" r="5.00" fill="#fff" stroke="#1a1a1a" stroke-width="1.45" />
<circle cx="139.43" cy="1395.71" r="5.00" fill="#fff" stroke="#1a1a1a" stroke-width="1.45" />
<circle cx="139.43" cy="1410.86" r="5.00" fill="#fff" stroke="#1a1a1a" stroke-width="1.45" />
<polygon points="188.00,1340.23 183.00,1350.03 193.00,1350.03" fill="#f0704c" stroke="#1a1a1a" stroke-width="1.15" stroke-linejoin="miter"/>
<polygon points="177.14,1349.37 172.14,1359.17 182.14,1359.17" fill="#f0704c" stroke="#1a1a1a" stroke-width="1.15" stroke-linejoin="miter"/>
<polygon points="187.14,1353.08 182.14,1362.88 192.14,1362.88" fill="#f0704c" stroke="#1a1a1a" stroke-width="1.15" stroke-linejoin="miter"/>
<polygon points="177.14,1383.08 172.14,1392.88 182.14,1392.88" fill="#f0704c" stroke="#1a1a1a" stroke-width="1.15" stroke-linejoin="miter"/>
<polygon points="198.57,1378.80 193.57,1388.60 203.57,1388.60" fill="#f0704c" stroke="#1a1a1a" stroke-width="1.15" stroke-linejoin="miter"/>
<polygon points="187.14,1390.23 182.14,1400.03 192.14,1400.03" fill="#f0704c" stroke="#1a1a1a" stroke-width="1.15" stroke-linejoin="miter"/>
<polygon points="198.57,1391.08 193.57,1400.88 203.57,1400.88" fill="#f0704c" stroke="#1a1a1a" stroke-width="1.15" stroke-linejoin="miter"/>
<polygon points="187.14,1407.37 182.14,1417.17 192.14,1417.17" fill="#f0704c" stroke="#1a1a1a" stroke-width="1.15" stroke-linejoin="miter"/>
<line x1="139.43" y1="1334.86" x2="139.43" y2="1371.43" stroke="#1a1a1a" stroke-width="2.20" /><line x1="132.43" y1="1334.86" x2="146.43" y2="1334.86" stroke="#1a1a1a" stroke-width="2.20" /><line x1="132.43" y1="1371.43" x2="146.43" y2="1371.43" stroke="#1a1a1a" stroke-width="2.20" />
<line x1="188.00" y1="1370.86" x2="188.00" y2="1393.71" stroke="#1a1a1a" stroke-width="2.20" /><line x1="181.00" y1="1370.86" x2="195.00" y2="1370.86" stroke="#1a1a1a" stroke-width="2.20" /><line x1="181.00" y1="1393.71" x2="195.00" y2="1393.71" stroke="#1a1a1a" stroke-width="2.20" />
<text transform="translate(53.20,1216.75) scale(0.9000,1)" font-size="27.79" font-weight="bold" stroke="#111" stroke-width="0.45" fill="#111">150</text>
<text transform="translate(53.20,1311.25) scale(0.9000,1)" font-size="27.79" font-weight="bold" stroke="#111" stroke-width="0.45" fill="#111">100</text>
<text transform="translate(67.11,1406.15) scale(0.9000,1)" font-size="27.79" font-weight="bold" stroke="#111" stroke-width="0.45" fill="#111">50</text>
<text transform="translate(81.03,1500.45) scale(0.9000,1)" font-size="27.79" font-weight="bold" stroke="#111" stroke-width="0.45" fill="#111">0</text>
<text transform="translate(39.15,1503.58) rotate(-90) scale(1.0599,1)" font-size="29.87" font-weight="bold" stroke="#111" stroke-width="0.45" fill="#111" >Investigation time (s)</text>
<text transform="translate(143.67,1231.99) scale(1.1833,1)" font-size="24.91" stroke="#111" stroke-width="0.25" fill="#111" >ns</text>
<line x1="137.70" y1="1244.90" x2="182.30" y2="1244.90" stroke="#111" stroke-width="1.40" />
<rect x="338.30" y="1208.60" width="102.60" height="282.00" fill="#fce3d5" />
<rect x="352.00" y="1405.14" width="30.29" height="85.46" fill="#fff" stroke="#1a1a1a" stroke-width="1.50" />
<rect x="398.00" y="1367.14" width="30.00" height="123.46" fill="#fff" stroke="#1a1a1a" stroke-width="1.50" />
<line x1="338.30" y1="1207.50" x2="338.30" y2="1491.70" stroke="#111" stroke-width="2.20" />
<line x1="329.70" y1="1490.60" x2="444.60" y2="1490.60" stroke="#111" stroke-width="2.20" />
<line x1="329.70" y1="1209.10" x2="338.30" y2="1209.10" stroke="#111" stroke-width="2.20" />
<line x1="329.70" y1="1302.90" x2="338.30" y2="1302.90" stroke="#111" stroke-width="2.20" />
<line x1="329.70" y1="1397.10" x2="338.30" y2="1397.10" stroke="#111" stroke-width="2.20" />
<line x1="329.70" y1="1490.60" x2="338.30" y2="1490.60" stroke="#111" stroke-width="2.20" />
<circle cx="367.14" cy="1372.00" r="5.00" fill="#fff" stroke="#1a1a1a" stroke-width="1.45" />
<circle cx="367.14" cy="1387.14" r="5.00" fill="#fff" stroke="#1a1a1a" stroke-width="1.45" />
<circle cx="356.57" cy="1391.43" r="5.00" fill="#fff" stroke="#1a1a1a" stroke-width="1.45" />
<circle cx="377.14" cy="1411.43" r="5.00" fill="#fff" stroke="#1a1a1a" stroke-width="1.45" />
<circle cx="367.14" cy="1405.71" r="5.00" fill="#fff" stroke="#1a1a1a" stroke-width="1.45" />
<circle cx="357.14" cy="1433.71" r="5.00" fill="#fff" stroke="#1a1a1a" stroke-width="1.45" />
<circle cx="367.14" cy="1420.00" r="5.00" fill="#fff" stroke="#1a1a1a" stroke-width="1.45" />
<circle cx="377.14" cy="1425.71" r="5.00" fill="#fff" stroke="#1a1a1a" stroke-width="1.45" />
<polygon points="413.43,1303.08 408.43,1312.88 418.43,1312.88" fill="#f0704c" stroke="#1a1a1a" stroke-width="1.15" stroke-linejoin="miter"/>
<polygon points="402.86,1350.23 397.86,1360.03 407.86,1360.03" fill="#f0704c" stroke="#1a1a1a" stroke-width="1.15" stroke-linejoin="miter"/>
<polygon points="422.86,1348.80 417.86,1358.60 427.86,1358.60" fill="#f0704c" stroke="#1a1a1a" stroke-width="1.15" stroke-linejoin="miter"/>
<polygon points="412.86,1358.80 407.86,1368.60 417.86,1368.60" fill="#f0704c" stroke="#1a1a1a" stroke-width="1.15" stroke-linejoin="miter"/>
<polygon points="412.86,1373.08 407.86,1382.88 417.86,1382.88" fill="#f0704c" stroke="#1a1a1a" stroke-width="1.15" stroke-linejoin="miter"/>
<polygon points="422.86,1371.65 417.86,1381.45 427.86,1381.45" fill="#f0704c" stroke="#1a1a1a" stroke-width="1.15" stroke-linejoin="miter"/>
<polygon points="417.71,1389.37 412.71,1399.17 422.71,1399.17" fill="#f0704c" stroke="#1a1a1a" stroke-width="1.15" stroke-linejoin="miter"/>
<polygon points="408.00,1397.37 403.00,1407.17 413.00,1407.17" fill="#f0704c" stroke="#1a1a1a" stroke-width="1.15" stroke-linejoin="miter"/>
<line x1="367.14" y1="1397.14" x2="367.14" y2="1412.86" stroke="#1a1a1a" stroke-width="2.20" /><line x1="360.14" y1="1397.14" x2="374.14" y2="1397.14" stroke="#1a1a1a" stroke-width="2.20" /><line x1="360.14" y1="1412.86" x2="374.14" y2="1412.86" stroke="#1a1a1a" stroke-width="2.20" />
<line x1="412.86" y1="1355.71" x2="412.86" y2="1377.14" stroke="#1a1a1a" stroke-width="2.20" /><line x1="405.86" y1="1355.71" x2="419.86" y2="1355.71" stroke="#1a1a1a" stroke-width="2.20" /><line x1="405.86" y1="1377.14" x2="419.86" y2="1377.14" stroke="#1a1a1a" stroke-width="2.20" />
<text transform="translate(286.50,1218.95) scale(0.9000,1)" font-size="27.79" font-weight="bold" stroke="#111" stroke-width="0.45" fill="#111">150</text>
<text transform="translate(286.50,1312.75) scale(0.9000,1)" font-size="27.79" font-weight="bold" stroke="#111" stroke-width="0.45" fill="#111">100</text>
<text transform="translate(300.41,1406.95) scale(0.9000,1)" font-size="27.79" font-weight="bold" stroke="#111" stroke-width="0.45" fill="#111">50</text>
<text transform="translate(314.33,1500.45) scale(0.9000,1)" font-size="27.79" font-weight="bold" stroke="#111" stroke-width="0.45" fill="#111">0</text>
<text transform="translate(272.43,1503.58) rotate(-90) scale(1.0911,1)" font-size="29.01" font-weight="bold" stroke="#111" stroke-width="0.45" fill="#111" >Investigation time (s)</text>
<text transform="translate(377.48,1276.37) scale(1.0137,1)" font-size="34.13" font-weight="bold" stroke="#111" stroke-width="0.45" fill="#111" >**</text>
<line x1="368.60" y1="1278.60" x2="411.40" y2="1278.60" stroke="#111" stroke-width="1.40" />
<text transform="translate(474.75,1168.48) scale(1.0029,1)" font-size="55.84" font-weight="bold" stroke="#111" stroke-width="0.45" fill="#111" >j</text>
<circle cx="551.40" cy="1155.70" r="5.30" fill="#fff" stroke="#1a1a1a" stroke-width="1.30" />
<polygon points="551.40,1175.77 546.00,1186.36 556.80,1186.36" fill="#f0704c" stroke="#1a1a1a" stroke-width="1.15" stroke-linejoin="miter"/>
<text transform="translate(581.48,1163.14) scale(1.0511,1)" font-size="20.77" font-weight="bold" stroke="#111" stroke-width="0.45" fill="#111" >eGFP</text>
<text transform="translate(580.77,1187.96) scale(1.0318,1)" font-size="21.52" font-weight="bold" stroke="#111" stroke-width="0.45" fill="#111" >NpHR 3.0</text>
<rect x="573.40" y="1209.00" width="158.60" height="281.60" fill="#fce3d5" />
<rect x="595.71" y="1348.00" width="44.29" height="49.10" fill="#fff" stroke="#1a1a1a" stroke-width="1.50" />
<rect x="663.71" y="1397.10" width="44.86" height="12.90" fill="#fff" stroke="#1a1a1a" stroke-width="1.50" />
<line x1="573.40" y1="1207.90" x2="573.40" y2="1491.70" stroke="#111" stroke-width="2.20" />
<line x1="564.80" y1="1490.60" x2="733.70" y2="1490.60" stroke="#111" stroke-width="2.20" />
<line x1="564.80" y1="1397.10" x2="732.00" y2="1397.10" stroke="#111" stroke-width="2.20" />
<line x1="564.80" y1="1209.40" x2="573.40" y2="1209.40" stroke="#111" stroke-width="2.20" />
<line x1="564.80" y1="1302.90" x2="573.40" y2="1302.90" stroke="#111" stroke-width="2.20" />
<line x1="564.80" y1="1397.10" x2="573.40" y2="1397.10" stroke="#111" stroke-width="2.20" />
<line x1="564.80" y1="1490.60" x2="573.40" y2="1490.60" stroke="#111" stroke-width="2.20" />
<circle cx="617.71" cy="1282.29" r="5.30" fill="#fff" stroke="#1a1a1a" stroke-width="1.45" />
<circle cx="617.71" cy="1300.57" r="5.30" fill="#fff" stroke="#1a1a1a" stroke-width="1.45" />
<circle cx="617.71" cy="1336.57" r="5.30" fill="#fff" stroke="#1a1a1a" stroke-width="1.45" />
<circle cx="607.14" cy="1357.71" r="5.30" fill="#fff" stroke="#1a1a1a" stroke-width="1.45" />
<circle cx="627.14" cy="1355.71" r="5.30" fill="#fff" stroke="#1a1a1a" stroke-width="1.45" />
<circle cx="607.14" cy="1376.57" r="5.30" fill="#fff" stroke="#1a1a1a" stroke-width="1.45" />
<circle cx="628.00" cy="1384.29" r="5.30" fill="#fff" stroke="#1a1a1a" stroke-width="1.45" />
<circle cx="607.14" cy="1392.86" r="5.30" fill="#fff" stroke="#1a1a1a" stroke-width="1.45" />
<polygon points="686.29,1337.26 681.19,1347.26 691.39,1347.26" fill="#f0704c" stroke="#1a1a1a" stroke-width="1.15" stroke-linejoin="miter"/>
<polygon points="686.29,1372.97 681.19,1382.97 691.39,1382.97" fill="#f0704c" stroke="#1a1a1a" stroke-width="1.15" stroke-linejoin="miter"/>
<polygon points="675.71,1390.12 670.61,1400.11 680.81,1400.11" fill="#f0704c" stroke="#1a1a1a" stroke-width="1.15" stroke-linejoin="miter"/>
<polygon points="697.14,1387.26 692.04,1397.26 702.24,1397.26" fill="#f0704c" stroke="#1a1a1a" stroke-width="1.15" stroke-linejoin="miter"/>
<polygon points="686.29,1411.55 681.19,1421.54 691.39,1421.54" fill="#f0704c" stroke="#1a1a1a" stroke-width="1.15" stroke-linejoin="miter"/>
<polygon points="686.29,1438.69 681.19,1448.68 691.39,1448.68" fill="#f0704c" stroke="#1a1a1a" stroke-width="1.15" stroke-linejoin="miter"/>
<polygon points="675.71,1455.83 670.61,1465.83 680.81,1465.83" fill="#f0704c" stroke="#1a1a1a" stroke-width="1.15" stroke-linejoin="miter"/>
<polygon points="697.14,1454.40 692.04,1464.40 702.24,1464.40" fill="#f0704c" stroke="#1a1a1a" stroke-width="1.15" stroke-linejoin="miter"/>
<line x1="617.71" y1="1333.71" x2="617.71" y2="1362.29" stroke="#1a1a1a" stroke-width="2.20" /><line x1="606.81" y1="1333.71" x2="628.61" y2="1333.71" stroke="#1a1a1a" stroke-width="2.20" /><line x1="606.81" y1="1362.29" x2="628.61" y2="1362.29" stroke="#1a1a1a" stroke-width="2.20" />
<line x1="686.29" y1="1394.86" x2="686.29" y2="1425.71" stroke="#1a1a1a" stroke-width="2.20" /><line x1="675.39" y1="1394.86" x2="697.19" y2="1394.86" stroke="#1a1a1a" stroke-width="2.20" /><line x1="675.39" y1="1425.71" x2="697.19" y2="1425.71" stroke="#1a1a1a" stroke-width="2.20" />
<text transform="translate(526.08,1219.25) scale(0.9000,1)" font-size="27.79" font-weight="bold" stroke="#111" stroke-width="0.45" fill="#111">0.8</text>
<text transform="translate(525.45,1312.75) scale(0.9000,1)" font-size="27.79" font-weight="bold" stroke="#111" stroke-width="0.45" fill="#111">0.4</text>
<text transform="translate(526.24,1406.95) scale(0.9000,1)" font-size="27.79" font-weight="bold" stroke="#111" stroke-width="0.45" fill="#111">0.0</text>
<text transform="translate(517.01,1500.45) scale(0.9000,1)" font-size="27.79" font-weight="bold" stroke="#111" stroke-width="0.45" fill="#111">-0.4</text>
<text transform="translate(503.93,1466.44) rotate(-90) scale(1.0455,1)" font-size="29.83" font-weight="bold" stroke="#111" stroke-width="0.45" fill="#111" >Preference ratio</text>
<text transform="translate(674.08,1310.60) scale(1.1016,1)" font-size="32.00" font-weight="bold" stroke="#111" stroke-width="0.45" fill="#111" >**</text>
<text transform="translate(751.70,1169.40) scale(0.8286,1)" font-size="57.93" font-weight="bold" stroke="#111" stroke-width="0.45" fill="#111" >k</text>
<circle cx="812.00" cy="1140.00" r="5.30" fill="#fff" stroke="#1a1a1a" stroke-width="1.30" />
<polygon points="812.00,1157.77 806.60,1168.36 817.40,1168.36" fill="#f0704c" stroke="#1a1a1a" stroke-width="1.15" stroke-linejoin="miter"/>
<text transform="translate(843.32,1148.13) scale(1.0728,1)" font-size="21.89" font-weight="bold" stroke="#111" stroke-width="0.45" fill="#111" >eGFP</text>
<text transform="translate(842.57,1170.76) scale(1.0529,1)" font-size="22.51" font-weight="bold" stroke="#111" stroke-width="0.45" fill="#111" >NpHR 3.0</text>
<text transform="translate(880.33,1200.87) scale(1.0446,1)" font-size="26.03" font-weight="bold" stroke="#111" stroke-width="0.45" fill="#111" >Novel</text>
<text transform="translate(1087.28,1200.27) scale(1.0192,1)" font-size="26.03" font-weight="bold" stroke="#111" stroke-width="0.45" fill="#111" >Familiar</text>
<rect x="858.00" y="1209.00" width="113.40" height="281.60" fill="#fce3d5" />
<rect x="865.14" y="1387.14" width="13.43" height="103.46" fill="#fff" stroke="#1a1a1a" stroke-width="1.50" />
<rect x="889.14" y="1336.29" width="13.71" height="154.31" fill="#fff" stroke="#1a1a1a" stroke-width="1.50" />
<rect x="928.57" y="1436.57" width="13.71" height="54.03" fill="#fff" stroke="#1a1a1a" stroke-width="1.50" />
<rect x="952.00" y="1430.86" width="14.29" height="59.74" fill="#fff" stroke="#1a1a1a" stroke-width="1.50" />
<line x1="858.00" y1="1207.90" x2="858.00" y2="1491.70" stroke="#111" stroke-width="2.20" />
<line x1="849.40" y1="1490.60" x2="974.90" y2="1490.60" stroke="#111" stroke-width="2.20" />
<line x1="849.40" y1="1209.43" x2="858.00" y2="1209.43" stroke="#111" stroke-width="2.20" />
<line x1="849.40" y1="1265.71" x2="858.00" y2="1265.71" stroke="#111" stroke-width="2.20" />
<line x1="849.40" y1="1322.00" x2="858.00" y2="1322.00" stroke="#111" stroke-width="2.20" />
<line x1="849.40" y1="1378.00" x2="858.00" y2="1378.00" stroke="#111" stroke-width="2.20" />
<line x1="849.40" y1="1434.29" x2="858.00" y2="1434.29" stroke="#111" stroke-width="2.20" />
<line x1="849.40" y1="1490.57" x2="858.00" y2="1490.57" stroke="#111" stroke-width="2.20" />
<circle cx="872.29" cy="1331.43" r="4.90" fill="#fff" stroke="#1a1a1a" stroke-width="1.45" />
<circle cx="872.29" cy="1352.86" r="4.90" fill="#fff" stroke="#1a1a1a" stroke-width="1.45" />
<circle cx="872.29" cy="1378.57" r="4.90" fill="#fff" stroke="#1a1a1a" stroke-width="1.45" />
<circle cx="877.14" cy="1381.43" r="4.90" fill="#fff" stroke="#1a1a1a" stroke-width="1.45" />
<circle cx="868.57" cy="1388.57" r="4.90" fill="#fff" stroke="#1a1a1a" stroke-width="1.45" />
<circle cx="875.71" cy="1393.71" r="4.90" fill="#fff" stroke="#1a1a1a" stroke-width="1.45" />
<circle cx="870.00" cy="1400.00" r="4.90" fill="#fff" stroke="#1a1a1a" stroke-width="1.45" />
<circle cx="872.29" cy="1458.57" r="4.90" fill="#fff" stroke="#1a1a1a" stroke-width="1.45" />
<circle cx="932.86" cy="1404.29" r="4.90" fill="#fff" stroke="#1a1a1a" stroke-width="1.45" />
<circle cx="937.71" cy="1402.86" r="4.90" fill="#fff" stroke="#1a1a1a" stroke-width="1.45" />
<circle cx="935.43" cy="1425.14" r="4.90" fill="#fff" stroke="#1a1a1a" stroke-width="1.45" />
<circle cx="932.86" cy="1437.14" r="4.90" fill="#fff" stroke="#1a1a1a" stroke-width="1.45" />
<circle cx="937.71" cy="1442.86" r="4.90" fill="#fff" stroke="#1a1a1a" stroke-width="1.45" />
<circle cx="932.86" cy="1451.43" r="4.90" fill="#fff" stroke="#1a1a1a" stroke-width="1.45" />
<circle cx="937.71" cy="1458.57" r="4.90" fill="#fff" stroke="#1a1a1a" stroke-width="1.45" />
<circle cx="932.86" cy="1466.29" r="4.90" fill="#fff" stroke="#1a1a1a" stroke-width="1.45" />
<polygon points="894.29,1273.94 889.29,1283.74 899.29,1283.74" fill="#f0704c" stroke="#1a1a1a" stroke-width="1.15" stroke-linejoin="miter"/>
<polygon points="899.14,1271.08 894.14,1280.88 904.14,1280.88" fill="#f0704c" stroke="#1a1a1a" stroke-width="1.15" stroke-linejoin="miter"/>
<polygon points="899.14,1303.08 894.14,1312.88 904.14,1312.88" fill="#f0704c" stroke="#1a1a1a" stroke-width="1.15" stroke-linejoin="miter"/>
<polygon points="893.71,1313.08 888.71,1322.88 898.71,1322.88" fill="#f0704c" stroke="#1a1a1a" stroke-width="1.15" stroke-linejoin="miter"/>
<polygon points="899.14,1320.23 894.14,1330.03 904.14,1330.03" fill="#f0704c" stroke="#1a1a1a" stroke-width="1.15" stroke-linejoin="miter"/>
<polygon points="896.29,1338.80 891.29,1348.60 901.29,1348.60" fill="#f0704c" stroke="#1a1a1a" stroke-width="1.15" stroke-linejoin="miter"/>
<polygon points="896.29,1395.94 891.29,1405.74 901.29,1405.74" fill="#f0704c" stroke="#1a1a1a" stroke-width="1.15" stroke-linejoin="miter"/>
<polygon points="896.29,1429.65 891.29,1439.45 901.29,1439.45" fill="#f0704c" stroke="#1a1a1a" stroke-width="1.15" stroke-linejoin="miter"/>
<polygon points="959.14,1391.08 954.14,1400.88 964.14,1400.88" fill="#f0704c" stroke="#1a1a1a" stroke-width="1.15" stroke-linejoin="miter"/>
<polygon points="959.14,1404.51 954.14,1414.31 964.14,1414.31" fill="#f0704c" stroke="#1a1a1a" stroke-width="1.15" stroke-linejoin="miter"/>
<polygon points="959.14,1411.65 954.14,1421.45 964.14,1421.45" fill="#f0704c" stroke="#1a1a1a" stroke-width="1.15" stroke-linejoin="miter"/>
<polygon points="959.14,1424.51 954.14,1434.31 964.14,1434.31" fill="#f0704c" stroke="#1a1a1a" stroke-width="1.15" stroke-linejoin="miter"/>
<polygon points="961.43,1430.23 956.43,1440.03 966.43,1440.03" fill="#f0704c" stroke="#1a1a1a" stroke-width="1.15" stroke-linejoin="miter"/>
<polygon points="957.14,1437.37 952.14,1447.17 962.14,1447.17" fill="#f0704c" stroke="#1a1a1a" stroke-width="1.15" stroke-linejoin="miter"/>
<polygon points="961.43,1444.51 956.43,1454.31 966.43,1454.31" fill="#f0704c" stroke="#1a1a1a" stroke-width="1.15" stroke-linejoin="miter"/>
<polygon points="957.14,1451.08 952.14,1460.88 962.14,1460.88" fill="#f0704c" stroke="#1a1a1a" stroke-width="1.15" stroke-linejoin="miter"/>
<line x1="872.29" y1="1371.43" x2="872.29" y2="1397.14" stroke="#1a1a1a" stroke-width="2.20" /><line x1="868.69" y1="1371.43" x2="875.89" y2="1371.43" stroke="#1a1a1a" stroke-width="2.20" /><line x1="868.69" y1="1397.14" x2="875.89" y2="1397.14" stroke="#1a1a1a" stroke-width="2.20" />
<line x1="896.29" y1="1317.14" x2="896.29" y2="1354.86" stroke="#1a1a1a" stroke-width="2.20" /><line x1="892.69" y1="1317.14" x2="899.89" y2="1317.14" stroke="#1a1a1a" stroke-width="2.20" /><line x1="892.69" y1="1354.86" x2="899.89" y2="1354.86" stroke="#1a1a1a" stroke-width="2.20" />
<line x1="935.43" y1="1428.57" x2="935.43" y2="1444.29" stroke="#1a1a1a" stroke-width="2.20" /><line x1="931.83" y1="1428.57" x2="939.03" y2="1428.57" stroke="#1a1a1a" stroke-width="2.20" /><line x1="931.83" y1="1444.29" x2="939.03" y2="1444.29" stroke="#1a1a1a" stroke-width="2.20" />
<line x1="959.14" y1="1422.86" x2="959.14" y2="1439.43" stroke="#1a1a1a" stroke-width="2.20" /><line x1="955.54" y1="1422.86" x2="962.74" y2="1422.86" stroke="#1a1a1a" stroke-width="2.20" /><line x1="955.54" y1="1439.43" x2="962.74" y2="1439.43" stroke="#1a1a1a" stroke-width="2.20" />
<text transform="translate(818.10,1219.28) scale(0.9000,1)" font-size="27.79" font-weight="bold" stroke="#111" stroke-width="0.45" fill="#111">25</text>
<text transform="translate(818.41,1275.57) scale(0.9000,1)" font-size="27.79" font-weight="bold" stroke="#111" stroke-width="0.45" fill="#111">20</text>
<text transform="translate(817.62,1331.85) scale(0.9000,1)" font-size="28.29" font-weight="bold" stroke="#111" stroke-width="0.45" fill="#111">15</text>
<text transform="translate(818.41,1387.85) scale(0.9000,1)" font-size="27.79" font-weight="bold" stroke="#111" stroke-width="0.45" fill="#111">10</text>
<text transform="translate(831.78,1444.13) scale(0.9000,1)" font-size="28.29" font-weight="bold" stroke="#111" stroke-width="0.45" fill="#111">5</text>
<text transform="translate(832.33,1500.42) scale(0.9000,1)" font-size="27.79" font-weight="bold" stroke="#111" stroke-width="0.45" fill="#111">0</text>
<text transform="translate(799.35,1456.47) rotate(-90) scale(1.0560,1)" font-size="29.87" font-weight="bold" stroke="#111" stroke-width="0.45" fill="#111" >Bout length (s)</text>
<text transform="translate(900.13,1236.76) scale(1.1735,1)" font-size="26.91" stroke="#111" stroke-width="0.25" fill="#111" >ns</text>
<line x1="882.30" y1="1246.60" x2="950.90" y2="1246.60" stroke="#111" stroke-width="1.40" />
<text transform="translate(846.83,1552.61) rotate(-45)" font-size="25.29" font-weight="bold" stroke="#111" stroke-width="0.45" fill="#111">First</text>
<text transform="translate(897.85,1568.97) rotate(-45)" font-size="24.94" font-weight="bold" stroke="#111" stroke-width="0.45" fill="#111">Others</text>
<rect x="1080.00" y="1209.00" width="111.40" height="281.60" fill="#fce3d5" />
<rect x="1087.71" y="1460.00" width="13.71" height="30.60" fill="#fff" stroke="#1a1a1a" stroke-width="1.50" />
<rect x="1111.43" y="1443.71" width="14.29" height="46.89" fill="#fff" stroke="#1a1a1a" stroke-width="1.50" />
<rect x="1149.43" y="1451.43" width="14.00" height="39.17" fill="#fff" stroke="#1a1a1a" stroke-width="1.50" />
<rect x="1172.29" y="1418.57" width="14.29" height="72.03" fill="#fff" stroke="#1a1a1a" stroke-width="1.50" />
<line x1="1080.00" y1="1207.90" x2="1080.00" y2="1491.70" stroke="#111" stroke-width="2.20" />
<line x1="1071.40" y1="1490.60" x2="1195.70" y2="1490.60" stroke="#111" stroke-width="2.20" />
<line x1="1071.40" y1="1209.43" x2="1080.00" y2="1209.43" stroke="#111" stroke-width="2.20" />
<line x1="1071.40" y1="1265.71" x2="1080.00" y2="1265.71" stroke="#111" stroke-width="2.20" />
<line x1="1071.40" y1="1322.00" x2="1080.00" y2="1322.00" stroke="#111" stroke-width="2.20" />
<line x1="1071.40" y1="1378.00" x2="1080.00" y2="1378.00" stroke="#111" stroke-width="2.20" />
<line x1="1071.40" y1="1434.29" x2="1080.00" y2="1434.29" stroke="#111" stroke-width="2.20" />
<line x1="1071.40" y1="1490.57" x2="1080.00" y2="1490.57" stroke="#111" stroke-width="2.20" />
<circle cx="1094.86" cy="1430.00" r="4.90" fill="#fff" stroke="#1a1a1a" stroke-width="1.45" />
<circle cx="1094.86" cy="1445.71" r="4.90" fill="#fff" stroke="#1a1a1a" stroke-width="1.45" />
<circle cx="1091.43" cy="1455.71" r="4.90" fill="#fff" stroke="#1a1a1a" stroke-width="1.45" />
<circle cx="1097.14" cy="1461.43" r="4.90" fill="#fff" stroke="#1a1a1a" stroke-width="1.45" />
<circle cx="1092.86" cy="1467.14" r="4.90" fill="#fff" stroke="#1a1a1a" stroke-width="1.45" />
<circle cx="1097.14" cy="1470.00" r="4.90" fill="#fff" stroke="#1a1a1a" stroke-width="1.45" />
<circle cx="1092.29" cy="1474.29" r="4.90" fill="#fff" stroke="#1a1a1a" stroke-width="1.45" />
<circle cx="1154.29" cy="1428.00" r="4.90" fill="#fff" stroke="#1a1a1a" stroke-width="1.45" />
<circle cx="1158.00" cy="1428.57" r="4.90" fill="#fff" stroke="#1a1a1a" stroke-width="1.45" />
<circle cx="1156.29" cy="1444.29" r="4.90" fill="#fff" stroke="#1a1a1a" stroke-width="1.45" />
<circle cx="1154.29" cy="1451.43" r="4.90" fill="#fff" stroke="#1a1a1a" stroke-width="1.45" />
<circle cx="1158.00" cy="1458.57" r="4.90" fill="#fff" stroke="#1a1a1a" stroke-width="1.45" />
<circle cx="1154.29" cy="1464.29" r="4.90" fill="#fff" stroke="#1a1a1a" stroke-width="1.45" />
<circle cx="1158.00" cy="1467.14" r="4.90" fill="#fff" stroke="#1a1a1a" stroke-width="1.45" />
<circle cx="1154.86" cy="1470.00" r="4.90" fill="#fff" stroke="#1a1a1a" stroke-width="1.45" />
<polygon points="1118.57,1393.08 1113.57,1402.88 1123.57,1402.88" fill="#f0704c" stroke="#1a1a1a" stroke-width="1.15" stroke-linejoin="miter"/>
<polygon points="1118.57,1423.08 1113.57,1432.88 1123.57,1432.88" fill="#f0704c" stroke="#1a1a1a" stroke-width="1.15" stroke-linejoin="miter"/>
<polygon points="1115.71,1437.37 1110.71,1447.17 1120.71,1447.17" fill="#f0704c" stroke="#1a1a1a" stroke-width="1.15" stroke-linejoin="miter"/>
<polygon points="1120.57,1443.08 1115.57,1452.88 1125.57,1452.88" fill="#f0704c" stroke="#1a1a1a" stroke-width="1.15" stroke-linejoin="miter"/>
<polygon points="1116.57,1448.80 1111.57,1458.60 1121.57,1458.60" fill="#f0704c" stroke="#1a1a1a" stroke-width="1.15" stroke-linejoin="miter"/>
<polygon points="1120.57,1453.08 1115.57,1462.88 1125.57,1462.88" fill="#f0704c" stroke="#1a1a1a" stroke-width="1.15" stroke-linejoin="miter"/>
<polygon points="1116.57,1460.23 1111.57,1470.03 1121.57,1470.03" fill="#f0704c" stroke="#1a1a1a" stroke-width="1.15" stroke-linejoin="miter"/>
<polygon points="1179.43,1349.37 1174.43,1359.17 1184.43,1359.17" fill="#f0704c" stroke="#1a1a1a" stroke-width="1.15" stroke-linejoin="miter"/>
<polygon points="1179.43,1371.08 1174.43,1380.88 1184.43,1380.88" fill="#f0704c" stroke="#1a1a1a" stroke-width="1.15" stroke-linejoin="miter"/>
<polygon points="1179.43,1374.51 1174.43,1384.31 1184.43,1384.31" fill="#f0704c" stroke="#1a1a1a" stroke-width="1.15" stroke-linejoin="miter"/>
<polygon points="1179.43,1428.23 1174.43,1438.03 1184.43,1438.03" fill="#f0704c" stroke="#1a1a1a" stroke-width="1.15" stroke-linejoin="miter"/>
<polygon points="1179.43,1440.23 1174.43,1450.03 1184.43,1450.03" fill="#f0704c" stroke="#1a1a1a" stroke-width="1.15" stroke-linejoin="miter"/>
<polygon points="1179.43,1445.94 1174.43,1455.74 1184.43,1455.74" fill="#f0704c" stroke="#1a1a1a" stroke-width="1.15" stroke-linejoin="miter"/>
<polygon points="1179.43,1451.65 1174.43,1461.45 1184.43,1461.45" fill="#f0704c" stroke="#1a1a1a" stroke-width="1.15" stroke-linejoin="miter"/>
<line x1="1094.86" y1="1451.43" x2="1094.86" y2="1467.14" stroke="#1a1a1a" stroke-width="2.20" /><line x1="1091.26" y1="1451.43" x2="1098.46" y2="1451.43" stroke="#1a1a1a" stroke-width="2.20" /><line x1="1091.26" y1="1467.14" x2="1098.46" y2="1467.14" stroke="#1a1a1a" stroke-width="2.20" />
<line x1="1118.57" y1="1435.71" x2="1118.57" y2="1451.43" stroke="#1a1a1a" stroke-width="2.20" /><line x1="1114.97" y1="1435.71" x2="1122.17" y2="1435.71" stroke="#1a1a1a" stroke-width="2.20" /><line x1="1114.97" y1="1451.43" x2="1122.17" y2="1451.43" stroke="#1a1a1a" stroke-width="2.20" />
<line x1="1156.29" y1="1444.29" x2="1156.29" y2="1457.14" stroke="#1a1a1a" stroke-width="2.20" /><line x1="1152.69" y1="1444.29" x2="1159.89" y2="1444.29" stroke="#1a1a1a" stroke-width="2.20" /><line x1="1152.69" y1="1457.14" x2="1159.89" y2="1457.14" stroke="#1a1a1a" stroke-width="2.20" />
<line x1="1179.43" y1="1402.86" x2="1179.43" y2="1434.29" stroke="#1a1a1a" stroke-width="2.20" /><line x1="1175.83" y1="1402.86" x2="1183.03" y2="1402.86" stroke="#1a1a1a" stroke-width="2.20" /><line x1="1175.83" y1="1434.29" x2="1183.03" y2="1434.29" stroke="#1a1a1a" stroke-width="2.20" />
<text transform="translate(1041.60,1219.28) scale(0.9000,1)" font-size="27.79" font-weight="bold" stroke="#111" stroke-width="0.45" fill="#111">25</text>
<text transform="translate(1041.91,1275.57) scale(0.9000,1)" font-size="27.79" font-weight="bold" stroke="#111" stroke-width="0.45" fill="#111">20</text>
<text transform="translate(1041.12,1331.85) scale(0.9000,1)" font-size="28.29" font-weight="bold" stroke="#111" stroke-width="0.45" fill="#111">15</text>
<text transform="translate(1041.91,1387.85) scale(0.9000,1)" font-size="27.79" font-weight="bold" stroke="#111" stroke-width="0.45" fill="#111">10</text>
<text transform="translate(1055.28,1444.13) scale(0.9000,1)" font-size="28.29" font-weight="bold" stroke="#111" stroke-width="0.45" fill="#111">5</text>
<text transform="translate(1055.83,1500.42) scale(0.9000,1)" font-size="27.79" font-weight="bold" stroke="#111" stroke-width="0.45" fill="#111">0</text>
<text transform="translate(1023.72,1456.47) rotate(-90) scale(1.0674,1)" font-size="29.55" font-weight="bold" stroke="#111" stroke-width="0.45" fill="#111" >Bout length (s)</text>
<text transform="translate(1129.84,1314.30) scale(1.1412,1)" font-size="23.05" stroke="#111" stroke-width="0.25" fill="#111" >#</text>
<line x1="1105.10" y1="1326.30" x2="1170.90" y2="1326.30" stroke="#111" stroke-width="1.40" />
<text transform="translate(1070.75,1552.76) rotate(-45)" font-size="25.44" font-weight="bold" stroke="#111" stroke-width="0.45" fill="#111">First</text>
<text transform="translate(1117.85,1568.97) rotate(-45)" font-size="24.94" font-weight="bold" stroke="#111" stroke-width="0.45" fill="#111">Others</text>
<text transform="translate(1221.10,1168.80) scale(0.8406,1)" font-size="57.10" font-weight="bold" stroke="#111" stroke-width="0.45" fill="#111" >l</text>
<circle cx="1267.40" cy="1134.60" r="5.30" fill="#fff" stroke="#1a1a1a" stroke-width="1.30" />
<polygon points="1267.40,1153.37 1262.00,1163.96 1272.80,1163.96" fill="#f0704c" stroke="#1a1a1a" stroke-width="1.15" stroke-linejoin="miter"/>
<text transform="translate(1296.19,1142.32) scale(0.9582,1)" font-size="22.46" font-weight="bold" stroke="#111" stroke-width="0.45" fill="#111" >eGFP</text>
<text transform="translate(1295.51,1165.67) scale(0.9462,1)" font-size="22.95" font-weight="bold" stroke="#111" stroke-width="0.45" fill="#111" >NpHR 3.0</text>
<text transform="translate(1323.95,1200.57) scale(0.9626,1)" font-size="26.44" font-weight="bold" stroke="#111" stroke-width="0.45" fill="#111" >Novel</text>
<text transform="translate(1506.90,1200.57) scale(0.9359,1)" font-size="26.44" font-weight="bold" stroke="#111" stroke-width="0.45" fill="#111" >Familiar</text>
<rect x="1304.00" y="1209.00" width="105.10" height="281.60" fill="#fce3d5" />
<rect x="1319.43" y="1391.43" width="29.71" height="99.17" fill="#fff" stroke="#1a1a1a" stroke-width="1.50" />
<rect x="1365.71" y="1422.29" width="30.00" height="68.31" fill="#fff" stroke="#1a1a1a" stroke-width="1.50" />
<line x1="1304.00" y1="1207.90" x2="1304.00" y2="1491.70" stroke="#111" stroke-width="2.20" />
<line x1="1295.40" y1="1490.60" x2="1412.00" y2="1490.60" stroke="#111" stroke-width="2.20" />
<line x1="1295.40" y1="1209.43" x2="1304.00" y2="1209.43" stroke="#111" stroke-width="2.20" />
<line x1="1295.40" y1="1279.14" x2="1304.00" y2="1279.14" stroke="#111" stroke-width="2.20" />
<line x1="1295.40" y1="1349.43" x2="1304.00" y2="1349.43" stroke="#111" stroke-width="2.20" />
<line x1="1295.40" y1="1420.00" x2="1304.00" y2="1420.00" stroke="#111" stroke-width="2.20" />
<line x1="1295.40" y1="1490.57" x2="1304.00" y2="1490.57" stroke="#111" stroke-width="2.20" />
<circle cx="1334.29" cy="1321.43" r="5.20" fill="#fff" stroke="#1a1a1a" stroke-width="1.45" />
<circle cx="1334.29" cy="1350.00" r="5.20" fill="#fff" stroke="#1a1a1a" stroke-width="1.45" />
<circle cx="1324.29" cy="1392.86" r="5.20" fill="#fff" stroke="#1a1a1a" stroke-width="1.45" />
<circle cx="1344.29" cy="1392.86" r="5.20" fill="#fff" stroke="#1a1a1a" stroke-width="1.45" />
<circle cx="1324.29" cy="1405.71" r="5.20" fill="#fff" stroke="#1a1a1a" stroke-width="1.45" />
<circle cx="1344.29" cy="1405.71" r="5.20" fill="#fff" stroke="#1a1a1a" stroke-width="1.45" />
<circle cx="1334.29" cy="1420.00" r="5.20" fill="#fff" stroke="#1a1a1a" stroke-width="1.45" />
<circle cx="1334.29" cy="1435.71" r="5.20" fill="#fff" stroke="#1a1a1a" stroke-width="1.45" />
<polygon points="1380.86,1373.08 1375.86,1382.88 1385.86,1382.88" fill="#f0704c" stroke="#1a1a1a" stroke-width="1.15" stroke-linejoin="miter"/>
<polygon points="1380.86,1400.23 1375.86,1410.03 1385.86,1410.03" fill="#f0704c" stroke="#1a1a1a" stroke-width="1.15" stroke-linejoin="miter"/>
<polygon points="1375.71,1414.51 1370.71,1424.31 1380.71,1424.31" fill="#f0704c" stroke="#1a1a1a" stroke-width="1.15" stroke-linejoin="miter"/>
<polygon points="1385.71,1414.51 1380.71,1424.31 1390.71,1424.31" fill="#f0704c" stroke="#1a1a1a" stroke-width="1.15" stroke-linejoin="miter"/>
<polygon points="1370.57,1430.23 1365.57,1440.03 1375.57,1440.03" fill="#f0704c" stroke="#1a1a1a" stroke-width="1.15" stroke-linejoin="miter"/>
<polygon points="1380.86,1430.23 1375.86,1440.03 1385.86,1440.03" fill="#f0704c" stroke="#1a1a1a" stroke-width="1.15" stroke-linejoin="miter"/>
<polygon points="1390.86,1430.23 1385.86,1440.03 1395.86,1440.03" fill="#f0704c" stroke="#1a1a1a" stroke-width="1.15" stroke-linejoin="miter"/>
<polygon points="1380.86,1444.51 1375.86,1454.31 1385.86,1454.31" fill="#f0704c" stroke="#1a1a1a" stroke-width="1.15" stroke-linejoin="miter"/>
<line x1="1334.29" y1="1377.14" x2="1334.29" y2="1404.29" stroke="#1a1a1a" stroke-width="2.20" /><line x1="1326.29" y1="1377.14" x2="1342.29" y2="1377.14" stroke="#1a1a1a" stroke-width="2.20" /><line x1="1326.29" y1="1404.29" x2="1342.29" y2="1404.29" stroke="#1a1a1a" stroke-width="2.20" />
<line x1="1380.86" y1="1413.71" x2="1380.86" y2="1430.00" stroke="#1a1a1a" stroke-width="2.20" /><line x1="1372.86" y1="1413.71" x2="1388.86" y2="1413.71" stroke="#1a1a1a" stroke-width="2.20" /><line x1="1372.86" y1="1430.00" x2="1388.86" y2="1430.00" stroke="#1a1a1a" stroke-width="2.20" />
<text transform="translate(1268.01,1219.28) scale(0.9000,1)" font-size="27.79" font-weight="bold" stroke="#111" stroke-width="0.45" fill="#111">20</text>
<text transform="translate(1267.22,1288.99) scale(0.9000,1)" font-size="28.29" font-weight="bold" stroke="#111" stroke-width="0.45" fill="#111">15</text>
<text transform="translate(1268.01,1359.28) scale(0.9000,1)" font-size="27.79" font-weight="bold" stroke="#111" stroke-width="0.45" fill="#111">10</text>
<text transform="translate(1281.38,1429.85) scale(0.9000,1)" font-size="28.29" font-weight="bold" stroke="#111" stroke-width="0.45" fill="#111">5</text>
<text transform="translate(1281.93,1500.42) scale(0.9000,1)" font-size="27.79" font-weight="bold" stroke="#111" stroke-width="0.45" fill="#111">0</text>
<text transform="translate(1251.03,1395.86) rotate(-90) scale(1.0713,1)" font-size="29.29" font-weight="bold" stroke="#111" stroke-width="0.45" fill="#111" >Bout #</text>
<text transform="translate(1341.54,1268.26) scale(0.9986,1)" font-size="27.09" stroke="#111" stroke-width="0.25" fill="#111" >ns</text>
<line x1="1336.60" y1="1278.60" x2="1379.40" y2="1278.60" stroke="#111" stroke-width="1.40" />
<rect x="1501.60" y="1209.00" width="102.10" height="281.60" fill="#fce3d5" />
<rect x="1515.71" y="1392.86" width="30.00" height="97.74" fill="#fff" stroke="#1a1a1a" stroke-width="1.50" />
<rect x="1561.43" y="1417.71" width="30.00" height="72.89" fill="#fff" stroke="#1a1a1a" stroke-width="1.50" />
<line x1="1501.60" y1="1207.90" x2="1501.60" y2="1491.70" stroke="#111" stroke-width="2.20" />
<line x1="1493.00" y1="1490.60" x2="1607.70" y2="1490.60" stroke="#111" stroke-width="2.20" />
<line x1="1493.00" y1="1209.43" x2="1501.60" y2="1209.43" stroke="#111" stroke-width="2.20" />
<line x1="1493.00" y1="1279.14" x2="1501.60" y2="1279.14" stroke="#111" stroke-width="2.20" />
<line x1="1493.00" y1="1349.43" x2="1501.60" y2="1349.43" stroke="#111" stroke-width="2.20" />
<line x1="1493.00" y1="1420.00" x2="1501.60" y2="1420.00" stroke="#111" stroke-width="2.20" />
<line x1="1493.00" y1="1490.57" x2="1501.60" y2="1490.57" stroke="#111" stroke-width="2.20" />
<circle cx="1530.86" cy="1350.00" r="5.20" fill="#fff" stroke="#1a1a1a" stroke-width="1.45" />
<circle cx="1530.86" cy="1364.29" r="5.20" fill="#fff" stroke="#1a1a1a" stroke-width="1.45" />
<circle cx="1530.86" cy="1378.57" r="5.20" fill="#fff" stroke="#1a1a1a" stroke-width="1.45" />
<circle cx="1530.86" cy="1394.29" r="5.20" fill="#fff" stroke="#1a1a1a" stroke-width="1.45" />
<circle cx="1521.43" cy="1405.71" r="5.20" fill="#fff" stroke="#1a1a1a" stroke-width="1.45" />
<circle cx="1540.00" cy="1405.71" r="5.20" fill="#fff" stroke="#1a1a1a" stroke-width="1.45" />
<circle cx="1530.86" cy="1405.71" r="5.20" fill="#fff" stroke="#1a1a1a" stroke-width="1.45" />
<circle cx="1530.86" cy="1435.71" r="5.20" fill="#fff" stroke="#1a1a1a" stroke-width="1.45" />
<polygon points="1576.29,1387.37 1571.29,1397.17 1581.29,1397.17" fill="#f0704c" stroke="#1a1a1a" stroke-width="1.15" stroke-linejoin="miter"/>
<polygon points="1566.29,1400.23 1561.29,1410.03 1571.29,1410.03" fill="#f0704c" stroke="#1a1a1a" stroke-width="1.15" stroke-linejoin="miter"/>
<polygon points="1576.29,1400.23 1571.29,1410.03 1581.29,1410.03" fill="#f0704c" stroke="#1a1a1a" stroke-width="1.15" stroke-linejoin="miter"/>
<polygon points="1586.29,1400.23 1581.29,1410.03 1591.29,1410.03" fill="#f0704c" stroke="#1a1a1a" stroke-width="1.15" stroke-linejoin="miter"/>
<polygon points="1571.43,1415.94 1566.43,1425.74 1576.43,1425.74" fill="#f0704c" stroke="#1a1a1a" stroke-width="1.15" stroke-linejoin="miter"/>
<polygon points="1581.43,1415.94 1576.43,1425.74 1586.43,1425.74" fill="#f0704c" stroke="#1a1a1a" stroke-width="1.15" stroke-linejoin="miter"/>
<polygon points="1576.29,1430.23 1571.29,1440.03 1581.29,1440.03" fill="#f0704c" stroke="#1a1a1a" stroke-width="1.15" stroke-linejoin="miter"/>
<polygon points="1576.29,1444.51 1571.29,1454.31 1581.29,1454.31" fill="#f0704c" stroke="#1a1a1a" stroke-width="1.15" stroke-linejoin="miter"/>
<line x1="1530.86" y1="1382.86" x2="1530.86" y2="1401.43" stroke="#1a1a1a" stroke-width="2.20" /><line x1="1522.86" y1="1382.86" x2="1538.86" y2="1382.86" stroke="#1a1a1a" stroke-width="2.20" /><line x1="1522.86" y1="1401.43" x2="1538.86" y2="1401.43" stroke="#1a1a1a" stroke-width="2.20" />
<line x1="1576.29" y1="1411.43" x2="1576.29" y2="1425.14" stroke="#1a1a1a" stroke-width="2.20" /><line x1="1568.29" y1="1411.43" x2="1584.29" y2="1411.43" stroke="#1a1a1a" stroke-width="2.20" /><line x1="1568.29" y1="1425.14" x2="1584.29" y2="1425.14" stroke="#1a1a1a" stroke-width="2.20" />
<text transform="translate(1465.31,1219.28) scale(0.9000,1)" font-size="27.79" font-weight="bold" stroke="#111" stroke-width="0.45" fill="#111">20</text>
<text transform="translate(1464.52,1288.99) scale(0.9000,1)" font-size="28.29" font-weight="bold" stroke="#111" stroke-width="0.45" fill="#111">15</text>
<text transform="translate(1465.31,1359.28) scale(0.9000,1)" font-size="27.79" font-weight="bold" stroke="#111" stroke-width="0.45" fill="#111">10</text>
<text transform="translate(1478.68,1429.85) scale(0.9000,1)" font-size="28.29" font-weight="bold" stroke="#111" stroke-width="0.45" fill="#111">5</text>
<text transform="translate(1479.23,1500.42) scale(0.9000,1)" font-size="27.79" font-weight="bold" stroke="#111" stroke-width="0.45" fill="#111">0</text>
<text transform="translate(1449.64,1395.86) rotate(-90) scale(1.0981,1)" font-size="28.57" font-weight="bold" stroke="#111" stroke-width="0.45" fill="#111" >Bout #</text>
<text transform="translate(1538.14,1299.06) scale(0.9854,1)" font-size="27.45" stroke="#111" stroke-width="0.25" fill="#111" >ns</text>
<line x1="1532.90" y1="1308.60" x2="1575.10" y2="1308.60" stroke="#111" stroke-width="1.40" />
<text transform="translate(1622.65,1168.00) scale(0.9169,1)" font-size="53.21" font-weight="bold" stroke="#111" stroke-width="0.45" fill="#111" >m</text>
<circle cx="1730.00" cy="1160.00" r="5.30" fill="#fff" stroke="#1a1a1a" stroke-width="1.30" />
<polygon points="1730.00,1176.97 1724.60,1187.56 1735.40,1187.56" fill="#f0704c" stroke="#1a1a1a" stroke-width="1.15" stroke-linejoin="miter"/>
<text transform="translate(1758.33,1167.35) scale(1.0101,1)" font-size="20.21" font-weight="bold" stroke="#111" stroke-width="0.45" fill="#111" >eGFP</text>
<text transform="translate(1757.66,1189.23) scale(0.9892,1)" font-size="21.19" font-weight="bold" stroke="#111" stroke-width="0.45" fill="#111" >NpHR 3.0</text>
<rect x="1751.60" y="1205.70" width="129.00" height="284.90" fill="#fce3d5" />
<rect x="1770.00" y="1322.86" width="35.71" height="167.74" fill="#fff" stroke="#1a1a1a" stroke-width="1.50" />
<rect x="1825.14" y="1313.71" width="35.71" height="176.89" fill="#fff" stroke="#1a1a1a" stroke-width="1.50" />
<line x1="1751.60" y1="1204.60" x2="1751.60" y2="1491.70" stroke="#111" stroke-width="2.20" />
<line x1="1743.00" y1="1490.60" x2="1880.60" y2="1490.60" stroke="#111" stroke-width="2.20" />
<line x1="1743.00" y1="1206.57" x2="1751.60" y2="1206.57" stroke="#111" stroke-width="2.20" />
<line x1="1743.00" y1="1277.71" x2="1751.60" y2="1277.71" stroke="#111" stroke-width="2.20" />
<line x1="1743.00" y1="1348.57" x2="1751.60" y2="1348.57" stroke="#111" stroke-width="2.20" />
<line x1="1743.00" y1="1419.43" x2="1751.60" y2="1419.43" stroke="#111" stroke-width="2.20" />
<line x1="1743.00" y1="1490.57" x2="1751.60" y2="1490.57" stroke="#111" stroke-width="2.20" />
<circle cx="1787.71" cy="1256.29" r="5.30" fill="#fff" stroke="#1a1a1a" stroke-width="1.45" />
<circle cx="1787.71" cy="1292.00" r="5.30" fill="#fff" stroke="#1a1a1a" stroke-width="1.45" />
<circle cx="1774.29" cy="1308.00" r="5.30" fill="#fff" stroke="#1a1a1a" stroke-width="1.45" />
<circle cx="1801.43" cy="1308.00" r="5.30" fill="#fff" stroke="#1a1a1a" stroke-width="1.45" />
<circle cx="1787.71" cy="1324.29" r="5.30" fill="#fff" stroke="#1a1a1a" stroke-width="1.45" />
<circle cx="1787.71" cy="1344.29" r="5.30" fill="#fff" stroke="#1a1a1a" stroke-width="1.45" />
<circle cx="1787.71" cy="1361.43" r="5.30" fill="#fff" stroke="#1a1a1a" stroke-width="1.45" />
<circle cx="1787.71" cy="1386.57" r="5.30" fill="#fff" stroke="#1a1a1a" stroke-width="1.45" />
<polygon points="1842.86,1267.26 1837.76,1277.26 1847.96,1277.26" fill="#f0704c" stroke="#1a1a1a" stroke-width="1.15" stroke-linejoin="miter"/>
<polygon points="1857.14,1289.26 1852.04,1299.26 1862.24,1299.26" fill="#f0704c" stroke="#1a1a1a" stroke-width="1.15" stroke-linejoin="miter"/>
<polygon points="1842.86,1295.83 1837.76,1305.83 1847.96,1305.83" fill="#f0704c" stroke="#1a1a1a" stroke-width="1.15" stroke-linejoin="miter"/>
<polygon points="1836.29,1308.69 1831.19,1318.68 1841.39,1318.68" fill="#f0704c" stroke="#1a1a1a" stroke-width="1.15" stroke-linejoin="miter"/>
<polygon points="1850.00,1311.55 1844.90,1321.54 1855.10,1321.54" fill="#f0704c" stroke="#1a1a1a" stroke-width="1.15" stroke-linejoin="miter"/>
<polygon points="1842.86,1325.26 1837.76,1335.26 1847.96,1335.26" fill="#f0704c" stroke="#1a1a1a" stroke-width="1.15" stroke-linejoin="miter"/>
<polygon points="1830.00,1334.97 1824.90,1344.97 1835.10,1344.97" fill="#f0704c" stroke="#1a1a1a" stroke-width="1.15" stroke-linejoin="miter"/>
<polygon points="1856.57,1331.55 1851.47,1341.54 1861.67,1341.54" fill="#f0704c" stroke="#1a1a1a" stroke-width="1.15" stroke-linejoin="miter"/>
<line x1="1787.71" y1="1308.00" x2="1787.71" y2="1337.14" stroke="#1a1a1a" stroke-width="2.20" /><line x1="1779.11" y1="1308.00" x2="1796.31" y2="1308.00" stroke="#1a1a1a" stroke-width="2.20" /><line x1="1779.11" y1="1337.14" x2="1796.31" y2="1337.14" stroke="#1a1a1a" stroke-width="2.20" />
<line x1="1842.86" y1="1305.71" x2="1842.86" y2="1321.43" stroke="#1a1a1a" stroke-width="2.20" /><line x1="1834.26" y1="1305.71" x2="1851.46" y2="1305.71" stroke="#1a1a1a" stroke-width="2.20" /><line x1="1834.26" y1="1321.43" x2="1851.46" y2="1321.43" stroke="#1a1a1a" stroke-width="2.20" />
<text transform="translate(1699.80,1216.42) scale(0.9000,1)" font-size="27.79" font-weight="bold" stroke="#111" stroke-width="0.45" fill="#111">200</text>
<text transform="translate(1699.80,1287.57) scale(0.9000,1)" font-size="27.79" font-weight="bold" stroke="#111" stroke-width="0.45" fill="#111">150</text>
<text transform="translate(1699.80,1358.42) scale(0.9000,1)" font-size="27.79" font-weight="bold" stroke="#111" stroke-width="0.45" fill="#111">100</text>
<text transform="translate(1713.71,1429.28) scale(0.9000,1)" font-size="27.79" font-weight="bold" stroke="#111" stroke-width="0.45" fill="#111">50</text>
<text transform="translate(1727.63,1500.42) scale(0.9000,1)" font-size="27.79" font-weight="bold" stroke="#111" stroke-width="0.45" fill="#111">0</text>
<text transform="translate(1685.26,1504.68) rotate(-90) scale(1.0636,1)" font-size="28.91" font-weight="bold" stroke="#111" stroke-width="0.45" fill="#111" >Total investigation (s)</text>
<text transform="translate(1802.44,1229.67) scale(1.0405,1)" font-size="26.00" stroke="#111" stroke-width="0.25" fill="#111" >ns</text>
<line x1="1794.30" y1="1236.60" x2="1839.40" y2="1236.60" stroke="#111" stroke-width="1.40" />
</svg>
</body></html>
